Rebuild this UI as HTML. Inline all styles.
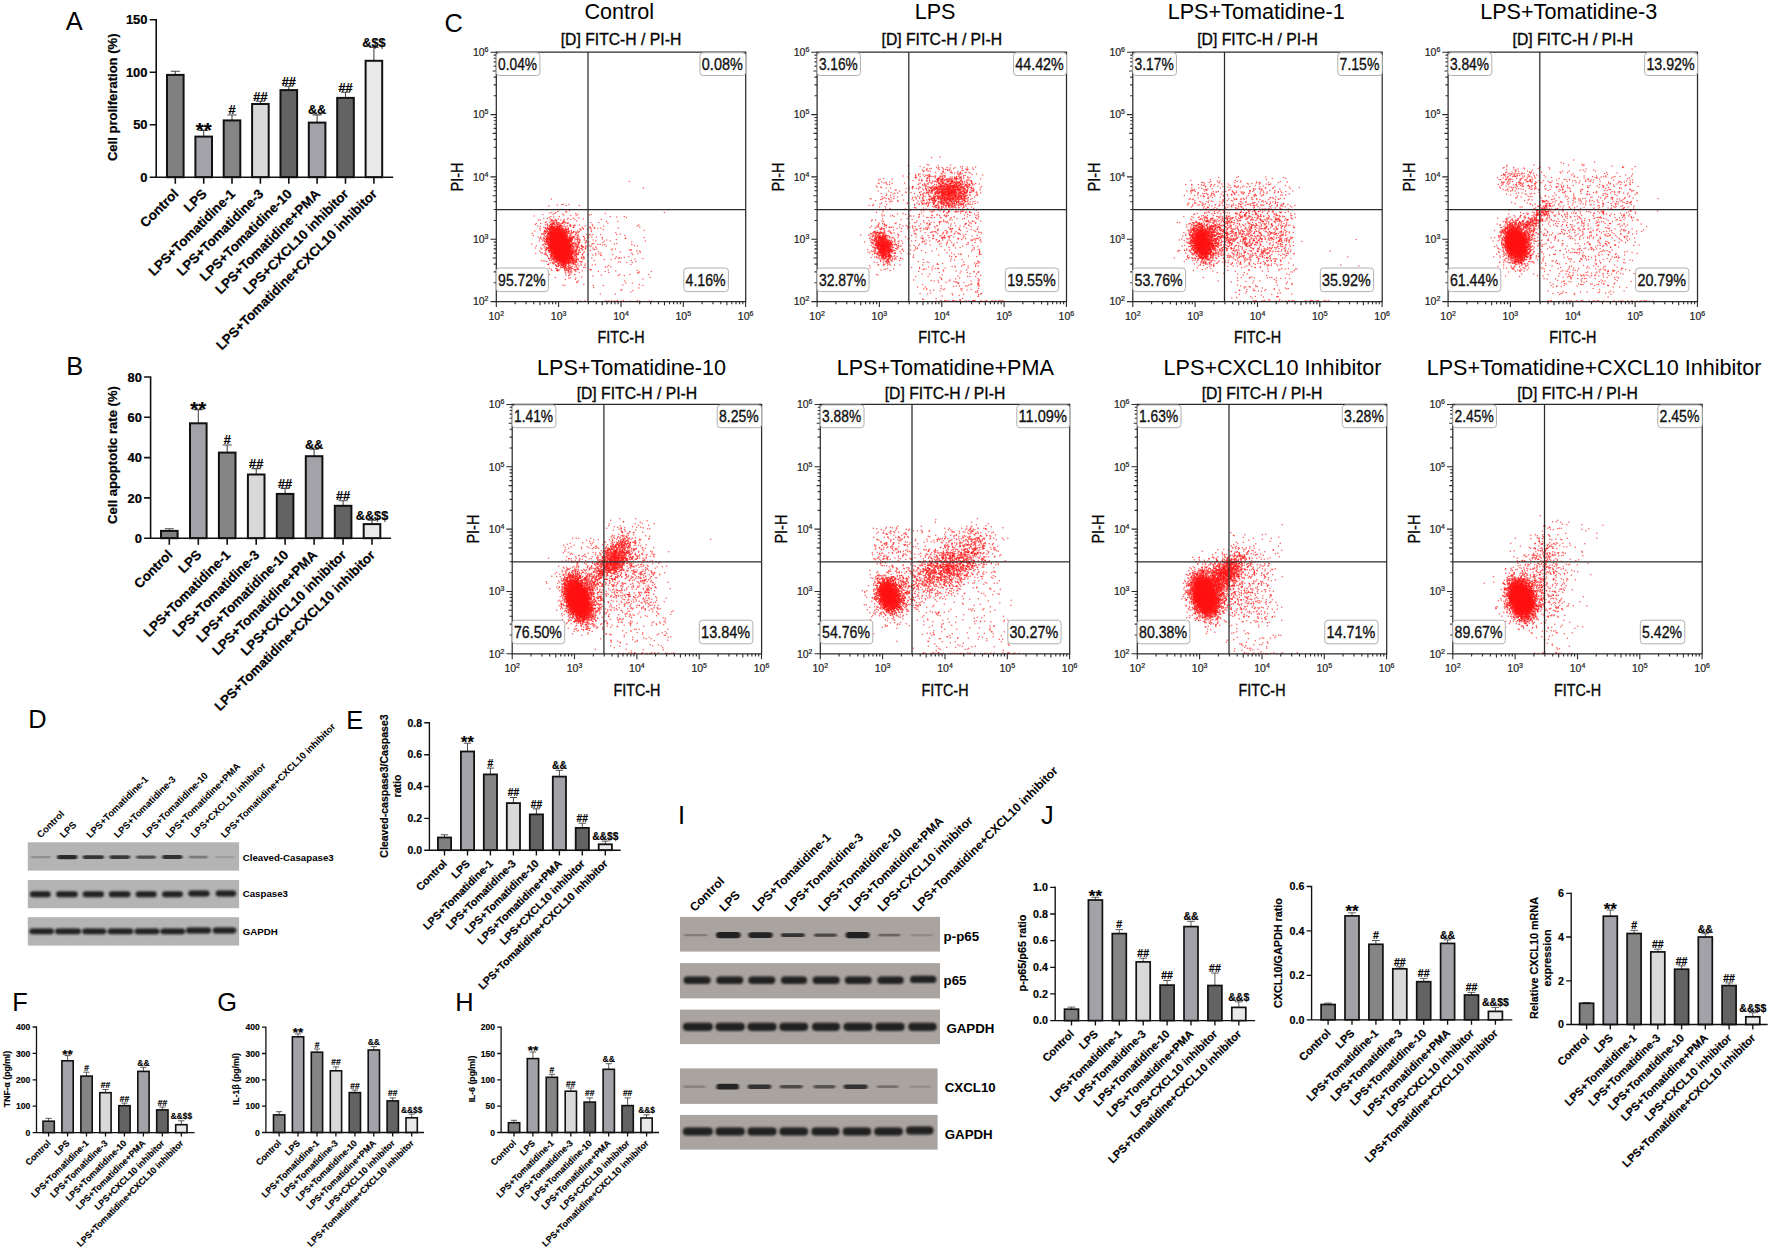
<!DOCTYPE html>
<html><head><meta charset="utf-8"><title>Figure</title>
<style>html,body{margin:0;padding:0;background:#fff}svg{display:block}text{font-family:"Liberation Sans", Arial, Helvetica, sans-serif}.bc text{stroke:#000}</style></head><body>
<svg width="1772" height="1251" viewBox="0 0 1772 1251">
<defs>
<filter id="bl" x="-20%" y="-50%" width="140%" height="200%"><feGaussianBlur stdDeviation="1.1 0.8"/></filter>
<filter id="bl2" x="-20%" y="-80%" width="140%" height="260%"><feGaussianBlur stdDeviation="1.3 0.7"/></filter>
<filter id="core" x="-50%" y="-50%" width="200%" height="200%"><feGaussianBlur stdDeviation="2"/></filter>
<filter id="soft"><feGaussianBlur stdDeviation="0.35"/></filter>
</defs>
<rect width="1772" height="1251" fill="#fff"/>

<text x="65.8" y="30.4" font-size="25.4">A</text>
<text x="66.2" y="375" font-size="25.4">B</text>
<text x="444.6" y="31.8" font-size="25.4">C</text>
<text x="28.3" y="728.4" font-size="25.4">D</text>
<text x="346.3" y="728.5" font-size="25.4">E</text>
<text x="12.2" y="1011.4" font-size="25.4">F</text>
<text x="217.3" y="1011.4" font-size="25.4">G</text>
<text x="455.2" y="1011.4" font-size="25.4">H</text>
<text x="678" y="823.8" font-size="25.4">I</text>
<text x="1041" y="824.2" font-size="25.4">J</text>
<g class="bc" stroke-width="0.22">
<path d="M175.3 74.9V71.3M170.7 71.3H179.9" stroke="#4a4a4a" stroke-width="1.1" fill="none"/>
<rect x="167" y="74.9" width="16.6" height="102.3" fill="#808080" stroke="#111" stroke-width="2"/>
<path d="M203.7 136.6V130.5M199.1 130.5H208.2" stroke="#4a4a4a" stroke-width="1.1" fill="none"/>
<rect x="195.4" y="136.6" width="16.6" height="40.6" fill="#a3a2a8" stroke="#111" stroke-width="2"/>
<text x="203.7" y="136.6" font-size="20.368000000000002" font-weight="bold" text-anchor="middle">**</text>
<path d="M232 120.4V115M227.5 115H236.6" stroke="#4a4a4a" stroke-width="1.1" fill="none"/>
<rect x="223.7" y="120.4" width="16.6" height="56.8" fill="#858585" stroke="#111" stroke-width="2"/>
<text x="232" y="114.3" font-size="12.73" font-weight="bold" text-anchor="middle">#</text>
<path d="M260.4 104V101.2M255.8 101.2H265" stroke="#4a4a4a" stroke-width="1.1" fill="none"/>
<rect x="252.1" y="104" width="16.6" height="73.2" fill="#d9d9d9" stroke="#111" stroke-width="2"/>
<text x="260.4" y="100.5" font-size="12.73" font-weight="bold" text-anchor="middle">##</text>
<path d="M288.8 90.1V86.3M284.2 86.3H293.3" stroke="#4a4a4a" stroke-width="1.1" fill="none"/>
<rect x="280.5" y="90.1" width="16.6" height="87.1" fill="#636363" stroke="#111" stroke-width="2"/>
<text x="288.8" y="85.6" font-size="12.73" font-weight="bold" text-anchor="middle">##</text>
<path d="M317.1 122.6V114.9M312.6 114.9H321.7" stroke="#4a4a4a" stroke-width="1.1" fill="none"/>
<rect x="308.8" y="122.6" width="16.6" height="54.6" fill="#a3a2a8" stroke="#111" stroke-width="2"/>
<text x="317.1" y="114.2" font-size="12.73" font-weight="bold" text-anchor="middle">&amp;&amp;</text>
<path d="M345.5 97.9V92.2M341 92.2H350.1" stroke="#4a4a4a" stroke-width="1.1" fill="none"/>
<rect x="337.2" y="97.9" width="16.6" height="79.3" fill="#636363" stroke="#111" stroke-width="2"/>
<text x="345.5" y="91.5" font-size="12.73" font-weight="bold" text-anchor="middle">##</text>
<path d="M373.9 60.8V47.4M369.3 47.4H378.5" stroke="#4a4a4a" stroke-width="1.1" fill="none"/>
<rect x="365.6" y="60.8" width="16.6" height="116.4" fill="#e9e9e9" stroke="#111" stroke-width="2"/>
<text x="373.9" y="46.7" font-size="12.73" font-weight="bold" text-anchor="middle">&amp;$$</text>
<path d="M156.2 19V177.2M149.7 177.2H393.2M149.7 124.7H156.2M149.7 72.3H156.2M149.7 19.8H156.2M175.3 177.2v6.5M203.7 177.2v6.5M232 177.2v6.5M260.4 177.2v6.5M288.8 177.2v6.5M317.1 177.2v6.5M345.5 177.2v6.5M373.9 177.2v6.5" stroke="#111" stroke-width="1.6" fill="none"/>
<text x="147.5" y="181.8" font-size="12.931" font-weight="bold" text-anchor="end">0</text>
<text x="147.5" y="129.4" font-size="12.931" font-weight="bold" text-anchor="end">50</text>
<text x="147.5" y="76.9" font-size="12.931" font-weight="bold" text-anchor="end">100</text>
<text x="147.5" y="24.4" font-size="12.931" font-weight="bold" text-anchor="end">150</text>
<text x="117" y="97.3" font-size="13.065" font-weight="bold" text-anchor="middle" transform="rotate(-90 117 97.3)">Cell proliferation (%)</text>
<text x="179.3" y="194.7" font-size="13.4" font-weight="bold" text-anchor="end" transform="rotate(-45 179.3 194.7)">Control</text>
<text x="207.7" y="194.7" font-size="13.4" font-weight="bold" text-anchor="end" transform="rotate(-45 207.7 194.7)">LPS</text>
<text x="236.1" y="194.7" font-size="13.4" font-weight="bold" text-anchor="end" transform="rotate(-45 236.1 194.7)">LPS+Tomatidine-1</text>
<text x="264.4" y="194.7" font-size="13.4" font-weight="bold" text-anchor="end" transform="rotate(-45 264.4 194.7)">LPS+Tomatidine-3</text>
<text x="292.8" y="194.7" font-size="13.4" font-weight="bold" text-anchor="end" transform="rotate(-45 292.8 194.7)">LPS+Tomatidine-10</text>
<text x="321.2" y="194.7" font-size="13.4" font-weight="bold" text-anchor="end" transform="rotate(-45 321.2 194.7)">LPS+Tomatidine+PMA</text>
<text x="349.5" y="194.7" font-size="13.4" font-weight="bold" text-anchor="end" transform="rotate(-45 349.5 194.7)">LPS+CXCL10 inhibitor</text>
<text x="377.9" y="194.7" font-size="13.4" font-weight="bold" text-anchor="end" transform="rotate(-45 377.9 194.7)">LPS+Tomatidine+CXCL10 inhibitor</text>
</g>
<g class="bc" stroke-width="0.22">
<path d="M169.3 530.9V528.7M164.7 528.7H173.9" stroke="#4a4a4a" stroke-width="1.1" fill="none"/>
<rect x="161" y="530.9" width="16.6" height="7.3" fill="#808080" stroke="#111" stroke-width="2"/>
<path d="M198.3 423.3V409.6M193.7 409.6H202.8" stroke="#4a4a4a" stroke-width="1.1" fill="none"/>
<rect x="190" y="423.3" width="16.6" height="114.9" fill="#a3a2a8" stroke="#111" stroke-width="2"/>
<text x="198.3" y="415.7" font-size="20.368000000000002" font-weight="bold" text-anchor="middle">**</text>
<path d="M227.2 452.6V445M222.7 445H231.8" stroke="#4a4a4a" stroke-width="1.1" fill="none"/>
<rect x="218.9" y="452.6" width="16.6" height="85.6" fill="#858585" stroke="#111" stroke-width="2"/>
<text x="227.2" y="444.3" font-size="12.73" font-weight="bold" text-anchor="middle">#</text>
<path d="M256.2 474.5V468.6M251.6 468.6H260.7" stroke="#4a4a4a" stroke-width="1.1" fill="none"/>
<rect x="247.9" y="474.5" width="16.6" height="63.7" fill="#d9d9d9" stroke="#111" stroke-width="2"/>
<text x="256.2" y="467.9" font-size="12.73" font-weight="bold" text-anchor="middle">##</text>
<path d="M285.1 493.9V488.4M280.6 488.4H289.7" stroke="#4a4a4a" stroke-width="1.1" fill="none"/>
<rect x="276.8" y="493.9" width="16.6" height="44.3" fill="#636363" stroke="#111" stroke-width="2"/>
<text x="285.1" y="487.7" font-size="12.73" font-weight="bold" text-anchor="middle">##</text>
<path d="M314.1 456.2V449.3M309.5 449.3H318.7" stroke="#4a4a4a" stroke-width="1.1" fill="none"/>
<rect x="305.8" y="456.2" width="16.6" height="82" fill="#a3a2a8" stroke="#111" stroke-width="2"/>
<text x="314.1" y="448.6" font-size="12.73" font-weight="bold" text-anchor="middle">&amp;&amp;</text>
<path d="M343.1 505.8V500.8M338.5 500.8H347.6" stroke="#4a4a4a" stroke-width="1.1" fill="none"/>
<rect x="334.8" y="505.8" width="16.6" height="32.4" fill="#636363" stroke="#111" stroke-width="2"/>
<text x="343.1" y="500.1" font-size="12.73" font-weight="bold" text-anchor="middle">##</text>
<path d="M372 524.1V520.2M367.5 520.2H376.6" stroke="#4a4a4a" stroke-width="1.1" fill="none"/>
<rect x="363.7" y="524.1" width="16.6" height="14.1" fill="#e9e9e9" stroke="#111" stroke-width="2"/>
<text x="372" y="519.5" font-size="12.73" font-weight="bold" text-anchor="middle">&amp;&amp;$$</text>
<path d="M150.6 376.2V538.2M144.1 538.2H391M144.1 497.9H150.6M144.1 457.6H150.6M144.1 417.3H150.6M144.1 377H150.6M169.3 538.2v6.5M198.3 538.2v6.5M227.2 538.2v6.5M256.2 538.2v6.5M285.1 538.2v6.5M314.1 538.2v6.5M343.1 538.2v6.5M372 538.2v6.5" stroke="#111" stroke-width="1.6" fill="none"/>
<text x="141.9" y="542.8" font-size="12.931" font-weight="bold" text-anchor="end">0</text>
<text x="141.9" y="502.5" font-size="12.931" font-weight="bold" text-anchor="end">20</text>
<text x="141.9" y="462.2" font-size="12.931" font-weight="bold" text-anchor="end">40</text>
<text x="141.9" y="421.9" font-size="12.931" font-weight="bold" text-anchor="end">60</text>
<text x="141.9" y="381.6" font-size="12.931" font-weight="bold" text-anchor="end">80</text>
<text x="117.3" y="455" font-size="13.065" font-weight="bold" text-anchor="middle" transform="rotate(-90 117.3 455)">Cell apoptotic rate (%)</text>
<text x="173.3" y="555.7" font-size="13.4" font-weight="bold" text-anchor="end" transform="rotate(-45 173.3 555.7)">Control</text>
<text x="202.3" y="555.7" font-size="13.4" font-weight="bold" text-anchor="end" transform="rotate(-45 202.3 555.7)">LPS</text>
<text x="231.2" y="555.7" font-size="13.4" font-weight="bold" text-anchor="end" transform="rotate(-45 231.2 555.7)">LPS+Tomatidine-1</text>
<text x="260.2" y="555.7" font-size="13.4" font-weight="bold" text-anchor="end" transform="rotate(-45 260.2 555.7)">LPS+Tomatidine-3</text>
<text x="289.2" y="555.7" font-size="13.4" font-weight="bold" text-anchor="end" transform="rotate(-45 289.2 555.7)">LPS+Tomatidine-10</text>
<text x="318.1" y="555.7" font-size="13.4" font-weight="bold" text-anchor="end" transform="rotate(-45 318.1 555.7)">LPS+Tomatidine+PMA</text>
<text x="347.1" y="555.7" font-size="13.4" font-weight="bold" text-anchor="end" transform="rotate(-45 347.1 555.7)">LPS+CXCL10 inhibitor</text>
<text x="376" y="555.7" font-size="13.4" font-weight="bold" text-anchor="end" transform="rotate(-45 376 555.7)">LPS+Tomatidine+CXCL10 inhibitor</text>
</g>
<g class="bc" stroke-width="0.18">
<path d="M444.5 837.5V834.8M440.9 834.8H448.1" stroke="#4a4a4a" stroke-width="1" fill="none"/>
<rect x="437.9" y="837.5" width="13.2" height="12.7" fill="#808080" stroke="#111" stroke-width="1.8"/>
<path d="M467.5 751.5V743.2M463.8 743.2H471.1" stroke="#4a4a4a" stroke-width="1" fill="none"/>
<rect x="460.9" y="751.5" width="13.2" height="98.7" fill="#a3a2a8" stroke="#111" stroke-width="1.8"/>
<text x="467.5" y="747.7" font-size="16.416" font-weight="bold" text-anchor="middle">**</text>
<path d="M490.4 774.4V768.1M486.8 768.1H494.1" stroke="#4a4a4a" stroke-width="1" fill="none"/>
<rect x="483.8" y="774.4" width="13.2" height="75.8" fill="#858585" stroke="#111" stroke-width="1.8"/>
<text x="490.4" y="766.9" font-size="10.26" font-weight="bold" text-anchor="middle">#</text>
<path d="M513.4 803.1V797.5M509.8 797.5H517" stroke="#4a4a4a" stroke-width="1" fill="none"/>
<rect x="506.8" y="803.1" width="13.2" height="47.1" fill="#d9d9d9" stroke="#111" stroke-width="1.8"/>
<text x="513.4" y="796.3" font-size="10.26" font-weight="bold" text-anchor="middle">##</text>
<path d="M536.4 814.4V808.8M532.8 808.8H540" stroke="#4a4a4a" stroke-width="1" fill="none"/>
<rect x="529.8" y="814.4" width="13.2" height="35.8" fill="#636363" stroke="#111" stroke-width="1.8"/>
<text x="536.4" y="807.6" font-size="10.26" font-weight="bold" text-anchor="middle">##</text>
<path d="M559.4 776.6V770.3M555.7 770.3H563" stroke="#4a4a4a" stroke-width="1" fill="none"/>
<rect x="552.8" y="776.6" width="13.2" height="73.6" fill="#a3a2a8" stroke="#111" stroke-width="1.8"/>
<text x="559.4" y="769.1" font-size="10.26" font-weight="bold" text-anchor="middle">&amp;&amp;</text>
<path d="M582.3 827.9V823.2M578.7 823.2H585.9" stroke="#4a4a4a" stroke-width="1" fill="none"/>
<rect x="575.7" y="827.9" width="13.2" height="22.3" fill="#636363" stroke="#111" stroke-width="1.8"/>
<text x="582.3" y="822" font-size="10.26" font-weight="bold" text-anchor="middle">##</text>
<path d="M605.3 844.3V841.1M601.7 841.1H608.9" stroke="#4a4a4a" stroke-width="1" fill="none"/>
<rect x="598.7" y="844.3" width="13.2" height="5.9" fill="#e9e9e9" stroke="#111" stroke-width="1.8"/>
<text x="605.3" y="839.9" font-size="10.26" font-weight="bold" text-anchor="middle">&amp;&amp;$$</text>
<path d="M429.4 722.1V850.2M424.2 850.2H620.7M424.2 818.4H429.4M424.2 786.5H429.4M424.2 754.7H429.4M424.2 722.8H429.4M444.5 850.2v5.2M467.5 850.2v5.2M490.4 850.2v5.2M513.4 850.2v5.2M536.4 850.2v5.2M559.4 850.2v5.2M582.3 850.2v5.2M605.3 850.2v5.2" stroke="#111" stroke-width="1.4" fill="none"/>
<text x="422" y="853.9" font-size="10.422" font-weight="bold" text-anchor="end">0.0</text>
<text x="422" y="822.1" font-size="10.422" font-weight="bold" text-anchor="end">0.2</text>
<text x="422" y="790.2" font-size="10.422" font-weight="bold" text-anchor="end">0.4</text>
<text x="422" y="758.4" font-size="10.422" font-weight="bold" text-anchor="end">0.6</text>
<text x="422" y="726.5" font-size="10.422" font-weight="bold" text-anchor="end">0.8</text>
<text x="388" y="786" font-size="10.530000000000001" font-weight="bold" text-anchor="middle" transform="rotate(-90 388 786)">Cleaved-caspase3/Caspase3</text>
<text x="400.5" y="786" font-size="10.530000000000001" font-weight="bold" text-anchor="middle" transform="rotate(-90 400.5 786)">ratio</text>
<text x="447.7" y="864.3" font-size="10.8" font-weight="bold" text-anchor="end" transform="rotate(-45 447.7 864.3)">Control</text>
<text x="470.7" y="864.3" font-size="10.8" font-weight="bold" text-anchor="end" transform="rotate(-45 470.7 864.3)">LPS</text>
<text x="493.7" y="864.3" font-size="10.8" font-weight="bold" text-anchor="end" transform="rotate(-45 493.7 864.3)">LPS+Tomatidine-1</text>
<text x="516.6" y="864.3" font-size="10.8" font-weight="bold" text-anchor="end" transform="rotate(-45 516.6 864.3)">LPS+Tomatidine-3</text>
<text x="539.6" y="864.3" font-size="10.8" font-weight="bold" text-anchor="end" transform="rotate(-45 539.6 864.3)">LPS+Tomatidine-10</text>
<text x="562.6" y="864.3" font-size="10.8" font-weight="bold" text-anchor="end" transform="rotate(-45 562.6 864.3)">LPS+Tomatidine+PMA</text>
<text x="585.6" y="864.3" font-size="10.8" font-weight="bold" text-anchor="end" transform="rotate(-45 585.6 864.3)">LPS+CXCL10 inhibitor</text>
<text x="608.5" y="864.3" font-size="10.8" font-weight="bold" text-anchor="end" transform="rotate(-45 608.5 864.3)">LPS+Tomatidine+CXCL10 inhibitor</text>
</g>
<g class="bc" stroke-width="0.15">
<path d="M48.6 1121.2V1118.4M45.5 1118.4H51.7" stroke="#4a4a4a" stroke-width="0.9" fill="none"/>
<rect x="43" y="1121.2" width="11.3" height="11.4" fill="#808080" stroke="#111" stroke-width="1.6"/>
<path d="M67.6 1060.8V1055.6M64.5 1055.6H70.7" stroke="#4a4a4a" stroke-width="0.9" fill="none"/>
<rect x="61.9" y="1060.8" width="11.3" height="71.8" fill="#a3a2a8" stroke="#111" stroke-width="1.6"/>
<text x="67.6" y="1058.9" font-size="13.528" font-weight="bold" text-anchor="middle">**</text>
<path d="M86.5 1076.1V1072.2M83.4 1072.2H89.6" stroke="#4a4a4a" stroke-width="0.9" fill="none"/>
<rect x="80.9" y="1076.1" width="11.3" height="56.5" fill="#858585" stroke="#111" stroke-width="1.6"/>
<text x="86.5" y="1070.7" font-size="8.455" font-weight="bold" text-anchor="middle">#</text>
<path d="M105.5 1092.7V1089.5M102.4 1089.5H108.6" stroke="#4a4a4a" stroke-width="0.9" fill="none"/>
<rect x="99.8" y="1092.7" width="11.3" height="39.9" fill="#d9d9d9" stroke="#111" stroke-width="1.6"/>
<text x="105.5" y="1088" font-size="8.455" font-weight="bold" text-anchor="middle">##</text>
<path d="M124.4 1105.7V1103.1M121.3 1103.1H127.5" stroke="#4a4a4a" stroke-width="0.9" fill="none"/>
<rect x="118.8" y="1105.7" width="11.3" height="26.9" fill="#636363" stroke="#111" stroke-width="1.6"/>
<text x="124.4" y="1101.6" font-size="8.455" font-weight="bold" text-anchor="middle">##</text>
<path d="M143.4 1071.4V1067.3M140.3 1067.3H146.5" stroke="#4a4a4a" stroke-width="0.9" fill="none"/>
<rect x="137.8" y="1071.4" width="11.3" height="61.2" fill="#a3a2a8" stroke="#111" stroke-width="1.6"/>
<text x="143.4" y="1065.8" font-size="8.455" font-weight="bold" text-anchor="middle">&amp;&amp;</text>
<path d="M162.4 1109.9V1107.1M159.3 1107.1H165.5" stroke="#4a4a4a" stroke-width="0.9" fill="none"/>
<rect x="156.7" y="1109.9" width="11.3" height="22.7" fill="#636363" stroke="#111" stroke-width="1.6"/>
<text x="162.4" y="1105.6" font-size="8.455" font-weight="bold" text-anchor="middle">##</text>
<path d="M181.3 1124.7V1120.8M178.2 1120.8H184.4" stroke="#4a4a4a" stroke-width="0.9" fill="none"/>
<rect x="175.7" y="1124.7" width="11.3" height="7.9" fill="#e9e9e9" stroke="#111" stroke-width="1.6"/>
<text x="181.3" y="1119.3" font-size="8.455" font-weight="bold" text-anchor="middle">&amp;&amp;$$</text>
<path d="M36.5 1026.3V1132.6M32.6 1132.6H194.6M32.6 1106.2H36.5M32.6 1079.8H36.5M32.6 1053.4H36.5M32.6 1027H36.5M48.6 1132.6v3.9M67.6 1132.6v3.9M86.5 1132.6v3.9M105.5 1132.6v3.9M124.4 1132.6v3.9M143.4 1132.6v3.9M162.4 1132.6v3.9M181.3 1132.6v3.9" stroke="#111" stroke-width="1.3" fill="none"/>
<text x="30.4" y="1135.7" font-size="8.5885" font-weight="bold" text-anchor="end">0</text>
<text x="30.4" y="1109.3" font-size="8.5885" font-weight="bold" text-anchor="end">100</text>
<text x="30.4" y="1082.9" font-size="8.5885" font-weight="bold" text-anchor="end">200</text>
<text x="30.4" y="1056.5" font-size="8.5885" font-weight="bold" text-anchor="end">300</text>
<text x="30.4" y="1030.1" font-size="8.5885" font-weight="bold" text-anchor="end">400</text>
<text x="10.1" y="1079" font-size="8.6775" font-weight="bold" text-anchor="middle" transform="rotate(-90 10.1 1079)">TNF-α (pg/ml)</text>
<text x="51.3" y="1143.8" font-size="8.9" font-weight="bold" text-anchor="end" transform="rotate(-45 51.3 1143.8)">Control</text>
<text x="70.2" y="1143.8" font-size="8.9" font-weight="bold" text-anchor="end" transform="rotate(-45 70.2 1143.8)">LPS</text>
<text x="89.2" y="1143.8" font-size="8.9" font-weight="bold" text-anchor="end" transform="rotate(-45 89.2 1143.8)">LPS+Tomatidine-1</text>
<text x="108.2" y="1143.8" font-size="8.9" font-weight="bold" text-anchor="end" transform="rotate(-45 108.2 1143.8)">LPS+Tomatidine-3</text>
<text x="127.1" y="1143.8" font-size="8.9" font-weight="bold" text-anchor="end" transform="rotate(-45 127.1 1143.8)">LPS+Tomatidine-10</text>
<text x="146.1" y="1143.8" font-size="8.9" font-weight="bold" text-anchor="end" transform="rotate(-45 146.1 1143.8)">LPS+Tomatidine+PMA</text>
<text x="165" y="1143.8" font-size="8.9" font-weight="bold" text-anchor="end" transform="rotate(-45 165 1143.8)">LPS+CXCL10 inhibitor</text>
<text x="184" y="1143.8" font-size="8.9" font-weight="bold" text-anchor="end" transform="rotate(-45 184 1143.8)">LPS+Tomatidine+CXCL10 inhibitor</text>
</g>
<g class="bc" stroke-width="0.15">
<path d="M279.1 1114.9V1111.7M276 1111.7H282.2" stroke="#4a4a4a" stroke-width="0.9" fill="none"/>
<rect x="273.5" y="1114.9" width="11.3" height="17.6" fill="#808080" stroke="#111" stroke-width="1.6"/>
<path d="M298 1036.8V1033.9M294.9 1033.9H301.1" stroke="#4a4a4a" stroke-width="0.9" fill="none"/>
<rect x="292.4" y="1036.8" width="11.3" height="95.7" fill="#a3a2a8" stroke="#111" stroke-width="1.6"/>
<text x="298" y="1037.2" font-size="13.528" font-weight="bold" text-anchor="middle">**</text>
<path d="M317 1052.2V1049M313.9 1049H320.1" stroke="#4a4a4a" stroke-width="0.9" fill="none"/>
<rect x="311.3" y="1052.2" width="11.3" height="80.3" fill="#858585" stroke="#111" stroke-width="1.6"/>
<text x="317" y="1047.5" font-size="8.455" font-weight="bold" text-anchor="middle">#</text>
<path d="M335.9 1070.8V1066.9M332.8 1066.9H339" stroke="#4a4a4a" stroke-width="0.9" fill="none"/>
<rect x="330.3" y="1070.8" width="11.3" height="61.7" fill="#d9d9d9" stroke="#111" stroke-width="1.6"/>
<text x="335.9" y="1065.4" font-size="8.455" font-weight="bold" text-anchor="middle">##</text>
<path d="M354.9 1092.6V1090M351.8 1090H358" stroke="#4a4a4a" stroke-width="0.9" fill="none"/>
<rect x="349.2" y="1092.6" width="11.3" height="39.9" fill="#636363" stroke="#111" stroke-width="1.6"/>
<text x="354.9" y="1088.5" font-size="8.455" font-weight="bold" text-anchor="middle">##</text>
<path d="M373.8 1050V1046.6M370.7 1046.6H376.9" stroke="#4a4a4a" stroke-width="0.9" fill="none"/>
<rect x="368.2" y="1050" width="11.3" height="82.5" fill="#a3a2a8" stroke="#111" stroke-width="1.6"/>
<text x="373.8" y="1045.1" font-size="8.455" font-weight="bold" text-anchor="middle">&amp;&amp;</text>
<path d="M392.7 1100.9V1097.9M389.6 1097.9H395.8" stroke="#4a4a4a" stroke-width="0.9" fill="none"/>
<rect x="387.1" y="1100.9" width="11.3" height="31.6" fill="#636363" stroke="#111" stroke-width="1.6"/>
<text x="392.7" y="1096.4" font-size="8.455" font-weight="bold" text-anchor="middle">##</text>
<path d="M411.7 1117.8V1114.1M408.6 1114.1H414.8" stroke="#4a4a4a" stroke-width="0.9" fill="none"/>
<rect x="406" y="1117.8" width="11.3" height="14.7" fill="#e9e9e9" stroke="#111" stroke-width="1.6"/>
<text x="411.7" y="1112.6" font-size="8.455" font-weight="bold" text-anchor="middle">&amp;&amp;$$</text>
<path d="M265.9 1026.5V1132.5M262 1132.5H424.1M262 1106.2H265.9M262 1079.8H265.9M262 1053.5H265.9M262 1027.2H265.9M279.1 1132.5v3.9M298 1132.5v3.9M317 1132.5v3.9M335.9 1132.5v3.9M354.9 1132.5v3.9M373.8 1132.5v3.9M392.7 1132.5v3.9M411.7 1132.5v3.9" stroke="#111" stroke-width="1.3" fill="none"/>
<text x="259.8" y="1135.6" font-size="8.5885" font-weight="bold" text-anchor="end">0</text>
<text x="259.8" y="1109.2" font-size="8.5885" font-weight="bold" text-anchor="end">100</text>
<text x="259.8" y="1082.9" font-size="8.5885" font-weight="bold" text-anchor="end">200</text>
<text x="259.8" y="1056.6" font-size="8.5885" font-weight="bold" text-anchor="end">300</text>
<text x="259.8" y="1030.3" font-size="8.5885" font-weight="bold" text-anchor="end">400</text>
<text x="239.3" y="1079" font-size="8.6775" font-weight="bold" text-anchor="middle" transform="rotate(-90 239.3 1079)">IL-1β (pg/ml)</text>
<text x="281.8" y="1143.7" font-size="8.9" font-weight="bold" text-anchor="end" transform="rotate(-45 281.8 1143.7)">Control</text>
<text x="300.7" y="1143.7" font-size="8.9" font-weight="bold" text-anchor="end" transform="rotate(-45 300.7 1143.7)">LPS</text>
<text x="319.7" y="1143.7" font-size="8.9" font-weight="bold" text-anchor="end" transform="rotate(-45 319.7 1143.7)">LPS+Tomatidine-1</text>
<text x="338.6" y="1143.7" font-size="8.9" font-weight="bold" text-anchor="end" transform="rotate(-45 338.6 1143.7)">LPS+Tomatidine-3</text>
<text x="357.5" y="1143.7" font-size="8.9" font-weight="bold" text-anchor="end" transform="rotate(-45 357.5 1143.7)">LPS+Tomatidine-10</text>
<text x="376.5" y="1143.7" font-size="8.9" font-weight="bold" text-anchor="end" transform="rotate(-45 376.5 1143.7)">LPS+Tomatidine+PMA</text>
<text x="395.4" y="1143.7" font-size="8.9" font-weight="bold" text-anchor="end" transform="rotate(-45 395.4 1143.7)">LPS+CXCL10 inhibitor</text>
<text x="414.4" y="1143.7" font-size="8.9" font-weight="bold" text-anchor="end" transform="rotate(-45 414.4 1143.7)">LPS+Tomatidine+CXCL10 inhibitor</text>
</g>
<g class="bc" stroke-width="0.15">
<path d="M514 1122.7V1120.3M510.9 1120.3H517.1" stroke="#4a4a4a" stroke-width="0.9" fill="none"/>
<rect x="508.4" y="1122.7" width="11.3" height="9.8" fill="#808080" stroke="#111" stroke-width="1.6"/>
<path d="M532.9 1058.6V1052M529.8 1052H536" stroke="#4a4a4a" stroke-width="0.9" fill="none"/>
<rect x="527.3" y="1058.6" width="11.3" height="73.9" fill="#a3a2a8" stroke="#111" stroke-width="1.6"/>
<text x="532.9" y="1055.3" font-size="13.528" font-weight="bold" text-anchor="middle">**</text>
<path d="M551.9 1077.3V1074.3M548.8 1074.3H555" stroke="#4a4a4a" stroke-width="0.9" fill="none"/>
<rect x="546.2" y="1077.3" width="11.3" height="55.2" fill="#858585" stroke="#111" stroke-width="1.6"/>
<text x="551.9" y="1072.8" font-size="8.455" font-weight="bold" text-anchor="middle">#</text>
<path d="M570.8 1091.2V1088M567.7 1088H573.9" stroke="#4a4a4a" stroke-width="0.9" fill="none"/>
<rect x="565.2" y="1091.2" width="11.3" height="41.3" fill="#d9d9d9" stroke="#111" stroke-width="1.6"/>
<text x="570.8" y="1086.5" font-size="8.455" font-weight="bold" text-anchor="middle">##</text>
<path d="M589.8 1102.1V1097.9M586.7 1097.9H592.9" stroke="#4a4a4a" stroke-width="0.9" fill="none"/>
<rect x="584.1" y="1102.1" width="11.3" height="30.4" fill="#636363" stroke="#111" stroke-width="1.6"/>
<text x="589.8" y="1096.4" font-size="8.455" font-weight="bold" text-anchor="middle">##</text>
<path d="M608.7 1069.3V1063.7M605.6 1063.7H611.8" stroke="#4a4a4a" stroke-width="0.9" fill="none"/>
<rect x="603.1" y="1069.3" width="11.3" height="63.2" fill="#a3a2a8" stroke="#111" stroke-width="1.6"/>
<text x="608.7" y="1062.2" font-size="8.455" font-weight="bold" text-anchor="middle">&amp;&amp;</text>
<path d="M627.6 1105.6V1097.9M624.5 1097.9H630.7" stroke="#4a4a4a" stroke-width="0.9" fill="none"/>
<rect x="622" y="1105.6" width="11.3" height="26.9" fill="#636363" stroke="#111" stroke-width="1.6"/>
<text x="627.6" y="1096.4" font-size="8.455" font-weight="bold" text-anchor="middle">##</text>
<path d="M646.6 1118V1114.8M643.5 1114.8H649.7" stroke="#4a4a4a" stroke-width="0.9" fill="none"/>
<rect x="640.9" y="1118" width="11.3" height="14.5" fill="#e9e9e9" stroke="#111" stroke-width="1.6"/>
<text x="646.6" y="1113.3" font-size="8.455" font-weight="bold" text-anchor="middle">&amp;&amp;$</text>
<path d="M501.1 1026.5V1132.5M497.2 1132.5H659M497.2 1106.2H501.1M497.2 1079.8H501.1M497.2 1053.5H501.1M497.2 1027.2H501.1M514 1132.5v3.9M532.9 1132.5v3.9M551.9 1132.5v3.9M570.8 1132.5v3.9M589.8 1132.5v3.9M608.7 1132.5v3.9M627.6 1132.5v3.9M646.6 1132.5v3.9" stroke="#111" stroke-width="1.3" fill="none"/>
<text x="495" y="1135.6" font-size="8.5885" font-weight="bold" text-anchor="end">0</text>
<text x="495" y="1109.2" font-size="8.5885" font-weight="bold" text-anchor="end">50</text>
<text x="495" y="1082.9" font-size="8.5885" font-weight="bold" text-anchor="end">100</text>
<text x="495" y="1056.6" font-size="8.5885" font-weight="bold" text-anchor="end">150</text>
<text x="495" y="1030.3" font-size="8.5885" font-weight="bold" text-anchor="end">200</text>
<text x="474.8" y="1079" font-size="8.6775" font-weight="bold" text-anchor="middle" transform="rotate(-90 474.8 1079)">IL-6 (pg/ml)</text>
<text x="516.7" y="1143.7" font-size="8.9" font-weight="bold" text-anchor="end" transform="rotate(-45 516.7 1143.7)">Control</text>
<text x="535.6" y="1143.7" font-size="8.9" font-weight="bold" text-anchor="end" transform="rotate(-45 535.6 1143.7)">LPS</text>
<text x="554.5" y="1143.7" font-size="8.9" font-weight="bold" text-anchor="end" transform="rotate(-45 554.5 1143.7)">LPS+Tomatidine-1</text>
<text x="573.5" y="1143.7" font-size="8.9" font-weight="bold" text-anchor="end" transform="rotate(-45 573.5 1143.7)">LPS+Tomatidine-3</text>
<text x="592.4" y="1143.7" font-size="8.9" font-weight="bold" text-anchor="end" transform="rotate(-45 592.4 1143.7)">LPS+Tomatidine-10</text>
<text x="611.4" y="1143.7" font-size="8.9" font-weight="bold" text-anchor="end" transform="rotate(-45 611.4 1143.7)">LPS+Tomatidine+PMA</text>
<text x="630.3" y="1143.7" font-size="8.9" font-weight="bold" text-anchor="end" transform="rotate(-45 630.3 1143.7)">LPS+CXCL10 inhibitor</text>
<text x="649.2" y="1143.7" font-size="8.9" font-weight="bold" text-anchor="end" transform="rotate(-45 649.2 1143.7)">LPS+Tomatidine+CXCL10 inhibitor</text>
</g>
<g class="bc" stroke-width="0.18">
<path d="M1071.5 1009.2V1007.1M1067.7 1007.1H1075.3" stroke="#4a4a4a" stroke-width="0.9" fill="none"/>
<rect x="1064.5" y="1009.2" width="14" height="11.4" fill="#808080" stroke="#111" stroke-width="1.7"/>
<path d="M1095.4 900V897.3M1091.6 897.3H1099.2" stroke="#4a4a4a" stroke-width="0.9" fill="none"/>
<rect x="1088.4" y="900" width="14" height="120.6" fill="#a3a2a8" stroke="#111" stroke-width="1.7"/>
<text x="1095.4" y="901.9" font-size="16.872" font-weight="bold" text-anchor="middle">**</text>
<path d="M1119.3 933.6V929.6M1115.5 929.6H1123.1" stroke="#4a4a4a" stroke-width="0.9" fill="none"/>
<rect x="1112.3" y="933.6" width="14" height="87" fill="#858585" stroke="#111" stroke-width="1.7"/>
<text x="1119.3" y="928.4" font-size="10.545" font-weight="bold" text-anchor="middle">#</text>
<path d="M1143.2 961.9V958.2M1139.4 958.2H1147" stroke="#4a4a4a" stroke-width="0.9" fill="none"/>
<rect x="1136.2" y="961.9" width="14" height="58.7" fill="#d9d9d9" stroke="#111" stroke-width="1.7"/>
<text x="1143.2" y="957" font-size="10.545" font-weight="bold" text-anchor="middle">##</text>
<path d="M1167.1 985.1V980.5M1163.2 980.5H1170.9" stroke="#4a4a4a" stroke-width="0.9" fill="none"/>
<rect x="1160.1" y="985.1" width="14" height="35.5" fill="#636363" stroke="#111" stroke-width="1.7"/>
<text x="1167.1" y="979.3" font-size="10.545" font-weight="bold" text-anchor="middle">##</text>
<path d="M1191 926.6V921.3M1187.2 921.3H1194.8" stroke="#4a4a4a" stroke-width="0.9" fill="none"/>
<rect x="1184" y="926.6" width="14" height="94" fill="#a3a2a8" stroke="#111" stroke-width="1.7"/>
<text x="1191" y="920.1" font-size="10.545" font-weight="bold" text-anchor="middle">&amp;&amp;</text>
<path d="M1214.9 985.5V973M1211.1 973H1218.8" stroke="#4a4a4a" stroke-width="0.9" fill="none"/>
<rect x="1207.9" y="985.5" width="14" height="35.1" fill="#636363" stroke="#111" stroke-width="1.7"/>
<text x="1214.9" y="971.8" font-size="10.545" font-weight="bold" text-anchor="middle">##</text>
<path d="M1238.8 1007.4V1001.8M1235 1001.8H1242.6" stroke="#4a4a4a" stroke-width="0.9" fill="none"/>
<rect x="1231.8" y="1007.4" width="14" height="13.2" fill="#e9e9e9" stroke="#111" stroke-width="1.7"/>
<text x="1238.8" y="1000.6" font-size="10.545" font-weight="bold" text-anchor="middle">&amp;&amp;$</text>
<path d="M1055.2 886.6V1020.6M1050.2 1020.6H1255.1M1050.2 993.9H1055.2M1050.2 967.3H1055.2M1050.2 940.6H1055.2M1050.2 914H1055.2M1050.2 887.3H1055.2M1071.5 1020.6v5M1095.4 1020.6v5M1119.3 1020.6v5M1143.2 1020.6v5M1167.1 1020.6v5M1191 1020.6v5M1214.9 1020.6v5M1238.8 1020.6v5" stroke="#111" stroke-width="1.35" fill="none"/>
<text x="1048" y="1024.4" font-size="10.7115" font-weight="bold" text-anchor="end">0.0</text>
<text x="1048" y="997.8" font-size="10.7115" font-weight="bold" text-anchor="end">0.2</text>
<text x="1048" y="971.1" font-size="10.7115" font-weight="bold" text-anchor="end">0.4</text>
<text x="1048" y="944.4" font-size="10.7115" font-weight="bold" text-anchor="end">0.6</text>
<text x="1048" y="917.8" font-size="10.7115" font-weight="bold" text-anchor="end">0.8</text>
<text x="1048" y="891.1" font-size="10.7115" font-weight="bold" text-anchor="end">1.0</text>
<text x="1026" y="953" font-size="10.8225" font-weight="bold" text-anchor="middle" transform="rotate(-90 1026 953)">p-p65/p65 ratio</text>
<text x="1074.8" y="1034.7" font-size="11.1" font-weight="bold" text-anchor="end" transform="rotate(-45 1074.8 1034.7)">Control</text>
<text x="1098.7" y="1034.7" font-size="11.1" font-weight="bold" text-anchor="end" transform="rotate(-45 1098.7 1034.7)">LPS</text>
<text x="1122.6" y="1034.7" font-size="11.1" font-weight="bold" text-anchor="end" transform="rotate(-45 1122.6 1034.7)">LPS+Tomatidine-1</text>
<text x="1146.5" y="1034.7" font-size="11.1" font-weight="bold" text-anchor="end" transform="rotate(-45 1146.5 1034.7)">LPS+Tomatidine-3</text>
<text x="1170.4" y="1034.7" font-size="11.1" font-weight="bold" text-anchor="end" transform="rotate(-45 1170.4 1034.7)">LPS+Tomatidine-10</text>
<text x="1194.3" y="1034.7" font-size="11.1" font-weight="bold" text-anchor="end" transform="rotate(-45 1194.3 1034.7)">LPS+Tomatidine+PMA</text>
<text x="1218.2" y="1034.7" font-size="11.1" font-weight="bold" text-anchor="end" transform="rotate(-45 1218.2 1034.7)">LPS+CXCL10 inhibitor</text>
<text x="1242.1" y="1034.7" font-size="11.1" font-weight="bold" text-anchor="end" transform="rotate(-45 1242.1 1034.7)">LPS+Tomatidine+CXCL10 inhibitor</text>
</g>
<g class="bc" stroke-width="0.18">
<path d="M1328.1 1004.5V1003.1M1324.2 1003.1H1331.9" stroke="#4a4a4a" stroke-width="0.9" fill="none"/>
<rect x="1321.1" y="1004.5" width="14" height="15.3" fill="#808080" stroke="#111" stroke-width="1.7"/>
<path d="M1352 915.9V912.8M1348.2 912.8H1355.8" stroke="#4a4a4a" stroke-width="0.9" fill="none"/>
<rect x="1345" y="915.9" width="14" height="103.9" fill="#a3a2a8" stroke="#111" stroke-width="1.7"/>
<text x="1352" y="917.4" font-size="16.872" font-weight="bold" text-anchor="middle">**</text>
<path d="M1375.9 944.3V940.5M1372 940.5H1379.7" stroke="#4a4a4a" stroke-width="0.9" fill="none"/>
<rect x="1368.9" y="944.3" width="14" height="75.5" fill="#858585" stroke="#111" stroke-width="1.7"/>
<text x="1375.9" y="939.3" font-size="10.545" font-weight="bold" text-anchor="middle">#</text>
<path d="M1399.8 968.8V966.8M1396 966.8H1403.6" stroke="#4a4a4a" stroke-width="0.9" fill="none"/>
<rect x="1392.8" y="968.8" width="14" height="51" fill="#d9d9d9" stroke="#111" stroke-width="1.7"/>
<text x="1399.8" y="965.6" font-size="10.545" font-weight="bold" text-anchor="middle">##</text>
<path d="M1423.7 981.7V978.4M1419.8 978.4H1427.5" stroke="#4a4a4a" stroke-width="0.9" fill="none"/>
<rect x="1416.7" y="981.7" width="14" height="38.1" fill="#636363" stroke="#111" stroke-width="1.7"/>
<text x="1423.7" y="977.2" font-size="10.545" font-weight="bold" text-anchor="middle">##</text>
<path d="M1447.6 943.4V939.9M1443.8 939.9H1451.4" stroke="#4a4a4a" stroke-width="0.9" fill="none"/>
<rect x="1440.6" y="943.4" width="14" height="76.4" fill="#a3a2a8" stroke="#111" stroke-width="1.7"/>
<text x="1447.6" y="938.7" font-size="10.545" font-weight="bold" text-anchor="middle">&amp;&amp;</text>
<path d="M1471.5 995V992.4M1467.7 992.4H1475.3" stroke="#4a4a4a" stroke-width="0.9" fill="none"/>
<rect x="1464.5" y="995" width="14" height="24.8" fill="#636363" stroke="#111" stroke-width="1.7"/>
<text x="1471.5" y="991.2" font-size="10.545" font-weight="bold" text-anchor="middle">##</text>
<path d="M1495.4 1011.4V1007.4M1491.5 1007.4H1499.2" stroke="#4a4a4a" stroke-width="0.9" fill="none"/>
<rect x="1488.4" y="1011.4" width="14" height="8.4" fill="#e9e9e9" stroke="#111" stroke-width="1.7"/>
<text x="1495.4" y="1006.2" font-size="10.545" font-weight="bold" text-anchor="middle">&amp;&amp;$$</text>
<path d="M1311.6 885.8V1019.8M1306.6 1019.8H1512.3M1306.6 975.4H1311.6M1306.6 930.9H1311.6M1306.6 886.5H1311.6M1328.1 1019.8v5M1352 1019.8v5M1375.9 1019.8v5M1399.8 1019.8v5M1423.7 1019.8v5M1447.6 1019.8v5M1471.5 1019.8v5M1495.4 1019.8v5" stroke="#111" stroke-width="1.35" fill="none"/>
<text x="1304.4" y="1023.6" font-size="10.7115" font-weight="bold" text-anchor="end">0.0</text>
<text x="1304.4" y="979.2" font-size="10.7115" font-weight="bold" text-anchor="end">0.2</text>
<text x="1304.4" y="934.7" font-size="10.7115" font-weight="bold" text-anchor="end">0.4</text>
<text x="1304.4" y="890.3" font-size="10.7115" font-weight="bold" text-anchor="end">0.6</text>
<text x="1282.2" y="953" font-size="10.8225" font-weight="bold" text-anchor="middle" transform="rotate(-90 1282.2 953)">CXCL10/GAPDH ratio</text>
<text x="1331.4" y="1033.9" font-size="11.1" font-weight="bold" text-anchor="end" transform="rotate(-45 1331.4 1033.9)">Control</text>
<text x="1355.3" y="1033.9" font-size="11.1" font-weight="bold" text-anchor="end" transform="rotate(-45 1355.3 1033.9)">LPS</text>
<text x="1379.2" y="1033.9" font-size="11.1" font-weight="bold" text-anchor="end" transform="rotate(-45 1379.2 1033.9)">LPS+Tomatidine-1</text>
<text x="1403.1" y="1033.9" font-size="11.1" font-weight="bold" text-anchor="end" transform="rotate(-45 1403.1 1033.9)">LPS+Tomatidine-3</text>
<text x="1427" y="1033.9" font-size="11.1" font-weight="bold" text-anchor="end" transform="rotate(-45 1427 1033.9)">LPS+Tomatidine-10</text>
<text x="1450.9" y="1033.9" font-size="11.1" font-weight="bold" text-anchor="end" transform="rotate(-45 1450.9 1033.9)">LPS+Tomatidine+PMA</text>
<text x="1474.8" y="1033.9" font-size="11.1" font-weight="bold" text-anchor="end" transform="rotate(-45 1474.8 1033.9)">LPS+CXCL10 inhibitor</text>
<text x="1498.7" y="1033.9" font-size="11.1" font-weight="bold" text-anchor="end" transform="rotate(-45 1498.7 1033.9)">LPS+Tomatidine+CXCL10 inhibitor</text>
</g>
<g class="bc" stroke-width="0.18">
<path d="M1586.6 1003.3V1002.5M1582.8 1002.5H1590.4" stroke="#4a4a4a" stroke-width="0.9" fill="none"/>
<rect x="1579.6" y="1003.3" width="14" height="21.2" fill="#808080" stroke="#111" stroke-width="1.7"/>
<path d="M1610.3 916.2V910M1606.5 910H1614.2" stroke="#4a4a4a" stroke-width="0.9" fill="none"/>
<rect x="1603.3" y="916.2" width="14" height="108.3" fill="#a3a2a8" stroke="#111" stroke-width="1.7"/>
<text x="1610.3" y="914.6" font-size="16.872" font-weight="bold" text-anchor="middle">**</text>
<path d="M1634.1 933.5V930.3M1630.2 930.3H1637.9" stroke="#4a4a4a" stroke-width="0.9" fill="none"/>
<rect x="1627.1" y="933.5" width="14" height="91" fill="#858585" stroke="#111" stroke-width="1.7"/>
<text x="1634.1" y="929.1" font-size="10.545" font-weight="bold" text-anchor="middle">#</text>
<path d="M1657.8 951.9V949.2M1654 949.2H1661.7" stroke="#4a4a4a" stroke-width="0.9" fill="none"/>
<rect x="1650.8" y="951.9" width="14" height="72.6" fill="#d9d9d9" stroke="#111" stroke-width="1.7"/>
<text x="1657.8" y="948" font-size="10.545" font-weight="bold" text-anchor="middle">##</text>
<path d="M1681.6 969.2V965.8M1677.8 965.8H1685.4" stroke="#4a4a4a" stroke-width="0.9" fill="none"/>
<rect x="1674.6" y="969.2" width="14" height="55.3" fill="#636363" stroke="#111" stroke-width="1.7"/>
<text x="1681.6" y="964.6" font-size="10.545" font-weight="bold" text-anchor="middle">##</text>
<path d="M1705.3 937V933.7M1701.5 933.7H1709.2" stroke="#4a4a4a" stroke-width="0.9" fill="none"/>
<rect x="1698.3" y="937" width="14" height="87.5" fill="#a3a2a8" stroke="#111" stroke-width="1.7"/>
<text x="1705.3" y="932.5" font-size="10.545" font-weight="bold" text-anchor="middle">&amp;&amp;</text>
<path d="M1729.1 985.6V982.9M1725.2 982.9H1732.9" stroke="#4a4a4a" stroke-width="0.9" fill="none"/>
<rect x="1722.1" y="985.6" width="14" height="38.9" fill="#636363" stroke="#111" stroke-width="1.7"/>
<text x="1729.1" y="981.7" font-size="10.545" font-weight="bold" text-anchor="middle">##</text>
<path d="M1752.8 1016.8V1012.7M1749 1012.7H1756.7" stroke="#4a4a4a" stroke-width="0.9" fill="none"/>
<rect x="1745.8" y="1016.8" width="14" height="7.7" fill="#e9e9e9" stroke="#111" stroke-width="1.7"/>
<text x="1752.8" y="1011.5" font-size="10.545" font-weight="bold" text-anchor="middle">&amp;&amp;$$</text>
<path d="M1571.2 892.6V1024.5M1566.2 1024.5H1767.7M1566.2 980.8H1571.2M1566.2 937H1571.2M1566.2 893.3H1571.2M1586.6 1024.5v5M1610.3 1024.5v5M1634.1 1024.5v5M1657.8 1024.5v5M1681.6 1024.5v5M1705.3 1024.5v5M1729.1 1024.5v5M1752.8 1024.5v5" stroke="#111" stroke-width="1.35" fill="none"/>
<text x="1564" y="1028.3" font-size="10.7115" font-weight="bold" text-anchor="end">0</text>
<text x="1564" y="984.6" font-size="10.7115" font-weight="bold" text-anchor="end">2</text>
<text x="1564" y="940.8" font-size="10.7115" font-weight="bold" text-anchor="end">4</text>
<text x="1564" y="897.1" font-size="10.7115" font-weight="bold" text-anchor="end">6</text>
<text x="1537.8" y="958" font-size="10.8225" font-weight="bold" text-anchor="middle" transform="rotate(-90 1537.8 958)">Relative CXCL10 mRNA</text>
<text x="1550.6" y="958" font-size="10.8225" font-weight="bold" text-anchor="middle" transform="rotate(-90 1550.6 958)">expression</text>
<text x="1589.9" y="1038.6" font-size="11.1" font-weight="bold" text-anchor="end" transform="rotate(-45 1589.9 1038.6)">Control</text>
<text x="1613.7" y="1038.6" font-size="11.1" font-weight="bold" text-anchor="end" transform="rotate(-45 1613.7 1038.6)">LPS</text>
<text x="1637.4" y="1038.6" font-size="11.1" font-weight="bold" text-anchor="end" transform="rotate(-45 1637.4 1038.6)">LPS+Tomatidine-1</text>
<text x="1661.2" y="1038.6" font-size="11.1" font-weight="bold" text-anchor="end" transform="rotate(-45 1661.2 1038.6)">LPS+Tomatidine-3</text>
<text x="1684.9" y="1038.6" font-size="11.1" font-weight="bold" text-anchor="end" transform="rotate(-45 1684.9 1038.6)">LPS+Tomatidine-10</text>
<text x="1708.7" y="1038.6" font-size="11.1" font-weight="bold" text-anchor="end" transform="rotate(-45 1708.7 1038.6)">LPS+Tomatidine+PMA</text>
<text x="1732.4" y="1038.6" font-size="11.1" font-weight="bold" text-anchor="end" transform="rotate(-45 1732.4 1038.6)">LPS+CXCL10 inhibitor</text>
<text x="1756.2" y="1038.6" font-size="11.1" font-weight="bold" text-anchor="end" transform="rotate(-45 1756.2 1038.6)">LPS+Tomatidine+CXCL10 inhibitor</text>
</g>
<text x="619.2" y="18.9" font-size="21.6" text-anchor="middle">Control</text>
<text x="621" y="45.1" font-size="16.2" text-anchor="middle" textLength="120.5" lengthAdjust="spacingAndGlyphs" stroke="#111" stroke-width="0.35">[D] FITC-H / PI-H</text>
<g transform="translate(496.3 301.6)">
<ellipse cx="63.6" cy="-55.5" rx="7" ry="13" fill="#ff0000" opacity="1" transform="rotate(-14 63.6 -55.5)" filter="url(#core)"/>
<g transform="scale(0.5)" stroke="#ff1010" stroke-opacity="0.68" stroke-width="3" stroke-linecap="round" fill="none">
<path d="M71 -115h0m12-36h0m1 22h0m4-34h0m0 13h0m0 7h0m1-13h0m0 58h0m4-15h0m1-10h0m0 71h0m1-96h0m1 9h0m0 8h0m0 24h0m2-8h0m0 17h0m1-48h0m1 9h0m0 13h0m0 3h0m1-25h0m0 14h0m0 26h0m1-34h0m0 23h0m0 25h0m1-55h0m0 29h0m0 5h0m1-33h0m0 7h0m0 25h0m0 8h0m0 5h0m1-43h0m0 9h0m0 1h0m0 5h0m0 4h0m0 18h0m1-38h0m0 7h0m0 7h0m0 1h0m0 20h0m0 25h0m1-73h0m0 7h0m0 7h0m0 13h0m0 14h0m0 3h0m0 4h0m0 2h0m1-57h0m0 16h0m0 2h0m0 6h0m0 4h0m0 2h0m0 1h0m0 7h0m0 9h0m0 2h0m0 3h0m0 4h0m0 15h0m1-50h0m0 35h0m0 3h0m1-42h0m0 8h0m0 1h0m0 2h0m0 5h0m0 9h0m0 2h0m0 6h0m0 3h0m0 30h0m1-70h0m0 3h0m0 12h0m0 3h0m0 2h0m0 1h0m0 4h0m0 2h0m0 2h0m0 6h0m0 3h0m0 2h0m0 3h0m0 2h0m0 1h0m0 2h0m0 3h0m0 10h0m1-47h0m0 3h0m0 7h0m0 3h0m0 1h0m0 5h0m0 7h0m0 1h0m0 1h0m0 5h0m0 7h0m0 5h0m1-53h0m0 2h0m0 1h0m0 2h0m0 4h0m0 8h0m0 8h0m0 5h0m0 1h0m0 5h0m0 2h0m1-66h0m0 17h0m0 1h0m0 11h0m0 2h0m0 2h0m0 1h0m0 3h0m0 8h0m0 2h0m0 3h0m0 2h0m0 3h0m0 1h0m0 2h0m0 1h0m0 4h0m0 2h0m0 2h0m0 11h0m0 3h0m0 10h0m1-65h0m0 1h0m0 9h0m0 7h0m0 1h0m0 2h0m0 5h0m0 3h0m0 1h0m0 3h0m0 2h0m0 2h0m0 1h0m0 1h0m0 2h0m0 3h0m0 11h0m0 6h0m1-74h0m0 16h0m0 2h0m0 6h0m0 2h0m0 1h0m0 2h0m0 1h0m0 3h0m0 1h0m0 3h0m0 1h0m0 2h0m0 5h0m0 4h0m0 2h0m0 1h0m0 7h0m0 7h0m0 6h0m0 1h0m1-54h0m0 8h0m0 1h0m0 4h0m0 5h0m0 2h0m0 2h0m0 7h0m0 1h0m0 1h0m0 3h0m0 7h0m0 2h0m0 3h0m0 1h0m0 3h0m0 2h0m0 7h0m1-63h0m0 1h0m0 3h0m0 1h0m0 8h0m0 3h0m0 4h0m0 1h0m0 1h0m0 3h0m0 2h0m0 1h0m0 8h0m0 1h0m0 1h0m0 1h0m0 1h0m0 1h0m0 6h0m0 1h0m0 4h0m0 8h0m1-55h0m0 5h0m0 1h0m0 3h0m0 1h0m0 2h0m0 1h0m0 2h0m0 1h0m0 1h0m0 2h0m0 3h0m0 3h0m0 1h0m0 2h0m0 2h0m0 1h0m0 2h0m0 2h0m0 4h0m0 5h0m0 1h0m0 1h0m0 3h0m0 3h0m0 2h0m0 8h0m0 1h0m1-83h0m0 5h0m0 13h0m0 1h0m0 1h0m0 4h0m0 5h0m0 1h0m0 1h0m0 3h0m0 2h0m0 1h0m0 2h0m0 1h0m0 5h0m0 2h0m0 1h0m0 1h0m0 1h0m0 1h0m0 3h0m0 3h0m0 1h0m1-36h0m0 3h0m0 8h0m0 1h0m0 1h0m0 2h0m0 3h0m0 2h0m0 3h0m0 1h0m0 2h0m0 1h0m0 1h0m0 1h0m0 1h0m0 1h0m0 1h0m0 2h0m0 2h0m0 1h0m0 2h0m0 1h0m0 2h0m0 8h0m0 10h0m0 9h0m0 5h0m1-127h0m0 36h0m0 7h0m0 4h0m0 5h0m0 2h0m0 1h0m0 1h0m0 1h0m0 5h0m0 1h0m0 1h0m0 1h0m0 3h0m0 7h0m0 1h0m0 2h0m0 2h0m0 2h0m0 1h0m0 2h0m0 2h0m0 2h0m0 1h0m0 1h0m0 3h0m0 1h0m0 1h0m0 9h0m0 1h0m1-93h0m0 34h0m0 14h0m0 2h0m0 2h0m0 7h0m0 6h0m0 1h0m0 2h0m0 2h0m0 1h0m0 2h0m0 2h0m0 2h0m0 2h0m0 1h0m0 1h0m0 1h0m0 3h0m0 3h0m0 2h0m0 1h0m0 5h0m1-59h0m0 11h0m0 1h0m0 2h0m0 1h0m0 1h0m0 2h0m0 1h0m0 1h0m0 1h0m0 2h0m0 1h0m0 2h0m0 1h0m0 1h0m0 1h0m0 1h0m0 1h0m0 2h0m0 2h0m0 1h0m0 1h0m0 1h0m0 1h0m0 3h0m0 1h0m0 1h0m0 3h0m0 3h0m0 1h0m0 1h0m0 1h0m1-60h0m0 1h0m0 12h0m0 1h0m0 3h0m0 2h0m0 2h0m0 2h0m0 1h0m0 2h0m0 1h0m0 1h0m0 1h0m0 1h0m0 3h0m0 1h0m0 1h0m0 1h0m0 4h0m0 1h0m0 1h0m0 2h0m0 1h0m0 3h0m0 4h0m0 1h0m0 1h0m0 2h0m0 1h0m0 3h0m0 4h0m0 2h0m0 1h0m1-66h0m0 7h0m0 3h0m0 3h0m0 2h0m0 1h0m0 1h0m0 1h0m0 1h0m0 2h0m0 1h0m0 2h0m0 2h0m0 1h0m0 1h0m0 2h0m0 1h0m0 1h0m0 1h0m0 1h0m0 1h0m0 1h0m0 1h0m0 1h0m0 1h0m0 2h0m0 1h0m0 1h0m0 4h0m0 1h0m0 2h0m0 2h0m0 1h0m0 2h0m0 10h0m1-68h0m0 7h0m0 2h0m0 3h0m0 1h0m0 1h0m0 1h0m0 1h0m0 2h0m0 3h0m0 1h0m0 1h0m0 2h0m0 2h0m0 1h0m0 1h0m0 2h0m0 2h0m0 1h0m0 1h0m0 1h0m0 2h0m0 1h0m0 1h0m0 1h0m0 1h0m0 2h0m0 1h0m0 1h0m0 2h0m0 1h0m0 1h0m0 3h0m0 1h0m0 1h0m0 1h0m0 1h0m0 2h0m0 3h0m0 9h0m0 2h0m1-56h0m0 5h0m0 3h0m0 2h0m0 5h0m0 2h0m0 1h0m0 1h0m0 2h0m0 1h0m0 2h0m0 6h0m0 1h0m0 1h0m0 1h0m0 1h0m0 5h0m0 1h0m0 6h0m0 9h0m1-72h0m0 16h0m0 4h0m0 3h0m0 1h0m0 3h0m0 3h0m0 1h0m0 1h0m0 1h0m0 3h0m0 1h0m0 1h0m0 1h0m0 1h0m0 1h0m0 1h0m0 1h0m0 1h0m0 1h0m0 1h0m0 2h0m0 1h0m0 2h0m0 4h0m0 1h0m0 2h0m0 2h0m0 1h0m0 1h0m1-53h0m0 3h0m0 5h0m0 6h0m0 1h0m0 6h0m0 1h0m0 1h0m0 1h0m0 1h0m0 1h0m0 2h0m0 3h0m0 1h0m0 2h0m0 2h0m0 1h0m0 1h0m0 1h0m0 1h0m0 2h0m0 2h0m0 1h0m0 2h0m0 1h0m0 2h0m0 6h0m0 1h0m0 4h0m0 3h0m0 1h0m0 1h0m1-64h0m0 14h0m0 3h0m0 1h0m0 3h0m0 1h0m0 1h0m0 1h0m0 2h0m0 1h0m0 1h0m0 1h0m0 2h0m0 2h0m0 2h0m0 2h0m0 3h0m0 1h0m0 1h0m0 1h0m0 2h0m0 2h0m0 2h0m0 1h0m0 4h0m0 1h0m0 13h0m1-65h0m0 4h0m0 3h0m0 1h0m0 1h0m0 1h0m0 2h0m0 1h0m0 1h0m0 2h0m0 4h0m0 1h0m0 1h0m0 1h0m0 5h0m0 1h0m0 1h0m0 1h0m0 6h0m0 1h0m0 1h0m0 2h0m0 1h0m0 3h0m0 9h0m0 2h0m0 1h0m0 1h0m1-77h0m0 11h0m0 11h0m0 3h0m0 1h0m0 2h0m0 4h0m0 3h0m0 1h0m0 2h0m0 1h0m0 1h0m0 2h0m0 1h0m0 1h0m0 1h0m0 1h0m0 1h0m0 2h0m0 1h0m0 1h0m0 3h0m0 1h0m0 1h0m0 2h0m0 1h0m0 1h0m0 4h0m0 1h0m0 5h0m0 3h0m0 6h0m0 6h0m0 39h0m1-111h0m0 2h0m0 4h0m0 7h0m0 2h0m0 1h0m0 7h0m0 1h0m0 2h0m0 1h0m0 1h0m0 1h0m0 1h0m0 1h0m0 1h0m0 1h0m0 1h0m0 2h0m0 2h0m0 1h0m0 1h0m0 2h0m0 3h0m0 1h0m0 2h0m0 2h0m0 4h0m0 11h0m0 8h0m1-91h0m0 32h0m0 5h0m0 4h0m0 2h0m0 1h0m0 4h0m0 4h0m0 2h0m0 2h0m0 2h0m0 1h0m0 3h0m0 2h0m0 1h0m0 1h0m0 1h0m0 3h0m0 5h0m0 1h0m0 8h0m0 3h0m1-63h0m0 1h0m0 6h0m0 1h0m0 2h0m0 2h0m0 5h0m0 5h0m0 1h0m0 1h0m0 2h0m0 1h0m0 1h0m0 2h0m0 1h0m0 2h0m0 1h0m0 1h0m0 2h0m0 1h0m0 2h0m0 2h0m0 1h0m0 1h0m0 4h0m0 1h0m0 1h0m0 5h0m0 1h0m0 1h0m0 2h0m0 10h0m0 3h0m1-92h0m0 29h0m0 4h0m0 1h0m0 1h0m0 3h0m0 3h0m0 1h0m0 3h0m0 3h0m0 4h0m0 2h0m0 1h0m0 1h0m0 3h0m0 2h0m0 1h0m0 1h0m0 33h0m1-87h0m0 3h0m0 11h0m0 5h0m0 5h0m0 1h0m0 2h0m0 2h0m0 3h0m0 1h0m0 1h0m0 3h0m0 1h0m0 3h0m0 3h0m0 1h0m0 2h0m0 2h0m0 3h0m0 2h0m0 8h0m0 2h0m0 6h0m0 4h0m0 2h0m0 1h0m0 3h0m0 10h0m1-120h0m0 37h0m0 9h0m0 1h0m0 3h0m0 4h0m0 5h0m0 3h0m0 2h0m0 2h0m0 1h0m0 1h0m0 1h0m0 1h0m0 2h0m0 1h0m0 2h0m0 6h0m0 1h0m0 1h0m0 1h0m0 2h0m0 2h0m0 3h0m0 4h0m0 5h0m1-113h0m0 65h0m0 3h0m0 3h0m0 2h0m0 2h0m0 1h0m0 4h0m0 1h0m0 1h0m0 3h0m0 1h0m0 1h0m0 1h0m0 1h0m0 1h0m0 1h0m0 1h0m0 2h0m0 1h0m0 3h0m0 2h0m0 4h0m0 6h0m1-63h0m0 5h0m0 8h0m0 6h0m0 7h0m0 1h0m0 9h0m0 2h0m0 5h0m0 4h0m0 1h0m0 5h0m0 4h0m0 1h0m0 3h0m1-41h0m0 5h0m0 2h0m0 6h0m0 2h0m0 1h0m0 5h0m0 4h0m0 1h0m0 3h0m0 1h0m0 1h0m0 2h0m0 2h0m0 3h0m1-42h0m0 6h0m0 6h0m0 3h0m0 9h0m0 1h0m0 1h0m0 1h0m0 5h0m0 1h0m0 3h0m0 1h0m0 1h0m0 3h0m0 1h0m0 4h0m0 5h0m1-69h0m0 24h0m0 1h0m0 3h0m0 1h0m0 3h0m0 5h0m0 6h0m0 1h0m0 8h0m0 1h0m0 1h0m0 10h0m0 3h0m0 1h0m0 4h0m0 13h0m1-60h0m0 2h0m0 11h0m0 1h0m0 1h0m0 1h0m0 4h0m0 2h0m0 5h0m0 1h0m0 18h0m0 29h0m1-75h0m0 5h0m0 6h0m0 1h0m0 1h0m0 2h0m0 4h0m0 1h0m0 2h0m0 15h0m0 2h0m1-69h0m0 32h0m0 11h0m0 2h0m0 1h0m0 1h0m0 2h0m0 2h0m0 2h0m0 7h0m0 10h0m1-41h0m0 11h0m0 2h0m0 5h0m0 13h0m0 6h0m0 39h0m1-56h0m0 4h0m0 8h0m0 1h0m0 11h0m0 12h0m0 8h0m1-82h0m0 15h0m0 5h0m0 25h0m0 2h0m0 1h0m1-45h0m0 13h0m0 7h0m0 4h0m0 2h0m0 2h0m0 4h0m0 17h0m0 3h0m0 3h0m1-46h0m0 2h0m0 37h0m0 1h0m0 2h0m0 1h0m0 1h0m0 15h0m0 4h0m1-62h0m1-39h0m0 18h0m0 33h0m0 5h0m0 13h0m0 15h0m0 2h0m1-59h0m0 31h0m0 14h0m1-21h0m1-13h0m0 16h0m0 30h0m0 2h0m0 18h0m1-35h0m1 5h0m0 29h0m1-44h0m0 19h0m0 6h0m0 1h0m1 4h0m1-54h0m0 4h0m0 33h0m0 9h0m0 47h0m1-135h0m0 42h0m0 19h0m0 112h0m1-110h0m0 47h0m0 23h0m1-88h0m0 11h0m0 15h0m0 32h0m1-27h0m2 97h0m1-74h0m1-31h0m2-42h0m0 55h0m1-17h0m1-35h0m0 15h0m1 42h0m1 2h0m2-65h0m0 34h0m0 8h0m0 34h0m1-33h0m0 3h0m6-14h0m1 7h0m4-62h0m0 34h0m2-14h0m1 3h0m0 44h0m2 79h0m1-119h0m0 65h0m1-22h0m3-25h0m3 15h0m2-70h0m3 169h0m1-132h0m0 50h0m3-31h0m6-48h0m0 116h0m3 59h0m1 1h0m2-63h0m12-52h0m5-54h0m0 35h0m2-26h0m1 81h0m0 27h0m4-83h0m8 83h0m1 11h0m2 4h0m10-66h0m2 6h0m1 19h0m4-34h0m5 11h0m2 5h0m1 38h0m1 31h0m1-7h0m1-115h0m6 104h0m0 13h0m1-195h0"/>
<path d="M76 -171h0m8 8h0m2 42h0m3 14h0m2-29h0m0 31h0m1 8h0m3-38h0m0 7h0m0 2h0m1-15h0m0 8h0m1 10h0m0 3h0m1-27h0m1-7h0m0 25h0m0 5h0m0 15h0m1-50h0m0 28h0m0 13h0m1 0h0m1-3h0m0 30h0m1-45h0m0 3h0m0 9h0m0 5h0m0 4h0m1-20h0m0 9h0m0 18h0m0 20h0m1-103h0m0 64h0m0 11h0m0 3h0m0 1h0m0 37h0m1-69h0m0 9h0m0 21h0m0 12h0m1-41h0m0 24h0m0 5h0m0 1h0m0 8h0m0 4h0m0 19h0m1-60h0m0 3h0m0 8h0m0 8h0m0 1h0m0 15h0m0 8h0m0 13h0m1-67h0m0 17h0m0 2h0m0 4h0m0 1h0m0 2h0m0 1h0m0 6h0m0 9h0m0 7h0m0 3h0m0 12h0m1-60h0m0 9h0m0 1h0m0 2h0m0 6h0m0 10h0m0 3h0m0 5h0m0 11h0m0 14h0m0 23h0m1-113h0m0 16h0m0 25h0m0 3h0m0 3h0m0 1h0m0 3h0m0 6h0m0 1h0m0 4h0m0 3h0m0 2h0m0 1h0m0 18h0m0 8h0m1-70h0m0 8h0m0 1h0m0 3h0m0 2h0m0 5h0m0 5h0m0 4h0m0 1h0m0 1h0m0 3h0m0 3h0m0 1h0m0 2h0m0 9h0m0 7h0m0 2h0m1-55h0m0 3h0m0 4h0m0 9h0m0 3h0m0 2h0m0 2h0m0 2h0m0 2h0m0 1h0m0 4h0m0 1h0m0 1h0m0 2h0m0 3h0m0 1h0m0 1h0m0 5h0m0 1h0m0 3h0m0 1h0m0 1h0m0 5h0m0 1h0m0 18h0m1-74h0m0 12h0m0 2h0m0 9h0m0 5h0m0 1h0m0 4h0m0 1h0m0 3h0m0 3h0m0 3h0m0 1h0m1-51h0m0 9h0m0 1h0m0 6h0m0 12h0m0 1h0m0 1h0m0 3h0m0 5h0m0 1h0m0 12h0m0 2h0m0 6h0m0 2h0m0 13h0m0 8h0m1-65h0m0 1h0m0 4h0m0 1h0m0 1h0m0 1h0m0 5h0m0 1h0m0 1h0m0 2h0m0 2h0m0 2h0m0 1h0m0 1h0m0 1h0m0 1h0m0 1h0m0 6h0m0 1h0m0 6h0m0 4h0m0 1h0m0 1h0m0 16h0m1-97h0m0 21h0m0 14h0m0 5h0m0 2h0m0 1h0m0 1h0m0 1h0m0 6h0m0 2h0m0 1h0m0 2h0m0 2h0m0 2h0m0 5h0m0 2h0m0 2h0m0 6h0m0 1h0m0 4h0m0 3h0m0 3h0m0 12h0m1-85h0m0 12h0m0 9h0m0 1h0m0 2h0m0 8h0m0 1h0m0 3h0m0 4h0m0 4h0m0 1h0m0 2h0m0 2h0m0 1h0m0 1h0m0 1h0m0 2h0m0 1h0m0 2h0m0 5h0m0 2h0m0 4h0m0 7h0m0 1h0m1-91h0m0 24h0m0 19h0m0 2h0m0 1h0m0 2h0m0 1h0m0 4h0m0 2h0m0 1h0m0 2h0m0 1h0m0 3h0m0 1h0m0 1h0m0 1h0m0 1h0m0 1h0m0 3h0m0 1h0m0 2h0m0 1h0m0 1h0m0 4h0m0 9h0m1-55h0m0 3h0m0 1h0m0 4h0m0 1h0m0 1h0m0 4h0m0 1h0m0 1h0m0 1h0m0 1h0m0 1h0m0 1h0m0 1h0m0 4h0m0 2h0m0 1h0m0 1h0m0 1h0m0 2h0m0 2h0m0 1h0m0 1h0m0 2h0m0 1h0m0 2h0m0 1h0m0 2h0m0 2h0m0 2h0m0 1h0m0 1h0m0 5h0m0 5h0m0 6h0m1-62h0m0 10h0m0 3h0m0 1h0m0 1h0m0 1h0m0 1h0m0 2h0m0 1h0m0 2h0m0 2h0m0 1h0m0 1h0m0 1h0m0 1h0m0 1h0m0 1h0m0 2h0m0 1h0m0 2h0m0 1h0m0 1h0m0 1h0m0 1h0m0 8h0m0 4h0m0 8h0m1-63h0m0 8h0m0 3h0m0 1h0m0 1h0m0 1h0m0 3h0m0 5h0m0 1h0m0 1h0m0 1h0m0 2h0m0 1h0m0 1h0m0 1h0m0 4h0m0 2h0m0 1h0m0 2h0m0 3h0m0 1h0m0 1h0m0 1h0m0 3h0m0 2h0m0 1h0m0 6h0m0 1h0m1-60h0m0 15h0m0 1h0m0 1h0m0 1h0m0 1h0m0 2h0m0 2h0m0 1h0m0 1h0m0 1h0m0 1h0m0 1h0m0 1h0m0 6h0m0 1h0m0 1h0m0 1h0m0 3h0m0 1h0m0 1h0m0 1h0m0 1h0m0 1h0m0 1h0m0 1h0m0 1h0m0 1h0m0 2h0m0 1h0m0 2h0m0 1h0m0 2h0m0 14h0m0 13h0m1-103h0m0 29h0m0 2h0m0 2h0m0 1h0m0 2h0m0 2h0m0 1h0m0 1h0m0 2h0m0 1h0m0 1h0m0 1h0m0 1h0m0 1h0m0 1h0m0 2h0m0 1h0m0 1h0m0 2h0m0 2h0m0 1h0m0 1h0m0 1h0m0 2h0m0 1h0m0 1h0m0 1h0m0 2h0m0 4h0m0 7h0m0 1h0m0 16h0m1-87h0m0 14h0m0 7h0m0 7h0m0 4h0m0 1h0m0 2h0m0 1h0m0 1h0m0 1h0m0 1h0m0 1h0m0 1h0m0 2h0m0 1h0m0 2h0m0 3h0m0 1h0m0 1h0m0 1h0m0 1h0m0 1h0m0 1h0m0 3h0m0 1h0m0 2h0m0 2h0m0 1h0m0 1h0m0 2h0m0 1h0m0 1h0m0 17h0m0 1h0m1-72h0m0 1h0m0 4h0m0 1h0m0 2h0m0 2h0m0 7h0m0 2h0m0 1h0m0 1h0m0 1h0m0 2h0m0 2h0m0 3h0m0 1h0m0 2h0m0 1h0m0 2h0m0 1h0m0 1h0m0 1h0m0 1h0m0 1h0m0 1h0m0 1h0m0 2h0m0 1h0m0 2h0m0 4h0m0 3h0m0 3h0m0 8h0m0 2h0m0 3h0m0 10h0m1-81h0m0 2h0m0 4h0m0 2h0m0 4h0m0 1h0m0 2h0m0 3h0m0 1h0m0 2h0m0 1h0m0 1h0m0 1h0m0 3h0m0 2h0m0 3h0m0 2h0m0 2h0m0 1h0m0 2h0m0 1h0m0 2h0m0 2h0m0 1h0m0 2h0m0 1h0m0 1h0m0 1h0m0 4h0m0 1h0m0 2h0m0 2h0m0 1h0m0 1h0m0 3h0m0 5h0m1-75h0m0 6h0m0 7h0m0 4h0m0 3h0m0 4h0m0 2h0m0 2h0m0 2h0m0 1h0m0 2h0m0 3h0m0 1h0m0 1h0m0 2h0m0 2h0m0 1h0m0 1h0m0 1h0m0 1h0m0 2h0m0 1h0m0 1h0m0 2h0m0 2h0m0 1h0m0 1h0m0 2h0m0 2h0m0 5h0m0 1h0m0 2h0m0 7h0m1-88h0m0 24h0m0 4h0m0 1h0m0 4h0m0 2h0m0 1h0m0 2h0m0 1h0m0 3h0m0 1h0m0 1h0m0 1h0m0 1h0m0 1h0m0 3h0m0 1h0m0 1h0m0 1h0m0 1h0m0 2h0m0 1h0m0 2h0m0 1h0m0 1h0m0 1h0m0 2h0m0 2h0m0 1h0m0 2h0m0 14h0m0 2h0m0 6h0m0 3h0m1-87h0m0 5h0m0 23h0m0 2h0m0 1h0m0 2h0m0 1h0m0 1h0m0 1h0m0 1h0m0 1h0m0 1h0m0 1h0m0 2h0m0 1h0m0 1h0m0 2h0m0 1h0m0 2h0m0 1h0m0 1h0m0 1h0m0 1h0m0 1h0m0 1h0m0 2h0m0 1h0m0 1h0m0 1h0m0 4h0m0 5h0m0 1h0m0 5h0m0 1h0m1-114h0m0 54h0m0 2h0m0 10h0m0 1h0m0 3h0m0 2h0m0 2h0m0 1h0m0 1h0m0 2h0m0 1h0m0 1h0m0 1h0m0 2h0m0 3h0m0 1h0m0 2h0m0 1h0m0 1h0m0 1h0m0 3h0m0 2h0m0 1h0m0 2h0m0 1h0m0 1h0m0 1h0m0 2h0m0 10h0m0 4h0m0 7h0m1-71h0m0 2h0m0 2h0m0 5h0m0 2h0m0 1h0m0 2h0m0 3h0m0 2h0m0 2h0m0 1h0m0 1h0m0 1h0m0 1h0m0 1h0m0 1h0m0 1h0m0 2h0m0 1h0m0 1h0m0 1h0m0 1h0m0 1h0m0 1h0m0 2h0m0 3h0m0 4h0m0 2h0m0 2h0m0 3h0m0 2h0m0 2h0m0 1h0m0 1h0m1-77h0m0 12h0m0 1h0m0 2h0m0 4h0m0 4h0m0 3h0m0 1h0m0 1h0m0 1h0m0 4h0m0 11h0m0 3h0m0 1h0m0 1h0m0 3h0m0 1h0m0 1h0m0 1h0m0 2h0m0 2h0m0 1h0m0 1h0m0 2h0m0 6h0m0 5h0m0 2h0m0 1h0m0 3h0m0 4h0m0 6h0m1-126h0m0 66h0m0 1h0m0 1h0m0 1h0m0 1h0m0 2h0m0 1h0m0 2h0m0 1h0m0 3h0m0 2h0m0 3h0m0 2h0m0 1h0m0 1h0m0 1h0m0 1h0m0 1h0m0 3h0m0 1h0m0 1h0m0 1h0m0 2h0m0 1h0m0 2h0m0 1h0m0 1h0m0 2h0m0 2h0m0 4h0m0 1h0m0 12h0m0 1h0m1-105h0m0 32h0m0 3h0m0 2h0m0 5h0m0 2h0m0 2h0m0 2h0m0 4h0m0 6h0m0 1h0m0 1h0m0 2h0m0 1h0m0 1h0m0 2h0m0 1h0m0 4h0m0 3h0m0 1h0m0 1h0m0 1h0m0 1h0m0 3h0m0 3h0m0 2h0m0 1h0m0 1h0m0 1h0m0 9h0m1-58h0m0 3h0m0 3h0m0 1h0m0 1h0m0 2h0m0 4h0m0 2h0m0 3h0m0 4h0m0 3h0m0 2h0m0 1h0m0 3h0m0 1h0m0 1h0m0 2h0m0 1h0m0 11h0m0 1h0m0 7h0m1-59h0m0 2h0m0 4h0m0 5h0m0 3h0m0 4h0m0 2h0m0 1h0m0 1h0m0 3h0m0 2h0m0 1h0m0 1h0m0 1h0m0 3h0m0 1h0m0 1h0m0 1h0m0 1h0m0 1h0m0 1h0m0 1h0m0 1h0m0 1h0m0 1h0m0 3h0m0 1h0m0 1h0m0 3h0m0 4h0m0 49h0m1-103h0m0 2h0m0 4h0m0 3h0m0 5h0m0 2h0m0 2h0m0 6h0m0 1h0m0 2h0m0 9h0m0 12h0m0 4h0m0 1h0m0 10h0m1-72h0m0 8h0m0 5h0m0 5h0m0 4h0m0 4h0m0 2h0m0 1h0m0 3h0m0 2h0m0 3h0m0 4h0m0 1h0m0 8h0m0 1h0m0 1h0m0 1h0m0 4h0m0 3h0m0 5h0m1-52h0m0 3h0m0 10h0m0 4h0m0 2h0m0 4h0m0 1h0m0 1h0m0 1h0m0 3h0m0 5h0m0 4h0m0 2h0m0 1h0m0 7h0m0 4h0m0 1h0m0 10h0m0 1h0m1-53h0m0 1h0m0 11h0m0 4h0m0 3h0m0 2h0m0 2h0m0 4h0m0 2h0m0 4h0m0 21h0m1-90h0m0 24h0m0 9h0m0 1h0m0 2h0m0 1h0m0 7h0m0 1h0m0 1h0m0 1h0m0 1h0m0 1h0m0 1h0m0 5h0m0 1h0m0 1h0m0 9h0m0 3h0m0 1h0m0 4h0m1-54h0m0 1h0m0 11h0m0 2h0m0 3h0m0 4h0m0 2h0m0 3h0m0 3h0m0 1h0m0 2h0m0 8h0m0 1h0m0 1h0m0 3h0m0 5h0m1-71h0m0 11h0m0 34h0m0 2h0m0 4h0m0 1h0m0 4h0m0 1h0m0 3h0m0 2h0m0 1h0m0 1h0m0 11h0m0 1h0m0 22h0m1-61h0m0 2h0m0 4h0m0 5h0m0 2h0m0 1h0m0 1h0m0 5h0m0 1h0m0 3h0m0 17h0m0 2h0m0 11h0m1-62h0m0 2h0m0 1h0m0 4h0m0 7h0m0 3h0m0 23h0m1-43h0m0 10h0m0 7h0m0 13h0m0 1h0m0 1h0m0 1h0m0 11h0m0 4h0m0 11h0m0 6h0m1-48h0m0 3h0m0 11h0m0 1h0m0 28h0m1-101h0m0 20h0m0 2h0m0 22h0m0 16h0m0 14h0m0 3h0m0 7h0m0 1h0m0 8h0m1-56h0m0 15h0m0 22h0m0 8h0m0 15h0m0 9h0m0 1h0m1-41h0m0 6h0m0 10h0m0 6h0m0 1h0m1-33h0m0 19h0m0 12h0m1-20h0m0 5h0m0 4h0m1-3h0m0 18h0m0 1h0m0 3h0m1-52h0m0 20h0m0 23h0m1-7h0m0 6h0m0 34h0m1-68h0m0 28h0m0 39h0m1-85h0m0 23h0m1 23h0m0 11h0m0 4h0m0 18h0m0 13h0m1-90h0m0 22h0m0 15h0m0 6h0m0 12h0m0 2h0m1-17h0m0 29h0m1-63h0m0 4h0m0 16h0m1-13h0m0 5h0m0 11h0m0 42h0m0 2h0m1-53h0m0 23h0m0 11h0m1-84h0m1 58h0m4-3h0m0 33h0m1-33h0m11 1h0m2 17h0m3-40h0m1 1h0m0 69h0m2 1h0m1-66h0m0 16h0m1-3h0m0 43h0m1-61h0m2 30h0m0 104h0m6-105h0m2-41h0m1 86h0m1-98h0m8 40h0m1-26h0m2 23h0m5-2h0m10 121h0m2-92h0m5 79h0m2-74h0m4-58h0m1 61h0m0 86h0m3-79h0m2-8h0m0 86h0m3-32h0m6 33h0m10-74h0m4 52h0m9-40h0m5 61h0m9-141h0m10 141h0m5 0h0m25-177h0"/>
<path d="M74 -132h0m4-22h0m9 29h0m3 43h0m3-92h0m0 53h0m1 7h0m0 33h0m2-30h0m1-31h0m0 26h0m1-42h0m0 22h0m1-4h0m1 1h0m0 12h0m0 23h0m0 10h0m1-50h0m0 18h0m0 18h0m1-39h0m0 5h0m0 1h0m0 21h0m1-29h0m0 19h0m0 4h0m0 2h0m0 2h0m0 48h0m1-49h0m0 6h0m1-27h0m0 6h0m0 4h0m0 18h0m0 6h0m0 8h0m0 2h0m1-24h0m0 10h0m0 13h0m1-52h0m0 7h0m0 1h0m0 1h0m0 12h0m0 12h0m0 13h0m1-38h0m0 5h0m0 16h0m0 5h0m0 6h0m0 2h0m0 3h0m0 1h0m0 13h0m1-55h0m0 10h0m0 4h0m0 4h0m0 2h0m0 5h0m0 3h0m0 2h0m0 7h0m0 3h0m0 5h0m0 12h0m0 2h0m1-115h0m0 59h0m0 2h0m0 9h0m0 4h0m0 2h0m0 1h0m0 1h0m0 2h0m0 1h0m0 5h0m0 1h0m0 4h0m0 1h0m0 4h0m0 11h0m1-66h0m0 13h0m0 2h0m0 10h0m0 16h0m0 2h0m0 8h0m1-50h0m0 31h0m0 5h0m0 2h0m0 6h0m0 2h0m0 4h0m0 1h0m0 2h0m0 3h0m0 3h0m0 8h0m0 1h0m0 6h0m0 1h0m1-60h0m0 4h0m0 11h0m0 3h0m0 1h0m0 7h0m0 9h0m0 1h0m0 6h0m0 11h0m1-66h0m0 5h0m0 10h0m0 2h0m0 4h0m0 1h0m0 3h0m0 1h0m0 3h0m0 3h0m0 3h0m0 1h0m0 6h0m0 2h0m0 1h0m0 1h0m0 1h0m0 5h0m0 5h0m0 7h0m0 7h0m1-47h0m0 1h0m0 7h0m0 3h0m0 1h0m0 1h0m0 1h0m0 3h0m0 1h0m0 1h0m0 1h0m0 3h0m0 2h0m0 3h0m0 1h0m0 1h0m0 3h0m0 5h0m0 12h0m0 7h0m1-74h0m0 10h0m0 3h0m0 3h0m0 1h0m0 1h0m0 1h0m0 1h0m0 2h0m0 4h0m0 1h0m0 1h0m0 1h0m0 3h0m0 1h0m0 5h0m0 1h0m0 4h0m0 6h0m0 1h0m0 1h0m0 1h0m0 3h0m0 2h0m0 13h0m1-58h0m0 4h0m0 2h0m0 3h0m0 4h0m0 1h0m0 2h0m0 2h0m0 7h0m0 3h0m0 2h0m0 2h0m0 1h0m0 2h0m0 1h0m0 2h0m0 4h0m0 5h0m0 3h0m0 4h0m1-56h0m0 3h0m0 1h0m0 2h0m0 3h0m0 6h0m0 1h0m0 4h0m0 2h0m0 3h0m0 1h0m0 3h0m0 1h0m0 1h0m0 1h0m0 1h0m0 1h0m0 1h0m0 2h0m0 3h0m0 3h0m0 6h0m0 7h0m0 2h0m0 5h0m1-83h0m0 20h0m0 5h0m0 1h0m0 5h0m0 2h0m0 3h0m0 2h0m0 2h0m0 3h0m0 1h0m0 1h0m0 3h0m0 1h0m0 1h0m0 1h0m0 2h0m0 2h0m0 2h0m0 9h0m0 3h0m0 9h0m1-48h0m0 1h0m0 4h0m0 1h0m0 1h0m0 1h0m0 4h0m0 1h0m0 1h0m0 1h0m0 2h0m0 3h0m0 1h0m0 2h0m0 8h0m0 1h0m0 3h0m0 8h0m1-46h0m0 1h0m0 2h0m0 1h0m0 1h0m0 1h0m0 1h0m0 2h0m0 2h0m0 1h0m0 1h0m0 4h0m0 1h0m0 1h0m0 1h0m0 1h0m0 2h0m0 1h0m0 2h0m0 1h0m0 3h0m0 1h0m0 1h0m0 1h0m0 7h0m0 1h0m0 2h0m0 2h0m0 6h0m0 1h0m1-64h0m0 3h0m0 3h0m0 6h0m0 3h0m0 1h0m0 1h0m0 3h0m0 2h0m0 1h0m0 1h0m0 1h0m0 1h0m0 2h0m0 2h0m0 2h0m0 1h0m0 1h0m0 1h0m0 1h0m0 1h0m0 2h0m0 1h0m0 2h0m0 1h0m0 1h0m0 1h0m0 1h0m0 1h0m0 1h0m0 2h0m0 4h0m0 4h0m0 2h0m0 4h0m1-62h0m0 1h0m0 5h0m0 2h0m0 8h0m0 1h0m0 1h0m0 1h0m0 2h0m0 1h0m0 1h0m0 1h0m0 1h0m0 2h0m0 3h0m0 2h0m0 1h0m0 3h0m0 2h0m0 2h0m0 1h0m0 5h0m0 1h0m0 2h0m0 1h0m0 1h0m0 26h0m0 9h0m1-89h0m0 9h0m0 3h0m0 1h0m0 4h0m0 4h0m0 1h0m0 1h0m0 2h0m0 2h0m0 1h0m0 2h0m0 1h0m0 1h0m0 6h0m0 2h0m0 1h0m0 4h0m0 1h0m0 2h0m0 2h0m0 1h0m0 1h0m0 1h0m0 1h0m0 2h0m0 2h0m0 3h0m1-54h0m0 1h0m0 3h0m0 1h0m0 1h0m0 4h0m0 3h0m0 3h0m0 3h0m0 1h0m0 2h0m0 2h0m0 1h0m0 1h0m0 1h0m0 5h0m0 1h0m0 2h0m0 1h0m0 1h0m0 2h0m0 3h0m0 1h0m0 2h0m0 1h0m0 1h0m0 1h0m0 1h0m0 1h0m0 2h0m0 3h0m0 3h0m1-70h0m0 5h0m0 4h0m0 1h0m0 1h0m0 5h0m0 1h0m0 3h0m0 2h0m0 2h0m0 1h0m0 1h0m0 2h0m0 1h0m0 2h0m0 1h0m0 3h0m0 2h0m0 1h0m0 1h0m0 1h0m0 1h0m0 1h0m0 1h0m0 2h0m0 1h0m0 2h0m0 1h0m0 1h0m0 1h0m0 2h0m0 1h0m0 1h0m0 1h0m0 2h0m0 1h0m0 2h0m0 6h0m0 1h0m1-65h0m0 4h0m0 11h0m0 2h0m0 4h0m0 1h0m0 2h0m0 3h0m0 1h0m0 1h0m0 1h0m0 2h0m0 2h0m0 2h0m0 1h0m0 1h0m0 2h0m0 1h0m0 2h0m0 1h0m0 1h0m0 1h0m0 1h0m0 2h0m0 1h0m0 1h0m0 2h0m0 3h0m0 2h0m0 1h0m0 1h0m0 1h0m0 2h0m0 1h0m0 6h0m1-68h0m0 11h0m0 4h0m0 1h0m0 1h0m0 2h0m0 5h0m0 1h0m0 1h0m0 1h0m0 1h0m0 2h0m0 4h0m0 1h0m0 1h0m0 1h0m0 1h0m0 2h0m0 1h0m0 3h0m0 1h0m0 1h0m0 1h0m0 3h0m0 1h0m0 1h0m0 1h0m0 3h0m0 2h0m0 2h0m0 1h0m0 1h0m0 3h0m1-68h0m0 12h0m0 3h0m0 2h0m0 3h0m0 2h0m0 1h0m0 4h0m0 3h0m0 2h0m0 1h0m0 1h0m0 1h0m0 1h0m0 5h0m0 1h0m0 1h0m0 1h0m0 1h0m0 1h0m0 2h0m0 2h0m0 3h0m0 1h0m0 1h0m0 1h0m0 1h0m0 1h0m0 1h0m0 1h0m0 1h0m0 1h0m0 4h0m0 3h0m0 2h0m0 1h0m0 2h0m1-62h0m0 1h0m0 3h0m0 4h0m0 2h0m0 2h0m0 1h0m0 1h0m0 5h0m0 4h0m0 1h0m0 1h0m0 2h0m0 2h0m0 2h0m0 1h0m0 1h0m0 1h0m0 1h0m0 1h0m0 2h0m0 2h0m0 1h0m0 1h0m0 2h0m0 1h0m0 2h0m0 2h0m0 3h0m0 2h0m0 2h0m0 3h0m0 6h0m0 3h0m1-75h0m0 2h0m0 1h0m0 3h0m0 6h0m0 7h0m0 4h0m0 1h0m0 4h0m0 1h0m0 2h0m0 3h0m0 2h0m0 1h0m0 1h0m0 1h0m0 1h0m0 1h0m0 1h0m0 1h0m0 1h0m0 2h0m0 1h0m0 2h0m0 3h0m0 3h0m0 4h0m0 3h0m0 2h0m0 5h0m0 1h0m0 2h0m1-66h0m0 2h0m0 5h0m0 2h0m0 3h0m0 1h0m0 1h0m0 1h0m0 2h0m0 1h0m0 1h0m0 3h0m0 1h0m0 1h0m0 1h0m0 2h0m0 1h0m0 1h0m0 3h0m0 1h0m0 1h0m0 2h0m0 1h0m0 1h0m0 1h0m0 2h0m0 5h0m0 3h0m0 3h0m0 1h0m0 2h0m0 1h0m0 4h0m0 1h0m0 1h0m0 3h0m0 5h0m1-103h0m0 33h0m0 4h0m0 7h0m0 1h0m0 1h0m0 3h0m0 1h0m0 2h0m0 1h0m0 1h0m0 1h0m0 4h0m0 1h0m0 1h0m0 4h0m0 3h0m0 1h0m0 1h0m0 1h0m0 2h0m0 2h0m0 1h0m0 1h0m0 3h0m0 1h0m0 1h0m0 2h0m0 1h0m0 3h0m1-51h0m0 2h0m0 1h0m0 2h0m0 4h0m0 5h0m0 1h0m0 1h0m0 3h0m0 1h0m0 1h0m0 1h0m0 2h0m0 1h0m0 2h0m0 3h0m0 1h0m0 1h0m0 1h0m0 1h0m0 2h0m0 2h0m0 1h0m0 2h0m0 2h0m0 3h0m0 2h0m0 1h0m0 1h0m0 8h0m0 4h0m1-84h0m0 21h0m0 14h0m0 2h0m0 1h0m0 2h0m0 2h0m0 1h0m0 2h0m0 2h0m0 1h0m0 1h0m0 1h0m0 2h0m0 1h0m0 3h0m0 1h0m0 1h0m0 1h0m0 3h0m0 2h0m0 5h0m0 6h0m0 5h0m0 2h0m1-64h0m0 15h0m0 4h0m0 1h0m0 4h0m0 1h0m0 2h0m0 2h0m0 2h0m0 4h0m0 1h0m0 1h0m0 1h0m0 1h0m0 1h0m0 1h0m0 1h0m0 1h0m0 2h0m0 2h0m0 2h0m0 1h0m0 1h0m0 2h0m0 1h0m0 1h0m0 1h0m0 7h0m1-61h0m0 4h0m0 8h0m0 13h0m0 4h0m0 1h0m0 1h0m0 1h0m0 1h0m0 1h0m0 1h0m0 1h0m0 1h0m0 1h0m0 3h0m0 2h0m0 6h0m0 2h0m0 4h0m0 2h0m0 14h0m0 4h0m0 1h0m1-65h0m0 1h0m0 1h0m0 6h0m0 2h0m0 1h0m0 2h0m0 4h0m0 1h0m0 1h0m0 3h0m0 1h0m0 1h0m0 1h0m0 2h0m0 5h0m0 2h0m0 4h0m0 1h0m0 2h0m0 6h0m0 2h0m0 4h0m0 3h0m0 3h0m0 6h0m1-93h0m0 19h0m0 10h0m0 7h0m0 2h0m0 1h0m0 2h0m0 4h0m0 4h0m0 1h0m0 1h0m0 1h0m0 1h0m0 3h0m0 2h0m0 4h0m0 2h0m0 1h0m0 2h0m0 4h0m0 2h0m0 1h0m0 4h0m1-62h0m0 5h0m0 2h0m0 8h0m0 4h0m0 1h0m0 9h0m0 3h0m0 1h0m0 2h0m0 3h0m0 1h0m0 2h0m0 2h0m0 2h0m0 1h0m0 1h0m0 1h0m0 4h0m0 3h0m0 2h0m0 4h0m0 2h0m0 3h0m0 3h0m0 10h0m1-117h0m0 50h0m0 2h0m0 2h0m0 6h0m0 1h0m0 3h0m0 1h0m0 1h0m0 2h0m0 3h0m0 2h0m0 1h0m0 3h0m0 16h0m0 8h0m0 1h0m1-88h0m0 40h0m0 4h0m0 2h0m0 1h0m0 4h0m0 1h0m0 3h0m0 3h0m0 2h0m0 4h0m0 4h0m0 2h0m0 6h0m0 2h0m0 1h0m1-71h0m0 14h0m0 20h0m0 9h0m0 1h0m0 14h0m0 1h0m0 10h0m0 2h0m0 4h0m0 12h0m0 1h0m1-69h0m0 15h0m0 1h0m0 7h0m0 2h0m0 7h0m0 4h0m0 3h0m0 4h0m0 4h0m0 2h0m0 11h0m0 13h0m0 6h0m1-82h0m0 19h0m0 2h0m0 4h0m0 2h0m0 1h0m0 6h0m0 1h0m0 1h0m0 6h0m0 4h0m0 6h0m0 2h0m0 2h0m0 6h0m0 11h0m0 7h0m0 9h0m1-130h0m0 63h0m0 2h0m0 10h0m0 4h0m0 3h0m0 3h0m0 2h0m0 1h0m0 3h0m0 1h0m0 4h0m1-41h0m0 21h0m0 14h0m0 3h0m0 3h0m0 7h0m0 3h0m1-37h0m0 2h0m0 10h0m0 16h0m0 6h0m0 1h0m0 10h0m1-58h0m0 4h0m0 13h0m0 8h0m0 8h0m0 4h0m0 2h0m1-39h0m0 12h0m0 13h0m0 1h0m0 5h0m0 8h0m1-44h0m0 32h0m0 1h0m0 5h0m0 4h0m0 3h0m0 29h0m1-66h0m0 1h0m0 5h0m0 4h0m0 10h0m0 2h0m0 3h0m0 8h0m0 14h0m1-31h0m0 23h0m0 3h0m0 2h0m1-60h0m0 1h0m0 39h0m0 15h0m1-20h0m1 11h0m0 15h0m1-74h0m0 27h0m0 20h0m0 4h0m0 19h0m1-4h0m1-90h0m0 74h0m1-12h0m1 12h0m0 11h0m0 7h0m0 46h0m1-82h0m1-3h0m1 24h0m0 2h0m0 13h0m1-42h0m0 8h0m1-22h0m1 19h0m0 3h0m2-26h0m1 58h0m1 37h0m1-45h0m0 14h0m0 19h0m3-7h0m2-58h0m0 54h0m2-47h0m1-3h0m2-22h0m2 12h0m4-17h0m0 47h0m2-41h0m1 56h0m3-36h0m3-24h0m1 73h0m1-22h0m6 1h0m5 42h0m2-72h0m1 12h0m4-1h0m11-56h0m4 65h0m6 0h0m9 51h0m11-72h0m3 48h0m4-12h0m1-13h0m1 49h0m2 35h0m2-100h0m1 82h0m5-48h0m5-66h0m3-2h0m11 25h0m15 128h0"/>
<path d="M77 -141h0m1 34h0m1 11h0m1-15h0m7 10h0m1-26h0m3 2h0m3-11h0m1-30h0m1 40h0m1-13h0m0 58h0m1-66h0m0 11h0m0 34h0m0 8h0m1-20h0m0 18h0m1-27h0m0 4h0m0 13h0m0 4h0m1-40h0m0 13h0m0 2h0m0 20h0m0 1h0m0 26h0m1-71h0m0 22h0m1-6h0m0 15h0m1-25h0m0 6h0m0 15h0m0 1h0m0 2h0m0 5h0m0 3h0m0 39h0m1-61h0m0 7h0m0 7h0m0 3h0m0 32h0m1-82h0m0 23h0m0 7h0m0 11h0m0 3h0m0 2h0m0 20h0m0 4h0m0 31h0m1-110h0m0 38h0m0 2h0m0 1h0m0 9h0m0 18h0m1-52h0m0 27h0m0 5h0m0 6h0m0 13h0m1-60h0m0 23h0m0 5h0m0 11h0m0 3h0m0 4h0m0 3h0m0 2h0m0 1h0m0 2h0m0 2h0m0 5h0m0 2h0m0 3h0m0 2h0m1-33h0m0 2h0m0 1h0m0 8h0m0 1h0m0 1h0m0 3h0m0 5h0m0 5h0m0 1h0m0 12h0m0 1h0m1-54h0m0 4h0m0 1h0m0 5h0m0 8h0m0 25h0m0 3h0m0 5h0m0 7h0m0 29h0m1-94h0m0 6h0m0 7h0m0 9h0m0 4h0m0 1h0m0 3h0m0 4h0m0 1h0m0 2h0m0 2h0m0 1h0m0 2h0m0 1h0m0 6h0m0 4h0m0 1h0m1-55h0m0 11h0m0 4h0m0 9h0m0 1h0m0 4h0m0 2h0m0 1h0m0 1h0m0 1h0m0 4h0m0 2h0m0 1h0m0 4h0m0 2h0m0 3h0m0 8h0m0 14h0m1-70h0m0 7h0m0 11h0m0 2h0m0 1h0m0 4h0m0 2h0m0 1h0m0 2h0m0 2h0m0 5h0m0 1h0m0 1h0m0 1h0m0 1h0m0 2h0m0 2h0m0 10h0m1-57h0m0 14h0m0 2h0m0 2h0m0 9h0m0 2h0m0 5h0m0 1h0m0 3h0m0 2h0m0 2h0m0 6h0m0 3h0m0 3h0m0 4h0m0 1h0m0 2h0m0 6h0m0 6h0m0 8h0m1-72h0m0 8h0m0 8h0m0 3h0m0 1h0m0 4h0m0 3h0m0 4h0m0 1h0m0 6h0m0 5h0m0 5h0m0 1h0m0 5h0m1-52h0m0 5h0m0 1h0m0 3h0m0 2h0m0 1h0m0 4h0m0 1h0m0 2h0m0 3h0m0 1h0m0 1h0m0 1h0m0 1h0m0 1h0m0 2h0m0 1h0m0 2h0m0 1h0m0 1h0m0 3h0m0 1h0m0 1h0m0 1h0m0 4h0m0 5h0m0 10h0m0 1h0m1-60h0m0 7h0m0 1h0m0 1h0m0 6h0m0 1h0m0 2h0m0 5h0m0 1h0m0 5h0m0 1h0m0 2h0m0 1h0m0 1h0m0 1h0m0 1h0m0 2h0m0 1h0m0 1h0m0 3h0m0 1h0m0 2h0m0 1h0m0 5h0m0 1h0m0 1h0m0 2h0m0 4h0m1-63h0m0 11h0m0 3h0m0 2h0m0 3h0m0 1h0m0 3h0m0 3h0m0 2h0m0 4h0m0 1h0m0 1h0m0 3h0m0 1h0m0 1h0m0 1h0m0 3h0m0 2h0m0 1h0m0 3h0m0 8h0m0 1h0m0 19h0m1-73h0m0 1h0m0 8h0m0 1h0m0 1h0m0 3h0m0 1h0m0 1h0m0 2h0m0 3h0m0 6h0m0 2h0m0 1h0m0 1h0m0 2h0m0 4h0m0 1h0m0 6h0m0 2h0m0 2h0m0 1h0m0 2h0m0 2h0m0 11h0m1-80h0m0 13h0m0 4h0m0 2h0m0 2h0m0 3h0m0 1h0m0 1h0m0 1h0m0 4h0m0 4h0m0 1h0m0 1h0m0 1h0m0 1h0m0 3h0m0 1h0m0 1h0m0 1h0m0 2h0m0 3h0m0 2h0m0 3h0m0 1h0m0 4h0m0 1h0m0 1h0m0 1h0m0 2h0m0 9h0m0 2h0m0 3h0m0 1h0m0 19h0m1-93h0m0 7h0m0 6h0m0 5h0m0 1h0m0 2h0m0 4h0m0 1h0m0 1h0m0 1h0m0 2h0m0 2h0m0 1h0m0 1h0m0 1h0m0 2h0m0 1h0m0 1h0m0 2h0m0 5h0m0 1h0m0 1h0m0 1h0m0 2h0m0 1h0m0 1h0m0 2h0m0 5h0m0 1h0m0 1h0m0 1h0m0 4h0m0 6h0m0 4h0m1-73h0m0 3h0m0 7h0m0 1h0m0 4h0m0 1h0m0 2h0m0 2h0m0 2h0m0 1h0m0 3h0m0 4h0m0 5h0m0 1h0m0 1h0m0 2h0m0 2h0m0 2h0m0 1h0m0 1h0m0 2h0m0 1h0m0 3h0m0 2h0m0 2h0m0 2h0m0 1h0m0 1h0m0 5h0m0 2h0m0 1h0m0 2h0m0 1h0m0 5h0m0 12h0m1-89h0m0 9h0m0 3h0m0 4h0m0 9h0m0 1h0m0 1h0m0 1h0m0 5h0m0 2h0m0 1h0m0 1h0m0 2h0m0 1h0m0 2h0m0 1h0m0 1h0m0 1h0m0 1h0m0 1h0m0 1h0m0 1h0m0 2h0m0 4h0m0 1h0m0 4h0m0 1h0m0 1h0m0 6h0m0 1h0m0 1h0m1-101h0m0 38h0m0 1h0m0 6h0m0 1h0m0 9h0m0 5h0m0 1h0m0 2h0m0 1h0m0 1h0m0 1h0m0 3h0m0 1h0m0 1h0m0 1h0m0 1h0m0 2h0m0 1h0m0 1h0m0 1h0m0 2h0m0 2h0m0 1h0m0 1h0m0 1h0m0 4h0m0 8h0m0 11h0m1-64h0m0 3h0m0 1h0m0 1h0m0 2h0m0 1h0m0 1h0m0 2h0m0 2h0m0 1h0m0 2h0m0 1h0m0 2h0m0 6h0m0 2h0m0 1h0m0 1h0m0 2h0m0 6h0m0 1h0m0 1h0m0 1h0m0 3h0m0 1h0m0 3h0m0 1h0m0 3h0m0 1h0m0 1h0m0 2h0m0 1h0m1-61h0m0 6h0m0 1h0m0 8h0m0 1h0m0 1h0m0 1h0m0 1h0m0 1h0m0 1h0m0 1h0m0 1h0m0 1h0m0 2h0m0 3h0m0 1h0m0 1h0m0 1h0m0 1h0m0 3h0m0 2h0m0 1h0m0 1h0m0 1h0m0 1h0m0 1h0m0 1h0m0 1h0m0 5h0m0 4h0m0 1h0m0 1h0m0 2h0m0 1h0m0 6h0m1-61h0m0 1h0m0 3h0m0 5h0m0 2h0m0 2h0m0 1h0m0 2h0m0 1h0m0 3h0m0 1h0m0 1h0m0 1h0m0 1h0m0 2h0m0 3h0m0 1h0m0 1h0m0 4h0m0 3h0m0 1h0m0 2h0m0 1h0m0 1h0m0 1h0m0 3h0m0 7h0m0 1h0m0 6h0m1-64h0m0 2h0m0 6h0m0 6h0m0 1h0m0 4h0m0 1h0m0 2h0m0 3h0m0 2h0m0 1h0m0 1h0m0 2h0m0 1h0m0 1h0m0 2h0m0 1h0m0 1h0m0 1h0m0 2h0m0 1h0m0 4h0m0 1h0m0 2h0m0 1h0m0 3h0m0 1h0m0 1h0m0 3h0m0 3h0m1-55h0m0 5h0m0 3h0m0 1h0m0 5h0m0 2h0m0 2h0m0 1h0m0 1h0m0 1h0m0 1h0m0 1h0m0 1h0m0 2h0m0 1h0m0 1h0m0 2h0m0 4h0m0 1h0m0 1h0m0 1h0m0 1h0m0 2h0m0 1h0m0 1h0m0 3h0m0 1h0m0 3h0m0 4h0m0 3h0m1-50h0m0 3h0m0 1h0m0 2h0m0 3h0m0 6h0m0 1h0m0 2h0m0 1h0m0 2h0m0 1h0m0 1h0m0 1h0m0 3h0m0 2h0m0 1h0m0 1h0m0 4h0m0 1h0m0 1h0m0 1h0m0 1h0m0 1h0m0 2h0m0 4h0m0 12h0m1-76h0m0 7h0m0 2h0m0 5h0m0 2h0m0 2h0m0 2h0m0 2h0m0 5h0m0 1h0m0 1h0m0 2h0m0 5h0m0 2h0m0 3h0m0 1h0m0 2h0m0 1h0m0 1h0m0 1h0m0 2h0m0 2h0m0 1h0m0 1h0m0 1h0m0 1h0m0 2h0m0 1h0m0 2h0m0 5h0m0 2h0m0 15h0m1-87h0m0 18h0m0 3h0m0 6h0m0 4h0m0 1h0m0 4h0m0 1h0m0 2h0m0 1h0m0 2h0m0 1h0m0 2h0m0 1h0m0 1h0m0 1h0m0 1h0m0 1h0m0 3h0m0 2h0m0 1h0m0 4h0m0 3h0m0 2h0m0 1h0m0 1h0m0 2h0m0 8h0m1-47h0m0 3h0m0 2h0m0 2h0m0 3h0m0 1h0m0 4h0m0 2h0m0 2h0m0 2h0m0 1h0m0 4h0m0 2h0m0 3h0m0 4h0m0 1h0m0 6h0m0 2h0m0 9h0m1-60h0m0 2h0m0 1h0m0 3h0m0 1h0m0 1h0m0 4h0m0 1h0m0 1h0m0 1h0m0 1h0m0 2h0m0 3h0m0 1h0m0 5h0m0 4h0m0 1h0m0 1h0m0 1h0m0 1h0m0 2h0m0 8h0m0 1h0m0 2h0m0 2h0m0 1h0m0 1h0m0 1h0m0 2h0m0 1h0m0 3h0m0 4h0m1-94h0m0 34h0m0 2h0m0 5h0m0 2h0m0 3h0m0 1h0m0 1h0m0 2h0m0 1h0m0 2h0m0 1h0m0 4h0m0 1h0m0 1h0m0 1h0m0 2h0m0 1h0m0 1h0m0 1h0m0 1h0m0 2h0m0 3h0m0 5h0m0 4h0m0 2h0m0 2h0m0 2h0m1-62h0m0 15h0m0 4h0m0 2h0m0 1h0m0 4h0m0 1h0m0 4h0m0 4h0m0 1h0m0 1h0m0 1h0m0 1h0m0 2h0m0 1h0m0 2h0m0 2h0m0 1h0m0 1h0m0 1h0m0 1h0m0 12h0m0 11h0m1-70h0m0 8h0m0 6h0m0 6h0m0 1h0m0 1h0m0 1h0m0 2h0m0 1h0m0 1h0m0 1h0m0 2h0m0 1h0m0 2h0m0 1h0m0 1h0m0 1h0m0 1h0m0 2h0m0 3h0m0 3h0m0 2h0m0 7h0m0 2h0m0 1h0m1-104h0m0 49h0m0 16h0m0 2h0m0 4h0m0 1h0m0 3h0m0 2h0m0 2h0m0 2h0m0 1h0m0 1h0m0 3h0m0 2h0m0 1h0m0 2h0m0 5h0m0 2h0m0 6h0m1-59h0m0 13h0m0 7h0m0 2h0m0 1h0m0 1h0m0 4h0m0 8h0m0 2h0m0 1h0m0 1h0m0 1h0m0 5h0m0 6h0m0 7h0m1-60h0m0 17h0m0 1h0m0 3h0m0 10h0m0 3h0m0 2h0m0 1h0m0 4h0m0 2h0m0 3h0m0 1h0m0 13h0m0 2h0m0 11h0m0 1h0m0 2h0m1-57h0m0 2h0m0 6h0m0 3h0m0 4h0m0 1h0m0 2h0m0 2h0m0 3h0m0 4h0m0 1h0m0 7h0m0 1h0m0 8h0m1-54h0m0 15h0m0 6h0m0 3h0m0 1h0m0 1h0m0 4h0m0 1h0m0 1h0m0 1h0m0 4h0m0 2h0m0 3h0m0 4h0m0 21h0m1-77h0m0 15h0m0 2h0m0 1h0m0 6h0m0 1h0m0 7h0m0 8h0m0 1h0m0 5h0m0 1h0m0 4h0m0 8h0m0 1h0m1-114h0m0 67h0m0 4h0m0 14h0m0 7h0m0 2h0m0 5h0m0 5h0m0 3h0m0 5h0m0 1h0m0 12h0m0 17h0m1-73h0m0 12h0m0 5h0m0 12h0m0 7h0m0 2h0m0 5h0m0 4h0m1-54h0m0 16h0m0 7h0m0 2h0m0 9h0m0 10h0m0 2h0m0 8h0m1-76h0m0 18h0m0 4h0m0 8h0m0 4h0m0 2h0m0 7h0m0 11h0m0 8h0m0 11h0m0 20h0m0 2h0m1-105h0m0 30h0m0 6h0m0 14h0m0 4h0m0 15h0m0 7h0m1-25h0m0 5h0m0 21h0m0 2h0m0 16h0m1-69h0m0 14h0m0 24h0m0 4h0m0 2h0m0 33h0m1-49h0m0 14h0m0 8h0m1-50h0m0 43h0m0 15h0m0 1h0m1-69h0m0 19h0m0 13h0m0 11h0m0 7h0m0 24h0m1-78h0m0 34h0m0 19h0m0 12h0m0 10h0m0 1h0m0 11h0m1-35h0m0 37h0m1-34h0m0 28h0m1-64h0m0 32h0m1-34h0m0 22h0m0 39h0m0 1h0m0 10h0m1-73h0m0 40h0m0 6h0m0 10h0m1-81h0m0 57h0m1-35h0m0 29h0m0 45h0m2-69h0m2-58h0m0 71h0m0 19h0m0 44h0m1-65h0m0 18h0m2 25h0m1-30h0m0 21h0m0 16h0m2-30h0m0 15h0m1-20h0m0 4h0m1-61h0m0 19h0m1 48h0m0 64h0m1-95h0m0 6h0m3 12h0m2-8h0m1-9h0m4-45h0m1 25h0m1 84h0m1-46h0m4 17h0m2-23h0m4-5h0m0 28h0m11 1h0m2 92h0m3-151h0m5-9h0m4 160h0m1-1h0m3-120h0m1 52h0m1-15h0m7 83h0m2-60h0m1-63h0m1 8h0m1 114h0m4-86h0m5 65h0m5-147h0m1 38h0m2 5h0m1-41h0m11 54h0m11 112h0m0 2h0m4-59h0m7-27h0m12 32h0"/>
<path d="M72 -136h0m8-20h0m7 10h0m2 17h0m2-5h0m5 39h0m1-47h0m0 22h0m1-20h0m1 36h0m1-21h0m0 4h0m0 6h0m1-11h0m1-40h0m0 11h0m0 27h0m0 1h0m0 8h0m1-34h0m0 19h0m0 6h0m0 3h0m0 18h0m0 2h0m1-31h0m0 5h0m0 3h0m0 8h0m1-9h0m0 13h0m0 9h0m0 4h0m1-48h0m0 4h0m0 11h0m0 19h0m0 2h0m0 2h0m0 59h0m1-91h0m0 2h0m0 4h0m0 12h0m0 3h0m0 13h0m0 4h0m1-36h0m0 5h0m0 1h0m0 3h0m0 6h0m0 2h0m0 2h0m0 1h0m0 12h0m0 1h0m0 9h0m0 24h0m1-77h0m0 6h0m0 7h0m0 3h0m0 3h0m0 3h0m0 5h0m0 2h0m0 4h0m0 13h0m0 1h0m0 4h0m1-53h0m0 6h0m0 20h0m0 1h0m0 1h0m0 4h0m0 7h0m0 2h0m0 1h0m0 11h0m0 10h0m0 2h0m1-69h0m0 6h0m0 16h0m0 3h0m0 1h0m0 1h0m0 4h0m0 5h0m0 7h0m0 6h0m0 7h0m0 4h0m0 4h0m1-49h0m0 16h0m0 8h0m0 4h0m0 5h0m0 2h0m0 24h0m0 8h0m1-67h0m0 1h0m0 5h0m0 1h0m0 2h0m0 2h0m0 5h0m0 5h0m0 2h0m0 2h0m0 10h0m0 4h0m0 28h0m1-81h0m0 10h0m0 6h0m0 8h0m0 4h0m0 5h0m0 2h0m0 7h0m0 2h0m0 2h0m0 3h0m0 7h0m0 1h0m1-67h0m0 33h0m0 4h0m0 2h0m0 2h0m0 5h0m0 2h0m0 4h0m0 1h0m0 7h0m0 2h0m0 1h0m0 1h0m0 13h0m0 7h0m1-65h0m0 1h0m0 2h0m0 14h0m0 3h0m0 2h0m0 1h0m0 5h0m0 3h0m0 1h0m0 1h0m0 1h0m0 4h0m0 1h0m0 6h0m0 2h0m0 3h0m1-58h0m0 19h0m0 2h0m0 4h0m0 2h0m0 2h0m0 1h0m0 1h0m0 1h0m0 1h0m0 1h0m0 1h0m0 2h0m0 1h0m0 1h0m0 1h0m0 1h0m0 1h0m0 1h0m0 1h0m0 2h0m0 4h0m0 1h0m0 5h0m0 2h0m0 7h0m0 3h0m1-52h0m0 2h0m0 3h0m0 1h0m0 1h0m0 1h0m0 1h0m0 1h0m0 1h0m0 1h0m0 2h0m0 1h0m0 5h0m0 1h0m0 1h0m0 2h0m0 1h0m0 2h0m0 1h0m0 1h0m0 1h0m0 2h0m0 1h0m0 4h0m0 1h0m0 1h0m0 1h0m0 1h0m0 9h0m0 44h0m1-98h0m0 2h0m0 12h0m0 1h0m0 1h0m0 2h0m0 3h0m0 2h0m0 1h0m0 2h0m0 1h0m0 1h0m0 1h0m0 2h0m0 1h0m0 1h0m0 2h0m0 1h0m0 2h0m0 2h0m0 2h0m0 1h0m0 1h0m0 1h0m0 4h0m0 6h0m0 7h0m0 10h0m0 2h0m0 6h0m1-94h0m0 9h0m0 2h0m0 11h0m0 5h0m0 3h0m0 1h0m0 1h0m0 3h0m0 1h0m0 1h0m0 2h0m0 2h0m0 2h0m0 1h0m0 1h0m0 1h0m0 1h0m0 3h0m0 1h0m0 1h0m0 1h0m0 1h0m0 1h0m0 1h0m0 2h0m0 1h0m0 1h0m0 1h0m0 3h0m0 12h0m1-74h0m0 8h0m0 7h0m0 8h0m0 2h0m0 1h0m0 6h0m0 2h0m0 1h0m0 1h0m0 1h0m0 1h0m0 1h0m0 3h0m0 1h0m0 1h0m0 2h0m0 3h0m0 1h0m0 1h0m0 2h0m0 4h0m0 2h0m0 1h0m0 2h0m0 2h0m0 2h0m0 1h0m0 1h0m0 2h0m0 2h0m0 16h0m0 7h0m1-90h0m0 7h0m0 2h0m0 6h0m0 4h0m0 1h0m0 9h0m0 2h0m0 4h0m0 2h0m0 1h0m0 1h0m0 1h0m0 1h0m0 1h0m0 2h0m0 3h0m0 1h0m0 2h0m0 1h0m0 2h0m0 1h0m0 4h0m0 4h0m0 2h0m0 1h0m0 4h0m1-70h0m0 19h0m0 3h0m0 1h0m0 1h0m0 4h0m0 6h0m0 1h0m0 1h0m0 1h0m0 1h0m0 1h0m0 7h0m0 1h0m0 1h0m0 1h0m0 1h0m0 1h0m0 1h0m0 3h0m0 1h0m0 1h0m0 2h0m0 4h0m0 3h0m0 6h0m1-61h0m0 2h0m0 9h0m0 6h0m0 1h0m0 1h0m0 1h0m0 1h0m0 1h0m0 1h0m0 1h0m0 1h0m0 1h0m0 1h0m0 2h0m0 1h0m0 1h0m0 3h0m0 1h0m0 3h0m0 1h0m0 1h0m0 3h0m0 1h0m0 2h0m0 1h0m0 7h0m0 2h0m0 5h0m0 1h0m1-76h0m0 11h0m0 3h0m0 5h0m0 3h0m0 2h0m0 3h0m0 2h0m0 1h0m0 1h0m0 2h0m0 1h0m0 3h0m0 1h0m0 3h0m0 1h0m0 1h0m0 1h0m0 1h0m0 2h0m0 1h0m0 1h0m0 1h0m0 1h0m0 1h0m0 1h0m0 1h0m0 1h0m0 3h0m0 1h0m0 1h0m0 1h0m0 1h0m0 1h0m0 1h0m0 1h0m0 2h0m0 4h0m0 7h0m0 4h0m0 3h0m1-98h0m0 19h0m0 3h0m0 9h0m0 7h0m0 1h0m0 2h0m0 1h0m0 1h0m0 1h0m0 1h0m0 2h0m0 1h0m0 3h0m0 1h0m0 1h0m0 6h0m0 1h0m0 3h0m0 1h0m0 4h0m0 1h0m0 1h0m0 1h0m0 1h0m0 2h0m0 4h0m0 2h0m0 6h0m0 1h0m1-63h0m0 13h0m0 3h0m0 2h0m0 2h0m0 1h0m0 2h0m0 2h0m0 1h0m0 1h0m0 1h0m0 1h0m0 1h0m0 1h0m0 2h0m0 2h0m0 1h0m0 1h0m0 1h0m0 1h0m0 1h0m0 1h0m0 3h0m0 1h0m0 1h0m0 3h0m0 3h0m0 1h0m0 7h0m0 3h0m0 1h0m1-69h0m0 2h0m0 2h0m0 18h0m0 2h0m0 1h0m0 1h0m0 3h0m0 1h0m0 1h0m0 1h0m0 2h0m0 1h0m0 1h0m0 1h0m0 2h0m0 1h0m0 1h0m0 1h0m0 2h0m0 2h0m0 1h0m0 1h0m0 2h0m0 1h0m0 6h0m0 1h0m0 1h0m0 1h0m0 3h0m0 6h0m0 1h0m0 14h0m1-88h0m0 19h0m0 1h0m0 1h0m0 5h0m0 4h0m0 2h0m0 1h0m0 1h0m0 1h0m0 1h0m0 1h0m0 2h0m0 1h0m0 2h0m0 2h0m0 2h0m0 1h0m0 1h0m0 1h0m0 1h0m0 1h0m0 6h0m0 5h0m0 1h0m0 2h0m0 3h0m0 3h0m0 2h0m1-62h0m0 10h0m0 1h0m0 1h0m0 7h0m0 1h0m0 2h0m0 4h0m0 3h0m0 3h0m0 2h0m0 1h0m0 1h0m0 2h0m0 1h0m0 2h0m0 1h0m0 1h0m0 3h0m0 2h0m0 3h0m0 2h0m0 1h0m0 2h0m0 2h0m0 1h0m1-63h0m0 2h0m0 11h0m0 1h0m0 2h0m0 3h0m0 2h0m0 4h0m0 1h0m0 1h0m0 1h0m0 2h0m0 1h0m0 1h0m0 2h0m0 1h0m0 1h0m0 4h0m0 2h0m0 1h0m0 2h0m0 2h0m0 4h0m0 1h0m0 4h0m0 1h0m0 1h0m0 1h0m0 3h0m0 12h0m1-61h0m0 1h0m0 4h0m0 6h0m0 1h0m0 1h0m0 2h0m0 1h0m0 1h0m0 1h0m0 1h0m0 1h0m0 1h0m0 1h0m0 3h0m0 3h0m0 2h0m0 1h0m0 1h0m0 1h0m0 1h0m0 2h0m0 1h0m0 2h0m0 1h0m0 1h0m0 3h0m0 3h0m1-70h0m0 26h0m0 3h0m0 2h0m0 5h0m0 1h0m0 1h0m0 2h0m0 2h0m0 1h0m0 1h0m0 1h0m0 1h0m0 1h0m0 1h0m0 1h0m0 4h0m0 1h0m0 2h0m0 1h0m0 1h0m0 1h0m0 1h0m0 2h0m0 1h0m0 4h0m0 5h0m0 5h0m0 1h0m0 3h0m1-83h0m0 10h0m0 16h0m0 2h0m0 1h0m0 4h0m0 2h0m0 2h0m0 3h0m0 4h0m0 1h0m0 1h0m0 3h0m0 4h0m0 1h0m0 2h0m0 2h0m0 1h0m0 2h0m0 1h0m0 9h0m0 2h0m0 5h0m0 2h0m1-65h0m0 13h0m0 4h0m0 2h0m0 1h0m0 3h0m0 2h0m0 2h0m0 1h0m0 3h0m0 2h0m0 1h0m0 1h0m0 1h0m0 1h0m0 2h0m0 1h0m0 1h0m0 4h0m0 2h0m0 4h0m0 1h0m0 2h0m0 2h0m0 1h0m0 1h0m0 3h0m0 2h0m0 1h0m0 10h0m1-82h0m0 13h0m0 3h0m0 2h0m0 9h0m0 1h0m0 5h0m0 1h0m0 3h0m0 2h0m0 3h0m0 1h0m0 4h0m0 1h0m0 1h0m0 1h0m0 1h0m0 1h0m0 1h0m0 5h0m0 1h0m0 2h0m0 1h0m0 8h0m0 1h0m0 7h0m1-84h0m0 15h0m0 2h0m0 3h0m0 3h0m0 10h0m0 3h0m0 2h0m0 1h0m0 1h0m0 1h0m0 3h0m0 1h0m0 1h0m0 1h0m0 1h0m0 1h0m0 3h0m0 1h0m0 2h0m0 4h0m0 1h0m0 2h0m0 1h0m0 1h0m0 2h0m0 1h0m0 4h0m0 1h0m0 4h0m1-48h0m0 2h0m0 1h0m0 1h0m0 2h0m0 1h0m0 3h0m0 3h0m0 2h0m0 2h0m0 1h0m0 5h0m0 2h0m0 1h0m0 2h0m0 4h0m0 3h0m0 2h0m0 1h0m0 1h0m0 2h0m0 2h0m0 5h0m0 1h0m0 2h0m0 4h0m0 3h0m0 5h0m0 24h0m1-105h0m0 15h0m0 4h0m0 3h0m0 2h0m0 3h0m0 7h0m0 1h0m0 3h0m0 2h0m0 1h0m0 4h0m0 1h0m0 4h0m0 2h0m0 1h0m0 2h0m0 4h0m0 1h0m0 14h0m0 18h0m0 4h0m1-91h0m0 3h0m0 3h0m0 6h0m0 3h0m0 7h0m0 2h0m0 1h0m0 1h0m0 2h0m0 1h0m0 4h0m0 3h0m0 4h0m0 2h0m0 1h0m0 1h0m0 1h0m0 2h0m0 1h0m0 1h0m0 7h0m1-56h0m0 17h0m0 2h0m0 17h0m0 2h0m0 2h0m0 1h0m0 2h0m0 4h0m0 1h0m0 8h0m0 2h0m1-65h0m0 13h0m0 5h0m0 12h0m0 1h0m0 2h0m0 3h0m0 4h0m0 1h0m0 2h0m0 1h0m0 2h0m0 3h0m0 3h0m0 1h0m0 2h0m0 1h0m0 7h0m0 1h0m0 6h0m0 3h0m1-49h0m0 9h0m0 8h0m0 4h0m0 1h0m0 2h0m0 2h0m0 4h0m0 1h0m0 1h0m0 9h0m0 1h0m0 5h0m1-86h0m0 22h0m0 4h0m0 22h0m0 1h0m0 1h0m0 4h0m0 4h0m0 3h0m0 1h0m0 2h0m0 2h0m0 4h0m0 19h0m0 2h0m1-61h0m0 15h0m0 1h0m0 4h0m0 5h0m0 5h0m0 4h0m0 1h0m0 2h0m0 2h0m0 1h0m0 2h0m0 3h0m0 5h0m0 1h0m0 7h0m0 5h0m0 1h0m1-68h0m0 1h0m0 21h0m0 8h0m0 5h0m0 3h0m0 2h0m0 1h0m0 11h0m0 2h0m0 1h0m0 29h0m1-73h0m0 5h0m0 16h0m0 5h0m0 1h0m0 2h0m0 10h0m0 26h0m1-87h0m0 24h0m0 4h0m0 1h0m0 14h0m0 13h0m0 1h0m0 12h0m0 28h0m1-60h0m0 1h0m0 6h0m0 3h0m0 3h0m0 1h0m0 9h0m1-51h0m0 19h0m0 4h0m0 6h0m0 5h0m0 2h0m0 12h0m0 3h0m1-13h0m0 3h0m0 9h0m0 4h0m0 4h0m0 5h0m0 1h0m1-50h0m0 3h0m0 13h0m0 26h0m0 5h0m0 2h0m0 78h0m1-125h0m0 29h0m0 12h0m1-17h0m0 17h0m0 9h0m1-73h0m0 19h0m0 20h0m0 1h0m0 19h0m1 8h0m1-82h0m0 11h0m0 79h0m1-17h0m0 14h0m0 33h0m1-81h0m0 8h0m0 7h0m0 8h0m0 2h0m0 5h0m0 14h0m0 1h0m1-92h0m0 67h0m0 1h0m0 17h0m0 16h0m1-53h0m0 30h0m0 23h0m1-39h0m0 4h0m1-35h0m0 33h0m0 33h0m1-63h0m0 24h0m0 19h0m1-21h0m0 2h0m1-39h0m0 73h0m1-65h0m0 21h0m1 25h0m1-44h0m1 37h0m1-6h0m2 17h0m1-14h0m0 24h0m1-5h0m1-10h0m1 99h0m1-105h0m0 38h0m3-66h0m4 6h0m4-30h0m0 12h0m4 95h0m1 19h0m5-77h0m0 1h0m6 9h0m3-15h0m1-20h0m0 41h0m1-71h0m4 132h0m2-52h0m2 15h0m0 68h0m2-110h0m2 42h0m1-88h0m1 157h0m1-72h0m0 14h0m6-45h0m7 17h0m1-52h0m9 39h0m1 76h0m5 21h0m2-86h0m10-152h0m2 239h0m2-102h0m0 21h0m3-12h0m6 14h0m3-31h0m1 54h0m4-44h0m1 3h0m10-23h0m10 73h0m2-12h0"/>
</g>
</g>
<path d="M496.3 52.2H745.7V301.6H496.3Z M588 52.2V301.6M496.3 209.6H745.7" stroke="#2b2b2b" stroke-width="1.25" fill="none"/>
<path d="M496.3 301.6v5.5M496.3 301.6h-5.8M515.1 301.6v2.6M496.3 282.8h-2.6M526 301.6v2.6M496.3 271.9h-2.6M533.8 301.6v2.6M496.3 264.1h-2.6M539.9 301.6v3.6M496.3 258h-3.6M544.8 301.6v2.6M496.3 253.1h-2.6M549 301.6v2.6M496.3 248.9h-2.6M552.6 301.6v2.6M496.3 245.3h-2.6M555.8 301.6v2.6M496.3 242.1h-2.6M558.6 301.6v5.5M496.3 239.3h-5.8M577.4 301.6v2.6M496.3 220.5h-2.6M588.4 301.6v2.6M496.3 209.5h-2.6M596.2 301.6v2.6M496.3 201.7h-2.6M602.2 301.6v3.6M496.3 195.7h-3.6M607.1 301.6v2.6M496.3 190.8h-2.6M611.3 301.6v2.6M496.3 186.6h-2.6M614.9 301.6v2.6M496.3 183h-2.6M618.1 301.6v2.6M496.3 179.8h-2.6M621 301.6v5.5M496.3 176.9h-5.8M639.7 301.6v2.6M496.3 158.2h-2.6M650.7 301.6v2.6M496.3 147.2h-2.6M658.5 301.6v2.6M496.3 139.4h-2.6M664.5 301.6v3.6M496.3 133.4h-3.6M669.5 301.6v2.6M496.3 128.4h-2.6M673.6 301.6v2.6M496.3 124.3h-2.6M677.2 301.6v2.6M496.3 120.7h-2.6M680.4 301.6v2.6M496.3 117.5h-2.6M683.3 301.6v5.5M496.3 114.6h-5.8M702.1 301.6v2.6M496.3 95.8h-2.6M713 301.6v2.6M496.3 84.9h-2.6M720.8 301.6v2.6M496.3 77.1h-2.6M726.9 301.6v3.6M496.3 71h-3.6M731.8 301.6v2.6M496.3 66.1h-2.6M736 301.6v2.6M496.3 61.9h-2.6M739.6 301.6v2.6M496.3 58.3h-2.6M742.8 301.6v2.6M496.3 55.1h-2.6M745.6 301.6v5.5M496.3 52.3h-5.8" stroke="#2b2b2b" stroke-width="1.1" fill="none"/>
<text x="488.5" y="320.2" font-size="10.5" fill="#222" stroke="#222" stroke-width="0.2">10<tspan dy="-4" font-size="7">2</tspan></text>
<text x="472.9" y="305.4" font-size="10.5" fill="#222" stroke="#222" stroke-width="0.2">10<tspan dy="-4" font-size="7">2</tspan></text>
<text x="550.8" y="320.2" font-size="10.5" fill="#222" stroke="#222" stroke-width="0.2">10<tspan dy="-4" font-size="7">3</tspan></text>
<text x="472.9" y="243.1" font-size="10.5" fill="#222" stroke="#222" stroke-width="0.2">10<tspan dy="-4" font-size="7">3</tspan></text>
<text x="613.2" y="320.2" font-size="10.5" fill="#222" stroke="#222" stroke-width="0.2">10<tspan dy="-4" font-size="7">4</tspan></text>
<text x="472.9" y="180.7" font-size="10.5" fill="#222" stroke="#222" stroke-width="0.2">10<tspan dy="-4" font-size="7">4</tspan></text>
<text x="675.5" y="320.2" font-size="10.5" fill="#222" stroke="#222" stroke-width="0.2">10<tspan dy="-4" font-size="7">5</tspan></text>
<text x="472.9" y="118.4" font-size="10.5" fill="#222" stroke="#222" stroke-width="0.2">10<tspan dy="-4" font-size="7">5</tspan></text>
<text x="737.8" y="320.2" font-size="10.5" fill="#222" stroke="#222" stroke-width="0.2">10<tspan dy="-4" font-size="7">6</tspan></text>
<text x="472.9" y="56.1" font-size="10.5" fill="#222" stroke="#222" stroke-width="0.2">10<tspan dy="-4" font-size="7">6</tspan></text>
<text x="621" y="343.3" font-size="16.4" text-anchor="middle" textLength="47" lengthAdjust="spacingAndGlyphs" stroke="#111" stroke-width="0.35">FITC-H</text>
<text x="463.3" y="176.9" font-size="16.4" text-anchor="middle" transform="rotate(-90 463.3 176.9)" textLength="29" lengthAdjust="spacingAndGlyphs" stroke="#111" stroke-width="0.35">PI-H</text>
<rect x="496.3" y="52.7" width="43.6" height="22.8" rx="3.2" fill="#fff" stroke="#b0b0b0" stroke-width="1"/>
<text x="498.1" y="70" font-size="16.6" textLength="39" lengthAdjust="spacingAndGlyphs" fill="#111" stroke="#111" stroke-width="0.35">0.04%</text>
<rect x="700" y="52.7" width="45.7" height="22.8" rx="3.2" fill="#fff" stroke="#b0b0b0" stroke-width="1"/>
<text x="701.8" y="70" font-size="16.6" textLength="41.1" lengthAdjust="spacingAndGlyphs" fill="#111" stroke="#111" stroke-width="0.35">0.08%</text>
<rect x="496.3" y="268" width="52.1" height="23.6" rx="3.2" fill="#fff" stroke="#b0b0b0" stroke-width="1"/>
<text x="498.1" y="286.1" font-size="16.6" textLength="47.5" lengthAdjust="spacingAndGlyphs" fill="#111" stroke="#111" stroke-width="0.35">95.72%</text>
<rect x="683.8" y="268" width="44.6" height="23.6" rx="3.2" fill="#fff" stroke="#b0b0b0" stroke-width="1"/>
<text x="685.6" y="286.1" font-size="16.6" textLength="40" lengthAdjust="spacingAndGlyphs" fill="#111" stroke="#111" stroke-width="0.35">4.16%</text>
<text x="935.1" y="18.9" font-size="21.6" text-anchor="middle">LPS</text>
<text x="941.8" y="45.1" font-size="16.2" text-anchor="middle" textLength="120.5" lengthAdjust="spacingAndGlyphs" stroke="#111" stroke-width="0.35">[D] FITC-H / PI-H</text>
<g transform="translate(817.1 301.6)">
<ellipse cx="66.1" cy="-55.5" rx="3.5" ry="5.5" fill="#ff0000" opacity="0.5" transform="rotate(-12 66.1 -55.5)" filter="url(#core)"/>
<ellipse cx="133.4" cy="-109.7" rx="9" ry="5" fill="#ff0000" opacity="0.3" transform="rotate(0 133.4 -109.7)" filter="url(#core)"/>
<g transform="scale(0.5)" stroke="#ff1010" stroke-opacity="0.68" stroke-width="3" stroke-linecap="round" fill="none">
<path d="M103 -133h0m1 0h0m4-72h0m0 86h0m2-44h0m2 29h0m0 3h0m0 15h0m1-78h0m0 93h0m1-38h0m0 19h0m0 20h0m2-47h0m0 9h0m0 7h0m0 10h0m1-81h0m1 75h0m0 4h0m1-25h0m0 11h0m0 20h0m0 2h0m0 27h0m1-40h0m0 50h0m1-53h0m0 21h0m0 14h0m1-24h0m0 1h0m0 1h0m0 7h0m0 16h0m1-35h0m0 16h0m0 7h0m1-11h0m0 1h0m0 2h0m0 12h0m0 16h0m1-42h0m0 2h0m0 2h0m0 6h0m0 3h0m0 14h0m0 1h0m0 2h0m1-40h0m0 25h0m0 8h0m0 2h0m1-125h0m0 103h0m0 2h0m0 3h0m0 6h0m0 6h0m0 1h0m0 1h0m0 10h0m0 15h0m1-47h0m0 2h0m0 22h0m0 5h0m0 37h0m1-165h0m0 118h0m0 7h0m0 2h0m1-45h0m0 21h0m0 10h0m0 1h0m0 1h0m0 5h0m0 6h0m0 7h0m1-40h0m0 16h0m0 9h0m0 1h0m0 1h0m0 3h0m0 3h0m0 12h0m1-90h0m0 59h0m0 2h0m0 5h0m0 2h0m0 3h0m0 3h0m0 1h0m0 1h0m0 2h0m0 7h0m0 7h0m1-36h0m0 1h0m0 18h0m0 4h0m0 6h0m1-59h0m0 9h0m0 32h0m0 5h0m0 1h0m0 7h0m0 14h0m0 13h0m1-135h0m0 89h0m0 15h0m0 5h0m0 2h0m0 23h0m1-65h0m0 10h0m0 18h0m0 10h0m0 3h0m0 2h0m0 5h0m0 11h0m1-52h0m0 8h0m0 2h0m0 9h0m0 9h0m0 6h0m1-139h0m0 10h0m0 102h0m0 3h0m0 2h0m0 3h0m0 2h0m0 4h0m0 1h0m0 15h0m0 1h0m0 13h0m1-113h0m0 76h0m0 4h0m0 1h0m0 4h0m0 2h0m0 5h0m0 7h0m0 1h0m0 12h0m1-30h0m0 3h0m0 2h0m0 1h0m0 7h0m0 8h0m0 7h0m1-35h0m0 2h0m0 3h0m0 3h0m1-21h0m0 19h0m0 22h0m1-24h0m0 7h0m0 9h0m0 1h0m0 20h0m1-127h0m0 83h0m0 1h0m0 4h0m0 8h0m0 2h0m0 5h0m0 10h0m1-57h0m0 35h0m0 20h0m0 2h0m0 1h0m1-57h0m0 8h0m0 26h0m0 9h0m1-107h0m0 94h0m0 3h0m0 42h0m1-32h0m0 4h0m1-36h0m1-63h0m0 72h0m0 31h0m0 8h0m1-25h0m0 14h0m1-115h0m0 112h0m2-23h0m0 24h0m1-115h0m1-6h0m4 133h0m1-45h0m1 28h0m2-14h0m4-43h0m0 53h0m0 15h0m3-9h0m1-46h0m6-67h0m4-54h0m1 27h0m1-11h0m1 99h0m1 45h0m2-106h0m2 13h0m1-21h0m0 75h0m1-91h0m0 12h0m0 2h0m1 135h0m0 50h0m1-99h0m0 2h0m0 28h0m3-139h0m0 142h0m5 29h0m3-126h0m0 138h0m1-182h0m1 95h0m1-46h0m1-41h0m0 65h0m2-48h0m0 19h0m0 10h0m1 132h0m1-117h0m1-87h0m0 73h0m0 130h0m2-73h0m1-115h0m1 58h0m0 79h0m1-52h0m0 12h0m1-118h0m0 8h0m0 14h0m0 173h0m2-156h0m0 67h0m2-79h0m0 169h0m1-175h0m0 11h0m0 40h0m3-48h0m1 14h0m0 10h0m0 87h0m1-89h0m0 7h0m1-20h0m0 61h0m1-42h0m0 16h0m0 26h0m1-22h0m0 5h0m0 65h0m0 6h0m0 103h0m1-185h0m1-26h0m0 28h0m0 38h0m1-58h0m0 7h0m0 17h0m0 1h0m1-27h0m0 1h0m0 9h0m0 4h0m1-14h0m1 11h0m1-1h0m0 66h0m1-76h0m0 7h0m0 4h0m0 5h0m0 76h0m1-109h0m0 37h0m0 18h0m0 116h0m1-170h0m0 3h0m0 16h0m0 2h0m0 24h0m0 7h0m1-53h0m0 10h0m0 4h0m0 1h0m0 11h0m0 4h0m1-9h0m0 6h0m0 8h0m1-36h0m0 9h0m0 13h0m0 5h0m0 12h0m0 186h0m1-213h0m0 4h0m0 21h0m1-41h0m0 22h0m0 5h0m0 8h0m0 3h0m0 8h0m0 5h0m0 83h0m1-124h0m0 8h0m0 3h0m0 12h0m0 2h0m0 8h0m0 6h0m0 7h0m0 4h0m0 3h0m0 141h0m1-203h0m0 20h0m0 1h0m0 7h0m0 6h0m0 1h0m0 1h0m0 15h0m0 3h0m1-34h0m0 19h0m0 4h0m0 71h0m0 7h0m1-118h0m0 2h0m0 20h0m0 5h0m0 2h0m0 3h0m0 2h0m0 16h0m0 172h0m1-213h0m0 8h0m0 4h0m0 1h0m0 7h0m0 3h0m0 2h0m0 1h0m0 5h0m1-26h0m0 18h0m1-29h0m0 14h0m0 3h0m0 2h0m0 8h0m0 7h0m0 4h0m0 3h0m0 18h0m0 159h0m0 24h0m1-248h0m0 24h0m0 6h0m0 8h0m0 11h0m1 0h0m0 2h0m1-32h0m0 16h0m0 10h0m0 2h0m0 5h0m0 6h0m0 190h0m1-233h0m0 15h0m0 13h0m0 34h0m1-47h0m0 9h0m0 17h0m1-38h0m0 6h0m0 11h0m0 17h0m1-48h0m0 12h0m0 6h0m0 1h0m0 4h0m0 14h0m1-23h0m0 8h0m0 6h0m0 1h0m1-15h0m0 12h0m0 7h0m0 3h0m0 3h0m0 98h0m1-114h0m0 7h0m0 1h0m0 4h0m0 6h0m1-22h0m0 10h0m0 6h0m0 8h0m1-39h0m0 4h0m0 6h0m0 7h0m0 1h0m0 1h0m0 1h0m0 8h0m0 7h0m0 11h0m1-36h0m0 9h0m0 2h0m0 2h0m0 8h0m0 2h0m0 2h0m0 15h0m0 46h0m0 13h0m1 35h0m1-152h0m0 9h0m0 3h0m0 11h0m0 21h0m0 3h0m0 6h0m0 5h0m0 175h0m1-216h0m0 5h0m0 23h0m0 3h0m0 4h0m0 195h0m1-217h0m0 12h0m0 17h0m1-35h0m0 7h0m0 89h0m0 99h0m1-194h0m0 6h0m0 1h0m0 15h0m0 87h0m0 21h0m1-155h0m0 2h0m0 9h0m0 8h0m0 37h0m0 192h0m1-231h0m0 14h0m0 7h0m0 1h0m0 7h0m0 2h0m0 13h0m1-49h0m0 14h0m0 13h0m0 5h0m0 3h0m0 22h0m0 73h0m1-134h0m0 7h0m0 5h0m0 1h0m0 11h0m0 1h0m0 4h0m0 72h0m1-110h0m0 19h0m0 26h0m0 8h0m1-48h0m0 9h0m0 37h0m0 81h0m1-128h0m0 22h0m0 17h0m0 2h0m0 68h0m1-101h0m1 30h0m0 82h0m0 90h0m1-209h0m0 6h0m0 6h0m0 10h0m0 12h0m1-36h0m0 14h0m0 6h0m0 16h0m0 7h0m0 8h0m0 195h0m1-253h0m0 18h0m0 128h0m0 105h0m1-256h0m0 18h0m0 23h0m0 123h0m0 70h0m1-218h0m0 62h0m0 181h0m1-230h0m0 5h0m0 9h0m0 6h0m0 1h0m0 2h0m1-32h0m0 213h0m1-155h0m0 70h0m1-115h0m0 3h0m0 1h0m0 2h0m0 7h0m0 17h0m0 2h0m0 61h0m1-83h0m0 11h0m1-26h0m0 2h0m0 2h0m0 5h0m0 3h0m0 2h0m0 2h0m0 13h0m0 5h0m0 67h0m0 92h0m1-199h0m0 6h0m0 13h0m1-40h0m0 6h0m1 19h0m1 3h0m0 12h0m1-45h0m1-6h0m0 31h0m0 15h0m0 2h0m0 26h0m0 55h0m0 117h0m1-214h0m0 10h0m0 53h0m1-51h0m1-9h0m0 26h0m0 207h0m1-257h0m1 23h0m0 3h0m1-25h0m0 9h0m0 20h0m0 172h0m1-138h0m0 160h0m1-110h0m0 21h0m0 99h0m1-202h0m1 95h0m1 130h0m2-263h0m0 41h0m2 14h0m1 208h0m1-156h0m1-27h0m1 129h0m1-77h0m0 6h0m1-87h0m0 15h0m1 162h0m1-133h0m0 134h0m1-9h0m1-59h0m0 3h0m0 6h0m1-129h0m1 171h0m1-42h0m1 78h0m3 16h0m19-1h0"/>
<path d="M106 -206h0m2 71h0m0 10h0m1-36h0m0 37h0m0 7h0m1-19h0m0 36h0m1-29h0m1-9h0m1 6h0m0 24h0m1 29h0m1-61h0m0 14h0m0 2h0m1 19h0m2-28h0m1 8h0m0 10h0m1-23h0m0 17h0m0 9h0m1-7h0m0 4h0m0 18h0m1-53h0m0 16h0m0 1h0m1-4h0m0 2h0m0 6h0m0 4h0m0 3h0m0 1h0m0 17h0m0 30h0m1-62h0m0 15h0m0 3h0m0 4h0m0 2h0m0 12h0m1-89h0m0 74h0m1-129h0m0 49h0m0 67h0m0 12h0m0 3h0m0 1h0m1-27h0m0 2h0m0 7h0m0 16h0m0 2h0m0 7h0m0 2h0m0 10h0m1-43h0m0 6h0m0 1h0m0 1h0m0 7h0m0 2h0m0 5h0m0 1h0m0 3h0m0 1h0m0 11h0m1-141h0m0 42h0m0 69h0m0 3h0m0 11h0m0 1h0m0 1h0m0 5h0m0 2h0m0 2h0m1-19h0m0 9h0m0 3h0m0 3h0m0 2h0m0 3h0m0 5h0m0 5h0m1-73h0m0 32h0m0 7h0m0 13h0m0 7h0m0 9h0m0 4h0m1-53h0m0 26h0m0 5h0m0 2h0m0 3h0m0 4h0m0 3h0m0 15h0m0 15h0m1-56h0m0 10h0m0 4h0m0 2h0m0 1h0m0 3h0m0 18h0m0 8h0m1-154h0m0 96h0m0 15h0m0 2h0m0 6h0m0 4h0m0 8h0m0 2h0m0 5h0m0 4h0m0 1h0m0 1h0m0 8h0m1-57h0m0 14h0m0 10h0m0 2h0m0 1h0m0 3h0m0 2h0m0 4h0m0 5h0m1-89h0m0 38h0m0 18h0m0 4h0m0 3h0m0 2h0m0 11h0m0 19h0m1-105h0m0 66h0m0 21h0m0 2h0m0 2h0m0 2h0m0 11h0m0 1h0m0 5h0m0 1h0m0 3h0m0 21h0m1-51h0m0 6h0m1-105h0m0 98h0m0 3h0m0 6h0m0 6h0m1-132h0m0 124h0m0 7h0m1-15h0m0 11h0m0 1h0m0 3h0m0 13h0m0 14h0m0 3h0m1-38h0m0 19h0m0 8h0m1-39h0m0 17h0m0 6h0m0 3h0m0 7h0m1-39h0m0 25h0m0 17h0m1-30h0m0 9h0m0 5h0m0 1h0m1-84h0m0 59h0m0 22h0m0 8h0m0 11h0m0 24h0m1-29h0m0 2h0m1-129h0m0 102h0m0 3h0m1-10h0m0 19h0m1-132h0m0 123h0m0 1h0m0 28h0m1-17h0m1-27h0m1-78h0m1-4h0m0 40h0m0 80h0m1-2h0m0 6h0m0 2h0m1-39h0m3 9h0m1-32h0m0 42h0m1-98h0m0 94h0m1-12h0m4 20h0m1 14h0m4-31h0m0 32h0m4-99h0m2-1h0m0 11h0m3-22h0m2 100h0m2-128h0m5 92h0m0 64h0m1-160h0m3 26h0m2 8h0m0 36h0m1-51h0m1 73h0m1-51h0m0 44h0m0 9h0m1-92h0m2 119h0m0 78h0m1-205h0m1-19h0m2 35h0m0 103h0m1-140h0m0 109h0m0 130h0m3-182h0m1 143h0m1-18h0m1-98h0m1-44h0m0 5h0m0 8h0m0 15h0m1 29h0m1-75h0m1 88h0m2-87h0m0 2h0m0 82h0m0 25h0m1-119h0m0 20h0m0 196h0m0 2h0m1-222h0m0 11h0m0 16h0m1 29h0m1-62h0m0 22h0m0 98h0m1-118h0m0 27h0m0 6h0m0 3h0m0 18h0m0 3h0m2-17h0m0 89h0m1-107h0m0 74h0m2 112h0m1-185h0m0 6h0m0 4h0m0 9h0m0 1h0m0 23h0m1-54h0m1 36h0m0 76h0m1-124h0m0 53h0m1-8h0m0 11h0m1-32h0m0 21h0m0 9h0m0 14h0m0 42h0m1-70h0m0 2h0m1-22h0m0 13h0m1-24h0m0 32h0m0 17h0m1 4h0m1-40h0m0 40h0m0 83h0m1-139h0m0 6h0m0 11h0m0 1h0m0 1h0m0 4h0m0 10h0m0 38h0m1-52h0m0 15h0m0 13h0m0 122h0m1-171h0m0 4h0m0 26h0m1-15h0m0 18h0m0 120h0m1-116h0m0 2h0m0 19h0m0 130h0m1-167h0m0 4h0m1-7h0m0 4h0m0 5h0m0 59h0m1-66h0m0 28h0m1-58h0m0 15h0m0 11h0m0 11h0m0 20h0m0 4h0m0 35h0m0 28h0m1-112h0m0 18h0m0 15h0m0 167h0m1-192h0m0 13h0m0 3h0m0 8h0m1-48h0m0 37h0m0 1h0m0 16h0m1-52h0m0 7h0m0 20h0m0 33h0m0 71h0m1-96h0m0 10h0m0 14h0m0 6h0m0 14h0m0 16h0m0 34h0m1-123h0m0 25h0m0 5h0m0 1h0m0 1h0m0 1h0m0 5h0m0 42h0m1-60h0m0 11h0m0 1h0m0 6h0m0 11h0m0 74h0m1-96h0m0 3h0m0 4h0m0 1h0m0 2h0m0 30h0m1-79h0m0 29h0m0 1h0m0 14h0m0 1h0m0 7h0m1-22h0m0 8h0m0 1h0m0 5h0m0 8h0m0 4h0m0 9h0m0 1h0m0 5h0m0 155h0m1-207h0m0 19h0m0 19h0m0 5h0m0 65h0m0 24h0m1-155h0m0 36h0m0 5h0m0 2h0m0 29h0m0 11h0m0 25h0m1-55h0m0 6h0m0 3h0m0 2h0m0 9h0m0 194h0m1-242h0m0 14h0m0 5h0m0 2h0m0 6h0m0 86h0m1-110h0m0 23h0m0 6h0m0 7h0m0 8h0m0 1h0m0 4h0m0 12h0m1-83h0m0 17h0m0 46h0m0 19h0m1-44h0m0 1h0m0 18h0m0 2h0m0 74h0m0 38h0m1-158h0m0 18h0m0 4h0m0 40h0m0 43h0m0 101h0m1-193h0m0 26h0m0 7h0m0 2h0m0 35h0m0 15h0m1-68h0m0 2h0m0 2h0m0 2h0m0 74h0m0 54h0m1-156h0m0 1h0m0 19h0m0 20h0m0 8h0m0 52h0m1-98h0m0 8h0m0 10h0m0 2h0m0 7h0m0 6h0m0 8h0m0 4h0m0 124h0m1-153h0m0 10h0m0 18h0m0 49h0m0 133h0m1-227h0m0 24h0m1-17h0m0 2h0m0 1h0m0 5h0m0 10h0m0 16h0m1-29h0m0 4h0m0 28h0m0 7h0m0 5h0m0 49h0m0 95h0m1-207h0m0 14h0m0 15h0m0 4h0m0 3h0m1-35h0m0 24h0m1-7h0m0 4h0m0 15h0m0 121h0m1-156h0m0 8h0m0 18h0m0 9h0m0 2h0m1-41h0m0 10h0m0 20h0m0 10h0m1 43h0m0 127h0m1-216h0m0 25h0m0 4h0m0 16h0m1-28h0m0 7h0m0 19h0m0 7h0m0 6h0m0 73h0m0 75h0m1-204h0m0 4h0m0 20h0m0 14h0m0 25h0m1-33h0m0 20h0m0 5h0m0 12h0m0 44h0m1-73h0m0 4h0m0 77h0m0 89h0m0 16h0m1-210h0m0 11h0m0 15h0m0 81h0m0 130h0m1-224h0m0 8h0m0 11h0m0 67h0m1-91h0m0 5h0m0 11h0m0 5h0m0 21h0m0 130h0m1-185h0m0 26h0m0 26h0m0 70h0m0 102h0m1-215h0m0 7h0m0 15h0m0 10h0m1-65h0m0 55h0m1-14h0m0 26h0m0 1h0m0 129h0m1-138h0m0 18h0m0 114h0m1-146h0m1 13h0m0 9h0m0 20h0m1-36h0m0 65h0m1-64h0m0 62h0m0 22h0m1-131h0m0 59h0m1-35h0m0 1h0m0 20h0m0 106h0m0 51h0m1 5h0m1-191h0m2 53h0m0 35h0m0 8h0m1 1h0m1-66h0m0 4h0m0 35h0m0 21h0m1-83h0m1 37h0m1-21h0m0 47h0m0 28h0m1-89h0m2-28h0m2 46h0m1-2h0m0 63h0m0 100h0m0 58h0m2-198h0m0 82h0m1-39h0m0 84h0m0 3h0m1-148h0m1-37h0m2 236h0m1-159h0m0 13h0m0 39h0m0 22h0m0 58h0m0 5h0m0 10h0m1 5h0m1 26h0m1-97h0m0 19h0m2-83h0m0 146h0m1-104h0m8 118h0m11 1h0m10-1h0m7 0h0m6 0h0"/>
<path d="M95 -119h0m9-73h0m1 66h0m1-22h0m1 19h0m0 8h0m1 33h0m3-30h0m2 4h0m2-7h0m0 25h0m1-44h0m0 14h0m0 29h0m1-37h0m0 20h0m0 7h0m0 2h0m1-33h0m0 14h0m0 27h0m1-36h0m0 9h0m0 4h0m0 7h0m0 18h0m1-134h0m0 77h0m0 46h0m1-10h0m0 1h0m0 6h0m0 1h0m1-113h0m0 90h0m0 1h0m0 2h0m0 7h0m0 7h0m0 7h0m0 1h0m0 7h0m0 6h0m0 6h0m1-68h0m0 6h0m0 18h0m0 2h0m0 1h0m0 3h0m0 11h0m0 2h0m0 1h0m1-125h0m0 79h0m0 22h0m0 17h0m0 26h0m0 2h0m1-38h0m0 3h0m0 9h0m0 3h0m0 1h0m0 8h0m0 11h0m1-24h0m0 1h0m0 2h0m0 2h0m0 1h0m0 3h0m0 7h0m0 3h0m1-38h0m0 8h0m0 10h0m0 2h0m0 18h0m1-21h0m0 5h0m0 9h0m0 1h0m0 4h0m0 1h0m0 10h0m1-35h0m0 2h0m0 1h0m0 1h0m0 3h0m0 4h0m0 1h0m0 3h0m0 1h0m0 3h0m0 1h0m0 5h0m0 8h0m0 1h0m1-120h0m0 35h0m0 14h0m0 37h0m0 3h0m0 3h0m0 2h0m0 3h0m0 1h0m0 1h0m0 9h0m0 4h0m0 2h0m0 1h0m0 10h0m1-71h0m0 25h0m0 2h0m0 3h0m0 2h0m0 4h0m0 2h0m0 3h0m0 6h0m0 8h0m0 1h0m0 3h0m0 2h0m1-30h0m0 1h0m0 6h0m0 3h0m0 1h0m0 2h0m0 6h0m0 27h0m1-167h0m0 86h0m0 27h0m0 19h0m0 3h0m0 6h0m0 6h0m0 8h0m1-81h0m0 27h0m0 7h0m0 6h0m0 6h0m0 6h0m0 7h0m0 3h0m0 4h0m0 3h0m0 6h0m0 2h0m1-56h0m0 25h0m0 17h0m0 8h0m0 8h0m1-37h0m0 17h0m0 4h0m0 2h0m0 20h0m1-33h0m0 7h0m0 6h0m0 1h0m0 9h0m1-56h0m0 5h0m0 25h0m0 3h0m0 15h0m0 2h0m0 2h0m0 5h0m0 2h0m0 3h0m1-41h0m0 7h0m0 7h0m0 4h0m0 1h0m0 19h0m0 5h0m0 1h0m1-40h0m0 4h0m0 7h0m0 7h0m0 3h0m0 12h0m0 17h0m1-45h0m0 1h0m0 1h0m0 5h0m0 6h0m0 5h0m0 5h0m0 3h0m1-16h0m0 4h0m0 9h0m0 6h0m1-127h0m0 16h0m0 87h0m0 5h0m0 6h0m0 2h0m0 2h0m0 2h0m0 14h0m0 3h0m0 3h0m1-67h0m0 28h0m0 31h0m0 3h0m0 12h0m1-165h0m0 5h0m0 35h0m0 69h0m0 19h0m0 12h0m0 7h0m0 2h0m0 13h0m1-123h0m0 62h0m0 36h0m0 1h0m0 10h0m1-21h0m0 1h0m1-92h0m0 81h0m0 19h0m0 2h0m0 10h0m1-57h0m2-24h0m0 91h0m2 16h0m1-48h0m2-43h0m0 42h0m0 12h0m0 6h0m3-15h0m2-64h0m1-25h0m0 88h0m1-21h0m2-88h0m0 139h0m2-5h0m5-89h0m3-61h0m3 11h0m2 60h0m1-31h0m0 47h0m1 5h0m2-83h0m1 57h0m1 22h0m2-22h0m4 25h0m3-47h0m0 5h0m1-60h0m2 90h0m0 13h0m1-103h0m1 51h0m0 36h0m0 17h0m0 38h0m1-105h0m2 43h0m0 56h0m1-82h0m0 43h0m1 85h0m2-162h0m1 8h0m1-24h0m1 3h0m1-22h0m0 29h0m0 33h0m0 167h0m1-226h0m0 28h0m0 20h0m0 87h0m0 4h0m1-41h0m1-99h0m0 43h0m1-32h0m1 20h0m0 201h0m2-187h0m0 31h0m0 120h0m1-198h0m0 22h0m0 38h0m1 57h0m1-102h0m0 91h0m0 12h0m1-8h0m0 4h0m1 80h0m1-142h0m0 13h0m1-52h0m0 5h0m0 17h0m0 6h0m0 24h0m0 45h0m1-107h0m0 56h0m0 6h0m1 60h0m0 121h0m1-249h0m0 37h0m1-59h0m0 65h0m1 0h0m0 56h0m1-57h0m1 93h0m1-63h0m2-30h0m1-25h0m0 2h0m0 7h0m0 25h0m0 14h0m1-57h0m0 42h0m0 14h0m0 1h0m1-1h0m0 201h0m1-230h0m0 4h0m0 1h0m0 34h0m0 68h0m1-96h0m0 26h0m0 43h0m0 76h0m1-168h0m0 19h0m0 2h0m0 2h0m0 9h0m0 18h0m0 51h0m1-105h0m0 1h0m0 23h0m0 40h0m1-53h0m0 19h0m0 98h0m0 81h0m1-180h0m0 59h0m1-89h0m0 29h0m0 64h0m0 34h0m0 7h0m1-116h0m0 62h0m0 167h0m1-242h0m0 23h0m1-23h0m0 217h0m1-213h0m0 14h0m0 7h0m0 21h0m1 71h0m0 115h0m1-228h0m0 2h0m0 15h0m0 9h0m0 1h0m1-48h0m0 50h0m0 9h0m0 138h0m1-168h0m0 5h0m0 17h0m0 12h0m1-23h0m0 1h0m0 2h0m0 1h0m0 2h0m0 33h0m1-68h0m0 41h0m0 12h0m0 64h0m0 4h0m1-129h0m0 20h0m0 7h0m0 12h0m0 10h0m0 206h0m1-218h0m0 1h0m0 5h0m0 1h0m0 22h0m1-22h0m1-8h0m0 7h0m0 73h0m1-99h0m0 2h0m0 7h0m0 4h0m1-7h0m0 4h0m0 18h0m0 73h0m0 18h0m1-101h0m0 3h0m0 1h0m0 19h0m1-23h0m0 2h0m0 220h0m1-212h0m0 19h0m0 4h0m0 7h0m0 51h0m1-102h0m0 3h0m0 2h0m0 7h0m0 1h0m0 5h0m0 15h0m0 9h0m1-76h0m0 21h0m0 34h0m1-61h0m0 15h0m0 32h0m0 1h0m0 2h0m1-20h0m0 7h0m0 6h0m0 30h0m0 1h0m1-41h0m0 12h0m0 6h0m0 5h0m0 19h0m0 80h0m1-139h0m0 25h0m0 14h0m0 2h0m1-26h0m0 13h0m0 18h0m0 4h0m0 2h0m0 18h0m1-51h0m0 2h0m0 7h0m0 8h0m0 12h0m0 96h0m1-116h0m0 10h0m0 15h0m1-27h0m0 17h0m0 2h0m1-45h0m0 34h0m0 3h0m0 4h0m0 2h0m0 8h0m0 49h0m0 74h0m1-163h0m1 24h0m0 71h0m1-97h0m0 3h0m0 30h0m0 28h0m0 7h0m1-60h0m0 7h0m0 5h0m0 29h0m1-30h0m0 15h0m1-19h0m0 3h0m0 22h0m1-52h0m0 28h0m0 3h0m0 7h0m1-2h0m0 8h0m0 18h0m0 103h0m1-144h0m0 15h0m0 17h0m1-12h0m0 75h0m1-93h0m0 8h0m0 6h0m1-33h0m0 9h0m0 17h0m0 14h0m0 11h0m0 204h0m1-247h0m0 13h0m0 141h0m1-117h0m0 5h0m1-60h0m0 4h0m0 43h0m0 14h0m0 5h0m1-4h0m0 17h0m0 22h0m1-63h0m0 14h0m1-38h0m0 5h0m0 56h0m1-34h0m0 14h0m1-29h0m0 15h0m0 22h0m0 37h0m1-60h0m0 13h0m0 11h0m0 3h0m1 168h0m1-181h0m0 56h0m1 9h0m1-96h0m0 12h0m0 2h0m0 9h0m0 8h0m0 12h0m0 31h0m1-43h0m0 12h0m1-48h0m0 133h0m0 44h0m2-123h0m1-39h0m0 54h0m1 129h0m2-106h0m0 115h0m1-148h0m0 67h0m2-100h0m0 99h0m0 19h0m1-122h0m1 224h0m1-140h0m0 17h0m0 17h0m0 3h0m1-70h0m1-21h0m0 73h0m1-113h0m0 68h0m1-44h0m0 193h0m1-200h0m0 53h0m2 21h0m1-29h0m1 114h0m0 1h0m3-168h0m0 105h0m1-123h0m0 28h0m2 80h0m10 135h0m10 1h0m14 0h0m9 0h0"/>
<path d="M87 -133h0m14 29h0m4 7h0m3-4h0m1-50h0m1 20h0m1-61h0m0 69h0m0 1h0m0 5h0m0 23h0m2-45h0m1 17h0m1 14h0m0 11h0m0 8h0m1-12h0m1-62h0m0 33h0m0 2h0m0 3h0m0 9h0m0 4h0m0 5h0m1-21h0m0 12h0m1-62h0m0 51h0m0 1h0m1-15h0m0 23h0m0 5h0m1-24h0m0 19h0m0 24h0m1-143h0m0 120h0m0 1h0m0 5h0m0 38h0m1-53h0m0 8h0m0 8h0m1-20h0m0 1h0m0 3h0m0 6h0m0 5h0m0 1h0m1-19h0m0 2h0m0 6h0m0 20h0m0 6h0m0 7h0m1-54h0m0 21h0m0 2h0m0 9h0m0 8h0m0 6h0m0 4h0m0 11h0m1-47h0m0 7h0m0 5h0m0 3h0m0 2h0m0 10h0m0 8h0m0 4h0m1-52h0m0 20h0m0 5h0m0 2h0m0 1h0m0 1h0m0 4h0m0 7h0m1-43h0m0 10h0m0 13h0m0 9h0m0 7h0m0 16h0m1-78h0m0 43h0m0 6h0m0 10h0m0 1h0m0 4h0m0 14h0m0 5h0m1-43h0m0 2h0m0 6h0m0 1h0m0 2h0m0 11h0m0 11h0m0 1h0m1-109h0m0 69h0m0 2h0m0 3h0m0 1h0m0 3h0m0 1h0m0 9h0m0 3h0m0 4h0m0 1h0m0 1h0m0 12h0m0 5h0m0 3h0m1-40h0m0 2h0m0 5h0m0 10h0m0 12h0m0 1h0m0 4h0m0 3h0m0 1h0m0 16h0m1-62h0m0 18h0m0 2h0m0 6h0m0 6h0m0 13h0m0 3h0m0 4h0m0 21h0m1-72h0m0 19h0m0 7h0m0 4h0m0 4h0m1-25h0m0 2h0m0 5h0m0 2h0m0 17h0m1-29h0m0 8h0m0 3h0m0 1h0m0 3h0m0 2h0m0 4h0m0 5h0m0 2h0m0 10h0m0 2h0m1-148h0m0 26h0m0 81h0m0 18h0m0 11h0m0 7h0m0 2h0m0 16h0m1-75h0m0 38h0m0 4h0m0 1h0m0 28h0m1-18h0m0 13h0m1-34h0m0 1h0m0 9h0m0 8h0m0 1h0m0 18h0m0 17h0m1-74h0m0 32h0m0 25h0m1-30h0m0 14h0m0 2h0m0 1h0m0 4h0m0 2h0m1-52h0m0 20h0m0 23h0m0 19h0m1-36h0m0 1h0m0 6h0m0 7h0m0 7h0m0 4h0m1-16h0m0 2h0m0 11h0m1-133h0m0 56h0m0 63h0m0 4h0m0 21h0m1-35h0m0 3h0m0 1h0m0 4h0m0 11h0m1 0h0m0 8h0m0 10h0m1-164h0m0 136h0m0 5h0m1-16h0m0 12h0m1-41h0m1 6h0m1 6h0m1 14h0m0 3h0m2 6h0m0 8h0m0 9h0m1-126h0m1 117h0m2-111h0m0 8h0m4 60h0m3 9h0m1-6h0m1 43h0m2-148h0m1 150h0m4-28h0m1-23h0m4 5h0m0 22h0m4 30h0m3-26h0m2-87h0m0 59h0m1 60h0m1 1h0m2-48h0m1-52h0m1-63h0m0 4h0m0 125h0m0 17h0m1-102h0m0 2h0m4 4h0m1-54h0m0 30h0m0 165h0m1-182h0m0 13h0m0 2h0m0 32h0m0 21h0m2-96h0m1 57h0m1 31h0m0 35h0m1-37h0m0 82h0m1-29h0m1-77h0m0 13h0m0 69h0m0 7h0m0 114h0m1-248h0m1 30h0m0 145h0m0 53h0m0 21h0m1-193h0m1-39h0m0 116h0m1-114h0m0 24h0m0 95h0m1-112h0m1 1h0m1-37h0m0 39h0m0 6h0m0 1h0m0 21h0m1-45h0m0 43h0m0 54h0m1-74h0m0 19h0m0 184h0m3-239h0m0 92h0m1-48h0m0 6h0m0 149h0m1-196h0m0 34h0m0 7h0m1 42h0m1-51h0m0 61h0m1-46h0m2-26h0m0 7h0m0 17h0m0 7h0m0 27h0m0 33h0m1-62h0m0 68h0m1-91h0m1 14h0m0 11h0m0 40h0m1-68h0m0 3h0m0 20h0m0 1h0m0 5h0m0 7h0m0 41h0m1-101h0m1 0h0m0 49h0m0 13h0m1-24h0m0 207h0m1-228h0m0 6h0m1-17h0m0 5h0m0 24h0m1-10h0m0 20h0m0 87h0m1-99h0m0 13h0m0 60h0m1-63h0m0 8h0m0 1h0m0 133h0m1-138h0m1-32h0m0 26h0m0 38h0m0 14h0m0 27h0m1-158h0m0 49h0m0 34h0m0 8h0m0 1h0m1-33h0m0 18h0m0 6h0m1-38h0m0 11h0m0 34h0m0 89h0m0 79h0m0 29h0m1-218h0m0 2h0m0 13h0m0 5h0m0 15h0m1-66h0m0 34h0m0 1h0m0 10h0m0 21h0m0 132h0m1-194h0m0 1h0m0 8h0m0 3h0m0 10h0m0 7h0m0 8h0m0 1h0m0 7h0m0 79h0m2-114h0m0 20h0m0 37h0m0 119h0m1-174h0m0 21h0m0 1h0m0 7h0m0 2h0m0 11h0m1-24h0m0 10h0m0 5h0m1-32h0m0 16h0m0 58h0m0 18h0m1-93h0m0 17h0m0 13h0m0 35h0m1-66h0m0 9h0m0 3h0m0 7h0m0 9h0m0 4h0m0 34h0m1-30h0m0 30h0m1-94h0m0 33h0m0 3h0m0 22h0m0 29h0m0 59h0m1-127h0m0 5h0m0 11h0m0 5h0m0 4h0m0 4h0m0 3h0m0 8h0m0 7h0m1-28h0m0 7h0m0 7h0m0 4h0m0 5h0m0 46h0m1-59h0m0 3h0m0 20h0m0 4h0m0 9h0m0 32h0m1-93h0m0 5h0m0 8h0m0 11h0m0 4h0m0 5h0m0 17h0m0 62h0m0 4h0m0 84h0m1-203h0m0 9h0m0 17h0m0 2h0m0 5h0m0 15h0m0 33h0m0 60h0m1-125h0m0 10h0m0 1h0m0 1h0m0 22h0m1-37h0m0 25h0m0 14h0m0 111h0m1-180h0m0 39h0m0 14h0m0 4h0m0 36h0m0 13h0m1-89h0m0 6h0m0 16h0m0 5h0m0 2h0m0 125h0m1-142h0m0 3h0m0 6h0m0 60h0m0 17h0m1-100h0m0 27h0m0 8h0m1-15h0m0 9h0m0 4h0m0 5h0m1-18h0m0 7h0m0 24h0m0 195h0m1-232h0m0 3h0m0 22h0m0 37h0m0 1h0m1-70h0m0 9h0m0 17h0m0 13h0m0 3h0m1-71h0m0 31h0m0 3h0m0 9h0m0 1h0m0 4h0m0 19h0m0 22h0m0 42h0m1-87h0m0 15h0m0 170h0m1-192h0m0 18h0m0 19h0m0 104h0m0 29h0m0 30h0m0 31h0m1-246h0m0 28h0m0 15h0m0 9h0m0 14h0m0 179h0m1-227h0m0 3h0m0 25h0m0 21h0m0 142h0m1-192h0m0 25h0m1-34h0m0 2h0m0 15h0m0 6h0m0 22h0m1-39h0m0 22h0m0 4h0m0 4h0m0 15h0m0 7h0m1-71h0m0 33h0m0 7h0m0 1h0m0 198h0m1-243h0m0 38h0m0 6h0m1-22h0m0 6h0m0 32h0m0 44h0m1-118h0m0 46h0m0 15h0m0 9h0m1-35h0m0 40h0m1-33h0m0 15h0m0 3h0m0 138h0m1-125h0m1-44h0m0 6h0m0 6h0m1 1h0m0 12h0m1-34h0m0 29h0m0 11h0m0 194h0m1-205h0m0 1h0m0 13h0m0 56h0m1-75h0m0 7h0m0 10h0m0 35h0m0 99h0m1-160h0m0 29h0m0 204h0m1-222h0m0 23h0m0 7h0m0 15h0m0 23h0m0 29h0m1-132h0m0 24h0m0 28h0m1-16h0m0 43h0m1-56h0m0 12h0m1 1h0m0 19h0m0 17h0m1-58h0m0 41h0m1-27h0m1-13h0m0 14h0m1 10h0m1 7h0m0 40h0m1-46h0m1-23h0m1 5h0m0 7h0m0 1h0m1-26h0m0 93h0m1-75h0m0 41h0m0 35h0m0 48h0m0 111h0m2-185h0m0 186h0m4-140h0m0 90h0m0 31h0m2-164h0m1-33h0m0 2h0m0 70h0m1 34h0m0 29h0m0 46h0m0 13h0m1-55h0m0 19h0m0 48h0m1-129h0m0 101h0m0 4h0m0 20h0m1-82h0m2-42h0m1 14h0m2-106h0m0 229h0m27 0h0m11 0h0m4 0h0"/>
<path d="M91 -44h0m11-55h0m3 27h0m1 5h0m1-69h0m1 24h0m2-5h0m1 8h0m1-15h0m2 13h0m0 7h0m1-32h0m1 6h0m0 2h0m0 11h0m1-4h0m0 9h0m0 11h0m1-130h0m0 95h0m0 23h0m1-11h0m0 2h0m0 4h0m0 7h0m0 3h0m0 18h0m0 36h0m1-76h0m0 8h0m1 3h0m0 7h0m0 2h0m0 4h0m1-32h0m0 32h0m0 9h0m0 44h0m1-190h0m0 90h0m0 27h0m0 5h0m0 17h0m0 4h0m1-27h0m0 5h0m0 6h0m0 8h0m1-30h0m0 1h0m0 29h0m0 7h0m0 4h0m1-47h0m0 23h0m0 6h0m0 1h0m0 3h0m0 5h0m0 3h0m0 1h0m0 2h0m1-104h0m0 90h0m0 9h0m0 4h0m0 2h0m0 19h0m1-136h0m0 72h0m0 18h0m0 2h0m0 14h0m0 1h0m0 6h0m0 4h0m0 2h0m1-26h0m0 1h0m0 2h0m0 12h0m0 4h0m0 16h0m1-117h0m0 67h0m0 24h0m0 1h0m0 6h0m0 1h0m0 3h0m0 2h0m0 2h0m0 1h0m0 3h0m0 4h0m0 6h0m1-98h0m0 54h0m0 12h0m0 2h0m0 2h0m0 9h0m0 3h0m0 4h0m0 5h0m1-38h0m0 4h0m0 6h0m0 1h0m0 2h0m0 9h0m0 9h0m0 6h0m1-29h0m0 3h0m0 12h0m0 2h0m0 11h0m0 1h0m0 6h0m1-34h0m0 8h0m0 4h0m0 1h0m0 2h0m0 3h0m0 1h0m1-53h0m0 24h0m0 6h0m0 8h0m0 3h0m0 2h0m0 10h0m0 2h0m1-28h0m0 5h0m0 5h0m0 1h0m0 1h0m0 1h0m0 5h0m0 5h0m0 2h0m0 8h0m0 1h0m1-93h0m0 73h0m0 4h0m0 2h0m0 8h0m0 13h0m1-119h0m0 80h0m0 11h0m0 1h0m0 10h0m0 2h0m0 2h0m1-21h0m0 5h0m0 13h0m0 13h0m1-33h0m0 8h0m0 3h0m0 2h0m0 1h0m0 11h0m1-33h0m0 17h0m0 34h0m1-39h0m0 4h0m0 11h0m0 3h0m1-18h0m0 3h0m0 6h0m0 6h0m0 8h0m0 12h0m1-16h0m0 6h0m0 3h0m1-22h0m0 2h0m0 18h0m1-8h0m0 13h0m1-32h0m0 2h0m0 8h0m0 6h0m0 12h0m1-116h0m0 72h0m0 22h0m1-3h0m0 14h0m0 3h0m1-18h0m0 2h0m0 1h0m1 7h0m0 22h0m2-22h0m1 12h0m1-2h0m0 25h0m1-44h0m1 29h0m1-69h0m0 72h0m4-43h0m1-4h0m0 16h0m0 6h0m3-44h0m0 43h0m0 38h0m3-48h0m1-92h0m3 10h0m4-16h0m5-30h0m2 123h0m3-56h0m0 79h0m3-61h0m1-66h0m2 59h0m1 69h0m1-114h0m1 66h0m1-104h0m0 204h0m1-79h0m5-106h0m1-10h0m0 75h0m1-48h0m0 9h0m0 35h0m1-63h0m1 23h0m0 73h0m1 14h0m2-68h0m0 76h0m1-96h0m1 11h0m0 77h0m0 43h0m1-61h0m1-57h0m3-23h0m0 127h0m1-98h0m2-50h0m2-15h0m0 24h0m0 10h0m0 9h0m0 25h0m0 143h0m1-223h0m0 69h0m1-16h0m0 73h0m0 19h0m1-137h0m0 24h0m0 18h0m0 67h0m1-82h0m0 27h0m0 5h0m0 25h0m0 68h0m0 91h0m1-204h0m1-1h0m0 6h0m1-1h0m0 43h0m0 6h0m1-47h0m0 3h0m0 11h0m0 3h0m0 102h0m0 34h0m0 4h0m1-127h0m1-38h0m0 19h0m0 138h0m1-160h0m0 19h0m0 6h0m1-34h0m0 26h0m0 17h0m0 8h0m0 148h0m1-186h0m0 4h0m0 39h0m1-33h0m0 70h0m0 81h0m1-159h0m0 15h0m0 10h0m0 60h0m1-80h0m0 15h0m0 13h0m0 54h0m0 15h0m1-145h0m0 43h0m0 5h0m1-21h0m0 22h0m0 45h0m1-54h0m0 2h0m0 20h0m0 140h0m1-206h0m0 6h0m0 23h0m0 13h0m0 22h0m0 22h0m0 43h0m0 101h0m1-226h0m0 23h0m0 7h0m0 29h0m0 1h0m0 13h0m0 6h0m1-75h0m0 37h0m0 39h0m0 66h0m1-106h0m0 11h0m0 1h0m0 31h0m1-66h0m0 1h0m0 19h0m0 3h0m0 28h0m0 19h0m0 133h0m1-186h0m0 31h0m1-30h0m0 9h0m0 16h0m0 3h0m0 15h0m0 22h0m1-38h0m0 5h0m0 73h0m1-140h0m0 13h0m0 11h0m0 3h0m0 18h0m0 11h0m0 6h0m0 11h0m1-44h0m0 2h0m0 5h0m0 3h0m0 9h0m0 8h0m0 4h0m0 19h0m0 113h0m1-190h0m0 23h0m0 13h0m0 12h0m0 1h0m0 14h0m0 66h0m1-126h0m0 33h0m0 37h0m0 4h0m0 29h0m0 22h0m1-103h0m0 37h0m0 6h0m0 4h0m1-14h0m0 2h0m0 2h0m0 31h0m0 70h0m1-149h0m0 8h0m0 14h0m0 6h0m0 15h0m0 82h0m0 60h0m1-135h0m0 10h0m1-52h0m0 2h0m0 54h0m1-37h0m0 19h0m0 10h0m0 38h0m0 22h0m1-105h0m0 12h0m0 4h0m0 5h0m0 3h0m0 1h0m0 4h0m0 35h0m0 61h0m0 18h0m1-164h0m0 29h0m0 27h0m1-34h0m0 14h0m0 11h0m0 12h0m0 7h0m0 5h0m0 19h0m1-55h0m0 11h0m0 25h0m0 12h0m1-58h0m0 6h0m0 7h0m0 2h0m0 4h0m0 4h0m0 10h0m0 203h0m1-263h0m0 30h0m0 7h0m0 11h0m0 3h0m0 10h0m1-38h0m0 35h0m0 3h0m0 57h0m0 24h0m1-113h0m0 16h0m1-27h0m0 27h0m0 20h0m1-59h0m0 26h0m0 9h0m0 3h0m0 2h0m0 1h0m0 4h0m0 7h0m0 18h0m1-32h0m1-22h0m0 2h0m0 11h0m0 12h0m0 13h0m0 13h0m1-40h0m0 8h0m0 4h0m0 13h0m1-60h0m0 29h0m0 4h0m0 5h0m0 5h0m0 14h0m0 98h0m0 110h0m1-242h0m0 21h0m0 15h0m0 8h0m0 7h0m1-19h0m0 210h0m1-226h0m0 7h0m0 16h0m0 9h0m0 124h0m0 2h0m1-167h0m0 7h0m0 17h0m0 1h0m0 3h0m0 17h0m0 146h0m1-200h0m0 1h0m0 11h0m0 9h0m0 9h0m0 9h0m0 5h0m1-39h0m0 43h0m1-61h0m1 32h0m0 3h0m1-14h0m0 9h0m0 2h0m0 16h0m0 12h0m0 73h0m1-107h0m0 10h0m0 9h0m0 5h0m0 7h0m0 4h0m0 5h0m0 56h0m0 99h0m1-201h0m0 13h0m0 3h0m0 75h0m1-65h0m1-45h0m0 9h0m0 13h0m0 13h0m0 17h0m0 11h0m0 137h0m1-178h0m0 12h0m0 12h0m0 34h0m1-73h0m0 8h0m0 24h0m0 11h0m0 11h0m0 16h0m1-63h0m0 32h0m0 5h0m1-50h0m0 56h0m0 116h0m1-155h0m0 18h0m0 27h0m0 188h0m1-256h0m0 27h0m0 26h0m0 29h0m0 53h0m1-61h0m1-28h0m0 8h0m0 9h0m0 10h0m0 189h0m1-210h0m0 2h0m2-10h0m0 3h0m0 5h0m1-23h0m0 42h0m1-25h0m0 215h0m1-263h0m0 33h0m0 3h0m0 10h0m0 187h0m1-234h0m0 33h0m0 25h0m0 157h0m1-214h0m0 146h0m0 51h0m1-24h0m0 58h0m2-201h0m0 55h0m1-20h0m2-23h0m1-19h0m0 3h0m0 19h0m0 118h0m0 66h0m1-171h0m1-27h0m1 7h0m0 6h0m0 20h0m2-34h0m0 175h0m1-18h0m1 76h0m1-268h0m1 97h0m0 46h0m1 36h0m0 14h0m3-95h0m0 22h0m0 78h0m1-9h0m0 69h0m1-224h0m0 193h0m1-86h0m0 29h0m0 68h0m2 30h0m4-252h0m22 253h0m11-1h0"/>
</g>
</g>
<path d="M817.1 52.2H1066.5V301.6H817.1Z M908.8 52.2V301.6M817.1 209.6H1066.5" stroke="#2b2b2b" stroke-width="1.25" fill="none"/>
<path d="M817.1 301.6v5.5M817.1 301.6h-5.8M835.9 301.6v2.6M817.1 282.8h-2.6M846.8 301.6v2.6M817.1 271.9h-2.6M854.6 301.6v2.6M817.1 264.1h-2.6M860.7 301.6v3.6M817.1 258h-3.6M865.6 301.6v2.6M817.1 253.1h-2.6M869.8 301.6v2.6M817.1 248.9h-2.6M873.4 301.6v2.6M817.1 245.3h-2.6M876.6 301.6v2.6M817.1 242.1h-2.6M879.4 301.6v5.5M817.1 239.3h-5.8M898.2 301.6v2.6M817.1 220.5h-2.6M909.2 301.6v2.6M817.1 209.5h-2.6M917 301.6v2.6M817.1 201.7h-2.6M923 301.6v3.6M817.1 195.7h-3.6M927.9 301.6v2.6M817.1 190.8h-2.6M932.1 301.6v2.6M817.1 186.6h-2.6M935.7 301.6v2.6M817.1 183h-2.6M938.9 301.6v2.6M817.1 179.8h-2.6M941.8 301.6v5.5M817.1 176.9h-5.8M960.5 301.6v2.6M817.1 158.2h-2.6M971.5 301.6v2.6M817.1 147.2h-2.6M979.3 301.6v2.6M817.1 139.4h-2.6M985.3 301.6v3.6M817.1 133.4h-3.6M990.3 301.6v2.6M817.1 128.4h-2.6M994.4 301.6v2.6M817.1 124.3h-2.6M998 301.6v2.6M817.1 120.7h-2.6M1001.2 301.6v2.6M817.1 117.5h-2.6M1004.1 301.6v5.5M817.1 114.6h-5.8M1022.9 301.6v2.6M817.1 95.8h-2.6M1033.8 301.6v2.6M817.1 84.9h-2.6M1041.6 301.6v2.6M817.1 77.1h-2.6M1047.7 301.6v3.6M817.1 71h-3.6M1052.6 301.6v2.6M817.1 66.1h-2.6M1056.8 301.6v2.6M817.1 61.9h-2.6M1060.4 301.6v2.6M817.1 58.3h-2.6M1063.6 301.6v2.6M817.1 55.1h-2.6M1066.4 301.6v5.5M817.1 52.3h-5.8" stroke="#2b2b2b" stroke-width="1.1" fill="none"/>
<text x="809.3" y="320.2" font-size="10.5" fill="#222" stroke="#222" stroke-width="0.2">10<tspan dy="-4" font-size="7">2</tspan></text>
<text x="793.7" y="305.4" font-size="10.5" fill="#222" stroke="#222" stroke-width="0.2">10<tspan dy="-4" font-size="7">2</tspan></text>
<text x="871.6" y="320.2" font-size="10.5" fill="#222" stroke="#222" stroke-width="0.2">10<tspan dy="-4" font-size="7">3</tspan></text>
<text x="793.7" y="243.1" font-size="10.5" fill="#222" stroke="#222" stroke-width="0.2">10<tspan dy="-4" font-size="7">3</tspan></text>
<text x="934" y="320.2" font-size="10.5" fill="#222" stroke="#222" stroke-width="0.2">10<tspan dy="-4" font-size="7">4</tspan></text>
<text x="793.7" y="180.7" font-size="10.5" fill="#222" stroke="#222" stroke-width="0.2">10<tspan dy="-4" font-size="7">4</tspan></text>
<text x="996.3" y="320.2" font-size="10.5" fill="#222" stroke="#222" stroke-width="0.2">10<tspan dy="-4" font-size="7">5</tspan></text>
<text x="793.7" y="118.4" font-size="10.5" fill="#222" stroke="#222" stroke-width="0.2">10<tspan dy="-4" font-size="7">5</tspan></text>
<text x="1058.6" y="320.2" font-size="10.5" fill="#222" stroke="#222" stroke-width="0.2">10<tspan dy="-4" font-size="7">6</tspan></text>
<text x="793.7" y="56.1" font-size="10.5" fill="#222" stroke="#222" stroke-width="0.2">10<tspan dy="-4" font-size="7">6</tspan></text>
<text x="941.8" y="343.3" font-size="16.4" text-anchor="middle" textLength="47" lengthAdjust="spacingAndGlyphs" stroke="#111" stroke-width="0.35">FITC-H</text>
<text x="784.1" y="176.9" font-size="16.4" text-anchor="middle" transform="rotate(-90 784.1 176.9)" textLength="29" lengthAdjust="spacingAndGlyphs" stroke="#111" stroke-width="0.35">PI-H</text>
<rect x="817.1" y="52.7" width="43.4" height="22.8" rx="3.2" fill="#fff" stroke="#b0b0b0" stroke-width="1"/>
<text x="818.9" y="70" font-size="16.6" textLength="38.8" lengthAdjust="spacingAndGlyphs" fill="#111" stroke="#111" stroke-width="0.35">3.16%</text>
<rect x="1013.5" y="52.7" width="53" height="22.8" rx="3.2" fill="#fff" stroke="#b0b0b0" stroke-width="1"/>
<text x="1015.3" y="70" font-size="16.6" textLength="48.4" lengthAdjust="spacingAndGlyphs" fill="#111" stroke="#111" stroke-width="0.35">44.42%</text>
<rect x="817.1" y="268" width="51.9" height="23.6" rx="3.2" fill="#fff" stroke="#b0b0b0" stroke-width="1"/>
<text x="818.9" y="286.1" font-size="16.6" textLength="47.3" lengthAdjust="spacingAndGlyphs" fill="#111" stroke="#111" stroke-width="0.35">32.87%</text>
<rect x="1005.4" y="268" width="53.2" height="23.6" rx="3.2" fill="#fff" stroke="#b0b0b0" stroke-width="1"/>
<text x="1007.2" y="286.1" font-size="16.6" textLength="48.6" lengthAdjust="spacingAndGlyphs" fill="#111" stroke="#111" stroke-width="0.35">19.55%</text>
<text x="1256.2" y="18.9" font-size="21.6" text-anchor="middle">LPS+Tomatidine-1</text>
<text x="1257.5" y="45.1" font-size="16.2" text-anchor="middle" textLength="120.5" lengthAdjust="spacingAndGlyphs" stroke="#111" stroke-width="0.35">[D] FITC-H / PI-H</text>
<g transform="translate(1132.8 301.6)">
<ellipse cx="69.2" cy="-58.6" rx="5" ry="9" fill="#ff0000" opacity="0.7" transform="rotate(-12 69.2 -58.6)" filter="url(#core)"/>
<g transform="scale(0.5)" stroke="#ff1010" stroke-opacity="0.68" stroke-width="3" stroke-linecap="round" fill="none">
<path d="M90 -100h0m10-31h0m3-81h0m5 59h0m0 48h0m2-12h0m0 25h0m2-25h0m0 7h0m1-25h0m1-21h0m0 30h0m1-6h0m0 16h0m0 1h0m0 5h0m1-55h0m0 22h0m1 3h0m0 9h0m0 28h0m1-130h0m0 63h0m0 39h0m0 25h0m1-52h0m0 27h0m0 4h0m0 7h0m0 12h0m1-29h0m0 8h0m0 2h0m0 9h0m0 2h0m0 23h0m1-56h0m0 3h0m0 1h0m0 18h0m1-12h0m0 10h0m0 3h0m0 6h0m0 26h0m1-57h0m0 7h0m0 6h0m0 13h0m0 28h0m0 22h0m1-127h0m0 5h0m0 22h0m0 29h0m0 36h0m0 2h0m0 1h0m0 9h0m1-122h0m0 88h0m0 2h0m0 9h0m0 5h0m0 4h0m0 4h0m0 7h0m0 1h0m1-36h0m0 2h0m0 3h0m0 3h0m0 1h0m0 13h0m0 7h0m1-51h0m0 29h0m0 2h0m0 14h0m0 5h0m0 10h0m1-32h0m0 3h0m0 1h0m0 1h0m0 11h0m0 14h0m0 5h0m1-43h0m0 13h0m0 4h0m0 1h0m0 4h0m0 1h0m0 10h0m0 4h0m1-116h0m0 24h0m0 46h0m0 2h0m0 9h0m0 4h0m0 2h0m0 1h0m0 2h0m0 5h0m0 2h0m0 3h0m0 1h0m0 2h0m0 1h0m0 5h0m1-47h0m0 17h0m0 5h0m0 5h0m0 3h0m0 6h0m0 1h0m0 3h0m0 3h0m0 2h0m0 5h0m0 4h0m1-35h0m0 4h0m0 3h0m0 3h0m0 1h0m0 2h0m0 3h0m0 1h0m0 2h0m0 2h0m0 1h0m0 1h0m0 3h0m0 2h0m0 5h0m0 1h0m1-91h0m0 39h0m0 11h0m0 12h0m0 6h0m0 1h0m0 3h0m0 2h0m0 1h0m0 13h0m0 4h0m0 1h0m0 9h0m0 2h0m1-54h0m0 11h0m0 1h0m0 2h0m0 3h0m0 1h0m0 2h0m0 1h0m0 2h0m0 2h0m0 1h0m0 1h0m0 3h0m0 3h0m0 1h0m0 2h0m0 1h0m0 1h0m0 6h0m0 4h0m0 6h0m1-62h0m0 9h0m0 3h0m0 8h0m0 3h0m0 1h0m0 1h0m0 6h0m0 3h0m0 2h0m0 2h0m0 1h0m0 3h0m0 1h0m0 2h0m0 6h0m0 6h0m1-105h0m0 34h0m0 25h0m0 5h0m0 1h0m0 5h0m0 2h0m0 2h0m0 1h0m0 3h0m0 4h0m0 1h0m0 10h0m0 4h0m0 1h0m0 3h0m0 9h0m0 12h0m1-89h0m0 18h0m0 4h0m0 4h0m0 11h0m0 3h0m0 1h0m0 1h0m0 1h0m0 2h0m0 2h0m0 1h0m0 1h0m0 1h0m0 2h0m0 1h0m0 2h0m0 2h0m0 1h0m0 1h0m0 6h0m0 1h0m1-51h0m0 14h0m0 2h0m0 5h0m0 3h0m0 2h0m0 1h0m0 2h0m0 3h0m0 1h0m0 4h0m0 1h0m0 1h0m0 1h0m0 7h0m0 1h0m0 1h0m0 2h0m0 1h0m0 3h0m0 2h0m1-54h0m0 2h0m0 5h0m0 7h0m0 3h0m0 1h0m0 1h0m0 1h0m0 3h0m0 3h0m0 2h0m0 2h0m0 1h0m0 2h0m0 1h0m0 3h0m0 2h0m0 1h0m0 6h0m0 4h0m0 1h0m0 5h0m0 6h0m0 3h0m1-114h0m0 54h0m0 5h0m0 3h0m0 1h0m0 1h0m0 1h0m0 2h0m0 3h0m0 1h0m0 1h0m0 3h0m0 1h0m0 2h0m0 3h0m0 1h0m0 1h0m0 4h0m0 4h0m0 14h0m0 4h0m1-144h0m0 60h0m0 34h0m0 4h0m0 2h0m0 6h0m0 5h0m0 2h0m0 2h0m0 1h0m0 3h0m0 1h0m0 2h0m0 1h0m0 1h0m0 3h0m0 26h0m0 31h0m1-88h0m0 4h0m0 3h0m0 3h0m0 1h0m0 3h0m0 5h0m0 2h0m0 5h0m0 1h0m0 4h0m0 1h0m0 1h0m0 1h0m0 2h0m0 9h0m0 4h0m0 9h0m1-112h0m0 51h0m0 6h0m0 3h0m0 3h0m0 2h0m0 2h0m0 1h0m0 3h0m0 1h0m0 1h0m0 1h0m0 1h0m0 1h0m0 1h0m0 9h0m0 3h0m0 7h0m0 2h0m0 7h0m1-131h0m0 54h0m0 17h0m0 8h0m0 7h0m0 1h0m0 3h0m0 1h0m0 3h0m0 1h0m0 2h0m0 3h0m0 4h0m0 2h0m0 4h0m0 11h0m0 3h0m0 1h0m1-47h0m0 2h0m0 18h0m1-34h0m0 7h0m0 7h0m0 2h0m0 1h0m0 7h0m0 1h0m0 3h0m0 3h0m0 2h0m0 6h0m0 3h0m0 3h0m0 1h0m0 10h0m0 3h0m0 5h0m0 14h0m1-150h0m0 40h0m0 25h0m0 19h0m0 4h0m0 2h0m0 8h0m0 12h0m0 1h0m0 2h0m0 12h0m0 1h0m0 6h0m0 14h0m1-99h0m0 9h0m0 35h0m0 3h0m0 13h0m0 4h0m0 1h0m0 4h0m0 5h0m0 7h0m1-49h0m0 9h0m0 7h0m0 10h0m0 4h0m0 2h0m0 3h0m0 5h0m0 1h0m0 2h0m0 4h0m0 2h0m0 28h0m1-146h0m0 84h0m0 19h0m0 5h0m0 4h0m0 6h0m0 1h0m1-111h0m0 46h0m0 17h0m0 6h0m0 7h0m0 7h0m0 7h0m0 4h0m1-18h0m0 2h0m0 21h0m0 11h0m1-142h0m0 96h0m0 7h0m0 17h0m0 11h0m0 32h0m1-86h0m0 14h0m0 19h0m0 7h0m0 5h0m0 4h0m0 10h0m0 25h0m0 1h0m1-168h0m0 94h0m0 6h0m0 15h0m0 19h0m0 1h0m0 7h0m0 9h0m0 6h0m1-64h0m0 14h0m0 18h0m0 5h0m0 1h0m0 3h0m0 5h0m0 2h0m0 5h0m0 10h0m0 1h0m1-46h0m0 4h0m0 4h0m0 3h0m0 5h0m0 13h0m0 5h0m0 17h0m1-131h0m0 47h0m0 14h0m0 4h0m0 14h0m0 6h0m0 4h0m0 14h0m1-98h0m0 63h0m0 8h0m0 3h0m0 25h0m1-91h0m0 58h0m0 13h0m0 13h0m0 6h0m0 4h0m1-66h0m0 16h0m0 5h0m0 1h0m0 40h0m0 12h0m0 25h0m1-40h0m0 38h0m1-101h0m0 35h0m0 35h0m0 10h0m1-92h0m0 29h0m0 15h0m0 6h0m0 15h0m0 42h0m1-58h0m0 7h0m0 15h0m0 15h0m1-117h0m0 101h0m0 21h0m0 9h0m1-95h0m0 22h0m0 19h0m0 20h0m0 3h0m0 3h0m0 30h0m1-100h0m0 39h0m0 36h0m1-25h0m0 9h0m0 10h0m0 14h0m1-10h0m1-125h0m0 89h0m0 28h0m0 12h0m0 1h0m1-83h0m0 23h0m0 51h0m1-5h0m1-7h0m1-13h0m0 16h0m2-26h0m0 51h0m1-41h0m0 10h0m1-51h0m0 51h0m0 25h0m1-112h0m0 99h0m1-83h0m0 63h0m0 54h0m1-74h0m0 47h0m0 57h0m1-104h0m0 17h0m1 18h0m0 52h0m1-86h0m0 4h0m0 27h0m0 14h0m1-73h0m0 67h0m2-40h0m0 27h0m0 1h0m2-57h0m0 43h0m0 17h0m0 7h0m0 60h0m2-98h0m0 40h0m0 10h0m0 15h0m1-32h0m0 36h0m0 3h0m1-83h0m1 6h0m1-2h0m1 42h0m1-35h0m0 23h0m0 31h0m1-115h0m0 54h0m0 23h0m0 4h0m0 24h0m2-77h0m0 69h0m1-83h0m0 49h0m0 4h0m0 18h0m0 51h0m1-145h0m3 25h0m0 12h0m0 55h0m1-66h0m1-24h0m0 151h0m1-71h0m0 30h0m1-111h0m0 79h0m0 4h0m0 48h0m0 11h0m0 45h0m1-208h0m0 170h0m1-62h0m1-33h0m0 3h0m1-23h0m0 21h0m0 8h0m0 13h0m1-18h0m0 1h0m0 33h0m0 27h0m1-59h0m0 1h0m0 26h0m1 12h0m1-60h0m0 61h0m0 61h0m1-39h0m1-23h0m2-101h0m1 105h0m0 29h0m0 68h0m0 2h0m1-147h0m0 29h0m0 30h0m0 30h0m1-107h0m0 66h0m0 7h0m0 20h0m0 12h0m1-85h0m0 17h0m0 40h0m0 33h0m0 42h0m0 23h0m1-168h0m0 7h0m0 2h0m0 60h0m0 3h0m1-20h0m0 18h0m0 44h0m1-165h0m2 1h0m1 64h0m0 30h0m0 46h0m0 20h0m1-1h0m0 46h0m1-114h0m0 3h0m0 25h0m0 4h0m0 39h0m1-65h0m0 27h0m1-81h0m1 42h0m0 23h0m0 14h0m1-123h0m0 31h0m0 98h0m0 6h0m0 52h0m2-171h0m0 16h0m0 87h0m1-47h0m0 40h0m0 32h0m1-100h0m0 70h0m0 16h0m1-32h0m0 2h0m0 10h0m1-72h0m0 58h0m0 26h0m0 1h0m1-112h0m0 63h0m1-15h0m0 2h0m0 46h0m1-108h0m0 25h0m1 19h0m0 53h0m1-31h0m0 69h0m1-4h0m0 6h0m2-70h0m0 84h0m1-44h0m0 5h0m1-40h0m0 15h0m0 109h0m1-178h0m0 38h0m0 24h0m0 20h0m0 8h0m0 3h0m0 12h0m1-60h0m0 11h0m0 29h0m0 22h0m1-80h0m0 46h0m0 14h0m0 28h0m1-56h0m1 64h0m1-116h0m0 10h0m0 9h0m1-38h0m0 10h0m0 126h0m0 86h0m1-134h0m0 43h0m1-64h0m0 8h0m0 3h0m1 24h0m0 42h0m0 85h0m1-152h0m0 78h0m1-151h0m0 42h0m0 39h0m0 49h0m0 73h0m1-132h0m1-11h0m0 1h0m0 17h0m1-70h0m0 56h0m0 68h0m1-43h0m0 6h0m0 26h0m1-29h0m0 61h0m1-160h0m0 62h0m0 17h0m0 83h0m1-109h0m0 11h0m0 39h0m0 8h0m0 1h0m1-100h0m0 88h0m1-62h0m0 61h0m0 34h0m1-47h0m0 21h0m1-58h0m0 113h0m1-91h0m0 9h0m1 17h0m0 11h0m1-73h0m1-29h0m0 115h0m1-57h0m0 46h0m1-36h0m0 22h0m0 94h0m0 44h0m1-219h0m0 82h0m0 51h0m1-114h0m0 4h0m1 22h0m0 13h0m0 77h0m1-80h0m0 122h0m1-104h0m0 18h0m1 118h0m1-188h0m0 89h0m0 92h0m1-148h0m0 29h0m0 16h0m1-8h0m0 34h0m1-75h0m1 30h0m0 75h0m1-59h0m1-16h0m0 25h0m0 68h0m1-113h0m0 22h0m1 4h0m0 6h0m1-86h0m0 99h0m0 27h0m1-84h0m0 76h0m2-101h0m1-10h0m0 112h0m1-57h0m2-69h0m0 106h0m0 11h0m2 48h0m0 30h0m2-75h0m2-5h0m1-110h0m2 24h0m0 66h0m0 15h0m3 109h0m1-33h0m1 32h0m1-149h0m4 86h0m20 64h0m38-1h0m14 2h0m19-73h0"/>
<path d="M103 -122h0m1 20h0m2 5h0m2-6h0m1-22h0m1-18h0m1 24h0m1-24h0m1-61h0m0 63h0m1 9h0m1 4h0m2-1h0m0 6h0m0 7h0m1-118h0m0 12h0m0 59h0m0 68h0m1-47h0m0 7h0m0 7h0m0 16h0m0 6h0m1-116h0m0 91h0m0 9h0m0 19h0m0 7h0m1-109h0m0 50h0m0 2h0m0 19h0m0 9h0m0 21h0m1-36h0m0 6h0m0 6h0m0 1h0m0 3h0m0 1h0m0 21h0m1-33h0m0 10h0m0 30h0m1-52h0m0 42h0m0 5h0m1-51h0m0 26h0m0 6h0m0 2h0m0 2h0m0 3h0m0 1h0m0 4h0m0 9h0m1-45h0m0 10h0m0 11h0m0 10h0m0 6h0m0 8h0m0 12h0m1-60h0m0 4h0m0 11h0m0 8h0m0 16h0m1-45h0m0 17h0m0 14h0m0 4h0m0 6h0m1-32h0m0 15h0m0 6h0m0 2h0m0 3h0m0 1h0m0 1h0m0 1h0m0 1h0m0 3h0m1-41h0m0 15h0m0 14h0m0 5h0m0 2h0m0 4h0m0 1h0m0 8h0m0 3h0m0 3h0m0 14h0m1-152h0m0 27h0m0 52h0m0 7h0m0 16h0m0 1h0m0 2h0m0 1h0m0 1h0m0 4h0m0 1h0m0 5h0m0 2h0m0 10h0m0 1h0m0 2h0m0 9h0m0 1h0m1-57h0m0 14h0m0 6h0m0 2h0m0 1h0m0 3h0m0 2h0m0 4h0m0 1h0m0 1h0m0 1h0m0 9h0m0 3h0m0 12h0m1-68h0m0 11h0m0 8h0m0 3h0m0 3h0m0 1h0m0 2h0m0 1h0m0 2h0m0 2h0m0 2h0m0 4h0m0 2h0m0 2h0m0 6h0m0 22h0m1-68h0m0 13h0m0 1h0m0 10h0m0 7h0m0 2h0m0 2h0m0 1h0m0 3h0m0 1h0m0 3h0m0 9h0m0 3h0m0 2h0m0 1h0m0 1h0m0 4h0m1-49h0m0 2h0m0 6h0m0 2h0m0 1h0m0 2h0m0 2h0m0 1h0m0 3h0m0 1h0m0 1h0m0 4h0m0 1h0m0 1h0m0 1h0m0 3h0m0 1h0m0 7h0m0 1h0m0 14h0m1-77h0m0 22h0m0 6h0m0 3h0m0 1h0m0 2h0m0 2h0m0 1h0m0 12h0m0 1h0m0 4h0m0 3h0m0 3h0m0 1h0m0 11h0m0 2h0m1-56h0m0 8h0m0 11h0m0 3h0m0 1h0m0 4h0m0 4h0m0 3h0m0 1h0m0 4h0m0 8h0m0 2h0m1-141h0m0 67h0m0 20h0m0 9h0m0 5h0m0 1h0m0 3h0m0 1h0m0 1h0m0 6h0m0 2h0m0 1h0m0 2h0m0 2h0m0 4h0m0 3h0m0 3h0m0 1h0m0 7h0m0 1h0m0 6h0m0 3h0m0 3h0m0 4h0m1-66h0m0 1h0m0 3h0m0 11h0m0 4h0m0 4h0m0 1h0m0 2h0m0 1h0m0 1h0m0 1h0m0 1h0m0 2h0m0 2h0m0 2h0m0 1h0m0 1h0m0 2h0m0 2h0m0 1h0m0 1h0m0 2h0m0 2h0m0 6h0m0 2h0m1-55h0m0 9h0m0 2h0m0 14h0m0 3h0m0 1h0m0 1h0m0 1h0m0 1h0m0 1h0m0 1h0m0 2h0m0 3h0m0 1h0m0 1h0m0 2h0m0 2h0m0 6h0m0 14h0m0 6h0m1-82h0m0 10h0m0 5h0m0 1h0m0 7h0m0 1h0m0 1h0m0 1h0m0 3h0m0 1h0m0 1h0m0 1h0m0 1h0m0 3h0m0 1h0m0 1h0m0 1h0m0 3h0m0 4h0m0 2h0m0 1h0m0 3h0m0 4h0m0 1h0m0 3h0m0 10h0m0 10h0m1-56h0m0 1h0m0 3h0m0 1h0m0 1h0m0 2h0m0 1h0m0 8h0m0 1h0m0 1h0m0 1h0m0 3h0m0 1h0m0 1h0m0 3h0m0 1h0m0 1h0m0 7h0m0 2h0m0 1h0m0 6h0m0 13h0m1-92h0m0 33h0m0 1h0m0 1h0m0 4h0m0 2h0m0 5h0m0 1h0m0 3h0m0 1h0m0 2h0m0 1h0m0 2h0m0 1h0m0 2h0m0 3h0m0 2h0m0 4h0m0 1h0m0 6h0m1-84h0m0 12h0m0 17h0m0 8h0m0 5h0m0 8h0m0 2h0m0 2h0m0 1h0m0 1h0m0 1h0m0 2h0m0 1h0m0 1h0m0 2h0m0 3h0m0 1h0m0 3h0m0 2h0m0 2h0m0 1h0m0 9h0m1-45h0m0 2h0m0 2h0m0 10h0m0 1h0m0 1h0m0 2h0m0 2h0m0 3h0m0 1h0m0 8h0m0 2h0m0 3h0m0 1h0m0 13h0m1-57h0m0 9h0m0 2h0m0 2h0m0 5h0m0 7h0m0 4h0m0 2h0m0 5h0m0 6h0m0 1h0m0 2h0m0 3h0m0 2h0m0 4h0m0 3h0m0 4h0m1-100h0m0 43h0m0 3h0m0 1h0m0 4h0m0 1h0m0 2h0m0 2h0m0 3h0m0 1h0m0 4h0m0 6h0m0 1h0m0 1h0m0 3h0m0 7h0m0 1h0m0 7h0m1-69h0m0 10h0m0 9h0m0 5h0m0 4h0m0 3h0m0 3h0m0 4h0m0 4h0m0 4h0m0 3h0m0 1h0m0 5h0m0 2h0m0 16h0m0 2h0m1-85h0m0 18h0m0 4h0m0 9h0m0 1h0m0 10h0m0 5h0m0 11h0m0 2h0m0 2h0m0 2h0m0 8h0m0 1h0m0 5h0m0 7h0m0 3h0m1-141h0m0 18h0m0 47h0m0 12h0m0 13h0m0 3h0m0 6h0m0 3h0m0 12h0m0 5h0m0 5h0m0 10h0m0 6h0m1-103h0m0 74h0m0 7h0m0 3h0m0 3h0m1-36h0m0 19h0m0 3h0m0 7h0m0 2h0m0 12h0m0 8h0m1-45h0m0 7h0m0 9h0m0 7h0m0 3h0m0 21h0m1-57h0m0 24h0m0 2h0m0 1h0m0 2h0m0 3h0m1-121h0m0 83h0m0 16h0m0 24h0m0 2h0m0 1h0m0 9h0m1-71h0m0 19h0m0 14h0m0 10h0m0 5h0m0 18h0m0 7h0m0 4h0m1-145h0m0 51h0m0 39h0m0 30h0m0 5h0m0 10h0m1-76h0m0 41h0m0 17h0m0 4h0m1-20h0m0 4h0m0 15h0m0 16h0m0 9h0m1-94h0m0 72h0m0 3h0m0 13h0m0 13h0m1-77h0m0 20h0m0 5h0m0 12h0m0 27h0m0 2h0m0 6h0m1-144h0m0 99h0m0 38h0m0 23h0m1-108h0m0 40h0m0 5h0m0 1h0m0 3h0m0 4h0m0 21h0m1-34h0m0 1h0m0 14h0m0 16h0m1-38h0m0 29h0m1-31h0m0 24h0m0 8h0m0 12h0m0 7h0m1-29h0m1-31h0m0 32h0m0 14h0m1-53h0m0 17h0m0 6h0m0 16h0m0 30h0m1-59h0m0 39h0m0 6h0m1-5h0m0 18h0m1 6h0m1-64h0m0 5h0m1-51h0m0 33h0m0 11h0m0 10h0m0 2h0m1-65h0m0 61h0m1-28h0m1 17h0m0 14h0m0 17h0m0 5h0m0 18h0m1-130h0m0 38h0m0 77h0m1-79h0m0 63h0m0 8h0m1-102h0m0 27h0m0 11h0m0 27h0m1-13h0m0 49h0m1-31h0m0 18h0m0 13h0m0 41h0m1-78h0m0 34h0m2-17h0m0 11h0m1 2h0m1-32h0m0 32h0m1 24h0m1-52h0m0 9h0m0 26h0m0 4h0m1-35h0m0 8h0m0 46h0m0 15h0m1-79h0m0 36h0m3-18h0m0 3h0m1 27h0m1-31h0m0 36h0m0 10h0m1-95h0m0 11h0m0 78h0m0 6h0m1-51h0m1 27h0m0 9h0m1-79h0m0 99h0m0 6h0m2-30h0m0 1h0m0 20h0m0 2h0m0 12h0m1-42h0m0 33h0m2-45h0m0 19h0m0 25h0m1-85h0m0 19h0m0 21h0m0 128h0m1-117h0m1-113h0m0 154h0m1-146h0m0 114h0m0 27h0m0 4h0m0 2h0m0 10h0m0 12h0m1-26h0m1-90h0m1-26h0m0 74h0m1 64h0m2-125h0m0 38h0m0 84h0m1-89h0m2-50h0m1-12h0m0 94h0m0 30h0m0 14h0m2-95h0m0 49h0m0 13h0m0 71h0m1-39h0m0 3h0m1-94h0m0 48h0m0 77h0m1-60h0m0 49h0m1-52h0m0 22h0m1-19h0m1-82h0m0 73h0m1-102h0m2 63h0m0 7h0m0 63h0m1-86h0m1 119h0m1-47h0m0 8h0m1-115h0m0 22h0m0 13h0m0 62h0m0 29h0m1-130h0m1 26h0m0 32h0m0 18h0m1 30h0m1-93h0m0 76h0m0 6h0m1-42h0m1-6h0m1 21h0m1-59h0m0 25h0m0 51h0m0 14h0m0 81h0m1-141h0m0 51h0m0 9h0m0 75h0m1-121h0m0 20h0m1-27h0m0 25h0m0 55h0m0 21h0m1-138h0m0 94h0m0 118h0m1-126h0m0 125h0m1-238h0m0 44h0m0 48h0m0 22h0m0 12h0m1-5h0m1-3h0m1 16h0m0 84h0m1-118h0m0 35h0m2-121h0m0 21h0m0 66h0m0 2h0m1-101h0m0 122h0m1-30h0m0 68h0m1-77h0m0 141h0m2-149h0m0 37h0m0 28h0m1 8h0m3-58h0m0 45h0m1-1h0m1-97h0m2-35h0m0 87h0m1-49h0m0 78h0m0 31h0m0 6h0m1 2h0m1-86h0m0 58h0m0 37h0m1-114h0m0 4h0m0 181h0m1-238h0m0 73h0m0 38h0m0 30h0m1-89h0m0 87h0m1-40h0m0 49h0m0 42h0m1-39h0m1-18h0m1-49h0m0 18h0m0 54h0m1-70h0m0 58h0m1-152h0m1 20h0m1 107h0m0 18h0m2-116h0m1-5h0m0 114h0m1-96h0m0 63h0m0 7h0m0 54h0m1-118h0m0 35h0m1-3h0m0 17h0m0 22h0m0 9h0m1-54h0m0 7h0m0 91h0m1-120h0m0 62h0m0 99h0m1-133h0m0 21h0m1-60h0m1 50h0m0 55h0m1 99h0m1-186h0m1-53h0m0 70h0m0 8h0m0 36h0m1-60h0m0 8h0m0 96h0m1-96h0m0 32h0m0 5h0m0 21h0m0 19h0m1-117h0m0 24h0m0 10h0m0 24h0m0 56h0m0 38h0m1-67h0m2-63h0m2 52h0m1-4h0m0 26h0m2-16h0m0 4h0m1 8h0m0 13h0m1-27h0m0 18h0m1-42h0m1-30h0m1 128h0m1 64h0m2-117h0m0 119h0m2-172h0m1 46h0m1-46h0m0 6h0m0 151h0m3-97h0m3-80h0m9-36h0m22 227h0m6 0h0m6 0h0m2 0h0m16 0h0m7-1h0m55-122h0m5 53h0"/>
<path d="M91 -102h0m3-56h0m4 33h0m4-13h0m1 35h0m3-131h0m1 150h0m1-42h0m2-67h0m1 107h0m1-111h0m1 62h0m0 19h0m2-40h0m0 7h0m0 11h0m0 36h0m0 2h0m1-22h0m1-17h0m0 16h0m0 11h0m0 14h0m1-55h0m0 21h0m1-14h0m1-48h0m0 49h0m0 12h0m0 3h0m0 3h0m0 6h0m0 9h0m1-46h0m0 13h0m0 2h0m0 16h0m0 10h0m1-57h0m0 31h0m0 17h0m0 2h0m0 3h0m0 4h0m0 1h0m0 6h0m0 3h0m1-115h0m0 105h0m1-28h0m0 10h0m0 13h0m0 5h0m0 3h0m0 9h0m1-41h0m0 12h0m0 5h0m0 46h0m1-113h0m0 49h0m0 8h0m0 6h0m0 5h0m0 7h0m0 1h0m0 7h0m0 1h0m0 12h0m1-52h0m0 1h0m0 9h0m0 19h0m0 2h0m0 2h0m0 5h0m0 3h0m0 4h0m0 6h0m0 3h0m1-61h0m0 10h0m0 14h0m0 2h0m0 7h0m0 6h0m0 4h0m0 6h0m0 1h0m0 8h0m1-43h0m0 9h0m0 9h0m0 6h0m0 7h0m0 1h0m0 13h0m0 32h0m1-76h0m0 5h0m0 3h0m0 2h0m0 3h0m0 2h0m0 5h0m0 6h0m0 1h0m0 1h0m0 3h0m0 4h0m1-32h0m0 1h0m0 7h0m0 1h0m0 3h0m0 1h0m0 3h0m0 1h0m0 1h0m0 4h0m0 4h0m0 2h0m0 2h0m0 4h0m0 15h0m1-66h0m0 14h0m0 1h0m0 6h0m0 8h0m0 1h0m0 2h0m0 2h0m0 2h0m0 2h0m0 1h0m0 3h0m0 6h0m0 4h0m0 1h0m0 3h0m0 3h0m1-71h0m0 14h0m0 4h0m0 14h0m0 6h0m0 6h0m0 1h0m0 2h0m0 3h0m0 2h0m0 1h0m0 2h0m0 3h0m0 2h0m0 1h0m0 1h0m0 14h0m1-43h0m0 3h0m0 3h0m0 5h0m0 2h0m0 1h0m0 1h0m0 1h0m0 4h0m0 1h0m0 1h0m0 1h0m0 1h0m0 1h0m0 1h0m0 1h0m0 1h0m0 2h0m0 4h0m0 1h0m1-43h0m0 2h0m0 2h0m0 4h0m0 1h0m0 3h0m0 5h0m0 3h0m0 2h0m0 1h0m0 1h0m0 2h0m0 1h0m0 2h0m0 2h0m0 3h0m0 2h0m0 2h0m0 1h0m0 1h0m0 1h0m1-108h0m0 28h0m0 28h0m0 5h0m0 9h0m0 1h0m0 4h0m0 1h0m0 4h0m0 3h0m0 2h0m0 2h0m0 2h0m0 1h0m0 2h0m0 3h0m0 5h0m0 1h0m0 6h0m0 2h0m0 1h0m0 1h0m0 1h0m0 2h0m0 1h0m0 2h0m1-48h0m0 2h0m0 2h0m0 2h0m0 1h0m0 5h0m0 9h0m0 2h0m0 1h0m0 1h0m0 1h0m0 2h0m0 4h0m0 1h0m0 2h0m0 2h0m0 1h0m0 8h0m0 17h0m1-59h0m0 9h0m0 2h0m0 2h0m0 3h0m0 4h0m0 3h0m0 1h0m0 1h0m0 1h0m0 2h0m0 1h0m0 1h0m0 2h0m0 1h0m0 5h0m0 8h0m1-103h0m0 43h0m0 7h0m0 3h0m0 5h0m0 3h0m0 1h0m0 3h0m0 2h0m0 1h0m0 1h0m0 2h0m0 2h0m0 2h0m0 4h0m0 2h0m0 1h0m0 3h0m0 4h0m0 1h0m0 10h0m0 3h0m1-146h0m0 22h0m0 65h0m0 10h0m0 1h0m0 3h0m0 2h0m0 1h0m0 3h0m0 3h0m0 1h0m0 6h0m0 3h0m0 1h0m0 2h0m0 1h0m0 6h0m0 9h0m0 2h0m1-90h0m0 46h0m0 3h0m0 7h0m0 1h0m0 2h0m0 1h0m0 1h0m0 1h0m0 4h0m0 2h0m0 1h0m0 2h0m0 6h0m0 3h0m0 8h0m0 1h0m0 4h0m0 7h0m0 1h0m0 14h0m1-122h0m0 55h0m0 2h0m0 6h0m0 1h0m0 4h0m0 1h0m0 3h0m0 1h0m0 2h0m0 4h0m0 4h0m0 2h0m0 1h0m0 1h0m0 1h0m0 1h0m0 6h0m0 2h0m1-140h0m0 4h0m0 77h0m0 11h0m0 8h0m0 5h0m0 4h0m0 1h0m0 1h0m0 1h0m0 2h0m0 5h0m0 2h0m0 3h0m0 3h0m0 1h0m0 1h0m0 2h0m0 4h0m0 1h0m0 12h0m1-132h0m0 77h0m0 5h0m0 7h0m0 4h0m0 1h0m0 1h0m0 6h0m0 2h0m0 2h0m0 4h0m0 2h0m0 4h0m0 1h0m0 1h0m0 2h0m0 4h0m0 1h0m0 1h0m0 3h0m1-68h0m0 18h0m0 1h0m0 14h0m0 1h0m0 8h0m0 1h0m0 5h0m0 1h0m0 5h0m0 3h0m0 1h0m0 5h0m0 1h0m0 2h0m0 5h0m0 3h0m1-55h0m0 7h0m0 3h0m0 4h0m0 2h0m0 7h0m0 1h0m0 4h0m0 1h0m0 1h0m0 8h0m0 1h0m0 1h0m0 4h0m0 5h0m0 14h0m0 2h0m1-139h0m0 90h0m0 4h0m0 7h0m0 2h0m0 3h0m0 2h0m0 3h0m0 5h0m0 4h0m0 10h0m1-55h0m0 18h0m0 5h0m0 1h0m0 4h0m0 4h0m0 2h0m0 9h0m0 3h0m0 5h0m1-47h0m0 17h0m0 1h0m0 2h0m0 1h0m0 10h0m1-59h0m0 4h0m0 1h0m0 14h0m0 1h0m0 11h0m0 7h0m0 4h0m0 3h0m0 3h0m0 3h0m0 1h0m0 5h0m0 2h0m0 15h0m1-47h0m0 12h0m0 7h0m0 4h0m0 7h0m0 4h0m0 1h0m0 8h0m1-114h0m0 76h0m0 7h0m0 3h0m0 5h0m0 6h0m0 1h0m0 2h0m0 2h0m0 13h0m0 12h0m1-77h0m0 19h0m0 3h0m0 23h0m0 2h0m0 2h0m0 4h0m0 10h0m1-53h0m0 15h0m0 5h0m0 5h0m0 2h0m0 1h0m0 1h0m0 22h0m0 3h0m0 10h0m0 7h0m1-52h0m0 16h0m0 8h0m0 7h0m1-133h0m0 21h0m0 83h0m0 12h0m0 2h0m0 1h0m0 14h0m0 6h0m0 12h0m0 15h0m1-135h0m0 49h0m0 3h0m0 6h0m0 4h0m0 26h0m0 10h0m1-88h0m0 54h0m0 6h0m0 5h0m0 5h0m0 5h0m0 15h0m1-49h0m0 36h0m0 1h0m0 19h0m0 6h0m1-79h0m0 10h0m0 18h0m0 20h0m0 34h0m0 24h0m1-124h0m0 45h0m0 2h0m0 16h0m0 11h0m0 16h0m1-38h0m0 21h0m0 1h0m0 1h0m0 6h0m0 32h0m0 1h0m1-82h0m0 1h0m0 2h0m0 6h0m0 37h0m1-127h0m0 53h0m0 5h0m0 15h0m0 29h0m0 31h0m1-52h0m0 1h0m0 20h0m0 1h0m0 6h0m0 5h0m0 3h0m0 4h0m0 17h0m1-54h0m0 26h0m0 8h0m0 24h0m1 16h0m2-165h0m0 98h0m0 8h0m0 18h0m1-31h0m0 12h0m0 11h0m1-35h0m0 10h0m0 12h0m0 59h0m1-55h0m0 19h0m0 21h0m1-75h0m0 33h0m0 24h0m1-125h0m0 89h0m0 44h0m1-13h0m1-54h0m0 8h0m1-52h0m0 97h0m0 4h0m0 1h0m0 21h0m1-15h0m0 14h0m1-76h0m1 0h0m0 25h0m1 49h0m0 2h0m1-118h0m0 51h0m0 17h0m1-20h0m1 39h0m0 10h0m1 33h0m1-69h0m1 25h0m1-47h0m0 3h0m0 5h0m0 16h0m0 46h0m1-42h0m0 8h0m0 3h0m0 41h0m1-74h0m0 31h0m0 7h0m0 40h0m0 18h0m1-165h0m0 153h0m1-111h0m1 16h0m0 42h0m0 18h0m1-115h0m0 8h0m0 63h0m0 4h0m0 31h0m2-10h0m0 5h0m1-16h0m0 7h0m0 35h0m0 66h0m1-175h0m0 25h0m0 5h0m0 70h0m0 8h0m0 8h0m1-69h0m0 35h0m0 55h0m1-143h0m0 82h0m0 13h0m1-70h0m1 75h0m1-42h0m0 55h0m1-125h0m0 15h0m0 3h0m1 81h0m0 10h0m1-107h0m0 79h0m0 15h0m1-85h0m0 118h0m1-29h0m1 85h0m1-116h0m0 3h0m1-31h0m0 24h0m1-29h0m0 79h0m0 15h0m1-60h0m0 25h0m0 44h0m0 5h0m0 74h0m2-176h0m0 70h0m1-29h0m0 26h0m2-65h0m1 19h0m0 1h0m1-29h0m1-9h0m0 54h0m0 11h0m0 16h0m0 3h0m0 33h0m1-127h0m1-2h0m0 46h0m0 93h0m2-95h0m0 42h0m1-66h0m0 22h0m0 28h0m0 119h0m2-180h0m0 31h0m0 14h0m0 21h0m0 7h0m0 11h0m0 101h0m0 4h0m1-174h0m0 50h0m0 10h0m0 79h0m1-85h0m0 56h0m1-128h0m0 44h0m0 11h0m0 20h0m2-14h0m1-70h0m0 52h0m0 12h0m0 33h0m0 40h0m1 55h0m1-141h0m0 21h0m0 7h0m0 49h0m0 10h0m0 2h0m2-65h0m1-6h0m0 61h0m1-107h0m0 161h0m2-185h0m0 200h0m1-100h0m0 121h0m1-181h0m0 2h0m0 112h0m0 46h0m1-122h0m1 143h0m2-203h0m0 30h0m0 21h0m1 36h0m0 28h0m0 59h0m1-122h0m0 76h0m1-104h0m0 8h0m0 39h0m0 47h0m0 6h0m1-119h0m0 114h0m1-150h0m0 9h0m0 103h0m1-15h0m1-27h0m0 71h0m0 25h0m1-103h0m1 2h0m0 46h0m0 27h0m1-103h0m0 107h0m0 92h0m1-184h0m0 39h0m0 85h0m2-153h0m0 54h0m0 62h0m1-120h0m0 26h0m0 22h0m0 39h0m1 57h0m2-153h0m0 87h0m0 16h0m1-125h0m0 100h0m1-95h0m1 28h0m0 120h0m1 10h0m0 39h0m1-57h0m0 39h0m1-79h0m0 19h0m0 28h0m0 15h0m1-86h0m1-66h0m0 40h0m0 54h0m2 48h0m1-143h0m0 46h0m0 24h0m1 28h0m0 56h0m0 6h0m1 61h0m1-136h0m1 25h0m1-81h0m0 121h0m1-92h0m1 3h0m0 40h0m0 109h0m1-56h0m2-128h0m1 33h0m0 41h0m0 27h0m0 61h0m1-143h0m1-2h0m0 20h0m2-47h0m1 104h0m0 52h0m1-109h0m0 8h0m0 42h0m1 2h0m0 116h0m1-202h0m0 80h0m0 109h0m1-175h0m1 43h0m1 75h0m1 73h0m1-150h0m1-44h0m0 56h0m0 6h0m1-115h0m1 78h0m0 64h0m1 19h0m3-66h0m0 57h0m1-28h0m0 32h0m3-88h0m0 16h0m0 12h0m0 56h0m1-27h0m1-14h0m1 91h0m1-180h0m0 126h0m1-68h0m0 65h0m4-118h0m1 148h0m2-75h0m4 148h0m1-65h0m16 65h0m14-2h0m72-87h0"/>
<path d="M89 -158h0m14 78h0m3-55h0m2-86h0m0 72h0m2-46h0m0 107h0m2-67h0m0 16h0m1 36h0m0 2h0m0 13h0m2-118h0m0 96h0m1-132h0m0 104h0m0 19h0m1-70h0m0 36h0m0 6h0m0 27h0m0 5h0m1-112h0m0 94h0m0 4h0m0 6h0m1-100h0m0 19h0m0 92h0m0 2h0m0 23h0m1-49h0m0 18h0m0 22h0m1-72h0m0 26h0m0 14h0m0 11h0m0 31h0m1-62h0m0 29h0m0 3h0m0 4h0m0 4h0m0 7h0m1-123h0m0 72h0m0 26h0m0 5h0m0 1h0m0 1h0m0 1h0m0 1h0m0 6h0m1-101h0m0 14h0m0 58h0m0 16h0m0 1h0m0 18h0m0 2h0m0 6h0m1-45h0m0 8h0m0 7h0m0 19h0m1-53h0m0 10h0m0 17h0m0 1h0m0 5h0m0 36h0m1-66h0m0 20h0m0 11h0m0 1h0m0 9h0m0 4h0m0 2h0m0 16h0m0 5h0m1-52h0m0 9h0m0 4h0m0 5h0m0 1h0m0 2h0m0 3h0m0 2h0m0 1h0m0 1h0m0 10h0m0 25h0m1-97h0m0 23h0m0 11h0m0 10h0m0 2h0m0 1h0m0 9h0m0 1h0m0 3h0m1-37h0m0 1h0m0 6h0m0 2h0m0 6h0m0 3h0m0 10h0m0 1h0m0 2h0m0 1h0m0 2h0m0 6h0m0 1h0m0 1h0m0 1h0m0 5h0m0 3h0m1-115h0m0 76h0m0 2h0m0 3h0m0 2h0m0 1h0m0 5h0m0 2h0m0 3h0m0 1h0m0 1h0m0 1h0m0 1h0m0 7h0m0 6h0m0 1h0m0 2h0m0 10h0m0 8h0m0 1h0m0 13h0m1-62h0m0 5h0m0 2h0m0 6h0m0 1h0m0 4h0m0 3h0m0 5h0m0 2h0m0 1h0m1-36h0m0 5h0m0 2h0m0 8h0m0 2h0m0 1h0m0 2h0m0 4h0m0 2h0m0 1h0m0 1h0m0 1h0m0 1h0m0 1h0m0 10h0m1-101h0m0 53h0m0 8h0m0 1h0m0 5h0m0 2h0m0 5h0m0 2h0m0 2h0m0 1h0m0 1h0m0 1h0m0 1h0m0 1h0m0 3h0m0 1h0m0 1h0m0 2h0m0 4h0m0 4h0m0 2h0m0 12h0m1-54h0m0 7h0m0 3h0m0 4h0m0 2h0m0 3h0m0 1h0m0 2h0m0 1h0m0 1h0m0 1h0m0 1h0m0 4h0m0 1h0m0 2h0m0 1h0m0 2h0m0 33h0m1-81h0m0 8h0m0 6h0m0 4h0m0 10h0m0 5h0m0 1h0m0 2h0m0 4h0m0 3h0m0 1h0m0 4h0m0 2h0m0 2h0m0 1h0m0 4h0m0 8h0m0 1h0m1-145h0m0 76h0m0 9h0m0 17h0m0 1h0m0 3h0m0 1h0m0 3h0m0 1h0m0 3h0m0 4h0m0 1h0m0 2h0m0 4h0m0 1h0m0 4h0m0 4h0m0 4h0m0 2h0m0 13h0m1-146h0m0 71h0m0 13h0m0 4h0m0 1h0m0 8h0m0 1h0m0 5h0m0 4h0m0 1h0m0 2h0m0 1h0m0 1h0m0 3h0m0 2h0m0 1h0m0 1h0m0 11h0m0 10h0m1-47h0m0 1h0m0 6h0m0 2h0m0 3h0m0 1h0m0 2h0m0 4h0m0 3h0m0 2h0m0 5h0m0 1h0m0 1h0m0 1h0m0 4h0m0 9h0m1-77h0m0 2h0m0 11h0m0 16h0m0 2h0m0 2h0m0 2h0m0 6h0m0 2h0m0 1h0m0 3h0m0 2h0m0 1h0m0 3h0m0 7h0m0 1h0m1-36h0m0 1h0m0 5h0m0 1h0m0 2h0m0 6h0m0 3h0m0 3h0m0 2h0m0 1h0m0 4h0m0 5h0m0 3h0m0 4h0m0 1h0m0 3h0m0 1h0m0 9h0m1-124h0m0 58h0m0 7h0m0 4h0m0 2h0m0 1h0m0 3h0m0 2h0m0 5h0m0 2h0m0 2h0m0 6h0m0 4h0m0 8h0m0 7h0m1-55h0m0 4h0m0 2h0m0 13h0m0 6h0m0 6h0m0 6h0m0 3h0m0 3h0m0 1h0m0 1h0m0 2h0m0 3h0m0 1h0m0 10h0m1-84h0m0 34h0m0 1h0m0 8h0m0 1h0m0 7h0m0 1h0m0 1h0m0 2h0m0 4h0m0 4h0m0 2h0m0 4h0m0 2h0m0 5h0m0 1h0m0 3h0m0 2h0m0 5h0m1-105h0m0 54h0m0 11h0m0 2h0m0 2h0m0 2h0m0 3h0m0 1h0m0 1h0m0 1h0m0 5h0m0 1h0m0 1h0m0 1h0m0 1h0m0 4h0m0 2h0m0 1h0m0 2h0m0 1h0m1-125h0m0 56h0m0 27h0m0 2h0m0 1h0m0 1h0m0 1h0m0 9h0m0 1h0m0 2h0m0 1h0m0 4h0m0 8h0m0 2h0m0 3h0m1-47h0m0 11h0m0 16h0m0 1h0m0 10h0m0 1h0m0 2h0m0 3h0m0 1h0m0 3h0m0 4h0m0 1h0m1-66h0m0 26h0m0 7h0m0 4h0m0 10h0m0 5h0m0 2h0m0 9h0m0 2h0m0 4h0m0 5h0m1-96h0m0 26h0m0 12h0m0 11h0m0 3h0m0 10h0m0 7h0m0 3h0m0 4h0m0 6h0m0 1h0m0 3h0m0 3h0m0 24h0m1-139h0m0 25h0m0 1h0m0 57h0m0 6h0m0 2h0m0 2h0m0 4h0m0 6h0m0 2h0m0 10h0m0 3h0m0 12h0m1-114h0m0 59h0m0 6h0m0 9h0m0 5h0m0 5h0m0 2h0m0 1h0m0 8h0m0 4h0m0 1h0m0 2h0m1-53h0m0 24h0m0 9h0m0 4h0m0 7h0m0 1h0m0 2h0m1-76h0m0 25h0m0 10h0m0 19h0m0 4h0m0 5h0m0 11h0m0 27h0m1-72h0m0 4h0m0 21h0m0 5h0m0 3h0m0 3h0m0 10h0m0 4h0m0 29h0m1-94h0m0 2h0m0 17h0m0 4h0m0 12h0m0 5h0m0 10h0m0 12h0m0 13h0m1-69h0m0 12h0m0 6h0m0 1h0m0 10h0m0 3h0m0 4h0m0 21h0m0 5h0m0 22h0m1-91h0m0 35h0m0 9h0m0 7h0m0 16h0m0 25h0m1-144h0m0 85h0m0 8h0m1-102h0m0 63h0m0 17h0m0 13h0m0 11h0m0 4h0m0 3h0m0 4h0m0 3h0m0 4h0m0 13h0m1-40h0m0 1h0m0 14h0m0 11h0m1-34h0m0 29h0m0 3h0m0 4h0m1-54h0m0 45h0m0 7h0m0 11h0m0 3h0m1-39h0m0 10h0m0 4h0m1-95h0m0 48h0m0 24h0m0 14h0m0 15h0m0 3h0m0 2h0m1-88h0m0 49h0m0 19h0m1-69h0m0 68h0m0 1h0m0 19h0m0 5h0m1-32h0m0 36h0m1-122h0m0 49h0m0 32h0m0 2h0m0 20h0m1-62h0m0 50h0m0 2h0m0 27h0m1-78h0m0 41h0m0 22h0m1-37h0m0 21h0m0 5h0m0 11h0m1-134h0m0 67h0m0 57h0m0 25h0m0 1h0m1-46h0m0 41h0m0 22h0m1-160h0m0 60h0m0 33h0m0 1h0m0 42h0m0 3h0m1-125h0m0 79h0m0 7h0m0 5h0m0 9h0m1-26h0m0 17h0m0 3h0m0 21h0m1 15h0m1-33h0m1-32h0m0 60h0m1-30h0m0 53h0m2-102h0m0 40h0m2-57h0m0 60h0m0 42h0m1-93h0m0 4h0m0 56h0m1-37h0m0 48h0m0 10h0m0 30h0m1-90h0m0 31h0m0 15h0m0 17h0m1-52h0m0 25h0m0 26h0m0 4h0m1-56h0m0 13h0m0 7h0m0 11h0m0 24h0m1-126h0m0 66h0m0 7h0m0 46h0m1-14h0m0 14h0m0 32h0m1-42h0m2-47h0m1 4h0m0 23h0m0 49h0m1-33h0m0 2h0m0 47h0m1-139h0m0 90h0m0 17h0m0 33h0m1-85h0m0 17h0m0 13h0m3-89h0m0 73h0m0 5h0m0 20h0m2-96h0m0 12h0m0 82h0m0 28h0m1-30h0m0 14h0m1 27h0m1-93h0m0 6h0m0 58h0m1-65h0m0 40h0m0 8h0m0 38h0m1-114h0m0 41h0m0 61h0m0 95h0m1-177h0m0 1h0m0 28h0m0 28h0m0 95h0m2-198h0m0 122h0m1-25h0m0 5h0m1-27h0m0 2h0m0 19h0m0 113h0m1-162h0m0 87h0m1 7h0m0 89h0m1-240h0m0 2h0m0 61h0m0 43h0m0 56h0m0 3h0m0 45h0m1-175h0m0 7h0m0 5h0m0 15h0m0 84h0m1 4h0m1-80h0m0 30h0m0 11h0m0 10h0m1-95h0m2 96h0m1-51h0m0 30h0m0 24h0m0 24h0m1-81h0m0 22h0m0 27h0m1-5h0m0 16h0m1-33h0m1 36h0m1-57h0m0 53h0m0 2h0m3-82h0m0 76h0m1-98h0m0 36h0m0 24h0m0 8h0m0 14h0m1 47h0m0 9h0m0 31h0m1-175h0m0 67h0m0 36h0m1 31h0m1 78h0m1-137h0m0 12h0m0 22h0m0 24h0m1-76h0m0 12h0m0 4h0m0 9h0m0 70h0m1-46h0m1-64h0m0 22h0m1 133h0m0 24h0m1-224h0m0 149h0m1-113h0m0 1h0m2-44h0m0 18h0m0 117h0m0 29h0m1-106h0m0 78h0m0 64h0m0 2h0m1-125h0m0 14h0m1-65h0m0 43h0m0 75h0m1-44h0m2-36h0m1-12h0m0 22h0m0 17h0m1 32h0m0 18h0m1-28h0m2-74h0m0 29h0m0 51h0m0 23h0m1-134h0m0 72h0m0 1h0m0 52h0m1-33h0m1-93h0m0 105h0m0 31h0m0 62h0m1-157h0m0 93h0m1-108h0m0 39h0m0 58h0m0 101h0m1-101h0m1-83h0m0 39h0m0 40h0m1-76h0m0 76h0m0 14h0m1-71h0m0 37h0m0 24h0m3-94h0m0 196h0m1-97h0m1-80h0m1 117h0m1-86h0m2-44h0m0 88h0m1-105h0m1 69h0m1 15h0m1-69h0m0 65h0m1-52h0m1 27h0m1 15h0m3-93h0m0 154h0m1-111h0m0 19h0m0 3h0m1 29h0m0 31h0m0 5h0m1-44h0m0 8h0m0 135h0m1-84h0m0 76h0m1-136h0m2-93h0m0 117h0m0 111h0m1-96h0m1-54h0m1-4h0m0 40h0m1-54h0m0 46h0m0 59h0m1-140h0m0 133h0m1-111h0m0 36h0m0 31h0m1 2h0m1-28h0m1-41h0m0 73h0m2-38h0m2 31h0m0 18h0m1-35h0m0 33h0m0 44h0m0 18h0m0 20h0m1-219h0m0 95h0m0 19h0m0 41h0m0 90h0m1-154h0m0 119h0m1-128h0m0 6h0m1 31h0m0 88h0m1-58h0m2-22h0m1 65h0m1-99h0m0 40h0m1-16h0m1 43h0m2-103h0m2 61h0m1-10h0m1-10h0m0 53h0m1 33h0m0 61h0m1-174h0m14 55h0m10 119h0m12 0h0m28 0h0m11-65h0m53 5h0"/>
<path d="M83 -87h0m10-36h0m1 21h0m5-9h0m3-59h0m2 58h0m2-20h0m1 13h0m2 29h0m3-35h0m2-10h0m0 16h0m1-15h0m0 12h0m0 5h0m1-105h0m0 2h0m0 76h0m0 12h0m0 7h0m0 7h0m1-99h0m0 75h0m0 21h0m1-63h0m0 53h0m0 14h0m0 5h0m0 7h0m0 18h0m1-58h0m0 21h0m1-67h0m0 48h0m0 14h0m0 1h0m0 7h0m0 13h0m0 26h0m1-61h0m0 10h0m0 13h0m0 16h0m0 42h0m1-94h0m0 14h0m0 7h0m0 3h0m0 21h0m0 2h0m1-48h0m0 13h0m0 4h0m0 7h0m0 7h0m0 7h0m0 5h0m1-27h0m0 5h0m0 3h0m0 4h0m0 5h0m0 2h0m0 9h0m0 2h0m0 24h0m0 1h0m1-60h0m0 8h0m0 7h0m0 8h0m0 9h0m0 11h0m0 5h0m1-60h0m0 5h0m0 22h0m0 3h0m0 1h0m0 6h0m0 4h0m0 1h0m0 11h0m0 6h0m1-41h0m0 2h0m0 30h0m0 1h0m0 4h0m0 5h0m1-41h0m0 2h0m0 16h0m0 3h0m0 2h0m0 7h0m0 3h0m0 16h0m1-53h0m0 11h0m0 8h0m0 1h0m0 2h0m0 7h0m0 1h0m0 4h0m0 4h0m0 8h0m1-116h0m0 56h0m0 13h0m0 3h0m0 4h0m0 4h0m0 2h0m0 2h0m0 1h0m0 1h0m0 1h0m0 1h0m0 1h0m0 1h0m0 1h0m0 2h0m0 6h0m0 5h0m0 23h0m1-82h0m0 29h0m0 5h0m0 3h0m0 6h0m0 5h0m0 1h0m0 1h0m0 1h0m0 4h0m0 3h0m0 2h0m0 2h0m0 2h0m0 9h0m1-132h0m0 77h0m0 10h0m0 7h0m0 4h0m0 1h0m0 9h0m0 1h0m0 5h0m0 1h0m0 2h0m0 1h0m0 2h0m0 1h0m0 3h0m0 1h0m0 1h0m1-63h0m0 17h0m0 6h0m0 8h0m0 2h0m0 1h0m0 2h0m0 3h0m0 1h0m0 2h0m0 2h0m0 1h0m0 6h0m0 2h0m0 3h0m0 4h0m0 8h0m1-59h0m0 6h0m0 15h0m0 1h0m0 4h0m0 5h0m0 1h0m0 3h0m0 1h0m0 3h0m0 1h0m0 2h0m0 4h0m0 1h0m0 3h0m0 1h0m0 3h0m0 1h0m0 12h0m1-60h0m0 14h0m0 3h0m0 2h0m0 2h0m0 3h0m0 2h0m0 1h0m0 1h0m0 2h0m0 4h0m0 1h0m0 1h0m0 2h0m0 1h0m0 4h0m0 3h0m0 5h0m0 23h0m1-80h0m0 7h0m0 14h0m0 4h0m0 3h0m0 2h0m0 4h0m0 2h0m0 3h0m0 9h0m0 1h0m0 1h0m0 15h0m0 2h0m1-53h0m0 4h0m0 2h0m0 2h0m0 1h0m0 3h0m0 1h0m0 2h0m0 5h0m0 1h0m0 3h0m0 2h0m0 3h0m0 1h0m0 2h0m0 2h0m0 3h0m0 8h0m0 6h0m1-66h0m0 3h0m0 6h0m0 9h0m0 3h0m0 1h0m0 1h0m0 1h0m0 1h0m0 1h0m0 4h0m0 1h0m0 1h0m0 3h0m0 1h0m0 1h0m0 2h0m0 1h0m0 1h0m0 4h0m0 2h0m0 1h0m0 6h0m1-91h0m0 46h0m0 5h0m0 3h0m0 4h0m0 5h0m0 2h0m0 2h0m0 2h0m0 3h0m0 1h0m0 1h0m0 1h0m0 2h0m0 2h0m0 4h0m0 2h0m0 2h0m0 9h0m0 8h0m0 1h0m0 23h0m1-85h0m0 7h0m0 6h0m0 6h0m0 2h0m0 1h0m0 2h0m0 2h0m0 9h0m0 1h0m0 3h0m0 2h0m0 1h0m0 1h0m0 5h0m0 1h0m0 2h0m0 4h0m1-118h0m0 69h0m0 10h0m0 2h0m0 4h0m0 2h0m0 3h0m0 1h0m0 2h0m0 3h0m0 1h0m0 1h0m0 6h0m0 3h0m0 5h0m0 3h0m0 3h0m0 6h0m1-136h0m0 81h0m0 7h0m0 2h0m0 10h0m0 2h0m0 1h0m0 2h0m0 3h0m0 2h0m0 1h0m0 3h0m0 1h0m0 1h0m0 5h0m0 1h0m0 2h0m0 2h0m1-111h0m0 40h0m0 34h0m0 1h0m0 2h0m0 9h0m0 3h0m0 3h0m0 1h0m0 1h0m0 1h0m0 1h0m0 4h0m0 3h0m0 1h0m0 3h0m0 1h0m0 3h0m0 1h0m0 2h0m0 4h0m0 10h0m1-54h0m0 1h0m0 6h0m0 1h0m0 2h0m0 4h0m0 1h0m0 2h0m0 1h0m0 3h0m0 3h0m0 7h0m0 2h0m0 8h0m1-137h0m0 93h0m0 6h0m0 2h0m0 8h0m0 1h0m0 1h0m0 1h0m0 5h0m0 2h0m0 1h0m0 2h0m0 3h0m0 2h0m0 4h0m0 21h0m0 3h0m1-153h0m0 43h0m0 16h0m0 30h0m0 7h0m0 5h0m0 10h0m0 1h0m0 2h0m0 8h0m0 2h0m0 8h0m0 9h0m0 1h0m0 22h0m1-95h0m0 25h0m0 11h0m0 3h0m0 1h0m0 2h0m0 2h0m0 5h0m0 3h0m0 3h0m0 7h0m0 2h0m0 1h0m0 1h0m0 6h0m1-134h0m0 22h0m0 55h0m0 9h0m0 11h0m0 7h0m0 3h0m0 9h0m0 7h0m0 15h0m1-83h0m0 12h0m0 7h0m0 13h0m0 11h0m0 14h0m0 1h0m0 13h0m0 6h0m1-72h0m0 22h0m0 5h0m0 22h0m0 1h0m0 1h0m0 12h0m0 9h0m0 1h0m0 5h0m1-96h0m0 35h0m0 5h0m0 6h0m0 3h0m0 5h0m0 5h0m0 4h0m0 1h0m0 2h0m0 3h0m0 5h0m0 1h0m0 1h0m0 5h0m1-102h0m0 44h0m0 18h0m0 13h0m0 2h0m0 5h0m0 8h0m0 5h0m1-87h0m0 9h0m0 38h0m0 7h0m0 1h0m0 3h0m0 3h0m0 18h0m0 4h0m0 1h0m0 4h0m0 1h0m0 1h0m0 5h0m1-46h0m0 14h0m0 8h0m0 3h0m0 3h0m0 7h0m0 4h0m0 4h0m0 4h0m1-86h0m0 44h0m0 1h0m0 8h0m0 28h0m1-138h0m0 101h0m0 6h0m1-82h0m0 79h0m0 14h0m0 6h0m0 1h0m0 4h0m0 3h0m0 3h0m0 5h0m0 8h0m0 13h0m1-73h0m0 13h0m0 1h0m0 15h0m0 9h0m1-37h0m0 7h0m0 16h0m0 11h0m1-49h0m0 16h0m0 4h0m0 19h0m0 4h0m0 1h0m0 7h0m0 5h0m1-110h0m0 4h0m0 75h0m0 4h0m0 14h0m0 8h0m0 3h0m0 1h0m0 17h0m0 2h0m1-122h0m0 52h0m0 13h0m0 6h0m0 17h0m0 2h0m0 2h0m0 1h0m0 25h0m1-118h0m0 63h0m0 31h0m1-43h0m0 10h0m0 43h0m1-37h0m0 1h0m0 14h0m0 12h0m1-34h0m0 31h0m0 11h0m1-40h0m0 18h0m0 13h0m0 9h0m0 2h0m1-41h0m0 40h0m0 25h0m1-32h0m0 41h0m0 19h0m1-173h0m0 61h0m0 39h0m0 13h0m1-102h0m0 90h0m0 39h0m0 50h0m1-80h0m1-41h0m0 11h0m0 21h0m0 2h0m1-67h0m0 3h0m0 58h0m1 33h0m0 6h0m1-35h0m0 3h0m1-16h0m2-23h0m0 15h0m0 11h0m1 37h0m0 4h0m1-113h0m0 59h0m0 1h0m0 44h0m1-93h0m0 63h0m0 29h0m0 6h0m2-103h0m0 29h0m1 49h0m1-92h0m0 84h0m1-21h0m0 14h0m0 16h0m1-67h0m0 54h0m1-74h0m0 12h0m0 24h0m0 11h0m1-44h0m0 74h0m0 20h0m1-42h0m1-63h0m0 17h0m0 22h0m0 13h0m0 10h0m0 12h0m0 27h0m1-2h0m0 5h0m1 3h0m0 3h0m1-46h0m0 40h0m1-110h0m0 78h0m0 4h0m0 55h0m1-60h0m0 62h0m1-124h0m0 21h0m0 27h0m0 48h0m0 1h0m0 109h0m1-70h0m1-11h0m1-80h0m0 73h0m0 24h0m1-74h0m2-93h0m0 81h0m0 26h0m1-111h0m0 65h0m0 39h0m0 78h0m1-128h0m1-30h0m0 93h0m0 13h0m1-62h0m1-2h0m1 121h0m1-89h0m1 32h0m0 7h0m0 16h0m2 66h0m1-204h0m0 33h0m0 16h0m0 16h0m0 23h0m1-80h0m0 15h0m0 130h0m1-107h0m0 11h0m0 122h0m1-96h0m0 11h0m1 24h0m1-110h0m0 65h0m0 14h0m0 5h0m0 19h0m1-62h0m0 51h0m1 25h0m1-102h0m0 80h0m0 26h0m0 15h0m1-44h0m0 27h0m2-70h0m0 5h0m0 40h0m0 12h0m1-93h0m0 102h0m1 19h0m1-31h0m0 6h0m2-21h0m1-48h0m0 66h0m1-63h0m0 5h0m0 26h0m0 9h0m0 73h0m1-167h0m0 101h0m0 6h0m0 2h0m1-11h0m0 84h0m1-99h0m0 39h0m0 7h0m1-63h0m0 10h0m0 54h0m1 100h0m1-131h0m0 36h0m0 88h0m1-190h0m0 34h0m0 10h0m0 32h0m0 15h0m0 10h0m1-129h0m0 33h0m0 88h0m1-92h0m1-14h0m1-4h0m0 22h0m0 10h0m0 30h0m1-26h0m0 64h0m0 104h0m1-146h0m0 26h0m0 129h0m1-151h0m0 33h0m0 1h0m0 26h0m1-84h0m0 9h0m1 67h0m1-90h0m0 24h0m0 35h0m1 31h0m0 17h0m1-39h0m1-116h0m0 91h0m0 2h0m0 38h0m1-123h0m0 43h0m1-28h0m0 45h0m0 94h0m0 8h0m1-94h0m1-60h0m0 11h0m0 76h0m0 9h0m0 6h0m0 100h0m1-105h0m0 24h0m1-77h0m1-3h0m0 24h0m0 58h0m1-11h0m0 30h0m1-91h0m2 72h0m0 21h0m0 56h0m1-123h0m2-15h0m0 10h0m0 10h0m0 36h0m1-47h0m0 63h0m0 15h0m0 21h0m1-124h0m2 17h0m0 71h0m1-116h0m0 45h0m0 155h0m1-111h0m1 0h0m0 7h0m0 1h0m0 105h0m1-206h0m0 9h0m0 73h0m0 9h0m0 32h0m2-43h0m0 22h0m1-50h0m0 108h0m1-160h0m0 96h0m0 4h0m0 9h0m1-83h0m1 2h0m1 35h0m0 16h0m1-16h0m0 120h0m1-133h0m1 0h0m1 9h0m1-23h0m0 54h0m0 80h0m3-125h0m0 2h0m0 45h0m0 5h0m0 11h0m0 29h0m1-148h0m0 67h0m1-52h0m0 39h0m0 44h0m1 98h0m1-202h0m0 46h0m0 18h0m0 30h0m1 1h0m0 19h0m0 28h0m1-138h0m0 69h0m0 36h0m0 24h0m1-48h0m1 8h0m0 22h0m2-59h0m0 59h0m1-25h0m3-27h0m1-70h0m0 43h0m0 11h0m0 12h0m0 64h0m0 1h0m0 1h0m1-113h0m1 93h0m2-119h0m0 77h0m2 136h0m1-159h0m0 108h0m1-152h0m0 90h0m0 17h0m3-54h0m0 117h0m2-69h0m0 92h0m1-129h0m1 106h0m1-60h0m2 23h0m2-72h0m31 166h0m15 0h0m0 1h0m24-100h0"/>
</g>
</g>
<path d="M1132.8 52.2H1382.2V301.6H1132.8Z M1224.5 52.2V301.6M1132.8 209.6H1382.2" stroke="#2b2b2b" stroke-width="1.25" fill="none"/>
<path d="M1132.8 301.6v5.5M1132.8 301.6h-5.8M1151.6 301.6v2.6M1132.8 282.8h-2.6M1162.5 301.6v2.6M1132.8 271.9h-2.6M1170.3 301.6v2.6M1132.8 264.1h-2.6M1176.4 301.6v3.6M1132.8 258h-3.6M1181.3 301.6v2.6M1132.8 253.1h-2.6M1185.5 301.6v2.6M1132.8 248.9h-2.6M1189.1 301.6v2.6M1132.8 245.3h-2.6M1192.3 301.6v2.6M1132.8 242.1h-2.6M1195.1 301.6v5.5M1132.8 239.3h-5.8M1213.9 301.6v2.6M1132.8 220.5h-2.6M1224.9 301.6v2.6M1132.8 209.5h-2.6M1232.7 301.6v2.6M1132.8 201.7h-2.6M1238.7 301.6v3.6M1132.8 195.7h-3.6M1243.6 301.6v2.6M1132.8 190.8h-2.6M1247.8 301.6v2.6M1132.8 186.6h-2.6M1251.4 301.6v2.6M1132.8 183h-2.6M1254.6 301.6v2.6M1132.8 179.8h-2.6M1257.5 301.6v5.5M1132.8 176.9h-5.8M1276.2 301.6v2.6M1132.8 158.2h-2.6M1287.2 301.6v2.6M1132.8 147.2h-2.6M1295 301.6v2.6M1132.8 139.4h-2.6M1301 301.6v3.6M1132.8 133.4h-3.6M1306 301.6v2.6M1132.8 128.4h-2.6M1310.1 301.6v2.6M1132.8 124.3h-2.6M1313.7 301.6v2.6M1132.8 120.7h-2.6M1316.9 301.6v2.6M1132.8 117.5h-2.6M1319.8 301.6v5.5M1132.8 114.6h-5.8M1338.6 301.6v2.6M1132.8 95.8h-2.6M1349.5 301.6v2.6M1132.8 84.9h-2.6M1357.3 301.6v2.6M1132.8 77.1h-2.6M1363.4 301.6v3.6M1132.8 71h-3.6M1368.3 301.6v2.6M1132.8 66.1h-2.6M1372.5 301.6v2.6M1132.8 61.9h-2.6M1376.1 301.6v2.6M1132.8 58.3h-2.6M1379.3 301.6v2.6M1132.8 55.1h-2.6M1382.1 301.6v5.5M1132.8 52.3h-5.8" stroke="#2b2b2b" stroke-width="1.1" fill="none"/>
<text x="1125" y="320.2" font-size="10.5" fill="#222" stroke="#222" stroke-width="0.2">10<tspan dy="-4" font-size="7">2</tspan></text>
<text x="1109.4" y="305.4" font-size="10.5" fill="#222" stroke="#222" stroke-width="0.2">10<tspan dy="-4" font-size="7">2</tspan></text>
<text x="1187.3" y="320.2" font-size="10.5" fill="#222" stroke="#222" stroke-width="0.2">10<tspan dy="-4" font-size="7">3</tspan></text>
<text x="1109.4" y="243.1" font-size="10.5" fill="#222" stroke="#222" stroke-width="0.2">10<tspan dy="-4" font-size="7">3</tspan></text>
<text x="1249.7" y="320.2" font-size="10.5" fill="#222" stroke="#222" stroke-width="0.2">10<tspan dy="-4" font-size="7">4</tspan></text>
<text x="1109.4" y="180.7" font-size="10.5" fill="#222" stroke="#222" stroke-width="0.2">10<tspan dy="-4" font-size="7">4</tspan></text>
<text x="1312" y="320.2" font-size="10.5" fill="#222" stroke="#222" stroke-width="0.2">10<tspan dy="-4" font-size="7">5</tspan></text>
<text x="1109.4" y="118.4" font-size="10.5" fill="#222" stroke="#222" stroke-width="0.2">10<tspan dy="-4" font-size="7">5</tspan></text>
<text x="1374.3" y="320.2" font-size="10.5" fill="#222" stroke="#222" stroke-width="0.2">10<tspan dy="-4" font-size="7">6</tspan></text>
<text x="1109.4" y="56.1" font-size="10.5" fill="#222" stroke="#222" stroke-width="0.2">10<tspan dy="-4" font-size="7">6</tspan></text>
<text x="1257.5" y="343.3" font-size="16.4" text-anchor="middle" textLength="47" lengthAdjust="spacingAndGlyphs" stroke="#111" stroke-width="0.35">FITC-H</text>
<text x="1099.8" y="176.9" font-size="16.4" text-anchor="middle" transform="rotate(-90 1099.8 176.9)" textLength="29" lengthAdjust="spacingAndGlyphs" stroke="#111" stroke-width="0.35">PI-H</text>
<rect x="1132.8" y="52.7" width="43.7" height="22.8" rx="3.2" fill="#fff" stroke="#b0b0b0" stroke-width="1"/>
<text x="1134.6" y="70" font-size="16.6" textLength="39.1" lengthAdjust="spacingAndGlyphs" fill="#111" stroke="#111" stroke-width="0.35">3.17%</text>
<rect x="1337.8" y="52.7" width="44.4" height="22.8" rx="3.2" fill="#fff" stroke="#b0b0b0" stroke-width="1"/>
<text x="1339.6" y="70" font-size="16.6" textLength="39.8" lengthAdjust="spacingAndGlyphs" fill="#111" stroke="#111" stroke-width="0.35">7.15%</text>
<rect x="1132.8" y="268" width="52.7" height="23.6" rx="3.2" fill="#fff" stroke="#b0b0b0" stroke-width="1"/>
<text x="1134.6" y="286.1" font-size="16.6" textLength="48.1" lengthAdjust="spacingAndGlyphs" fill="#111" stroke="#111" stroke-width="0.35">53.76%</text>
<rect x="1320.3" y="268" width="53.3" height="23.6" rx="3.2" fill="#fff" stroke="#b0b0b0" stroke-width="1"/>
<text x="1322.1" y="286.1" font-size="16.6" textLength="48.7" lengthAdjust="spacingAndGlyphs" fill="#111" stroke="#111" stroke-width="0.35">35.92%</text>
<text x="1568.7" y="18.9" font-size="21.6" text-anchor="middle">LPS+Tomatidine-3</text>
<text x="1572.8" y="45.1" font-size="16.2" text-anchor="middle" textLength="120.5" lengthAdjust="spacingAndGlyphs" stroke="#111" stroke-width="0.35">[D] FITC-H / PI-H</text>
<g transform="translate(1448.1 301.6)">
<ellipse cx="67.9" cy="-58.6" rx="7.5" ry="11" fill="#ff0000" opacity="1" transform="rotate(-12 67.9 -58.6)" filter="url(#core)"/>
<g transform="scale(0.5)" stroke="#ff1010" stroke-opacity="0.68" stroke-width="3" stroke-linecap="round" fill="none">
<path d="M86 -127h0m4 6h0m3-21h0m4 30h0m2 5h0m1-14h0m1-11h0m0 26h0m0 6h0m2-29h0m0 6h0m1 32h0m1-153h0m0 96h0m2-84h0m1 120h0m1-27h0m0 30h0m1 0h0m1-129h0m0 100h0m0 22h0m0 14h0m2-26h0m0 5h0m1-130h0m0 110h0m0 2h0m0 4h0m0 14h0m1-24h0m0 14h0m0 6h0m0 4h0m0 10h0m0 5h0m1-56h0m0 6h0m0 29h0m0 8h0m0 4h0m0 1h0m1-143h0m0 14h0m0 108h0m0 4h0m0 13h0m0 3h0m0 8h0m0 16h0m1-66h0m0 13h0m0 7h0m0 4h0m0 5h0m0 3h0m0 1h0m0 6h0m0 1h0m0 5h0m1-33h0m0 2h0m0 6h0m0 1h0m0 10h0m0 12h0m0 2h0m0 4h0m0 3h0m0 1h0m0 3h0m0 2h0m1-149h0m0 99h0m0 14h0m0 17h0m0 1h0m0 2h0m0 3h0m0 3h0m0 1h0m0 2h0m0 2h0m0 4h0m0 8h0m1-49h0m0 4h0m0 7h0m0 16h0m0 3h0m0 2h0m0 9h0m0 2h0m1-156h0m0 116h0m0 4h0m0 9h0m0 4h0m0 1h0m0 1h0m0 8h0m0 1h0m0 1h0m0 5h0m0 4h0m0 8h0m0 5h0m1-70h0m0 10h0m0 11h0m0 1h0m0 2h0m0 1h0m0 4h0m0 2h0m0 3h0m0 2h0m0 3h0m0 4h0m0 1h0m0 1h0m0 11h0m0 5h0m1-145h0m0 87h0m0 4h0m0 4h0m0 6h0m0 5h0m0 4h0m0 2h0m0 4h0m0 2h0m0 6h0m0 2h0m0 1h0m0 1h0m0 1h0m0 1h0m0 2h0m0 1h0m0 2h0m0 10h0m1-115h0m0 51h0m0 10h0m0 18h0m0 3h0m0 1h0m0 3h0m0 1h0m0 3h0m0 2h0m0 1h0m0 1h0m0 1h0m0 1h0m0 10h0m0 3h0m0 4h0m0 2h0m1-40h0m0 2h0m0 6h0m0 1h0m0 3h0m0 1h0m0 1h0m0 1h0m0 8h0m0 1h0m0 9h0m0 1h0m0 8h0m0 1h0m0 4h0m1-164h0m0 57h0m0 61h0m0 4h0m0 2h0m0 1h0m0 2h0m0 1h0m0 2h0m0 2h0m0 1h0m0 7h0m0 4h0m0 1h0m0 1h0m0 1h0m0 4h0m0 5h0m0 4h0m1-69h0m0 15h0m0 4h0m0 3h0m0 3h0m0 2h0m0 2h0m0 1h0m0 2h0m0 9h0m0 1h0m0 1h0m0 4h0m0 2h0m0 2h0m0 1h0m0 1h0m0 1h0m0 1h0m0 1h0m0 1h0m0 1h0m0 3h0m0 5h0m0 17h0m1-72h0m0 11h0m0 11h0m0 3h0m0 1h0m0 1h0m0 1h0m0 1h0m0 2h0m0 1h0m0 1h0m0 1h0m0 1h0m0 7h0m0 3h0m0 1h0m0 1h0m0 4h0m0 3h0m0 4h0m0 7h0m0 2h0m1-62h0m0 4h0m0 2h0m0 4h0m0 2h0m0 4h0m0 3h0m0 5h0m0 3h0m0 2h0m0 5h0m0 1h0m0 1h0m0 2h0m0 3h0m0 4h0m0 1h0m0 2h0m0 5h0m0 18h0m0 10h0m1-161h0m0 81h0m0 4h0m0 6h0m0 2h0m0 1h0m0 1h0m0 1h0m0 2h0m0 5h0m0 4h0m0 1h0m0 1h0m0 3h0m0 1h0m0 1h0m0 1h0m0 4h0m0 2h0m0 1h0m0 8h0m0 9h0m1-164h0m0 112h0m0 5h0m0 5h0m0 6h0m0 2h0m0 1h0m0 1h0m0 1h0m0 2h0m0 1h0m0 1h0m0 1h0m0 1h0m0 3h0m0 5h0m0 3h0m0 4h0m0 1h0m0 2h0m0 1h0m0 2h0m0 1h0m1-163h0m0 107h0m0 9h0m0 3h0m0 1h0m0 1h0m0 2h0m0 1h0m0 1h0m0 1h0m0 3h0m0 1h0m0 3h0m0 1h0m0 2h0m0 1h0m0 1h0m0 1h0m0 1h0m0 1h0m0 1h0m0 2h0m0 1h0m0 2h0m0 11h0m0 4h0m0 5h0m0 7h0m0 3h0m1-74h0m0 2h0m0 18h0m0 1h0m0 2h0m0 2h0m0 2h0m0 3h0m0 2h0m0 3h0m0 2h0m0 1h0m0 3h0m0 1h0m0 1h0m0 3h0m0 1h0m0 2h0m0 1h0m0 10h0m0 3h0m1-172h0m0 98h0m0 5h0m0 10h0m0 2h0m0 1h0m0 3h0m0 4h0m0 2h0m0 6h0m0 1h0m0 3h0m0 1h0m0 1h0m0 3h0m0 2h0m0 1h0m0 7h0m0 1h0m0 2h0m0 2h0m0 5h0m0 1h0m0 4h0m0 12h0m0 7h0m1-84h0m0 5h0m0 9h0m0 2h0m0 5h0m0 1h0m0 1h0m0 1h0m0 1h0m0 1h0m0 4h0m0 1h0m0 1h0m0 4h0m0 2h0m0 1h0m0 1h0m0 1h0m0 1h0m0 1h0m0 2h0m0 1h0m0 3h0m0 1h0m0 1h0m0 1h0m0 1h0m0 1h0m0 2h0m0 2h0m0 1h0m0 2h0m0 3h0m0 2h0m0 5h0m1-118h0m0 55h0m0 7h0m0 1h0m0 3h0m0 9h0m0 1h0m0 1h0m0 1h0m0 1h0m0 5h0m0 3h0m0 3h0m0 2h0m0 1h0m0 1h0m0 1h0m0 1h0m0 1h0m0 1h0m0 4h0m0 2h0m0 1h0m0 1h0m0 1h0m0 7h0m0 1h0m0 1h0m1-47h0m0 1h0m0 1h0m0 3h0m0 4h0m0 3h0m0 5h0m0 2h0m0 1h0m0 1h0m0 1h0m0 2h0m0 1h0m0 2h0m0 1h0m0 2h0m0 1h0m0 3h0m0 2h0m0 1h0m0 1h0m0 2h0m0 2h0m0 2h0m0 15h0m1-131h0m0 71h0m0 1h0m0 2h0m0 1h0m0 2h0m0 1h0m0 2h0m0 1h0m0 2h0m0 4h0m0 1h0m0 6h0m0 1h0m0 1h0m0 1h0m0 1h0m0 1h0m0 1h0m0 2h0m0 2h0m0 3h0m0 3h0m0 1h0m0 2h0m0 5h0m0 5h0m0 6h0m1-55h0m0 7h0m0 3h0m0 2h0m0 1h0m0 2h0m0 5h0m0 1h0m0 2h0m0 1h0m0 1h0m0 1h0m0 2h0m0 1h0m0 2h0m0 1h0m0 1h0m0 1h0m0 1h0m0 1h0m0 1h0m0 4h0m0 1h0m0 1h0m0 3h0m0 1h0m0 15h0m1-80h0m0 3h0m0 12h0m0 8h0m0 2h0m0 7h0m0 2h0m0 1h0m0 1h0m0 2h0m0 1h0m0 1h0m0 1h0m0 2h0m0 2h0m0 3h0m0 4h0m0 1h0m0 3h0m0 1h0m0 1h0m0 5h0m0 4h0m1-146h0m0 93h0m0 6h0m0 2h0m0 3h0m0 1h0m0 3h0m0 2h0m0 4h0m0 8h0m0 2h0m0 2h0m0 3h0m0 2h0m0 1h0m0 11h0m0 14h0m1-83h0m0 23h0m0 5h0m0 2h0m0 1h0m0 1h0m0 2h0m0 2h0m0 2h0m0 2h0m0 1h0m0 1h0m0 3h0m0 3h0m0 1h0m0 1h0m0 1h0m0 5h0m0 2h0m0 1h0m0 6h0m0 3h0m0 6h0m0 11h0m0 5h0m0 1h0m1-169h0m0 99h0m0 7h0m0 3h0m0 2h0m0 2h0m0 1h0m0 2h0m0 1h0m0 1h0m0 2h0m0 4h0m0 1h0m0 1h0m0 1h0m0 1h0m0 6h0m0 3h0m0 5h0m0 4h0m0 1h0m0 31h0m1-172h0m0 54h0m0 22h0m0 2h0m0 11h0m0 5h0m0 1h0m0 13h0m0 1h0m0 1h0m0 1h0m0 3h0m0 2h0m0 3h0m0 2h0m0 1h0m0 3h0m0 1h0m0 3h0m0 1h0m0 1h0m0 1h0m0 2h0m0 2h0m0 4h0m0 3h0m0 3h0m0 1h0m0 3h0m0 4h0m1-147h0m0 91h0m0 1h0m0 3h0m0 3h0m0 2h0m0 1h0m0 1h0m0 1h0m0 1h0m0 3h0m0 3h0m0 3h0m0 2h0m0 1h0m0 1h0m0 4h0m0 1h0m0 1h0m0 2h0m0 9h0m1-62h0m0 17h0m0 3h0m0 2h0m0 1h0m0 1h0m0 2h0m0 1h0m0 3h0m0 1h0m0 5h0m0 1h0m0 1h0m0 1h0m0 3h0m0 4h0m0 1h0m0 3h0m0 3h0m0 1h0m0 1h0m0 4h0m0 12h0m1-175h0m0 133h0m0 8h0m0 3h0m0 2h0m0 3h0m0 1h0m0 5h0m0 2h0m0 11h0m0 1h0m1-68h0m0 22h0m0 3h0m0 1h0m0 8h0m0 3h0m0 3h0m0 2h0m0 1h0m0 4h0m0 3h0m0 3h0m0 3h0m0 9h0m0 5h0m0 2h0m1-46h0m0 7h0m0 2h0m0 1h0m0 1h0m0 4h0m0 1h0m0 1h0m0 2h0m0 4h0m0 5h0m0 1h0m0 1h0m0 19h0m1-186h0m0 116h0m0 7h0m0 10h0m0 4h0m0 2h0m0 1h0m0 4h0m0 2h0m0 4h0m0 2h0m0 15h0m0 4h0m1-73h0m0 39h0m0 15h0m0 2h0m0 1h0m0 18h0m0 3h0m1-174h0m0 124h0m0 4h0m0 13h0m0 6h0m0 1h0m0 9h0m0 2h0m0 2h0m0 2h0m0 1h0m0 3h0m0 16h0m1-161h0m0 28h0m0 47h0m0 13h0m0 14h0m0 12h0m0 6h0m0 4h0m0 3h0m0 8h0m0 9h0m0 7h0m1-75h0m0 34h0m0 3h0m0 6h0m0 13h0m0 3h0m0 3h0m0 8h0m0 26h0m1-83h0m0 2h0m0 10h0m0 10h0m0 6h0m0 2h0m0 1h0m0 2h0m0 10h0m0 6h0m0 3h0m0 12h0m0 6h0m1-159h0m0 66h0m0 36h0m0 24h0m0 7h0m0 2h0m0 1h0m0 1h0m0 3h0m1-58h0m0 4h0m0 7h0m0 21h0m0 26h0m0 4h0m1-57h0m0 1h0m0 3h0m0 32h0m0 12h0m0 4h0m1-99h0m0 45h0m0 24h0m0 14h0m0 2h0m0 22h0m1-24h0m0 24h0m0 16h0m1-50h0m0 20h0m0 12h0m1-145h0m0 100h0m0 59h0m1-126h0m0 15h0m0 54h0m0 1h0m0 18h0m0 7h0m1-128h0m0 2h0m0 80h0m0 1h0m0 57h0m0 11h0m2-36h0m1-82h0m0 7h0m1 48h0m0 3h0m0 41h0m2-32h0m0 88h0m1-70h0m1-124h0m0 22h0m0 53h0m1-62h0m0 70h0m1 1h0m0 1h0m1-9h0m0 14h0m0 4h0m0 17h0m1-26h0m0 3h0m0 4h0m1-25h0m0 2h0m0 8h0m1 89h0m1-107h0m1 38h0m0 37h0m1-103h0m1-50h0m0 101h0m1 6h0m1-4h0m1-12h0m2-61h0m0 60h0m0 17h0m1-25h0m0 22h0m1-12h0m1-2h0m0 46h0m0 37h0m1-92h0m0 5h0m0 93h0m1-85h0m0 38h0m0 76h0m1-141h0m1-11h0m0 32h0m0 5h0m0 2h0m1-19h0m1 0h0m0 4h0m0 14h0m1-13h0m0 1h0m1 14h0m0 1h0m0 31h0m0 35h0m1-75h0m0 126h0m1-121h0m0 20h0m0 30h0m0 3h0m1-70h0m0 1h0m0 32h0m1-79h0m0 145h0m1 55h0m2-200h0m0 42h0m0 6h0m0 26h0m1-84h0m0 19h0m0 25h0m3-7h0m0 195h0m4-183h0m0 104h0m1-36h0m0 5h0m2-104h0m0 148h0m3 16h0m0 48h0m2-228h0m0 38h0m1 24h0m1 48h0m1-87h0m1-34h0m1 106h0m0 11h0m0 101h0m2-115h0m0 32h0m1 7h0m0 95h0m1-256h0m0 85h0m1-26h0m0 176h0m3-128h0m2 16h0m1-87h0m0 36h0m0 29h0m1 27h0m0 59h0m3-138h0m0 38h0m0 122h0m0 17h0m2-176h0m0 99h0m0 29h0m1-122h0m0 34h0m0 60h0m1-4h0m0 83h0m1-102h0m1 43h0m1-55h0m0 14h0m2-136h0m0 68h0m2-36h0m0 81h0m0 154h0m1-183h0m2 22h0m2 20h0m2 157h0m2-169h0m0 22h0m1 36h0m0 31h0m1-87h0m1 148h0m1-146h0m0 131h0m1-68h0m0 101h0m1-273h0m1 68h0m1-57h0m2 110h0m1-9h0m0 116h0m4-134h0m2-48h0m0 101h0m0 68h0m1-186h0m1 155h0m1-25h0m1-88h0m0 3h0m0 62h0m0 138h0m3-131h0m4-11h0m1-43h0m0 9h0m1-18h0m1 27h0m1 121h0m1-63h0m0 56h0m1-164h0m2-30h0m0 188h0m0 25h0m1-167h0m0 199h0m1-166h0m1 134h0m1-85h0m0 1h0m0 78h0m2-128h0m0 52h0m1-91h0m0 81h0m0 62h0m1 64h0m1-160h0m0 123h0m2-195h0m0 131h0m1-128h0m0 14h0m1 32h0m0 3h0m0 4h0m0 17h0m0 158h0m2-255h0m1 186h0m0 29h0m2-208h0m0 134h0m1-143h0m1 36h0m0 174h0m1-162h0m1 48h0m0 26h0m1-101h0m1 13h0m1 77h0m0 6h0m0 61h0m1-53h0m1-91h0m2 82h0m3-107h0m1 6h0m0 10h0m1 231h0m1-172h0m1-76h0m0 36h0m1 21h0m1-3h0m0 33h0m1 74h0m1-168h0m0 22h0m0 23h0m0 48h0m3 163h0m1-125h0m1-41h0m0 42h0m2-109h0m1 72h0m0 161h0m3-268h0m0 77h0m1-12h0m1 17h0m0 16h0m0 93h0m1-86h0m1-75h0m0 146h0m1-115h0m2 77h0m4-86h0m0 18h0m1 20h0m0 8h0m1-38h0m0 70h0m1-108h0m4 47h0m0 199h0m1-97h0m2-109h0m1 39h0m0 168h0m9-230h0m0 68h0m2 162h0m12 0h0"/>
<path d="M91 -89h0m2-21h0m4 15h0m4-35h0m1-114h0m1 165h0m0 1h0m1-75h0m0 13h0m1-87h0m2-25h0m0 114h0m0 11h0m1-111h0m0 3h0m0 110h0m0 3h0m3-132h0m0 112h0m0 19h0m1-4h0m0 5h0m0 9h0m0 6h0m2-46h0m0 10h0m0 33h0m0 14h0m0 15h0m1-65h0m0 7h0m0 10h0m0 9h0m0 7h0m0 10h0m0 52h0m1-96h0m0 10h0m0 4h0m0 2h0m0 8h0m0 22h0m1-169h0m0 152h0m0 10h0m0 2h0m0 39h0m1-170h0m0 89h0m0 9h0m0 8h0m0 3h0m0 1h0m0 5h0m0 3h0m0 1h0m0 5h0m0 4h0m0 4h0m0 7h0m0 11h0m1-63h0m0 14h0m0 13h0m0 2h0m0 3h0m0 2h0m0 5h0m0 9h0m1-132h0m0 80h0m0 22h0m0 4h0m0 8h0m0 2h0m0 9h0m0 6h0m1-39h0m0 4h0m0 7h0m0 4h0m0 3h0m0 5h0m0 3h0m0 3h0m0 5h0m0 16h0m0 2h0m0 5h0m1-151h0m0 88h0m0 10h0m0 1h0m0 6h0m0 2h0m0 5h0m0 4h0m0 1h0m0 1h0m0 5h0m0 7h0m1-39h0m0 5h0m0 4h0m0 10h0m0 2h0m0 10h0m0 12h0m1-42h0m0 1h0m0 7h0m0 3h0m0 1h0m0 1h0m0 2h0m0 3h0m0 1h0m0 4h0m0 3h0m0 1h0m0 1h0m0 2h0m0 2h0m0 4h0m0 1h0m0 11h0m0 7h0m1-132h0m0 66h0m0 12h0m0 8h0m0 3h0m0 7h0m0 2h0m0 1h0m0 1h0m0 1h0m0 3h0m0 1h0m0 1h0m0 7h0m0 2h0m0 1h0m0 5h0m0 8h0m1-59h0m0 6h0m0 3h0m0 10h0m0 2h0m0 1h0m0 1h0m0 7h0m0 1h0m0 1h0m0 2h0m0 1h0m0 2h0m0 1h0m0 2h0m0 3h0m0 2h0m0 2h0m0 1h0m0 3h0m0 2h0m1-51h0m0 3h0m0 7h0m0 3h0m0 3h0m0 1h0m0 3h0m0 4h0m0 1h0m0 3h0m0 1h0m0 3h0m0 1h0m0 3h0m0 1h0m0 1h0m0 3h0m0 3h0m0 4h0m0 10h0m1-136h0m0 71h0m0 4h0m0 3h0m0 7h0m0 5h0m0 3h0m0 3h0m0 5h0m0 3h0m0 3h0m0 5h0m0 2h0m0 2h0m0 3h0m0 3h0m0 9h0m1-48h0m0 7h0m0 4h0m0 1h0m0 1h0m0 1h0m0 1h0m0 3h0m0 1h0m0 1h0m0 1h0m0 3h0m0 4h0m0 1h0m0 2h0m0 3h0m0 1h0m0 7h0m0 1h0m0 1h0m0 1h0m0 33h0m1-73h0m0 1h0m0 3h0m0 1h0m0 1h0m0 2h0m0 2h0m0 2h0m0 2h0m0 1h0m0 1h0m0 2h0m0 1h0m0 2h0m0 3h0m0 7h0m0 1h0m0 1h0m0 4h0m0 8h0m1-174h0m0 35h0m0 74h0m0 8h0m0 1h0m0 3h0m0 1h0m0 9h0m0 1h0m0 1h0m0 2h0m0 2h0m0 2h0m0 3h0m0 1h0m0 1h0m0 1h0m0 1h0m0 3h0m0 2h0m0 1h0m0 1h0m0 1h0m0 2h0m0 2h0m0 2h0m0 2h0m0 4h0m0 2h0m0 10h0m0 9h0m1-72h0m0 12h0m0 1h0m0 5h0m0 3h0m0 4h0m0 2h0m0 4h0m0 1h0m0 3h0m0 1h0m0 1h0m0 1h0m0 3h0m0 3h0m0 8h0m0 9h0m0 2h0m0 14h0m0 7h0m1-84h0m0 18h0m0 2h0m0 3h0m0 4h0m0 1h0m0 1h0m0 2h0m0 1h0m0 2h0m0 1h0m0 1h0m0 1h0m0 1h0m0 1h0m0 1h0m0 1h0m0 1h0m0 1h0m0 1h0m0 3h0m0 3h0m0 4h0m0 5h0m0 5h0m0 8h0m0 12h0m1-127h0m0 54h0m0 1h0m0 3h0m0 1h0m0 1h0m0 4h0m0 1h0m0 1h0m0 2h0m0 1h0m0 4h0m0 1h0m0 1h0m0 1h0m0 1h0m0 1h0m0 1h0m0 2h0m0 1h0m0 1h0m0 1h0m0 1h0m0 1h0m0 1h0m0 1h0m0 1h0m0 1h0m0 2h0m0 4h0m0 1h0m0 1h0m0 11h0m0 1h0m0 4h0m0 11h0m1-82h0m0 10h0m0 6h0m0 7h0m0 4h0m0 3h0m0 1h0m0 1h0m0 1h0m0 2h0m0 1h0m0 1h0m0 1h0m0 2h0m0 2h0m0 1h0m0 4h0m0 3h0m0 7h0m0 4h0m0 6h0m0 5h0m0 21h0m1-203h0m0 12h0m0 118h0m0 1h0m0 1h0m0 1h0m0 3h0m0 1h0m0 2h0m0 1h0m0 1h0m0 1h0m0 3h0m0 1h0m0 2h0m0 2h0m0 2h0m0 1h0m0 1h0m0 1h0m0 1h0m0 2h0m0 1h0m0 1h0m0 1h0m0 2h0m0 1h0m0 1h0m0 1h0m0 3h0m0 10h0m1-149h0m0 91h0m0 5h0m0 4h0m0 2h0m0 2h0m0 1h0m0 1h0m0 1h0m0 1h0m0 1h0m0 1h0m0 2h0m0 2h0m0 2h0m0 1h0m0 1h0m0 1h0m0 1h0m0 1h0m0 1h0m0 1h0m0 2h0m0 1h0m0 2h0m0 2h0m0 2h0m0 6h0m1-58h0m0 7h0m0 9h0m0 2h0m0 1h0m0 8h0m0 1h0m0 2h0m0 2h0m0 1h0m0 1h0m0 1h0m0 2h0m0 2h0m0 1h0m0 2h0m0 1h0m0 3h0m0 1h0m0 3h0m0 1h0m0 3h0m0 5h0m0 5h0m0 3h0m1-63h0m0 4h0m0 1h0m0 4h0m0 1h0m0 1h0m0 4h0m0 2h0m0 5h0m0 1h0m0 5h0m0 1h0m0 1h0m0 1h0m0 4h0m0 2h0m0 1h0m0 1h0m0 3h0m0 2h0m0 1h0m0 3h0m0 1h0m0 8h0m0 1h0m0 6h0m1-64h0m0 7h0m0 7h0m0 2h0m0 1h0m0 2h0m0 2h0m0 1h0m0 6h0m0 1h0m0 3h0m0 1h0m0 1h0m0 1h0m0 1h0m0 1h0m0 1h0m0 4h0m0 1h0m0 1h0m0 1h0m0 1h0m0 1h0m0 1h0m0 2h0m0 4h0m0 16h0m1-79h0m0 2h0m0 11h0m0 11h0m0 5h0m0 6h0m0 1h0m0 1h0m0 2h0m0 1h0m0 4h0m0 1h0m0 1h0m0 3h0m0 1h0m0 1h0m0 1h0m0 1h0m0 3h0m0 1h0m0 1h0m0 5h0m0 3h0m0 1h0m0 1h0m0 11h0m1-64h0m0 5h0m0 2h0m0 3h0m0 2h0m0 1h0m0 2h0m0 1h0m0 2h0m0 1h0m0 1h0m0 2h0m0 4h0m0 3h0m0 1h0m0 2h0m0 4h0m0 1h0m0 5h0m0 1h0m0 1h0m0 3h0m1-156h0m0 107h0m0 10h0m0 1h0m0 2h0m0 4h0m0 1h0m0 3h0m0 1h0m0 6h0m0 1h0m0 2h0m0 2h0m0 1h0m0 1h0m0 1h0m0 1h0m0 1h0m0 1h0m0 1h0m0 6h0m0 3h0m1-44h0m0 2h0m0 6h0m0 2h0m0 1h0m0 4h0m0 4h0m0 2h0m0 3h0m0 2h0m0 1h0m0 2h0m0 2h0m0 1h0m0 1h0m0 1h0m0 2h0m0 4h0m0 4h0m0 1h0m0 1h0m0 2h0m0 4h0m0 10h0m1-94h0m0 16h0m0 18h0m0 1h0m0 4h0m0 5h0m0 5h0m0 1h0m0 2h0m0 1h0m0 5h0m0 1h0m0 1h0m0 2h0m0 4h0m0 4h0m0 2h0m0 4h0m0 6h0m0 1h0m0 24h0m1-172h0m0 28h0m0 59h0m0 4h0m0 7h0m0 15h0m0 6h0m0 2h0m0 1h0m0 1h0m0 2h0m0 1h0m0 2h0m0 2h0m0 1h0m0 1h0m0 1h0m0 2h0m0 4h0m0 4h0m0 1h0m0 6h0m0 3h0m0 6h0m1-75h0m0 20h0m0 1h0m0 7h0m0 2h0m0 1h0m0 1h0m0 1h0m0 1h0m0 2h0m0 1h0m0 4h0m0 2h0m0 1h0m0 3h0m0 5h0m0 1h0m0 2h0m0 5h0m0 4h0m0 13h0m0 21h0m1-134h0m0 36h0m0 29h0m0 1h0m0 4h0m0 2h0m0 3h0m0 1h0m0 2h0m0 1h0m0 2h0m0 2h0m0 2h0m0 6h0m0 1h0m0 2h0m0 2h0m0 2h0m0 2h0m0 1h0m0 4h0m1-45h0m0 3h0m0 12h0m0 1h0m0 1h0m0 2h0m0 1h0m0 7h0m0 2h0m0 5h0m0 2h0m0 16h0m1-81h0m0 1h0m0 3h0m0 7h0m0 22h0m0 2h0m0 2h0m0 1h0m0 8h0m0 1h0m0 2h0m0 2h0m0 2h0m0 4h0m0 21h0m1-71h0m0 15h0m0 6h0m0 3h0m0 7h0m0 2h0m0 10h0m0 1h0m0 1h0m0 2h0m0 1h0m0 2h0m0 6h0m1-161h0m0 92h0m0 26h0m0 13h0m0 6h0m0 1h0m0 1h0m0 1h0m0 1h0m0 5h0m0 1h0m0 48h0m1-74h0m0 2h0m0 1h0m0 3h0m0 2h0m0 9h0m0 6h0m0 1h0m0 1h0m0 7h0m0 7h0m0 6h0m1-81h0m0 21h0m0 4h0m0 6h0m0 18h0m0 5h0m0 3h0m0 5h0m0 11h0m0 31h0m1-154h0m0 74h0m0 24h0m0 3h0m0 5h0m0 5h0m0 4h0m0 5h0m0 8h0m0 9h0m1-69h0m0 15h0m0 5h0m0 7h0m0 1h0m0 5h0m0 8h0m0 9h0m0 1h0m0 2h0m0 1h0m0 1h0m1-116h0m0 60h0m0 16h0m0 22h0m0 6h0m0 3h0m0 18h0m1-151h0m0 43h0m0 46h0m0 13h0m0 14h0m0 1h0m0 13h0m0 7h0m0 7h0m0 24h0m0 9h0m1-81h0m1-107h0m0 84h0m0 12h0m0 1h0m0 2h0m0 8h0m0 9h0m0 3h0m0 11h0m0 5h0m0 4h0m0 4h0m0 13h0m1-145h0m0 8h0m0 72h0m0 25h0m0 21h0m0 1h0m1-137h0m0 94h0m0 1h0m0 17h0m0 3h0m0 10h0m0 14h0m1-34h0m0 15h0m0 4h0m0 5h0m0 21h0m1-142h0m0 84h0m0 4h0m0 2h0m0 5h0m0 47h0m0 13h0m1-169h0m0 95h0m0 52h0m0 23h0m1-65h0m0 9h0m0 54h0m1-171h0m0 21h0m0 22h0m0 106h0m1-153h0m0 22h0m0 9h0m0 79h0m1-39h0m0 13h0m0 16h0m0 3h0m0 19h0m0 8h0m0 4h0m0 4h0m1-35h0m0 1h0m0 24h0m0 56h0m1-42h0m0 22h0m1-68h0m0 10h0m0 16h0m0 64h0m1-139h0m0 48h0m0 7h0m0 12h0m0 7h0m0 10h0m0 11h0m1-126h0m0 121h0m1-58h0m0 63h0m1 34h0m1-96h0m0 9h0m0 3h0m0 3h0m0 16h0m0 1h0m0 31h0m1-54h0m0 11h0m0 18h0m1-30h0m0 47h0m0 17h0m0 59h0m1-123h0m0 13h0m0 4h0m0 62h0m1-78h0m1-6h0m1-20h0m0 20h0m0 30h0m2-23h0m1-10h0m0 18h0m1-18h0m0 10h0m0 1h0m1-8h0m0 14h0m2-36h0m0 12h0m0 29h0m0 26h0m0 51h0m1-158h0m0 42h0m0 9h0m0 13h0m0 4h0m1-78h0m0 65h0m0 2h0m0 12h0m0 59h0m1-116h0m0 43h0m0 3h0m2 0h0m0 1h0m1-42h0m0 29h0m1-6h0m0 12h0m0 11h0m0 2h0m1 132h0m1-78h0m1-57h0m2-88h0m0 83h0m1-8h0m0 24h0m1-12h0m0 119h0m3-71h0m1 52h0m1-110h0m1-13h0m0 43h0m1 67h0m1-99h0m0 65h0m3-57h0m0 106h0m1-134h0m0 61h0m2-84h0m1 50h0m1 65h0m1-72h0m2 18h0m0 161h0m0 14h0m2-200h0m1-33h0m0 217h0m2-1h0m2-207h0m1-7h0m0 1h0m0 229h0m1-163h0m1 28h0m3 75h0m0 6h0m1 54h0m1-157h0m0 22h0m1-92h0m0 54h0m0 125h0m2-53h0m1-159h0m1 72h0m0 57h0m1 81h0m2 6h0m1-208h0m1 100h0m1-40h0m1-4h0m0 140h0m0 4h0m1-91h0m0 77h0m1-114h0m1-7h0m0 50h0m1-69h0m0 84h0m0 61h0m1-114h0m1-62h0m2 207h0m1-15h0m0 46h0m1-146h0m1 111h0m1-166h0m0 32h0m2-94h0m0 22h0m0 160h0m1-121h0m0 16h0m0 133h0m1 19h0m1-125h0m0 7h0m0 101h0m2-183h0m0 10h0m1-48h0m0 183h0m0 55h0m2-213h0m0 59h0m0 42h0m3-97h0m0 50h0m1 135h0m1-156h0m0 174h0m1-78h0m1-102h0m0 91h0m1-115h0m0 93h0m1 47h0m1 37h0m1-60h0m1-105h0m0 119h0m3 5h0m1 108h0m2-172h0m1 1h0m0 67h0m0 2h0m0 31h0m1-116h0m0 21h0m1-11h0m0 125h0m1 52h0m1-82h0m2-138h0m0 77h0m0 9h0m1-85h0m0 16h0m0 71h0m1-26h0m1-22h0m0 17h0m1-22h0m3 56h0m2-38h0m0 67h0m0 57h0m3-153h0m0 86h0m1-102h0m1-38h0m0 21h0m0 33h0m0 162h0m2-99h0m1-83h0m1-10h0m0 19h0m0 73h0m1-81h0m0 84h0m2-16h0m0 27h0m1 64h0m1-38h0m0 34h0m0 51h0m1-137h0m3-89h0m0 51h0m0 51h0m1 25h0m1 94h0m1-233h0m1 27h0m0 117h0m1-102h0m0 142h0m2-127h0m2-28h0m0 130h0m1-108h0m0 28h0m0 55h0m1-19h0m1 36h0m0 7h0m2 20h0m0 20h0m5-178h0m0 22h0m1 4h0m0 60h0m1-36h0m1 43h0m1-92h0m0 53h0m3-13h0m0 131h0m1-88h0m1-55h0m1-8h0m0 78h0m1-40h0m2-28h0m2-4h0m1-46h0m0 116h0m0 129h0m1-135h0m4-98h0m1 36h0m2-53h0m2 8h0m0 5h0m3 182h0m2-63h0m3-17h0m5 23h0m4 112h0m7 0h0m1 1h0m2-2h0"/>
<path d="M102 -127h0m2-26h0m2 17h0m0 4h0m1 12h0m1-28h0m0 31h0m0 2h0m0 14h0m1-40h0m0 14h0m0 4h0m0 15h0m1-139h0m0 87h0m0 55h0m0 15h0m1-49h0m0 10h0m0 35h0m0 16h0m0 5h0m1-72h0m0 4h0m0 43h0m1-41h0m0 12h0m0 16h0m1-31h0m0 1h0m0 13h0m0 3h0m1-24h0m0 12h0m0 12h0m0 8h0m0 12h0m0 10h0m1-53h0m0 30h0m0 2h0m0 7h0m1-155h0m0 117h0m0 9h0m0 7h0m0 5h0m0 5h0m0 1h0m0 1h0m0 9h0m1-55h0m0 3h0m0 16h0m0 13h0m0 9h0m0 5h0m0 1h0m0 22h0m0 17h0m1-68h0m0 8h0m0 2h0m0 2h0m0 3h0m0 9h0m0 3h0m0 3h0m0 1h0m0 3h0m0 2h0m0 13h0m1-39h0m0 6h0m0 2h0m0 1h0m0 4h0m0 3h0m0 2h0m0 6h0m0 9h0m1-33h0m0 2h0m0 3h0m0 1h0m0 4h0m0 5h0m0 1h0m0 1h0m0 18h0m0 3h0m0 3h0m0 37h0m1-124h0m0 52h0m0 9h0m0 3h0m0 4h0m0 3h0m0 2h0m0 3h0m0 11h0m0 1h0m1-59h0m0 10h0m0 5h0m0 1h0m0 3h0m0 1h0m0 1h0m0 1h0m0 4h0m0 4h0m0 2h0m0 1h0m0 2h0m0 1h0m0 1h0m0 2h0m0 9h0m0 1h0m0 14h0m0 14h0m1-72h0m0 3h0m0 1h0m0 3h0m0 4h0m0 1h0m0 3h0m0 3h0m0 3h0m0 2h0m0 2h0m0 2h0m0 4h0m0 2h0m0 2h0m0 4h0m1-35h0m0 11h0m0 1h0m0 2h0m0 1h0m0 1h0m0 1h0m0 1h0m0 1h0m0 1h0m0 3h0m0 1h0m0 1h0m0 3h0m0 1h0m0 2h0m0 3h0m0 1h0m0 8h0m0 3h0m0 2h0m0 4h0m0 5h0m0 5h0m1-62h0m0 1h0m0 6h0m0 4h0m0 3h0m0 5h0m0 5h0m0 7h0m0 1h0m0 3h0m0 1h0m0 1h0m0 3h0m0 1h0m0 3h0m0 14h0m1-66h0m0 7h0m0 4h0m0 5h0m0 2h0m0 1h0m0 2h0m0 7h0m0 2h0m0 2h0m0 5h0m0 3h0m0 1h0m0 4h0m0 1h0m0 2h0m0 2h0m0 3h0m0 2h0m0 5h0m0 8h0m1-174h0m0 94h0m0 22h0m0 5h0m0 2h0m0 2h0m0 4h0m0 2h0m0 2h0m0 2h0m0 5h0m0 2h0m0 1h0m0 2h0m0 1h0m0 3h0m0 1h0m0 1h0m0 1h0m0 1h0m0 1h0m0 1h0m0 2h0m0 2h0m0 2h0m0 1h0m0 5h0m0 1h0m1-159h0m0 10h0m0 16h0m0 81h0m0 2h0m0 4h0m0 3h0m0 1h0m0 2h0m0 3h0m0 2h0m0 1h0m0 3h0m0 1h0m0 3h0m0 1h0m0 2h0m0 1h0m0 7h0m0 3h0m0 1h0m0 2h0m0 2h0m1-50h0m0 4h0m0 5h0m0 2h0m0 2h0m0 8h0m0 2h0m0 1h0m0 1h0m0 1h0m0 1h0m0 2h0m0 3h0m0 2h0m0 5h0m0 1h0m0 4h0m0 2h0m0 2h0m0 3h0m0 3h0m0 2h0m0 6h0m1-61h0m0 11h0m0 3h0m0 1h0m0 5h0m0 1h0m0 1h0m0 2h0m0 2h0m0 4h0m0 2h0m0 1h0m0 1h0m0 5h0m0 3h0m0 3h0m0 1h0m0 1h0m0 5h0m0 1h0m0 2h0m1-171h0m0 14h0m0 78h0m0 14h0m0 11h0m0 5h0m0 6h0m0 3h0m0 3h0m0 1h0m0 1h0m0 1h0m0 1h0m0 2h0m0 3h0m0 4h0m0 1h0m0 4h0m0 1h0m0 2h0m0 1h0m0 1h0m0 4h0m0 4h0m0 2h0m0 12h0m0 22h0m1-93h0m0 17h0m0 4h0m0 2h0m0 1h0m0 1h0m0 1h0m0 1h0m0 3h0m0 1h0m0 2h0m0 2h0m0 1h0m0 1h0m0 1h0m0 3h0m0 2h0m0 1h0m0 6h0m0 1h0m0 1h0m0 1h0m0 2h0m0 1h0m0 18h0m1-139h0m0 77h0m0 2h0m0 7h0m0 1h0m0 2h0m0 4h0m0 3h0m0 3h0m0 1h0m0 1h0m0 1h0m0 1h0m0 3h0m0 1h0m0 1h0m0 3h0m0 3h0m0 1h0m0 1h0m0 3h0m0 1h0m0 1h0m0 1h0m0 10h0m0 8h0m1-180h0m0 107h0m0 4h0m0 14h0m0 7h0m0 2h0m0 1h0m0 2h0m0 1h0m0 1h0m0 2h0m0 1h0m0 2h0m0 1h0m0 2h0m0 1h0m0 4h0m0 1h0m0 1h0m0 2h0m0 4h0m0 1h0m0 4h0m0 5h0m0 10h0m1-75h0m0 9h0m0 3h0m0 2h0m0 2h0m0 1h0m0 3h0m0 1h0m0 2h0m0 7h0m0 1h0m0 1h0m0 2h0m0 4h0m0 3h0m0 1h0m0 2h0m0 1h0m0 1h0m0 1h0m0 4h0m0 6h0m0 1h0m0 2h0m0 3h0m0 13h0m1-166h0m0 9h0m0 12h0m0 90h0m0 1h0m0 2h0m0 3h0m0 1h0m0 2h0m0 1h0m0 1h0m0 1h0m0 2h0m0 1h0m0 3h0m0 1h0m0 1h0m0 2h0m0 1h0m0 1h0m0 2h0m0 2h0m0 3h0m0 4h0m0 2h0m0 4h0m0 4h0m0 1h0m1-60h0m0 2h0m0 12h0m0 4h0m0 1h0m0 1h0m0 2h0m0 1h0m0 2h0m0 1h0m0 8h0m0 1h0m0 1h0m0 1h0m0 1h0m0 1h0m0 1h0m0 3h0m0 1h0m0 3h0m0 1h0m0 3h0m0 3h0m0 5h0m0 6h0m0 4h0m1-66h0m0 4h0m0 2h0m0 2h0m0 1h0m0 3h0m0 6h0m0 2h0m0 3h0m0 5h0m0 1h0m0 5h0m0 2h0m0 3h0m0 1h0m0 1h0m0 3h0m0 1h0m0 1h0m0 2h0m0 2h0m0 10h0m0 2h0m1-80h0m0 13h0m0 4h0m0 3h0m0 3h0m0 3h0m0 7h0m0 2h0m0 4h0m0 1h0m0 3h0m0 3h0m0 4h0m0 1h0m0 1h0m0 1h0m0 1h0m0 2h0m0 1h0m0 1h0m0 1h0m0 1h0m0 7h0m0 6h0m0 5h0m1-174h0m0 22h0m0 90h0m0 8h0m0 8h0m0 1h0m0 1h0m0 2h0m0 1h0m0 2h0m0 5h0m0 1h0m0 1h0m0 1h0m0 1h0m0 1h0m0 3h0m0 4h0m0 1h0m0 5h0m0 1h0m0 1h0m0 1h0m0 1h0m0 1h0m0 2h0m0 3h0m0 9h0m0 1h0m1-157h0m0 88h0m0 1h0m0 12h0m0 3h0m0 5h0m0 2h0m0 1h0m0 1h0m0 2h0m0 4h0m0 1h0m0 1h0m0 1h0m0 1h0m0 2h0m0 1h0m0 2h0m0 1h0m0 1h0m0 2h0m0 1h0m0 4h0m0 1h0m0 1h0m0 4h0m0 1h0m0 2h0m0 1h0m1-66h0m0 11h0m0 11h0m0 3h0m0 4h0m0 4h0m0 1h0m0 1h0m0 2h0m0 2h0m0 2h0m0 2h0m0 2h0m0 1h0m0 1h0m0 1h0m0 1h0m0 1h0m0 3h0m0 4h0m0 1h0m0 1h0m0 4h0m0 3h0m0 1h0m0 5h0m0 24h0m0 12h0m1-193h0m0 90h0m0 5h0m0 13h0m0 4h0m0 3h0m0 1h0m0 7h0m0 1h0m0 2h0m0 1h0m0 1h0m0 1h0m0 1h0m0 2h0m0 3h0m0 2h0m0 3h0m0 2h0m0 2h0m0 2h0m0 1h0m0 1h0m0 4h0m0 1h0m0 1h0m0 28h0m1-73h0m0 9h0m0 2h0m0 3h0m0 1h0m0 1h0m0 1h0m0 4h0m0 1h0m0 2h0m0 3h0m0 2h0m0 2h0m0 2h0m0 2h0m0 2h0m0 1h0m0 2h0m0 14h0m0 2h0m1-177h0m0 115h0m0 6h0m0 1h0m0 5h0m0 1h0m0 1h0m0 3h0m0 1h0m0 7h0m0 1h0m0 3h0m0 1h0m0 9h0m0 4h0m0 5h0m0 4h0m0 8h0m1-63h0m0 6h0m0 1h0m0 4h0m0 2h0m0 1h0m0 3h0m0 2h0m0 2h0m0 1h0m0 1h0m0 1h0m0 2h0m0 3h0m0 1h0m0 3h0m0 1h0m0 1h0m0 4h0m0 4h0m0 8h0m0 3h0m0 5h0m0 7h0m1-179h0m0 25h0m0 100h0m0 6h0m0 4h0m0 6h0m0 3h0m0 5h0m0 5h0m0 2h0m0 5h0m0 3h0m0 1h0m0 4h0m1-74h0m0 17h0m0 25h0m0 2h0m0 1h0m0 1h0m0 2h0m0 2h0m0 1h0m0 2h0m0 1h0m0 2h0m0 2h0m0 4h0m0 4h0m0 12h0m1-165h0m0 18h0m0 77h0m0 22h0m0 3h0m0 2h0m0 1h0m0 5h0m0 7h0m0 3h0m0 1h0m0 4h0m0 3h0m0 7h0m0 3h0m0 24h0m1-169h0m0 101h0m0 5h0m0 2h0m0 4h0m0 2h0m0 2h0m0 2h0m0 2h0m0 1h0m0 1h0m0 7h0m0 8h0m0 2h0m0 10h0m1-66h0m0 24h0m0 16h0m0 14h0m0 3h0m0 11h0m0 3h0m1-73h0m0 2h0m0 25h0m0 5h0m0 3h0m0 1h0m0 9h0m0 8h0m0 27h0m1-58h0m0 11h0m0 1h0m0 4h0m0 2h0m0 6h0m0 1h0m0 14h0m0 5h0m1-64h0m0 15h0m0 22h0m0 3h0m0 7h0m0 4h0m0 1h0m0 2h0m0 8h0m1-62h0m0 21h0m0 3h0m0 5h0m0 2h0m0 23h0m0 6h0m0 4h0m1-69h0m0 12h0m0 16h0m0 4h0m0 5h0m0 3h0m0 28h0m0 7h0m1-163h0m0 8h0m0 89h0m0 10h0m0 4h0m0 6h0m0 11h0m0 24h0m1-166h0m0 14h0m0 108h0m0 1h0m0 13h0m0 16h0m0 5h0m0 16h0m1-144h0m0 72h0m0 19h0m0 14h0m0 4h0m0 8h0m1-53h0m0 15h0m0 19h0m0 6h0m0 3h0m0 9h0m1-110h0m0 77h0m0 39h0m0 15h0m0 4h0m1-168h0m0 32h0m0 86h0m0 24h0m1-5h0m0 11h0m1-47h0m0 20h0m0 46h0m0 3h0m1-68h0m0 11h0m0 30h0m0 22h0m1-73h0m0 14h0m0 11h0m0 19h0m1-49h0m1-73h0m0 78h0m0 3h0m0 32h0m1-24h0m0 52h0m0 9h0m1-44h0m1-47h0m0 8h0m0 1h0m0 33h0m0 35h0m0 2h0m0 7h0m1-124h0m0 80h0m1-51h0m0 39h0m1-74h0m1 64h0m0 75h0m1-162h0m0 70h0m0 5h0m0 16h0m3-104h0m0 90h0m0 54h0m1-52h0m0 11h0m0 4h0m0 69h0m1-100h0m0 15h0m1 6h0m0 4h0m0 5h0m1-77h0m0 62h0m0 14h0m0 16h0m1 41h0m1-67h0m0 60h0m1-76h0m1-15h0m0 39h0m1-35h0m0 12h0m0 33h0m0 43h0m1-91h0m2 30h0m0 106h0m0 19h0m1-99h0m1-46h0m0 12h0m0 47h0m1 56h0m1-119h0m0 30h0m0 22h0m1-37h0m0 48h0m1-36h0m0 1h0m1-13h0m1-60h0m0 18h0m1 46h0m1-20h0m0 14h0m0 15h0m1-98h0m0 73h0m0 7h0m0 13h0m1-60h0m0 232h0m3 0h0m1-241h0m1 42h0m3 27h0m1-45h0m0 94h0m1 29h0m1-62h0m0 54h0m1-126h0m2 44h0m3-51h0m0 184h0m1-169h0m0 60h0m1 104h0m1-80h0m0 34h0m2-96h0m0 138h0m1-169h0m1-8h0m0 125h0m1-149h0m0 74h0m0 18h0m0 107h0m3-72h0m0 46h0m0 56h0m1-187h0m1 46h0m0 12h0m1-59h0m3 42h0m0 12h0m1-92h0m1 63h0m0 65h0m1-77h0m0 65h0m0 141h0m1-39h0m1-204h0m0 1h0m0 173h0m1 69h0m1-79h0m0 32h0m1 9h0m2-59h0m1-45h0m0 17h0m1-106h0m0 30h0m1 25h0m1 26h0m1-34h0m0 87h0m1-144h0m3 145h0m2-7h0m1-12h0m1-89h0m0 22h0m1-54h0m1 110h0m0 24h0m1-102h0m0 9h0m1 111h0m1-139h0m0 2h0m1 23h0m0 159h0m1-44h0m1-9h0m0 2h0m1-65h0m0 19h0m2-136h0m0 116h0m0 65h0m2-74h0m1 80h0m1-115h0m2 182h0m2-165h0m0 29h0m0 10h0m1 0h0m1-19h0m0 163h0m1-160h0m0 45h0m1-77h0m0 79h0m1-126h0m0 32h0m0 30h0m0 71h0m1-31h0m2-71h0m2 183h0m0 25h0m1-262h0m2 231h0m1-59h0m1 26h0m2-182h0m0 142h0m1-126h0m0 88h0m1 22h0m0 9h0m1-79h0m1-7h0m1 100h0m1-70h0m0 28h0m3-41h0m1 44h0m1 43h0m1-107h0m0 160h0m2-190h0m0 65h0m0 54h0m0 9h0m1 67h0m1-169h0m3-5h0m1 35h0m1 73h0m0 16h0m1-168h0m0 222h0m1-120h0m1-87h0m1 123h0m0 64h0m0 34h0m4-178h0m2-75h0m0 133h0m2-62h0m0 171h0m3-191h0m0 98h0m0 74h0m1-97h0m3-55h0m1-5h0m1 124h0m1-114h0m0 104h0m1-147h0m0 191h0m1-41h0m1-139h0m0 72h0m2 99h0m1-134h0m0 67h0m1 57h0m1-86h0m1-116h0m0 100h0m2-49h0m1 42h0m0 34h0m0 11h0m0 46h0m1-104h0m2 38h0m0 8h0m0 78h0m2-113h0m1 77h0m1-114h0m1 25h0m3-22h0m0 14h0m0 72h0m1-113h0m7 126h0m3-102h0m0 35h0m1 3h0m2 35h0m1-61h0m5 202h0m3-1h0m1-139h0m4-3h0m0 142h0m6-149h0m22-31h0m1-25h0"/>
<path d="M98 -155h0m1-93h0m1 14h0m3 5h0m1 91h0m0 34h0m0 16h0m2-53h0m0 8h0m1-106h0m0 121h0m1-26h0m0 3h0m0 27h0m2-121h0m1 104h0m0 17h0m0 1h0m0 14h0m0 32h0m1-185h0m0 102h0m0 6h0m0 24h0m0 37h0m0 1h0m1-53h0m0 9h0m1-21h0m0 29h0m1-39h0m0 10h0m0 6h0m0 10h0m0 11h0m0 6h0m1-130h0m0 13h0m0 71h0m0 29h0m0 1h0m0 8h0m0 2h0m0 3h0m0 2h0m0 28h0m1-51h0m0 9h0m0 6h0m0 4h0m0 18h0m1-123h0m0 81h0m0 15h0m0 2h0m0 4h0m0 13h0m0 5h0m1-144h0m0 95h0m0 27h0m0 6h0m0 2h0m0 6h0m1-109h0m0 54h0m0 15h0m0 3h0m0 10h0m0 4h0m0 1h0m0 2h0m0 13h0m0 1h0m0 3h0m0 5h0m0 4h0m0 15h0m0 8h0m1-158h0m0 66h0m0 16h0m0 23h0m0 6h0m0 2h0m0 1h0m0 1h0m0 18h0m0 7h0m0 3h0m0 2h0m0 18h0m1-167h0m0 16h0m0 82h0m0 6h0m0 5h0m0 4h0m0 5h0m0 14h0m0 1h0m0 2h0m1-45h0m0 4h0m0 10h0m0 6h0m0 3h0m0 14h0m0 6h0m0 1h0m0 1h0m0 3h0m0 3h0m0 1h0m0 9h0m1-145h0m0 70h0m0 10h0m0 4h0m0 9h0m0 1h0m0 11h0m0 3h0m0 3h0m0 1h0m0 1h0m0 1h0m0 3h0m0 2h0m0 4h0m0 1h0m0 9h0m0 6h0m1-155h0m0 109h0m0 4h0m0 2h0m0 5h0m0 2h0m0 6h0m0 2h0m0 1h0m0 3h0m0 2h0m0 2h0m0 1h0m0 2h0m0 3h0m0 8h0m0 9h0m0 16h0m1-151h0m0 78h0m0 16h0m0 2h0m0 1h0m0 1h0m0 5h0m0 7h0m0 2h0m0 4h0m0 3h0m0 2h0m0 1h0m0 2h0m0 1h0m0 1h0m0 4h0m0 5h0m0 23h0m0 3h0m1-71h0m0 2h0m0 3h0m0 2h0m0 5h0m0 7h0m0 1h0m0 1h0m0 2h0m0 14h0m0 3h0m0 1h0m0 3h0m1-149h0m0 22h0m0 76h0m0 13h0m0 1h0m0 1h0m0 9h0m0 4h0m0 3h0m0 7h0m0 5h0m0 8h0m0 3h0m0 6h0m0 9h0m1-81h0m0 10h0m0 9h0m0 5h0m0 2h0m0 7h0m0 4h0m0 3h0m0 1h0m0 3h0m0 1h0m0 2h0m0 2h0m0 17h0m1-57h0m0 9h0m0 3h0m0 1h0m0 1h0m0 1h0m0 7h0m0 1h0m0 2h0m0 1h0m0 1h0m0 3h0m0 2h0m0 1h0m0 1h0m0 3h0m0 1h0m0 1h0m0 5h0m0 1h0m0 1h0m0 3h0m0 5h0m1-56h0m0 4h0m0 14h0m0 2h0m0 1h0m0 8h0m0 2h0m0 1h0m0 4h0m0 2h0m0 1h0m0 1h0m0 1h0m0 1h0m0 5h0m0 2h0m0 17h0m1-76h0m0 17h0m0 1h0m0 5h0m0 3h0m0 1h0m0 2h0m0 5h0m0 1h0m0 1h0m0 2h0m0 1h0m0 1h0m0 1h0m0 1h0m0 3h0m0 1h0m0 1h0m0 2h0m0 10h0m0 1h0m0 2h0m0 4h0m0 1h0m1-50h0m0 13h0m0 1h0m0 3h0m0 1h0m0 4h0m0 1h0m0 1h0m0 1h0m0 1h0m0 1h0m0 3h0m0 1h0m0 4h0m0 1h0m0 4h0m0 4h0m0 1h0m0 5h0m0 6h0m0 8h0m1-177h0m0 88h0m0 25h0m0 3h0m0 2h0m0 2h0m0 5h0m0 1h0m0 1h0m0 1h0m0 3h0m0 1h0m0 1h0m0 1h0m0 3h0m0 3h0m0 5h0m0 3h0m0 2h0m0 2h0m0 2h0m0 1h0m0 13h0m0 2h0m1-147h0m0 6h0m0 21h0m0 48h0m0 2h0m0 10h0m0 8h0m0 3h0m0 2h0m0 8h0m0 3h0m0 2h0m0 1h0m0 1h0m0 2h0m0 1h0m0 1h0m0 1h0m0 1h0m0 2h0m0 3h0m0 3h0m0 1h0m0 1h0m0 7h0m0 3h0m0 2h0m0 1h0m1-143h0m0 75h0m0 16h0m0 3h0m0 1h0m0 3h0m0 3h0m0 3h0m0 3h0m0 1h0m0 1h0m0 3h0m0 1h0m0 1h0m0 1h0m0 1h0m0 1h0m0 1h0m0 1h0m0 5h0m0 6h0m0 1h0m0 2h0m0 1h0m0 4h0m0 1h0m0 7h0m1-58h0m0 3h0m0 2h0m0 2h0m0 5h0m0 2h0m0 1h0m0 2h0m0 3h0m0 1h0m0 2h0m0 3h0m0 1h0m0 1h0m0 2h0m0 2h0m0 3h0m0 2h0m0 1h0m0 1h0m0 1h0m0 2h0m0 1h0m0 1h0m0 1h0m0 1h0m0 4h0m0 15h0m1-176h0m0 1h0m0 4h0m0 119h0m0 3h0m0 1h0m0 2h0m0 1h0m0 2h0m0 2h0m0 3h0m0 2h0m0 3h0m0 1h0m0 2h0m0 1h0m0 1h0m0 1h0m0 1h0m0 4h0m0 3h0m0 2h0m0 1h0m0 4h0m0 1h0m1-58h0m0 14h0m0 1h0m0 1h0m0 4h0m0 3h0m0 4h0m0 1h0m0 4h0m0 1h0m0 2h0m0 1h0m0 1h0m0 1h0m0 1h0m0 1h0m0 1h0m0 2h0m0 3h0m0 2h0m0 2h0m0 36h0m1-202h0m0 117h0m0 10h0m0 2h0m0 4h0m0 4h0m0 2h0m0 2h0m0 2h0m0 1h0m0 3h0m0 6h0m0 5h0m0 1h0m0 1h0m0 1h0m0 1h0m0 1h0m0 1h0m0 2h0m0 3h0m0 12h0m0 3h0m1-136h0m0 51h0m0 11h0m0 21h0m0 4h0m0 5h0m0 2h0m0 2h0m0 1h0m0 2h0m0 1h0m0 1h0m0 1h0m0 2h0m0 1h0m0 1h0m0 1h0m0 2h0m0 1h0m0 1h0m0 1h0m0 2h0m0 7h0m0 7h0m0 7h0m0 4h0m1-178h0m0 18h0m0 88h0m0 10h0m0 4h0m0 1h0m0 5h0m0 3h0m0 4h0m0 2h0m0 1h0m0 2h0m0 3h0m0 2h0m0 1h0m0 3h0m0 2h0m0 1h0m0 3h0m0 1h0m0 1h0m0 1h0m0 8h0m0 3h0m0 1h0m0 1h0m0 1h0m1-60h0m0 5h0m0 9h0m0 4h0m0 1h0m0 3h0m0 3h0m0 1h0m0 1h0m0 2h0m0 1h0m0 1h0m0 2h0m0 1h0m0 6h0m0 1h0m0 3h0m0 1h0m0 2h0m0 6h0m0 2h0m0 11h0m1-109h0m0 21h0m0 24h0m0 10h0m0 3h0m0 1h0m0 2h0m0 1h0m0 1h0m0 1h0m0 1h0m0 4h0m0 5h0m0 5h0m0 4h0m0 1h0m0 1h0m0 3h0m0 12h0m0 1h0m1-70h0m0 20h0m0 2h0m0 3h0m0 3h0m0 1h0m0 4h0m0 2h0m0 1h0m0 1h0m0 2h0m0 1h0m0 1h0m0 2h0m0 2h0m0 4h0m0 2h0m0 1h0m0 1h0m0 1h0m0 7h0m0 2h0m0 3h0m0 2h0m0 2h0m0 3h0m0 2h0m1-89h0m0 26h0m0 10h0m0 1h0m0 4h0m0 4h0m0 1h0m0 1h0m0 1h0m0 4h0m0 6h0m0 1h0m0 1h0m0 5h0m0 1h0m0 2h0m0 3h0m0 3h0m0 5h0m0 2h0m1-155h0m0 11h0m0 90h0m0 10h0m0 2h0m0 8h0m0 1h0m0 1h0m0 1h0m0 2h0m0 1h0m0 3h0m0 3h0m0 5h0m0 2h0m0 1h0m0 2h0m0 6h0m0 1h0m0 2h0m0 14h0m1-80h0m0 31h0m0 4h0m0 2h0m0 6h0m0 3h0m0 5h0m0 1h0m0 7h0m0 3h0m0 11h0m0 4h0m1-152h0m0 74h0m0 20h0m0 9h0m0 3h0m0 3h0m0 1h0m0 6h0m0 1h0m0 7h0m0 2h0m0 1h0m0 3h0m0 1h0m0 8h0m0 9h0m1-144h0m0 7h0m0 78h0m0 16h0m0 5h0m0 2h0m0 2h0m0 2h0m0 3h0m0 9h0m0 2h0m0 7h0m0 1h0m0 2h0m0 6h0m1-72h0m0 1h0m0 22h0m0 3h0m0 11h0m0 3h0m0 8h0m0 2h0m0 1h0m0 8h0m0 1h0m0 2h0m0 7h0m1-58h0m0 14h0m0 5h0m0 2h0m0 19h0m0 16h0m0 19h0m1-127h0m0 54h0m0 11h0m0 2h0m0 8h0m0 1h0m0 1h0m0 1h0m0 4h0m0 2h0m0 5h0m0 6h0m0 3h0m0 2h0m0 3h0m0 6h0m0 3h0m0 5h0m1-158h0m0 95h0m0 16h0m0 29h0m0 4h0m0 24h0m1-59h0m0 10h0m0 2h0m0 6h0m0 15h0m0 4h0m0 2h0m0 5h0m1-39h0m0 21h0m0 5h0m0 13h0m1-64h0m0 2h0m0 7h0m0 35h0m0 15h0m0 1h0m0 1h0m1-66h0m0 33h0m0 7h0m0 7h0m0 16h0m0 1h0m1-79h0m0 25h0m1-105h0m0 107h0m0 26h0m0 1h0m0 16h0m0 14h0m1-67h0m0 25h0m0 1h0m0 17h0m0 10h0m0 6h0m0 31h0m1-137h0m0 38h0m0 20h0m0 12h0m0 10h0m0 11h0m0 1h0m0 8h0m0 8h0m1-134h0m0 66h0m0 7h0m0 2h0m0 28h0m0 24h0m0 23h0m1-178h0m0 43h0m0 80h0m0 4h0m0 1h0m0 23h0m0 7h0m0 1h0m0 11h0m1-156h0m0 93h0m0 26h0m0 12h0m0 11h0m0 17h0m1-144h0m0 64h0m0 7h0m0 40h0m1-131h0m0 87h0m0 29h0m0 9h0m0 21h0m1-59h0m0 3h0m2 9h0m0 5h0m0 8h0m1-119h0m0 94h0m0 10h0m0 5h0m1-126h0m0 110h0m0 8h0m1-11h0m1 20h0m1-93h0m0 86h0m1-19h0m0 4h0m0 31h0m1-101h0m0 63h0m0 12h0m1-16h0m1 5h0m1-17h0m0 35h0m0 20h0m1-88h0m1-27h0m0 10h0m0 69h0m0 61h0m1-80h0m0 20h0m1-98h0m0 152h0m1-76h0m0 24h0m1-16h0m0 46h0m0 72h0m2-105h0m0 10h0m0 48h0m1-64h0m1 91h0m0 6h0m0 30h0m1-130h0m2-19h0m0 13h0m0 14h0m1-52h0m0 36h0m0 7h0m0 21h0m1-30h0m0 6h0m0 1h0m1 5h0m1-23h0m1 9h0m0 30h0m1-34h0m0 18h0m0 6h0m0 35h0m1 117h0m0 19h0m3-107h0m1-115h0m0 32h0m0 1h0m2 189h0m1-177h0m1 108h0m1-66h0m0 29h0m1 27h0m1-72h0m2-53h0m0 44h0m1-8h0m1 41h0m1-73h0m2 17h0m0 109h0m0 45h0m1-119h0m0 108h0m1-188h0m1 51h0m0 4h0m0 52h0m1-101h0m0 28h0m1 121h0m0 75h0m3-278h0m1 134h0m1-55h0m0 83h0m2-43h0m2-85h0m1 69h0m0 139h0m1-106h0m2 66h0m0 58h0m1-134h0m0 53h0m1-111h0m0 99h0m2 47h0m1-120h0m0 99h0m0 31h0m2-85h0m0 81h0m1-163h0m0 136h0m3 0h0m0 84h0m2-240h0m1-14h0m0 192h0m1-149h0m1-37h0m0 40h0m0 105h0m0 25h0m0 65h0m2-191h0m0 63h0m0 11h0m0 33h0m1-18h0m3-55h0m0 170h0m1-247h0m0 83h0m0 103h0m1-73h0m1-23h0m2 60h0m1-82h0m1-40h0m0 220h0m1-216h0m0 130h0m1-86h0m1 11h0m0 4h0m1 17h0m1-55h0m0 61h0m1-16h0m0 78h0m1 21h0m0 13h0m1-77h0m1-91h0m1-34h0m0 133h0m1 54h0m1-30h0m2-148h0m0 11h0m0 5h0m0 1h0m0 144h0m1-49h0m0 67h0m2-189h0m0 61h0m1-34h0m0 214h0m2-140h0m1-103h0m1 139h0m0 16h0m1-18h0m0 71h0m2-91h0m1-117h0m0 25h0m0 218h0m2-1h0m1-247h0m1 159h0m0 5h0m1 10h0m0 17h0m1-194h0m0 91h0m1-8h0m2 16h0m0 82h0m1-139h0m0 57h0m0 29h0m0 29h0m1-134h0m0 69h0m0 67h0m0 29h0m1-171h0m0 57h0m0 118h0m0 40h0m1-87h0m1-63h0m0 91h0m0 1h0m4-103h0m1-13h0m0 137h0m0 3h0m1-140h0m0 15h0m0 38h0m2-82h0m0 121h0m1-15h0m0 54h0m1-189h0m0 234h0m1-98h0m1-25h0m0 140h0m1-233h0m0 121h0m0 112h0m1-214h0m0 83h0m1-67h0m0 11h0m0 127h0m1-168h0m0 110h0m0 86h0m1-68h0m1-72h0m0 16h0m1-15h0m0 73h0m1-58h0m0 135h0m1-165h0m1-1h0m1-18h0m0 78h0m1-33h0m1 100h0m1-2h0m0 43h0m1-211h0m0 195h0m1-78h0m0 40h0m0 36h0m1-151h0m1 75h0m0 19h0m2 37h0m1-72h0m0 87h0m2-177h0m0 20h0m0 45h0m1 45h0m1-9h0m1-102h0m1 58h0m0 162h0m1-136h0m1 73h0m1-81h0m1 23h0m1 55h0m0 65h0m2-268h0m1 125h0m1-28h0m0 43h0m1-103h0m1-21h0m0 135h0m1-115h0m0 1h0m1-9h0m0 116h0m0 97h0m1-168h0m3 57h0m2-35h0m1-68h0m0 7h0m0 11h0m0 41h0m0 100h0m2-98h0m0 11h0m0 130h0m1-127h0m1-54h0m0 76h0m1-17h0m0 27h0m2-52h0m1-4h0m6-25h0m8 61h0m16 154h0"/>
<path d="M93 -128h0m6-39h0m1 97h0m2-28h0m2-33h0m3 15h0m1-26h0m1 18h0m1-143h0m0 43h0m0 87h0m0 1h0m1-119h0m0 141h0m1-154h0m0 29h0m1 105h0m0 25h0m0 17h0m1-162h0m0 94h0m0 38h0m0 7h0m0 2h0m0 28h0m1-173h0m0 9h0m0 5h0m0 22h0m0 77h0m0 18h0m0 5h0m0 12h0m0 4h0m1-39h0m0 10h0m0 15h0m0 2h0m0 9h0m0 5h0m1-111h0m0 49h0m0 18h0m0 20h0m0 6h0m0 4h0m0 3h0m0 1h0m0 2h0m0 11h0m0 1h0m1-173h0m0 117h0m0 3h0m0 6h0m0 7h0m0 10h0m0 3h0m0 2h0m0 5h0m0 8h0m1-127h0m0 14h0m0 82h0m0 12h0m0 1h0m0 1h0m0 4h0m0 3h0m0 3h0m0 5h0m0 1h0m0 3h0m0 3h0m0 1h0m1-149h0m0 111h0m0 5h0m0 16h0m0 3h0m0 6h0m0 2h0m1-132h0m0 101h0m0 8h0m0 8h0m0 7h0m0 1h0m0 2h0m0 2h0m0 2h0m0 3h0m0 10h0m0 11h0m1-60h0m0 8h0m0 8h0m0 1h0m0 4h0m0 2h0m0 4h0m0 2h0m0 2h0m0 2h0m0 1h0m0 2h0m0 1h0m1-29h0m0 7h0m0 1h0m0 3h0m0 2h0m0 10h0m0 2h0m0 4h0m0 7h0m1-147h0m0 99h0m0 20h0m0 2h0m0 2h0m0 7h0m0 2h0m0 1h0m0 2h0m0 1h0m0 1h0m0 1h0m0 2h0m0 5h0m0 6h0m0 5h0m0 2h0m0 1h0m0 7h0m0 1h0m1-160h0m0 89h0m0 2h0m0 8h0m0 4h0m0 7h0m0 1h0m0 8h0m0 2h0m0 1h0m0 4h0m0 1h0m0 4h0m0 2h0m0 2h0m0 9h0m0 6h0m1-57h0m0 7h0m0 2h0m0 6h0m0 2h0m0 1h0m0 4h0m0 4h0m0 2h0m0 4h0m0 1h0m0 1h0m0 3h0m0 5h0m0 1h0m0 2h0m0 1h0m0 1h0m0 3h0m0 12h0m1-67h0m0 6h0m0 6h0m0 10h0m0 2h0m0 2h0m0 6h0m0 3h0m0 3h0m0 1h0m0 2h0m0 2h0m0 2h0m0 2h0m0 3h0m0 3h0m0 1h0m0 6h0m0 5h0m0 3h0m0 2h0m0 6h0m1-71h0m0 9h0m0 4h0m0 4h0m0 1h0m0 1h0m0 7h0m0 1h0m0 2h0m0 1h0m0 1h0m0 3h0m0 1h0m0 3h0m0 1h0m0 1h0m0 1h0m0 2h0m0 1h0m0 1h0m0 2h0m0 3h0m0 7h0m0 29h0m1-96h0m0 8h0m0 3h0m0 9h0m0 2h0m0 4h0m0 4h0m0 1h0m0 3h0m0 1h0m0 1h0m0 1h0m0 2h0m0 2h0m0 4h0m0 1h0m0 1h0m0 1h0m0 2h0m0 1h0m0 1h0m0 3h0m0 2h0m0 1h0m0 8h0m0 3h0m0 11h0m0 5h0m1-178h0m0 106h0m0 9h0m0 2h0m0 1h0m0 1h0m0 3h0m0 2h0m0 1h0m0 1h0m0 2h0m0 1h0m0 1h0m0 1h0m0 1h0m0 1h0m0 2h0m0 3h0m0 1h0m0 1h0m0 3h0m0 5h0m0 3h0m0 1h0m0 3h0m0 2h0m1-44h0m0 2h0m0 2h0m0 1h0m0 5h0m0 2h0m0 1h0m0 1h0m0 1h0m0 1h0m0 2h0m0 1h0m0 1h0m0 1h0m0 1h0m0 3h0m0 1h0m0 2h0m0 2h0m0 1h0m0 1h0m0 6h0m0 1h0m0 1h0m0 37h0m1-186h0m0 105h0m0 9h0m0 3h0m0 1h0m0 1h0m0 1h0m0 5h0m0 4h0m0 1h0m0 2h0m0 2h0m0 2h0m0 1h0m0 1h0m0 1h0m0 1h0m0 3h0m0 3h0m0 8h0m0 1h0m0 7h0m0 12h0m1-70h0m0 3h0m0 1h0m0 1h0m0 2h0m0 1h0m0 1h0m0 1h0m0 2h0m0 4h0m0 3h0m0 1h0m0 1h0m0 3h0m0 1h0m0 2h0m0 1h0m0 3h0m0 1h0m0 2h0m0 3h0m0 4h0m0 2h0m0 2h0m0 4h0m0 1h0m0 2h0m0 6h0m1-66h0m0 13h0m0 3h0m0 8h0m0 3h0m0 1h0m0 2h0m0 1h0m0 2h0m0 3h0m0 1h0m0 1h0m0 1h0m0 2h0m0 3h0m0 1h0m0 1h0m0 1h0m0 2h0m0 1h0m0 1h0m0 1h0m0 5h0m1-152h0m0 110h0m0 1h0m0 7h0m0 1h0m0 3h0m0 1h0m0 2h0m0 2h0m0 1h0m0 1h0m0 1h0m0 1h0m0 1h0m0 1h0m0 2h0m0 2h0m0 2h0m0 1h0m0 1h0m0 1h0m0 1h0m0 3h0m0 4h0m0 2h0m0 1h0m0 1h0m0 1h0m0 4h0m0 1h0m0 7h0m0 3h0m0 3h0m0 3h0m1-142h0m0 82h0m0 5h0m0 2h0m0 2h0m0 1h0m0 1h0m0 3h0m0 1h0m0 2h0m0 1h0m0 1h0m0 2h0m0 1h0m0 1h0m0 1h0m0 5h0m0 7h0m0 1h0m0 9h0m1-74h0m0 28h0m0 3h0m0 1h0m0 4h0m0 1h0m0 1h0m0 3h0m0 1h0m0 3h0m0 1h0m0 1h0m0 2h0m0 2h0m0 1h0m0 1h0m0 3h0m0 1h0m0 1h0m0 3h0m0 2h0m0 5h0m0 16h0m0 4h0m1-156h0m0 86h0m0 2h0m0 2h0m0 5h0m0 5h0m0 2h0m0 2h0m0 1h0m0 1h0m0 3h0m0 1h0m0 1h0m0 2h0m0 3h0m0 1h0m0 1h0m0 2h0m0 1h0m0 2h0m0 1h0m0 1h0m0 1h0m0 1h0m0 2h0m0 2h0m0 2h0m0 6h0m0 6h0m0 2h0m1-169h0m0 87h0m0 3h0m0 13h0m0 8h0m0 4h0m0 4h0m0 1h0m0 2h0m0 2h0m0 1h0m0 3h0m0 2h0m0 1h0m0 5h0m0 2h0m0 1h0m0 1h0m0 1h0m0 1h0m0 2h0m0 1h0m0 3h0m0 1h0m0 1h0m0 1h0m0 9h0m0 2h0m0 3h0m1-65h0m0 19h0m0 2h0m0 2h0m0 8h0m0 2h0m0 2h0m0 1h0m0 1h0m0 2h0m0 1h0m0 1h0m0 2h0m0 3h0m0 1h0m0 1h0m0 4h0m0 3h0m0 7h0m0 11h0m1-147h0m0 76h0m0 3h0m0 11h0m0 7h0m0 2h0m0 3h0m0 1h0m0 1h0m0 1h0m0 2h0m0 3h0m0 1h0m0 2h0m0 1h0m0 4h0m0 1h0m0 1h0m0 2h0m0 1h0m0 3h0m0 1h0m0 2h0m0 14h0m0 2h0m1-74h0m0 6h0m0 1h0m0 10h0m0 3h0m0 1h0m0 2h0m0 1h0m0 3h0m0 1h0m0 1h0m0 1h0m0 4h0m0 1h0m0 2h0m0 1h0m0 1h0m0 1h0m0 1h0m0 1h0m0 2h0m0 4h0m0 1h0m0 1h0m0 5h0m0 15h0m0 3h0m1-77h0m0 18h0m0 4h0m0 1h0m0 1h0m0 2h0m0 1h0m0 1h0m0 7h0m0 2h0m0 6h0m0 6h0m0 3h0m0 1h0m0 1h0m0 1h0m0 1h0m0 1h0m0 1h0m0 1h0m0 12h0m0 6h0m1-163h0m0 3h0m0 6h0m0 66h0m0 19h0m0 5h0m0 6h0m0 8h0m0 2h0m0 4h0m0 1h0m0 3h0m0 3h0m0 4h0m0 2h0m0 2h0m0 1h0m0 1h0m0 4h0m0 5h0m0 7h0m0 3h0m1-51h0m0 8h0m0 2h0m0 2h0m0 8h0m0 5h0m0 3h0m0 1h0m0 5h0m0 1h0m0 2h0m0 1h0m0 3h0m0 3h0m0 6h0m1-154h0m0 88h0m0 15h0m0 3h0m0 2h0m0 4h0m0 1h0m0 4h0m0 1h0m0 2h0m0 1h0m0 1h0m0 1h0m0 2h0m0 1h0m0 2h0m0 2h0m0 1h0m0 1h0m0 2h0m0 1h0m0 1h0m0 2h0m0 2h0m0 1h0m0 1h0m0 2h0m0 1h0m0 5h0m0 6h0m0 13h0m1-61h0m0 3h0m0 7h0m0 2h0m0 3h0m0 5h0m0 1h0m0 2h0m0 1h0m0 1h0m0 5h0m0 1h0m0 7h0m0 10h0m0 17h0m0 9h0m1-154h0m0 74h0m0 15h0m0 1h0m0 9h0m0 1h0m0 2h0m0 1h0m0 1h0m0 4h0m0 4h0m0 1h0m0 5h0m0 1h0m0 1h0m0 7h0m0 16h0m1-177h0m0 90h0m0 23h0m0 3h0m0 3h0m0 8h0m0 11h0m0 11h0m0 1h0m0 2h0m0 1h0m1-27h0m0 1h0m0 3h0m0 2h0m0 2h0m0 3h0m0 1h0m0 5h0m0 3h0m0 4h0m0 14h0m0 2h0m0 4h0m1-95h0m0 52h0m0 1h0m0 9h0m0 13h0m0 5h0m0 3h0m0 7h0m1-62h0m0 10h0m0 5h0m0 9h0m0 7h0m0 2h0m0 1h0m0 6h0m0 23h0m0 19h0m1-185h0m0 83h0m0 46h0m0 3h0m0 13h0m0 6h0m0 4h0m0 8h0m1-62h0m0 16h0m0 6h0m0 22h0m0 9h0m0 1h0m0 4h0m1-66h0m0 10h0m0 12h0m0 14h0m0 13h0m0 5h0m0 1h0m1-50h0m0 4h0m0 25h0m0 7h0m0 2h0m0 4h0m0 3h0m0 6h0m0 1h0m0 30h0m1-55h0m0 6h0m0 3h0m0 8h0m0 10h0m0 11h0m1-38h0m0 1h0m0 26h0m0 8h0m1-70h0m0 42h0m0 5h0m0 6h0m0 8h0m0 2h0m0 22h0m1-155h0m0 21h0m0 34h0m0 40h0m0 63h0m1-54h0m0 2h0m0 19h0m1-43h0m0 35h0m0 17h0m1-154h0m0 97h0m0 24h0m0 24h0m1-57h0m0 5h0m0 12h0m0 42h0m0 12h0m1-148h0m0 45h0m1-29h0m0 58h0m0 1h0m0 57h0m0 29h0m1-62h0m0 9h0m0 40h0m1-139h0m0 6h0m1 66h0m0 64h0m0 15h0m1-60h0m0 6h0m1-37h0m1-81h0m0 96h0m0 12h0m0 28h0m1-117h0m0 64h0m0 6h0m1-73h0m0 2h0m0 78h0m1-71h0m0 40h0m0 25h0m0 5h0m0 6h0m1-75h0m1 44h0m0 26h0m0 65h0m1-86h0m1 4h0m0 11h0m1-20h0m0 48h0m1-14h0m1-75h0m0 45h0m0 87h0m1-86h0m0 61h0m1-95h0m0 24h0m1 6h0m0 19h0m0 2h0m1-47h0m0 108h0m1-160h0m0 80h0m0 57h0m0 45h0m1-46h0m0 24h0m1-101h0m0 18h0m0 115h0m4-132h0m0 23h0m1-35h0m0 36h0m1-74h0m0 16h0m0 42h0m0 119h0m1-44h0m1-59h0m3-25h0m1-9h0m2 13h0m0 63h0m1-18h0m1 150h0m1-162h0m0 45h0m0 11h0m0 75h0m1-153h0m2 8h0m1-2h0m0 144h0m0 6h0m1-81h0m3-73h0m1 10h0m0 128h0m2-198h0m0 15h0m0 68h0m0 130h0m0 30h0m2-76h0m1-89h0m0 9h0m0 21h0m4-124h0m0 69h0m0 88h0m1 34h0m0 68h0m1-30h0m1-200h0m0 58h0m2-55h0m0 4h0m0 5h0m0 36h0m0 45h0m1-47h0m0 4h0m0 131h0m1-95h0m0 50h0m1 54h0m2-169h0m1-4h0m0 108h0m1-139h0m0 209h0m2-135h0m1-62h0m0 172h0m1-140h0m1-73h0m3 104h0m0 25h0m1-10h0m1-15h0m1-8h0m0 106h0m1 20h0m3-155h0m3 43h0m2 30h0m0 132h0m2-189h0m1 92h0m0 45h0m2-13h0m1-77h0m0 37h0m0 11h0m1-29h0m1-7h0m0 25h0m1-70h0m0 33h0m1 100h0m0 42h0m2-131h0m0 86h0m1 44h0m0 1h0m1-143h0m0 46h0m0 45h0m1-74h0m0 74h0m1-198h0m0 145h0m1-39h0m1-115h0m1 63h0m0 107h0m1-175h0m0 219h0m1-21h0m4-161h0m0 144h0m1-100h0m1 53h0m1 82h0m1-98h0m0 112h0m1-159h0m0 61h0m1 76h0m0 5h0m1-150h0m1-48h0m1 12h0m1 109h0m1-71h0m1-79h0m1 202h0m1-184h0m1 105h0m1 81h0m1-76h0m2 6h0m0 127h0m0 17h0m1-152h0m0 102h0m1-141h0m1-53h0m0 57h0m0 107h0m0 57h0m0 24h0m1-240h0m0 114h0m0 14h0m2-137h0m2 70h0m1-11h0m0 13h0m1 93h0m0 19h0m1-109h0m0 105h0m0 20h0m3-107h0m0 92h0m1-84h0m0 28h0m1-45h0m4 103h0m1-31h0m0 93h0m1-131h0m1-25h0m2-80h0m0 19h0m0 108h0m0 25h0m1-123h0m0 32h0m1-17h0m0 137h0m1-153h0m0 119h0m1-119h0m3 72h0m1 74h0m1 18h0m2-146h0m4 130h0m1-27h0m1-153h0m0 23h0m1 188h0m1-221h0m0 10h0m0 90h0m3-88h0m0 36h0m0 18h0m2-15h0m2 27h0m1 16h0m0 2h0m0 133h0m1-78h0m1 22h0m1 77h0m4-153h0m0 31h0m0 121h0m4-224h0m0 163h0m2-137h0m0 18h0m1-13h0m1-28h0m0 54h0m1-97h0m0 264h0m1-254h0m0 173h0m2-140h0m2 95h0m1-143h0m4 52h0m0 54h0m0 68h0m0 95h0m32 0h0"/>
</g>
</g>
<path d="M1448.1 52.2H1697.5V301.6H1448.1Z M1539.8 52.2V301.6M1448.1 209.6H1697.5" stroke="#2b2b2b" stroke-width="1.25" fill="none"/>
<path d="M1448.1 301.6v5.5M1448.1 301.6h-5.8M1466.9 301.6v2.6M1448.1 282.8h-2.6M1477.8 301.6v2.6M1448.1 271.9h-2.6M1485.6 301.6v2.6M1448.1 264.1h-2.6M1491.7 301.6v3.6M1448.1 258h-3.6M1496.6 301.6v2.6M1448.1 253.1h-2.6M1500.8 301.6v2.6M1448.1 248.9h-2.6M1504.4 301.6v2.6M1448.1 245.3h-2.6M1507.6 301.6v2.6M1448.1 242.1h-2.6M1510.4 301.6v5.5M1448.1 239.3h-5.8M1529.2 301.6v2.6M1448.1 220.5h-2.6M1540.2 301.6v2.6M1448.1 209.5h-2.6M1548 301.6v2.6M1448.1 201.7h-2.6M1554 301.6v3.6M1448.1 195.7h-3.6M1558.9 301.6v2.6M1448.1 190.8h-2.6M1563.1 301.6v2.6M1448.1 186.6h-2.6M1566.7 301.6v2.6M1448.1 183h-2.6M1569.9 301.6v2.6M1448.1 179.8h-2.6M1572.8 301.6v5.5M1448.1 176.9h-5.8M1591.5 301.6v2.6M1448.1 158.2h-2.6M1602.5 301.6v2.6M1448.1 147.2h-2.6M1610.3 301.6v2.6M1448.1 139.4h-2.6M1616.3 301.6v3.6M1448.1 133.4h-3.6M1621.3 301.6v2.6M1448.1 128.4h-2.6M1625.4 301.6v2.6M1448.1 124.3h-2.6M1629 301.6v2.6M1448.1 120.7h-2.6M1632.2 301.6v2.6M1448.1 117.5h-2.6M1635.1 301.6v5.5M1448.1 114.6h-5.8M1653.9 301.6v2.6M1448.1 95.8h-2.6M1664.8 301.6v2.6M1448.1 84.9h-2.6M1672.6 301.6v2.6M1448.1 77.1h-2.6M1678.7 301.6v3.6M1448.1 71h-3.6M1683.6 301.6v2.6M1448.1 66.1h-2.6M1687.8 301.6v2.6M1448.1 61.9h-2.6M1691.4 301.6v2.6M1448.1 58.3h-2.6M1694.6 301.6v2.6M1448.1 55.1h-2.6M1697.4 301.6v5.5M1448.1 52.3h-5.8" stroke="#2b2b2b" stroke-width="1.1" fill="none"/>
<text x="1440.3" y="320.2" font-size="10.5" fill="#222" stroke="#222" stroke-width="0.2">10<tspan dy="-4" font-size="7">2</tspan></text>
<text x="1424.7" y="305.4" font-size="10.5" fill="#222" stroke="#222" stroke-width="0.2">10<tspan dy="-4" font-size="7">2</tspan></text>
<text x="1502.6" y="320.2" font-size="10.5" fill="#222" stroke="#222" stroke-width="0.2">10<tspan dy="-4" font-size="7">3</tspan></text>
<text x="1424.7" y="243.1" font-size="10.5" fill="#222" stroke="#222" stroke-width="0.2">10<tspan dy="-4" font-size="7">3</tspan></text>
<text x="1565" y="320.2" font-size="10.5" fill="#222" stroke="#222" stroke-width="0.2">10<tspan dy="-4" font-size="7">4</tspan></text>
<text x="1424.7" y="180.7" font-size="10.5" fill="#222" stroke="#222" stroke-width="0.2">10<tspan dy="-4" font-size="7">4</tspan></text>
<text x="1627.3" y="320.2" font-size="10.5" fill="#222" stroke="#222" stroke-width="0.2">10<tspan dy="-4" font-size="7">5</tspan></text>
<text x="1424.7" y="118.4" font-size="10.5" fill="#222" stroke="#222" stroke-width="0.2">10<tspan dy="-4" font-size="7">5</tspan></text>
<text x="1689.6" y="320.2" font-size="10.5" fill="#222" stroke="#222" stroke-width="0.2">10<tspan dy="-4" font-size="7">6</tspan></text>
<text x="1424.7" y="56.1" font-size="10.5" fill="#222" stroke="#222" stroke-width="0.2">10<tspan dy="-4" font-size="7">6</tspan></text>
<text x="1572.8" y="343.3" font-size="16.4" text-anchor="middle" textLength="47" lengthAdjust="spacingAndGlyphs" stroke="#111" stroke-width="0.35">FITC-H</text>
<text x="1415.1" y="176.9" font-size="16.4" text-anchor="middle" transform="rotate(-90 1415.1 176.9)" textLength="29" lengthAdjust="spacingAndGlyphs" stroke="#111" stroke-width="0.35">PI-H</text>
<rect x="1448.1" y="52.7" width="43.7" height="22.8" rx="3.2" fill="#fff" stroke="#b0b0b0" stroke-width="1"/>
<text x="1449.9" y="70" font-size="16.6" textLength="39.1" lengthAdjust="spacingAndGlyphs" fill="#111" stroke="#111" stroke-width="0.35">3.84%</text>
<rect x="1644.6" y="52.7" width="52.9" height="22.8" rx="3.2" fill="#fff" stroke="#b0b0b0" stroke-width="1"/>
<text x="1646.4" y="70" font-size="16.6" textLength="48.3" lengthAdjust="spacingAndGlyphs" fill="#111" stroke="#111" stroke-width="0.35">13.92%</text>
<rect x="1448.1" y="268" width="52.7" height="23.6" rx="3.2" fill="#fff" stroke="#b0b0b0" stroke-width="1"/>
<text x="1449.9" y="286.1" font-size="16.6" textLength="48.1" lengthAdjust="spacingAndGlyphs" fill="#111" stroke="#111" stroke-width="0.35">61.44%</text>
<rect x="1635.6" y="268" width="53.3" height="23.6" rx="3.2" fill="#fff" stroke="#b0b0b0" stroke-width="1"/>
<text x="1637.4" y="286.1" font-size="16.6" textLength="48.7" lengthAdjust="spacingAndGlyphs" fill="#111" stroke="#111" stroke-width="0.35">20.79%</text>
<text x="631.5" y="374.8" font-size="21.6" text-anchor="middle">LPS+Tomatidine-10</text>
<text x="636.9" y="398.6" font-size="16.2" text-anchor="middle" textLength="120.5" lengthAdjust="spacingAndGlyphs" stroke="#111" stroke-width="0.35">[D] FITC-H / PI-H</text>
<g transform="translate(512.2 653.8)">
<ellipse cx="65.8" cy="-54.9" rx="8.5" ry="14" fill="#ff0000" opacity="1" transform="rotate(-16 65.8 -54.9)" filter="url(#core)"/>
<g transform="scale(0.5)" stroke="#ff1010" stroke-opacity="0.68" stroke-width="3" stroke-linecap="round" fill="none">
<path d="M79 -155h0m10 1h0m3 49h0m1-41h0m3-8h0m3 36h0m1-15h0m1 5h0m1 30h0m1-119h0m0 85h0m0 8h0m0 4h0m0 1h0m0 4h0m1-56h0m0 31h0m0 17h0m0 4h0m0 4h0m1-34h0m0 9h0m0 4h0m0 1h0m0 3h0m0 2h0m0 6h0m0 10h0m1-4h0m0 4h0m0 2h0m0 9h0m1-25h0m0 9h0m0 6h0m1-24h0m0 12h0m0 1h0m0 2h0m0 11h0m1-58h0m0 18h0m0 4h0m0 37h0m0 8h0m1-117h0m0 67h0m0 22h0m0 9h0m0 8h0m0 51h0m1-108h0m0 18h0m0 1h0m0 7h0m0 21h0m1-80h0m0 44h0m0 17h0m0 2h0m0 4h0m0 5h0m0 4h0m0 9h0m0 2h0m0 6h0m0 3h0m0 1h0m0 1h0m0 13h0m0 4h0m0 13h0m1-136h0m0 70h0m0 9h0m0 14h0m0 4h0m0 1h0m0 5h0m0 1h0m0 1h0m0 5h0m0 7h0m0 1h0m1-59h0m0 12h0m0 3h0m0 2h0m0 5h0m0 2h0m0 2h0m0 3h0m0 2h0m0 7h0m0 4h0m0 1h0m0 1h0m0 10h0m0 2h0m1-53h0m0 3h0m0 3h0m0 4h0m0 2h0m0 1h0m0 1h0m0 3h0m0 1h0m0 1h0m0 1h0m0 1h0m0 1h0m0 3h0m0 2h0m0 4h0m0 1h0m0 1h0m0 4h0m0 3h0m0 2h0m0 1h0m0 1h0m0 3h0m0 3h0m0 4h0m0 5h0m0 1h0m1-82h0m0 12h0m0 3h0m0 8h0m0 24h0m0 1h0m0 1h0m0 1h0m0 5h0m0 1h0m0 3h0m0 21h0m0 4h0m0 14h0m1-80h0m0 4h0m0 12h0m0 9h0m0 6h0m0 9h0m0 1h0m0 4h0m0 21h0m0 2h0m1-129h0m0 13h0m0 58h0m0 7h0m0 1h0m0 2h0m0 5h0m0 1h0m0 4h0m0 4h0m0 5h0m0 3h0m0 1h0m0 2h0m0 3h0m0 2h0m0 6h0m1-89h0m0 34h0m0 3h0m0 8h0m0 10h0m0 2h0m0 5h0m0 1h0m0 1h0m0 1h0m0 2h0m0 4h0m0 8h0m0 5h0m0 1h0m0 13h0m0 16h0m1-94h0m0 14h0m0 9h0m0 6h0m0 1h0m0 7h0m0 6h0m0 1h0m0 1h0m0 1h0m0 3h0m0 1h0m0 1h0m0 4h0m0 3h0m0 6h0m0 2h0m0 2h0m0 6h0m0 8h0m0 1h0m0 2h0m1-150h0m0 85h0m0 7h0m0 6h0m0 1h0m0 2h0m0 4h0m0 2h0m0 2h0m0 1h0m0 1h0m0 4h0m0 2h0m0 6h0m0 5h0m0 6h0m0 5h0m0 3h0m0 18h0m1-66h0m0 3h0m0 3h0m0 4h0m0 2h0m0 2h0m0 8h0m0 2h0m0 2h0m0 1h0m0 1h0m0 4h0m0 3h0m0 8h0m0 11h0m0 10h0m1-83h0m0 13h0m0 5h0m0 3h0m0 6h0m0 1h0m0 1h0m0 2h0m0 2h0m0 1h0m0 1h0m0 4h0m0 4h0m0 1h0m0 2h0m0 1h0m0 1h0m0 1h0m0 4h0m0 4h0m0 12h0m0 2h0m0 3h0m1-63h0m0 8h0m0 2h0m0 6h0m0 2h0m0 1h0m0 2h0m0 3h0m0 3h0m0 2h0m0 1h0m0 3h0m0 1h0m0 3h0m0 2h0m0 1h0m0 1h0m0 5h0m0 6h0m0 4h0m0 25h0m1-92h0m0 4h0m0 13h0m0 4h0m0 2h0m0 3h0m0 2h0m0 1h0m0 1h0m0 3h0m0 3h0m0 1h0m0 3h0m0 3h0m0 2h0m0 2h0m0 1h0m0 1h0m0 1h0m0 4h0m0 9h0m0 1h0m0 4h0m1-65h0m0 2h0m0 6h0m0 4h0m0 1h0m0 4h0m0 3h0m0 3h0m0 1h0m0 2h0m0 2h0m0 1h0m0 4h0m0 3h0m0 2h0m0 1h0m0 1h0m0 1h0m0 1h0m0 1h0m0 1h0m0 2h0m0 2h0m0 4h0m0 4h0m0 3h0m0 3h0m0 6h0m0 1h0m0 8h0m0 9h0m1-92h0m0 17h0m0 11h0m0 1h0m0 1h0m0 2h0m0 11h0m0 6h0m0 2h0m0 2h0m0 2h0m0 1h0m0 1h0m0 1h0m0 4h0m0 3h0m0 4h0m0 6h0m0 1h0m0 5h0m1-90h0m0 13h0m0 5h0m0 5h0m0 3h0m0 7h0m0 1h0m0 2h0m0 1h0m0 3h0m0 1h0m0 1h0m0 2h0m0 6h0m0 1h0m0 2h0m0 1h0m0 2h0m0 1h0m0 1h0m0 1h0m0 3h0m0 2h0m0 2h0m0 1h0m0 1h0m0 1h0m0 3h0m0 11h0m0 1h0m0 2h0m0 3h0m0 3h0m0 1h0m0 9h0m1-80h0m0 1h0m0 8h0m0 1h0m0 2h0m0 1h0m0 4h0m0 3h0m0 4h0m0 1h0m0 2h0m0 2h0m0 1h0m0 1h0m0 1h0m0 1h0m0 2h0m0 1h0m0 1h0m0 5h0m0 1h0m0 1h0m0 6h0m0 1h0m0 1h0m0 3h0m0 2h0m0 5h0m0 3h0m0 14h0m1-80h0m0 6h0m0 4h0m0 3h0m0 1h0m0 3h0m0 3h0m0 3h0m0 2h0m0 2h0m0 1h0m0 4h0m0 2h0m0 4h0m0 3h0m0 1h0m0 2h0m0 2h0m0 1h0m0 2h0m0 2h0m0 1h0m0 3h0m0 2h0m0 3h0m0 2h0m0 2h0m0 7h0m0 30h0m1-114h0m0 5h0m0 11h0m0 5h0m0 4h0m0 5h0m0 3h0m0 1h0m0 1h0m0 2h0m0 1h0m0 2h0m0 1h0m0 2h0m0 1h0m0 1h0m0 1h0m0 1h0m0 1h0m0 1h0m0 2h0m0 1h0m0 1h0m0 5h0m0 1h0m0 5h0m0 1h0m0 5h0m0 1h0m0 3h0m0 4h0m0 2h0m0 3h0m0 6h0m0 2h0m1-104h0m0 22h0m0 3h0m0 19h0m0 1h0m0 4h0m0 2h0m0 2h0m0 1h0m0 1h0m0 2h0m0 1h0m0 2h0m0 1h0m0 1h0m0 1h0m0 8h0m0 1h0m0 3h0m0 1h0m0 1h0m0 2h0m0 1h0m0 1h0m0 5h0m0 3h0m0 6h0m0 2h0m1-67h0m0 6h0m0 2h0m0 7h0m0 3h0m0 1h0m0 3h0m0 2h0m0 1h0m0 2h0m0 4h0m0 3h0m0 5h0m0 1h0m0 4h0m0 1h0m0 2h0m0 1h0m0 3h0m0 1h0m0 2h0m0 1h0m0 2h0m0 9h0m1-108h0m0 22h0m0 21h0m0 4h0m0 2h0m0 4h0m0 1h0m0 1h0m0 4h0m0 2h0m0 1h0m0 4h0m0 1h0m0 1h0m0 1h0m0 1h0m0 1h0m0 1h0m0 1h0m0 1h0m0 1h0m0 1h0m0 1h0m0 1h0m0 1h0m0 1h0m0 1h0m0 1h0m0 1h0m0 1h0m0 2h0m0 1h0m0 1h0m0 2h0m0 2h0m0 1h0m0 3h0m0 1h0m0 1h0m0 2h0m0 1h0m0 2h0m0 1h0m0 3h0m0 14h0m1-77h0m0 4h0m0 3h0m0 1h0m0 4h0m0 3h0m0 2h0m0 1h0m0 3h0m0 1h0m0 2h0m0 1h0m0 3h0m0 3h0m0 1h0m0 1h0m0 3h0m0 1h0m0 3h0m0 1h0m0 1h0m0 6h0m0 5h0m0 3h0m0 3h0m0 1h0m0 4h0m0 1h0m1-75h0m0 14h0m0 3h0m0 2h0m0 2h0m0 1h0m0 1h0m0 1h0m0 2h0m0 1h0m0 1h0m0 3h0m0 1h0m0 4h0m0 1h0m0 1h0m0 2h0m0 1h0m0 2h0m0 4h0m0 1h0m0 1h0m0 2h0m0 1h0m0 1h0m0 1h0m0 1h0m0 1h0m0 1h0m0 3h0m0 1h0m0 1h0m0 1h0m0 2h0m0 3h0m0 1h0m0 3h0m0 5h0m1-80h0m0 18h0m0 5h0m0 1h0m0 2h0m0 4h0m0 1h0m0 1h0m0 2h0m0 1h0m0 1h0m0 2h0m0 1h0m0 3h0m0 1h0m0 2h0m0 2h0m0 1h0m0 4h0m0 1h0m0 1h0m0 1h0m0 1h0m0 1h0m0 2h0m0 1h0m0 1h0m0 1h0m0 3h0m0 4h0m0 2h0m0 5h0m0 12h0m0 2h0m0 1h0m1-150h0m0 53h0m0 26h0m0 5h0m0 2h0m0 2h0m0 6h0m0 1h0m0 4h0m0 4h0m0 2h0m0 1h0m0 3h0m0 1h0m0 7h0m0 4h0m0 3h0m0 1h0m0 2h0m0 1h0m0 1h0m0 1h0m0 2h0m0 1h0m0 2h0m0 2h0m0 3h0m0 18h0m1-91h0m0 11h0m0 10h0m0 2h0m0 3h0m0 1h0m0 1h0m0 2h0m0 1h0m0 3h0m0 1h0m0 1h0m0 2h0m0 1h0m0 3h0m0 2h0m0 2h0m0 1h0m0 1h0m0 3h0m0 1h0m0 1h0m0 1h0m0 1h0m0 2h0m0 2h0m0 1h0m0 4h0m0 7h0m0 26h0m1-113h0m0 20h0m0 3h0m0 8h0m0 1h0m0 9h0m0 6h0m0 1h0m0 2h0m0 1h0m0 1h0m0 2h0m0 2h0m0 3h0m0 2h0m0 1h0m0 2h0m0 3h0m0 5h0m0 1h0m0 1h0m0 1h0m0 1h0m0 3h0m0 2h0m1-47h0m0 1h0m0 1h0m0 2h0m0 2h0m0 3h0m0 1h0m0 2h0m0 1h0m0 2h0m0 1h0m0 1h0m0 1h0m0 3h0m0 1h0m0 1h0m0 1h0m0 2h0m0 2h0m0 6h0m0 2h0m0 1h0m0 3h0m0 4h0m0 12h0m1-57h0m0 9h0m0 1h0m0 2h0m0 1h0m0 3h0m0 5h0m0 2h0m0 2h0m0 2h0m0 1h0m0 1h0m0 1h0m0 2h0m0 1h0m0 1h0m0 3h0m0 1h0m0 1h0m0 5h0m0 1h0m0 4h0m0 1h0m0 9h0m0 3h0m1-59h0m0 6h0m0 9h0m0 2h0m0 1h0m0 4h0m0 3h0m0 3h0m0 3h0m0 1h0m0 1h0m0 1h0m0 3h0m0 2h0m0 2h0m0 7h0m0 31h0m1-102h0m0 14h0m0 8h0m0 4h0m0 2h0m0 1h0m0 1h0m0 1h0m0 4h0m0 5h0m0 4h0m0 1h0m0 4h0m0 3h0m0 1h0m0 2h0m0 1h0m0 1h0m0 1h0m0 6h0m0 1h0m0 8h0m0 9h0m1-100h0m0 15h0m0 1h0m0 3h0m0 7h0m0 2h0m0 7h0m0 3h0m0 1h0m0 2h0m0 7h0m0 1h0m0 3h0m0 3h0m0 2h0m0 2h0m0 1h0m0 2h0m0 1h0m0 1h0m0 1h0m0 2h0m0 7h0m0 2h0m0 1h0m0 5h0m0 1h0m0 1h0m0 5h0m0 3h0m1-85h0m0 24h0m0 10h0m0 2h0m0 1h0m0 4h0m0 4h0m0 2h0m0 10h0m0 1h0m0 5h0m0 3h0m0 15h0m0 6h0m1-93h0m0 19h0m0 23h0m0 4h0m0 1h0m0 1h0m0 5h0m0 3h0m0 1h0m0 4h0m0 1h0m0 1h0m0 5h0m0 2h0m0 1h0m0 1h0m0 11h0m0 2h0m0 1h0m0 6h0m0 5h0m1-110h0m0 60h0m0 10h0m0 4h0m0 1h0m0 6h0m0 1h0m0 2h0m0 6h0m0 3h0m0 8h0m0 2h0m0 5h0m0 12h0m1-70h0m0 2h0m0 1h0m0 7h0m0 1h0m0 9h0m0 2h0m0 2h0m0 2h0m0 1h0m0 3h0m0 1h0m0 5h0m0 1h0m0 13h0m0 4h0m0 7h0m0 5h0m1-109h0m0 29h0m0 14h0m0 7h0m0 4h0m0 10h0m0 9h0m0 3h0m0 1h0m0 13h0m0 1h0m0 4h0m0 11h0m0 1h0m1-63h0m0 3h0m0 3h0m0 5h0m0 9h0m0 3h0m0 1h0m0 10h0m0 12h0m0 22h0m0 21h0m1-100h0m0 8h0m0 2h0m0 10h0m0 3h0m0 9h0m0 6h0m0 2h0m0 4h0m0 2h0m0 3h0m0 5h0m0 2h0m0 5h0m0 3h0m1-42h0m0 1h0m0 4h0m0 1h0m0 1h0m0 2h0m0 18h0m0 9h0m1-90h0m0 20h0m0 12h0m0 6h0m0 20h0m0 11h0m0 24h0m0 12h0m1-91h0m0 16h0m0 14h0m0 22h0m0 5h0m0 6h0m0 5h0m0 9h0m1-9h0m0 5h0m0 16h0m0 1h0m1-44h0m0 23h0m0 5h0m1-107h0m0 53h0m0 44h0m0 8h0m0 1h0m1-70h0m0 5h0m0 57h0m0 2h0m0 1h0m1 1h0m0 16h0m0 1h0m0 11h0m0 15h0m1-49h0m0 2h0m0 32h0m1-75h0m0 51h0m0 9h0m0 16h0m0 2h0m1-171h0m0 16h0m0 75h0m0 40h0m1-12h0m0 6h0m0 3h0m0 1h0m0 18h0m1-89h0m0 39h0m0 75h0m1-82h0m0 2h0m0 57h0m1-123h0m0 120h0m1-91h0m0 8h0m0 4h0m0 95h0m1-100h0m0 18h0m1-31h0m0 8h0m0 38h0m1-47h0m0 33h0m0 29h0m0 32h0m1-106h0m0 19h0m0 18h0m0 16h0m0 28h0m0 23h0m1-72h0m0 69h0m2-92h0m0 33h0m0 15h0m0 45h0m1-75h0m0 8h0m0 4h0m0 41h0m1-60h0m0 66h0m0 76h0m1-155h0m0 33h0m0 29h0m0 13h0m0 21h0m1-84h0m1 10h0m0 23h0m0 3h0m0 27h0m0 37h0m1-145h0m0 32h0m0 10h0m0 19h0m0 50h0m0 58h0m1-141h0m0 69h0m0 14h0m1-90h0m0 8h0m0 85h0m1-87h0m0 26h0m1-8h0m0 3h0m0 9h0m0 12h0m1-55h0m0 15h0m0 20h0m1-37h0m0 29h0m0 11h0m1-49h0m0 58h0m0 3h0m0 39h0m1-136h0m0 62h0m0 12h0m0 2h0m0 2h0m0 25h0m0 32h0m1-89h0m0 9h0m0 11h0m0 6h0m0 1h0m0 3h0m0 9h0m0 106h0m0 5h0m1-138h0m0 11h0m0 15h0m1-32h0m0 2h0m0 7h0m0 7h0m0 4h0m0 75h0m1-106h0m0 32h0m0 15h0m0 61h0m1-107h0m0 20h0m0 13h0m0 2h0m0 1h0m1-13h0m0 20h0m0 15h0m0 10h0m1-64h0m0 2h0m0 11h0m0 1h0m0 3h0m0 4h0m0 1h0m0 8h0m1-40h0m0 38h0m0 139h0m1-196h0m0 26h0m0 9h0m0 6h0m0 5h0m0 2h0m0 2h0m0 4h0m0 25h0m0 117h0m1-152h0m0 1h0m0 8h0m0 9h0m0 22h0m1-87h0m0 1h0m0 6h0m0 33h0m0 5h0m0 15h0m0 4h0m0 1h0m1-51h0m0 53h0m0 22h0m1-56h0m0 4h0m0 5h0m0 3h0m0 21h0m0 2h0m0 31h0m0 3h0m0 30h0m1-107h0m0 4h0m0 14h0m0 1h0m0 2h0m0 18h0m1-81h0m0 42h0m0 3h0m0 4h0m0 8h0m0 4h0m0 13h0m0 3h0m1-25h0m0 5h0m0 1h0m0 22h0m0 23h0m1-65h0m0 16h0m0 14h0m0 4h0m0 11h0m0 5h0m0 17h0m0 1h0m1-66h0m0 21h0m0 3h0m0 7h0m0 3h0m0 1h0m0 25h0m1-51h0m0 3h0m0 6h0m0 16h0m0 9h0m0 12h0m0 44h0m1-92h0m0 3h0m0 24h0m0 4h0m0 4h0m0 2h0m0 54h0m0 20h0m1-123h0m0 8h0m0 14h0m0 4h0m0 15h0m1-75h0m0 54h0m0 16h0m0 1h0m1-41h0m0 12h0m0 8h0m0 6h0m0 16h0m0 25h0m1-68h0m0 38h0m0 9h0m0 114h0m1-139h0m0 10h0m0 19h0m1-36h0m0 19h0m0 3h0m0 9h0m0 1h0m1-35h0m0 18h0m0 10h0m0 4h0m1-47h0m0 3h0m0 8h0m0 19h0m0 1h0m0 2h0m0 37h0m1-65h0m0 53h0m0 3h0m0 79h0m1-134h0m0 5h0m0 24h0m0 18h0m0 6h0m0 32h0m1-107h0m0 21h0m0 3h0m0 5h0m0 11h0m0 12h0m0 3h0m0 1h0m0 12h0m0 2h0m1-64h0m0 9h0m0 40h0m1-47h0m0 31h0m0 1h0m0 7h0m0 4h0m0 5h0m1-77h0m0 51h0m1-4h0m0 7h0m0 13h0m0 20h0m1 36h0m1-69h0m1 16h0m1-8h0m0 4h0m1-34h0m0 27h0m0 2h0m0 37h0m0 7h0m1-47h0m0 31h0m0 94h0m1-151h0m0 11h0m0 103h0m1-77h0m0 24h0m0 86h0m1-118h0m0 84h0m1-124h0m0 29h0m0 7h0m0 6h0m1 3h0m0 6h0m1-31h0m0 10h0m1 25h0m0 17h0m0 125h0m1 1h0m1-88h0m0 41h0m1-111h0m0 2h0m0 10h0m0 62h0m1-102h0m0 41h0m0 16h0m0 27h0m0 119h0m1-214h0m0 89h0m0 16h0m1-86h0m0 109h0m1 37h0m0 76h0m1-147h0m0 36h0m1-114h0m0 50h0m1-22h0m1 2h0m0 7h0m0 60h0m0 24h0m1-58h0m1-28h0m0 23h0m0 71h0m2-86h0m1 50h0m1-94h0m0 67h0m0 20h0m1 4h0m1-127h0m1 10h0m0 107h0m1-28h0m1-5h0m0 57h0m0 32h0m0 90h0m2-243h0m0 42h0m0 36h0m1-87h0m0 141h0m1-66h0m2 29h0m0 1h0m0 6h0m0 19h0m1-43h0m1-71h0m1 43h0m2-5h0m0 67h0m1 5h0m1-11h0m0 14h0m1-134h0m0 129h0m0 11h0m0 5h0m0 12h0m1-27h0m2 24h0m2-52h0m1 98h0m1-147h0m0 18h0m1 170h0m1-183h0m0 3h0m1-16h0m1 186h0m1-137h0m1 11h0m0 19h0m6 36h0m1-84h0m0 141h0m2-119h0m0 1h0m5-16h0m7 173h0m3 0h0m4 1h0m83-229h0"/>
<path d="M89 -163h0m3 33h0m2 34h0m1-30h0m2 22h0m1 6h0m0 4h0m1-6h0m1-85h0m0 39h0m0 6h0m0 16h0m0 2h0m0 46h0m1-14h0m1-112h0m0 45h0m0 32h0m0 1h0m1-17h0m1 10h0m0 11h0m0 13h0m1-47h0m0 14h0m0 19h0m0 2h0m1-46h0m0 23h0m0 27h0m1-45h0m0 19h0m0 9h0m0 28h0m1-34h0m0 7h0m0 1h0m0 14h0m0 30h0m1-87h0m0 24h0m0 4h0m0 13h0m0 1h0m0 1h0m0 4h0m0 16h0m0 3h0m0 5h0m0 6h0m1-33h0m0 10h0m0 3h0m0 2h0m0 19h0m1-57h0m0 24h0m0 8h0m0 1h0m0 5h0m0 5h0m1-60h0m0 11h0m0 2h0m0 4h0m0 9h0m0 22h0m0 1h0m0 1h0m0 8h0m0 4h0m1-83h0m0 5h0m0 25h0m0 5h0m0 10h0m0 5h0m0 1h0m0 2h0m0 12h0m0 5h0m0 8h0m0 5h0m0 2h0m0 5h0m0 3h0m0 14h0m0 6h0m1-80h0m0 22h0m0 14h0m0 2h0m0 2h0m0 1h0m0 2h0m0 5h0m0 1h0m0 3h0m0 6h0m0 3h0m0 1h0m0 6h0m0 17h0m0 5h0m1-71h0m0 11h0m0 3h0m0 3h0m0 1h0m0 1h0m0 4h0m0 1h0m0 1h0m0 6h0m0 1h0m0 1h0m0 18h0m0 2h0m0 6h0m1-142h0m0 22h0m0 40h0m0 1h0m0 3h0m0 18h0m0 11h0m0 2h0m0 1h0m0 1h0m0 4h0m0 1h0m0 1h0m0 3h0m0 7h0m0 1h0m0 3h0m0 1h0m0 10h0m0 8h0m1-69h0m0 8h0m0 6h0m0 11h0m0 2h0m0 2h0m0 9h0m0 4h0m0 6h0m0 1h0m0 9h0m0 15h0m1-57h0m0 5h0m0 2h0m0 1h0m0 2h0m0 8h0m0 1h0m0 2h0m0 2h0m0 2h0m0 5h0m0 7h0m0 1h0m0 1h0m1-60h0m0 13h0m0 5h0m0 3h0m0 2h0m0 6h0m0 3h0m0 2h0m0 1h0m0 2h0m0 1h0m0 3h0m0 1h0m0 1h0m0 2h0m0 1h0m0 5h0m0 13h0m0 4h0m0 9h0m1-81h0m0 8h0m0 8h0m0 9h0m0 3h0m0 6h0m0 2h0m0 2h0m0 1h0m0 4h0m0 3h0m0 1h0m0 8h0m0 1h0m0 5h0m0 3h0m0 14h0m1-73h0m0 11h0m0 5h0m0 3h0m0 5h0m0 6h0m0 2h0m0 2h0m0 1h0m0 2h0m0 3h0m0 1h0m0 4h0m0 5h0m0 3h0m0 2h0m0 2h0m0 2h0m0 3h0m0 4h0m1-77h0m0 2h0m0 21h0m0 5h0m0 2h0m0 6h0m0 1h0m0 3h0m0 1h0m0 5h0m0 1h0m0 3h0m0 1h0m0 4h0m0 1h0m0 1h0m0 1h0m0 3h0m0 1h0m0 1h0m0 2h0m0 1h0m0 3h0m0 1h0m0 2h0m0 1h0m0 1h0m0 1h0m0 1h0m0 11h0m0 4h0m1-62h0m0 1h0m0 3h0m0 3h0m0 2h0m0 3h0m0 2h0m0 1h0m0 1h0m0 1h0m0 1h0m0 1h0m0 1h0m0 3h0m0 2h0m0 4h0m0 3h0m0 5h0m0 2h0m0 1h0m0 5h0m0 15h0m1-60h0m0 7h0m0 2h0m0 1h0m0 2h0m0 1h0m0 3h0m0 1h0m0 4h0m0 4h0m0 1h0m0 3h0m0 1h0m0 3h0m0 1h0m0 2h0m0 2h0m0 4h0m0 2h0m0 1h0m0 1h0m0 1h0m0 2h0m0 5h0m0 35h0m1-118h0m0 23h0m0 3h0m0 1h0m0 7h0m0 4h0m0 1h0m0 3h0m0 2h0m0 1h0m0 1h0m0 1h0m0 4h0m0 3h0m0 1h0m0 2h0m0 1h0m0 3h0m0 1h0m0 2h0m0 2h0m0 6h0m0 1h0m0 1h0m0 4h0m0 2h0m0 4h0m1-82h0m0 18h0m0 3h0m0 3h0m0 1h0m0 6h0m0 2h0m0 2h0m0 2h0m0 4h0m0 1h0m0 2h0m0 4h0m0 1h0m0 2h0m0 1h0m0 2h0m0 1h0m0 1h0m0 1h0m0 2h0m0 2h0m0 1h0m0 1h0m0 1h0m0 1h0m0 1h0m0 1h0m0 1h0m0 2h0m0 1h0m0 3h0m0 6h0m0 17h0m1-126h0m0 30h0m0 6h0m0 9h0m0 1h0m0 5h0m0 3h0m0 1h0m0 3h0m0 1h0m0 7h0m0 2h0m0 2h0m0 2h0m0 3h0m0 3h0m0 3h0m0 1h0m0 1h0m0 1h0m0 2h0m0 1h0m0 1h0m0 1h0m0 1h0m0 1h0m0 1h0m0 2h0m0 11h0m0 4h0m0 1h0m0 29h0m1-176h0m0 40h0m0 44h0m0 2h0m0 4h0m0 1h0m0 1h0m0 1h0m0 1h0m0 2h0m0 2h0m0 3h0m0 2h0m0 4h0m0 3h0m0 1h0m0 2h0m0 2h0m0 5h0m0 1h0m0 4h0m0 1h0m0 1h0m0 2h0m0 1h0m0 1h0m0 2h0m0 2h0m0 7h0m0 3h0m0 1h0m0 9h0m1-65h0m0 5h0m0 1h0m0 1h0m0 3h0m0 1h0m0 1h0m0 2h0m0 2h0m0 2h0m0 1h0m0 1h0m0 1h0m0 1h0m0 1h0m0 2h0m0 1h0m0 1h0m0 3h0m0 4h0m0 3h0m0 1h0m0 5h0m0 1h0m0 5h0m0 1h0m0 2h0m0 2h0m0 1h0m0 3h0m0 4h0m0 1h0m0 21h0m1-89h0m0 5h0m0 1h0m0 4h0m0 3h0m0 1h0m0 2h0m0 3h0m0 2h0m0 3h0m0 1h0m0 1h0m0 1h0m0 1h0m0 1h0m0 1h0m0 1h0m0 2h0m0 4h0m0 2h0m0 1h0m0 1h0m0 1h0m0 1h0m0 1h0m0 1h0m0 2h0m0 3h0m0 1h0m0 1h0m0 1h0m0 1h0m0 3h0m0 1h0m0 1h0m0 2h0m0 3h0m0 1h0m0 4h0m0 2h0m0 10h0m1-86h0m0 5h0m0 6h0m0 4h0m0 1h0m0 2h0m0 6h0m0 2h0m0 1h0m0 1h0m0 3h0m0 1h0m0 3h0m0 2h0m0 4h0m0 3h0m0 1h0m0 5h0m0 3h0m0 1h0m0 1h0m0 2h0m0 1h0m0 1h0m0 4h0m0 2h0m0 4h0m0 5h0m0 7h0m1-99h0m0 28h0m0 2h0m0 1h0m0 1h0m0 7h0m0 1h0m0 1h0m0 2h0m0 1h0m0 1h0m0 3h0m0 3h0m0 1h0m0 2h0m0 3h0m0 1h0m0 1h0m0 1h0m0 1h0m0 1h0m0 1h0m0 1h0m0 2h0m0 1h0m0 3h0m0 1h0m0 1h0m0 2h0m0 1h0m0 3h0m0 3h0m0 3h0m0 1h0m0 1h0m0 1h0m0 2h0m0 5h0m0 12h0m0 17h0m1-185h0m0 82h0m0 13h0m0 3h0m0 5h0m0 4h0m0 1h0m0 1h0m0 1h0m0 1h0m0 1h0m0 3h0m0 1h0m0 1h0m0 1h0m0 1h0m0 2h0m0 3h0m0 1h0m0 1h0m0 1h0m0 1h0m0 1h0m0 1h0m0 2h0m0 1h0m0 1h0m0 2h0m0 1h0m0 1h0m0 1h0m0 5h0m0 26h0m1-79h0m0 9h0m0 1h0m0 1h0m0 4h0m0 2h0m0 1h0m0 2h0m0 2h0m0 1h0m0 1h0m0 1h0m0 2h0m0 1h0m0 3h0m0 3h0m0 2h0m0 1h0m0 6h0m0 3h0m0 1h0m0 2h0m0 2h0m0 5h0m0 2h0m0 1h0m0 4h0m0 11h0m1-88h0m0 14h0m0 5h0m0 4h0m0 2h0m0 6h0m0 9h0m0 2h0m0 3h0m0 4h0m0 2h0m0 2h0m0 4h0m0 2h0m0 1h0m0 7h0m0 2h0m0 4h0m0 3h0m0 1h0m0 4h0m0 3h0m1-71h0m0 10h0m0 2h0m0 3h0m0 7h0m0 1h0m0 1h0m0 2h0m0 1h0m0 1h0m0 1h0m0 1h0m0 1h0m0 1h0m0 2h0m0 3h0m0 1h0m0 1h0m0 1h0m0 4h0m0 2h0m0 1h0m0 4h0m0 1h0m0 1h0m0 2h0m0 1h0m0 2h0m0 2h0m0 1h0m0 4h0m0 3h0m0 5h0m0 3h0m1-82h0m0 8h0m0 3h0m0 6h0m0 1h0m0 1h0m0 1h0m0 1h0m0 2h0m0 1h0m0 1h0m0 2h0m0 1h0m0 1h0m0 1h0m0 2h0m0 1h0m0 1h0m0 2h0m0 2h0m0 1h0m0 3h0m0 2h0m0 1h0m0 2h0m0 1h0m0 1h0m0 1h0m0 1h0m0 2h0m0 1h0m0 4h0m0 1h0m0 3h0m0 10h0m1-92h0m0 26h0m0 9h0m0 1h0m0 4h0m0 5h0m0 1h0m0 2h0m0 2h0m0 1h0m0 2h0m0 2h0m0 3h0m0 2h0m0 1h0m0 1h0m0 1h0m0 1h0m0 1h0m0 1h0m0 1h0m0 4h0m0 1h0m0 3h0m0 2h0m0 6h0m0 2h0m0 2h0m0 1h0m0 1h0m0 10h0m1-70h0m0 4h0m0 2h0m0 2h0m0 5h0m0 2h0m0 1h0m0 1h0m0 2h0m0 7h0m0 3h0m0 1h0m0 1h0m0 1h0m0 1h0m0 1h0m0 4h0m0 2h0m0 1h0m0 1h0m0 1h0m0 4h0m0 3h0m0 1h0m0 3h0m0 2h0m0 4h0m0 5h0m1-116h0m0 49h0m0 2h0m0 1h0m0 3h0m0 2h0m0 3h0m0 8h0m0 4h0m0 2h0m0 1h0m0 1h0m0 3h0m0 1h0m0 1h0m0 1h0m0 1h0m0 3h0m0 2h0m0 1h0m0 1h0m0 2h0m0 2h0m0 5h0m0 1h0m0 2h0m0 11h0m0 1h0m0 1h0m0 1h0m0 13h0m1-83h0m0 14h0m0 4h0m0 2h0m0 3h0m0 2h0m0 1h0m0 2h0m0 3h0m0 2h0m0 2h0m0 1h0m0 1h0m0 3h0m0 6h0m0 2h0m0 1h0m0 4h0m0 7h0m0 4h0m1-50h0m0 9h0m0 2h0m0 1h0m0 3h0m0 2h0m0 2h0m0 2h0m0 2h0m0 5h0m0 1h0m0 4h0m0 1h0m0 1h0m0 2h0m0 2h0m0 3h0m0 1h0m0 5h0m0 1h0m0 4h0m0 8h0m0 4h0m0 16h0m1-115h0m0 15h0m0 19h0m0 2h0m0 1h0m0 1h0m0 2h0m0 2h0m0 8h0m0 1h0m0 7h0m0 4h0m0 1h0m0 5h0m0 1h0m0 1h0m0 1h0m0 2h0m0 2h0m0 3h0m0 4h0m0 1h0m1-54h0m0 14h0m0 1h0m0 2h0m0 2h0m0 1h0m0 1h0m0 1h0m0 11h0m0 4h0m0 2h0m0 4h0m0 4h0m0 1h0m0 7h0m0 3h0m0 1h0m0 7h0m0 5h0m1-136h0m0 74h0m0 5h0m0 3h0m0 4h0m0 1h0m0 2h0m0 1h0m0 2h0m0 2h0m0 1h0m0 1h0m0 1h0m0 4h0m0 7h0m0 1h0m0 3h0m0 1h0m0 4h0m0 2h0m0 2h0m0 2h0m0 3h0m0 3h0m1-82h0m0 3h0m0 24h0m0 5h0m0 4h0m0 2h0m0 4h0m0 4h0m0 1h0m0 3h0m0 2h0m0 4h0m0 3h0m0 11h0m1-52h0m0 3h0m0 16h0m0 3h0m0 2h0m0 3h0m0 1h0m0 9h0m0 4h0m0 2h0m0 4h0m0 3h0m0 4h0m0 1h0m0 3h0m0 8h0m1-100h0m0 6h0m0 10h0m0 12h0m0 3h0m0 10h0m0 1h0m0 12h0m0 5h0m0 1h0m0 4h0m0 2h0m0 1h0m0 1h0m0 5h0m0 2h0m0 2h0m0 1h0m0 2h0m0 6h0m0 6h0m1-64h0m0 28h0m0 5h0m0 2h0m0 3h0m0 5h0m0 1h0m0 1h0m0 1h0m0 2h0m0 19h0m1-76h0m0 10h0m0 3h0m0 4h0m0 9h0m0 7h0m0 1h0m0 1h0m0 4h0m0 6h0m0 3h0m0 1h0m0 1h0m0 12h0m0 3h0m0 4h0m0 2h0m0 1h0m0 4h0m0 2h0m0 9h0m0 13h0m1-92h0m0 4h0m0 17h0m0 5h0m0 7h0m0 2h0m0 2h0m0 2h0m0 1h0m0 4h0m0 9h0m0 26h0m1-99h0m0 10h0m0 31h0m0 1h0m0 3h0m0 19h0m0 5h0m0 8h0m0 13h0m1-57h0m0 5h0m0 27h0m0 6h0m0 2h0m0 1h0m0 4h0m0 2h0m0 6h0m0 4h0m0 12h0m1-38h0m0 5h0m0 31h0m1-164h0m0 96h0m0 16h0m0 2h0m0 2h0m0 9h0m0 7h0m0 7h0m0 7h0m1-75h0m0 14h0m0 5h0m0 7h0m0 18h0m0 37h0m1-158h0m0 122h0m0 1h0m0 12h0m0 3h0m0 2h0m0 18h0m1-85h0m0 28h0m0 9h0m0 9h0m0 10h0m0 5h0m0 6h0m0 6h0m0 12h0m1-103h0m0 6h0m0 9h0m0 29h0m0 23h0m0 10h0m0 11h0m0 1h0m0 9h0m0 1h0m0 6h0m0 4h0m0 1h0m1-128h0m0 50h0m0 7h0m0 5h0m0 5h0m0 22h0m0 8h0m0 10h0m1-64h0m0 21h0m0 5h0m0 19h0m0 17h0m0 14h0m0 1h0m1-149h0m0 69h0m0 9h0m0 13h0m0 5h0m0 5h0m0 7h0m0 9h0m0 3h0m0 5h0m0 20h0m0 3h0m1-89h0m0 45h0m0 10h0m0 18h0m0 4h0m1-54h0m0 7h0m1-45h0m0 70h0m0 18h0m1-54h0m0 39h0m0 16h0m0 16h0m1-95h0m0 62h0m0 41h0m1-110h0m0 99h0m1-115h0m0 39h0m0 68h0m1-44h0m0 29h0m1-87h0m0 7h0m0 32h0m0 25h0m0 31h0m1-136h0m0 59h0m0 3h0m0 28h0m0 27h0m1-44h0m0 58h0m1-88h0m0 8h0m1 2h0m0 25h0m0 23h0m0 13h0m0 15h0m0 1h0m0 4h0m1-87h0m0 11h0m0 55h0m1-63h0m0 17h0m1-39h0m0 14h0m0 6h0m0 45h0m0 17h0m0 9h0m0 2h0m1-71h0m0 10h0m0 9h0m0 7h0m1-33h0m0 7h0m0 14h0m0 29h0m1-31h0m0 5h0m0 5h0m0 29h0m1-66h0m0 30h0m0 9h0m1-30h0m0 17h0m0 22h0m1-78h0m0 18h0m0 12h0m0 9h0m0 10h0m0 15h0m1-41h0m0 5h0m0 9h0m0 9h0m1-34h0m0 27h0m0 35h0m1-34h0m0 6h0m0 8h0m0 20h0m0 30h0m2-64h0m1-28h0m0 9h0m0 11h0m0 12h0m0 18h0m1-46h0m0 20h0m0 12h0m0 87h0m1-114h0m1-7h0m0 10h0m0 8h0m0 10h0m0 106h0m1-121h0m0 7h0m0 13h0m0 5h0m0 1h0m1-13h0m0 14h0m0 6h0m0 69h0m0 55h0m1-168h0m0 16h0m0 2h0m0 1h0m0 6h0m0 17h0m0 10h0m1-41h0m0 9h0m0 9h0m0 10h0m1-56h0m0 12h0m0 4h0m0 28h0m0 4h0m0 8h0m0 7h0m0 54h0m1-95h0m0 9h0m0 15h0m0 10h0m0 30h0m1-79h0m0 3h0m0 3h0m0 14h0m0 21h0m0 6h0m0 47h0m1-77h0m0 24h0m0 2h0m0 24h0m0 2h0m0 12h0m0 8h0m1-70h0m0 64h0m0 21h0m1-100h0m0 13h0m0 8h0m0 5h0m0 2h0m0 4h0m0 11h0m0 9h0m1-40h0m0 6h0m0 5h0m0 3h0m0 8h0m0 65h0m0 102h0m1-211h0m0 18h0m0 11h0m0 7h0m0 8h0m0 3h0m0 2h0m0 1h0m1-32h0m0 1h0m0 5h0m0 23h0m0 3h0m0 2h0m0 9h0m0 11h0m0 1h0m1-67h0m0 12h0m0 2h0m0 9h0m1-25h0m0 7h0m0 10h0m0 17h0m0 18h0m0 4h0m0 28h0m0 6h0m0 17h0m0 1h0m1-100h0m0 12h0m0 5h0m0 4h0m0 6h0m0 2h0m0 11h0m0 6h0m0 26h0m0 16h0m0 18h0m1-116h0m0 40h0m0 12h0m1-30h0m0 6h0m0 2h0m0 4h0m0 26h0m0 7h0m0 86h0m0 13h0m0 30h0m1-175h0m0 2h0m0 8h0m0 15h0m1-64h0m0 23h0m0 16h0m0 3h0m0 2h0m0 18h0m0 2h0m0 174h0m1-220h0m0 16h0m0 2h0m0 10h0m0 11h0m0 83h0m1-171h0m0 65h0m0 6h0m0 7h0m0 7h0m0 3h0m0 17h0m0 39h0m0 55h0m1-137h0m0 139h0m0 46h0m1-202h0m0 17h0m0 2h0m0 3h0m0 5h0m0 24h0m0 7h0m1-79h0m0 18h0m0 35h0m0 1h0m0 13h0m0 53h0m0 21h0m1-139h0m0 24h0m0 25h0m0 4h0m0 7h0m0 23h0m0 7h0m0 52h0m0 16h0m1-131h0m0 5h0m0 5h0m0 7h0m0 12h0m0 120h0m0 5h0m1-179h0m0 18h0m0 15h0m0 4h0m0 9h0m0 13h0m0 100h0m1-143h0m0 36h0m0 1h0m0 7h0m0 2h0m1-49h0m0 12h0m0 17h0m0 22h0m0 11h0m1-42h0m0 7h0m0 7h0m1-26h0m0 4h0m0 19h0m0 6h0m0 84h0m1-137h0m0 16h0m0 28h0m0 9h0m0 1h0m0 41h0m1-38h0m0 31h0m0 17h0m0 27h0m1-83h0m0 6h0m0 1h0m0 70h0m0 39h0m1-123h0m1-10h0m0 9h0m2-21h0m0 23h0m0 35h0m0 60h0m1-94h0m0 1h0m0 44h0m0 38h0m0 16h0m2-98h0m0 7h0m0 114h0m1-138h0m0 1h0m0 157h0m1 3h0m1-126h0m0 8h0m1-15h0m1 0h0m0 36h0m1-70h0m0 57h0m0 6h0m1-35h0m0 10h0m0 25h0m0 52h0m1-26h0m1-109h0m0 34h0m0 36h0m1 10h0m0 161h0m1-258h0m0 36h0m0 23h0m1-47h0m0 83h0m0 53h0m1-99h0m1 57h0m1 127h0m3-190h0m0 63h0m0 31h0m1 74h0m6-97h0m0 44h0m0 100h0m1-210h0m0 4h0m0 49h0m0 158h0m1-130h0m0 123h0m1-179h0m0 41h0m3-65h0m0 64h0m0 23h0m0 37h0m1-81h0m1 42h0m0 4h0m0 16h0m2-71h0m0 8h0m0 67h0m1-148h0m0 143h0m1-68h0m0 81h0m1-136h0m0 82h0m1-10h0m2 7h0m1 7h0m1-10h0m0 7h0m0 16h0m0 28h0m2-60h0m0 101h0m2-80h0m1 78h0m1-196h0m1 163h0m0 95h0m0 2h0m2-114h0m1-70h0m2 146h0m5-145h0m6 171h0m1-60h0m1 14h0m1-46h0m0 40h0m1-98h0m6 113h0m1 16h0m5-46h0m2-5h0m0 83h0"/>
<path d="M68 -144h0m7 14h0m11-30h0m5 19h0m4-18h0m3 60h0m1 6h0m1-13h0m1-7h0m1-60h0m0 34h0m0 40h0m0 1h0m1-50h0m0 2h0m0 26h0m0 11h0m1-42h0m0 7h0m0 25h0m0 10h0m0 30h0m1-61h0m0 3h0m0 1h0m0 10h0m0 5h0m0 2h0m0 13h0m0 21h0m1-128h0m0 82h0m0 1h0m0 4h0m0 7h0m0 28h0m1-117h0m0 61h0m0 6h0m0 16h0m1-40h0m0 23h0m0 8h0m0 5h0m0 33h0m1-98h0m0 63h0m0 7h0m0 4h0m0 5h0m0 5h0m0 4h0m0 6h0m0 3h0m0 2h0m0 4h0m0 5h0m1-81h0m0 40h0m0 9h0m0 7h0m0 7h0m0 1h0m0 6h0m1-52h0m0 3h0m0 2h0m0 2h0m0 16h0m0 5h0m0 1h0m0 12h0m0 13h0m1-60h0m0 16h0m0 4h0m0 10h0m0 1h0m0 2h0m0 1h0m0 13h0m0 1h0m0 4h0m0 20h0m0 32h0m1-104h0m0 10h0m0 17h0m0 1h0m0 1h0m0 6h0m0 3h0m0 3h0m0 9h0m0 4h0m0 4h0m1-49h0m0 3h0m0 6h0m0 1h0m0 1h0m0 3h0m0 4h0m0 3h0m0 1h0m0 2h0m0 1h0m0 3h0m0 10h0m0 2h0m0 1h0m0 5h0m0 2h0m0 3h0m1-59h0m0 4h0m0 4h0m0 1h0m0 4h0m0 5h0m0 2h0m0 7h0m0 1h0m0 1h0m0 1h0m0 3h0m0 10h0m0 5h0m0 1h0m0 1h0m0 9h0m0 2h0m0 1h0m1-63h0m0 10h0m0 5h0m0 3h0m0 1h0m0 3h0m0 1h0m0 7h0m0 1h0m0 1h0m0 3h0m0 2h0m0 11h0m0 3h0m0 4h0m0 3h0m0 21h0m1-71h0m0 4h0m0 3h0m0 3h0m0 3h0m0 2h0m0 6h0m0 6h0m0 1h0m0 4h0m0 1h0m0 2h0m0 1h0m0 3h0m0 1h0m0 3h0m0 2h0m0 16h0m0 2h0m1-49h0m0 7h0m0 3h0m0 1h0m0 2h0m0 3h0m0 2h0m0 2h0m0 2h0m0 3h0m0 4h0m0 9h0m0 1h0m1-69h0m0 23h0m0 8h0m0 1h0m0 1h0m0 4h0m0 1h0m0 1h0m0 4h0m0 1h0m0 1h0m0 4h0m0 1h0m0 2h0m0 1h0m0 2h0m0 2h0m0 2h0m0 1h0m0 1h0m0 2h0m0 2h0m0 4h0m0 2h0m0 2h0m0 2h0m1-66h0m0 5h0m0 4h0m0 4h0m0 8h0m0 1h0m0 4h0m0 1h0m0 1h0m0 1h0m0 2h0m0 5h0m0 1h0m0 1h0m0 2h0m0 5h0m0 1h0m0 3h0m0 1h0m0 3h0m0 4h0m0 1h0m0 4h0m0 4h0m0 3h0m0 5h0m1-93h0m0 28h0m0 1h0m0 5h0m0 4h0m0 2h0m0 2h0m0 6h0m0 2h0m0 1h0m0 1h0m0 2h0m0 2h0m0 2h0m0 1h0m0 3h0m0 1h0m0 3h0m0 2h0m0 4h0m0 3h0m0 1h0m0 9h0m0 3h0m0 5h0m0 4h0m1-108h0m0 33h0m0 8h0m0 10h0m0 2h0m0 4h0m0 1h0m0 1h0m0 1h0m0 2h0m0 2h0m0 2h0m0 1h0m0 2h0m0 4h0m0 7h0m0 1h0m0 5h0m0 1h0m0 6h0m0 1h0m0 8h0m0 3h0m1-80h0m0 21h0m0 1h0m0 4h0m0 2h0m0 6h0m0 2h0m0 2h0m0 1h0m0 1h0m0 2h0m0 2h0m0 1h0m0 3h0m0 3h0m0 7h0m0 37h0m1-110h0m0 27h0m0 2h0m0 2h0m0 6h0m0 4h0m0 1h0m0 4h0m0 2h0m0 3h0m0 1h0m0 2h0m0 1h0m0 2h0m0 2h0m0 1h0m0 1h0m0 1h0m0 1h0m0 1h0m0 2h0m0 1h0m0 1h0m0 2h0m0 4h0m0 1h0m0 2h0m0 1h0m0 1h0m0 3h0m0 2h0m0 6h0m0 5h0m0 14h0m0 1h0m1-80h0m0 2h0m0 1h0m0 2h0m0 6h0m0 2h0m0 1h0m0 4h0m0 5h0m0 1h0m0 1h0m0 4h0m0 1h0m0 1h0m0 2h0m0 1h0m0 1h0m0 1h0m0 6h0m0 1h0m0 1h0m0 1h0m0 2h0m0 1h0m0 2h0m0 3h0m0 4h0m0 1h0m0 15h0m1-95h0m0 21h0m0 12h0m0 1h0m0 2h0m0 2h0m0 1h0m0 1h0m0 2h0m0 1h0m0 1h0m0 2h0m0 2h0m0 1h0m0 2h0m0 1h0m0 1h0m0 2h0m0 1h0m0 8h0m0 1h0m0 4h0m0 2h0m0 2h0m0 10h0m0 12h0m1-90h0m0 11h0m0 8h0m0 1h0m0 9h0m0 4h0m0 1h0m0 1h0m0 1h0m0 1h0m0 2h0m0 2h0m0 1h0m0 5h0m0 1h0m0 1h0m0 2h0m0 2h0m0 2h0m0 6h0m0 2h0m0 2h0m0 1h0m0 4h0m0 3h0m0 2h0m0 1h0m0 3h0m0 17h0m1-95h0m0 18h0m0 2h0m0 3h0m0 3h0m0 1h0m0 7h0m0 3h0m0 1h0m0 2h0m0 1h0m0 1h0m0 1h0m0 1h0m0 3h0m0 1h0m0 2h0m0 2h0m0 1h0m0 2h0m0 1h0m0 1h0m0 2h0m0 2h0m0 1h0m0 1h0m0 1h0m0 1h0m0 1h0m0 2h0m0 1h0m0 2h0m0 2h0m0 4h0m1-71h0m0 2h0m0 11h0m0 1h0m0 1h0m0 3h0m0 4h0m0 3h0m0 2h0m0 2h0m0 1h0m0 2h0m0 1h0m0 1h0m0 1h0m0 2h0m0 2h0m0 1h0m0 1h0m0 2h0m0 1h0m0 2h0m0 1h0m0 1h0m0 4h0m0 1h0m0 1h0m0 2h0m0 1h0m0 1h0m0 1h0m0 1h0m0 4h0m0 1h0m0 8h0m0 11h0m0 20h0m1-130h0m0 16h0m0 29h0m0 1h0m0 1h0m0 1h0m0 2h0m0 4h0m0 3h0m0 1h0m0 2h0m0 2h0m0 1h0m0 2h0m0 3h0m0 1h0m0 3h0m0 1h0m0 1h0m0 1h0m0 3h0m0 1h0m0 3h0m0 6h0m0 1h0m1-61h0m0 1h0m0 3h0m0 10h0m0 3h0m0 7h0m0 1h0m0 2h0m0 1h0m0 1h0m0 1h0m0 1h0m0 1h0m0 1h0m0 2h0m0 3h0m0 1h0m0 1h0m0 1h0m0 1h0m0 2h0m0 1h0m0 3h0m0 2h0m0 5h0m0 1h0m0 1h0m0 1h0m0 2h0m0 1h0m0 1h0m0 2h0m0 5h0m0 2h0m0 2h0m0 7h0m1-95h0m0 1h0m0 18h0m0 4h0m0 6h0m0 1h0m0 1h0m0 3h0m0 4h0m0 1h0m0 4h0m0 1h0m0 1h0m0 2h0m0 1h0m0 1h0m0 2h0m0 3h0m0 2h0m0 2h0m0 1h0m0 6h0m0 1h0m0 1h0m0 1h0m0 2h0m0 1h0m0 1h0m0 3h0m0 4h0m0 3h0m0 1h0m0 3h0m1-61h0m0 7h0m0 1h0m0 3h0m0 4h0m0 1h0m0 6h0m0 1h0m0 2h0m0 1h0m0 1h0m0 1h0m0 1h0m0 1h0m0 1h0m0 1h0m0 5h0m0 1h0m0 3h0m0 4h0m0 1h0m0 1h0m0 1h0m0 1h0m0 2h0m0 1h0m0 1h0m0 3h0m0 4h0m0 2h0m0 2h0m1-81h0m0 17h0m0 6h0m0 1h0m0 3h0m0 1h0m0 4h0m0 1h0m0 2h0m0 2h0m0 1h0m0 3h0m0 1h0m0 5h0m0 2h0m0 2h0m0 2h0m0 1h0m0 1h0m0 1h0m0 1h0m0 2h0m0 4h0m0 1h0m0 13h0m0 2h0m0 2h0m0 1h0m0 1h0m0 5h0m0 6h0m1-89h0m0 1h0m0 15h0m0 1h0m0 1h0m0 1h0m0 3h0m0 1h0m0 2h0m0 1h0m0 1h0m0 2h0m0 1h0m0 1h0m0 5h0m0 1h0m0 1h0m0 1h0m0 1h0m0 1h0m0 1h0m0 4h0m0 2h0m0 1h0m0 1h0m0 1h0m0 3h0m0 2h0m0 1h0m0 1h0m0 1h0m0 4h0m0 1h0m0 1h0m0 1h0m0 1h0m0 1h0m0 13h0m0 1h0m0 2h0m1-68h0m0 8h0m0 1h0m0 1h0m0 1h0m0 1h0m0 1h0m0 1h0m0 1h0m0 1h0m0 1h0m0 2h0m0 2h0m0 2h0m0 1h0m0 1h0m0 2h0m0 3h0m0 1h0m0 1h0m0 1h0m0 1h0m0 3h0m0 1h0m0 3h0m0 3h0m0 1h0m0 3h0m0 3h0m0 1h0m0 2h0m0 2h0m0 3h0m0 3h0m0 2h0m0 1h0m1-83h0m0 11h0m0 8h0m0 9h0m0 1h0m0 4h0m0 1h0m0 2h0m0 2h0m0 1h0m0 2h0m0 3h0m0 1h0m0 1h0m0 2h0m0 1h0m0 1h0m0 1h0m0 1h0m0 1h0m0 2h0m0 7h0m0 1h0m0 1h0m0 2h0m0 1h0m0 3h0m0 1h0m0 1h0m0 3h0m0 2h0m0 1h0m0 17h0m1-69h0m0 2h0m0 2h0m0 2h0m0 1h0m0 2h0m0 2h0m0 1h0m0 1h0m0 4h0m0 1h0m0 2h0m0 1h0m0 1h0m0 1h0m0 2h0m0 1h0m0 2h0m0 2h0m0 1h0m0 2h0m0 2h0m0 2h0m0 3h0m0 5h0m0 1h0m0 9h0m0 1h0m0 18h0m1-91h0m0 1h0m0 9h0m0 8h0m0 2h0m0 7h0m0 12h0m0 1h0m0 3h0m0 1h0m0 1h0m0 1h0m0 2h0m0 1h0m0 3h0m0 1h0m0 1h0m0 1h0m0 8h0m0 2h0m0 4h0m0 4h0m1-79h0m0 8h0m0 1h0m0 11h0m0 1h0m0 1h0m0 4h0m0 1h0m0 1h0m0 2h0m0 1h0m0 2h0m0 3h0m0 2h0m0 1h0m0 3h0m0 1h0m0 1h0m0 1h0m0 1h0m0 3h0m0 1h0m0 3h0m0 2h0m0 1h0m0 2h0m0 1h0m0 1h0m0 1h0m0 1h0m0 4h0m0 1h0m0 3h0m0 2h0m0 6h0m0 3h0m0 1h0m1-92h0m0 30h0m0 3h0m0 10h0m0 4h0m0 1h0m0 1h0m0 2h0m0 1h0m0 2h0m0 2h0m0 1h0m0 1h0m0 2h0m0 1h0m0 3h0m0 3h0m0 2h0m0 1h0m0 2h0m0 1h0m0 4h0m0 8h0m0 8h0m0 4h0m1-75h0m0 1h0m0 9h0m0 7h0m0 4h0m0 1h0m0 1h0m0 1h0m0 1h0m0 1h0m0 2h0m0 1h0m0 3h0m0 1h0m0 2h0m0 1h0m0 2h0m0 1h0m0 2h0m0 3h0m0 1h0m0 7h0m0 3h0m0 2h0m0 1h0m0 1h0m0 1h0m0 6h0m0 4h0m0 7h0m1-105h0m0 38h0m0 4h0m0 6h0m0 2h0m0 1h0m0 1h0m0 1h0m0 1h0m0 1h0m0 3h0m0 1h0m0 1h0m0 1h0m0 1h0m0 2h0m0 6h0m0 1h0m0 3h0m0 1h0m0 9h0m0 1h0m0 2h0m0 1h0m0 17h0m0 11h0m1-94h0m0 19h0m0 2h0m0 4h0m0 1h0m0 3h0m0 3h0m0 1h0m0 2h0m0 4h0m0 2h0m0 4h0m0 1h0m0 1h0m0 1h0m0 1h0m0 3h0m0 1h0m0 1h0m0 1h0m0 1h0m0 4h0m0 2h0m0 5h0m0 1h0m0 5h0m0 3h0m0 2h0m0 2h0m1-73h0m0 20h0m0 4h0m0 2h0m0 8h0m0 3h0m0 1h0m0 1h0m0 4h0m0 1h0m0 2h0m0 3h0m0 1h0m0 3h0m0 3h0m0 3h0m1-60h0m0 11h0m0 4h0m0 2h0m0 2h0m0 9h0m0 1h0m0 2h0m0 6h0m0 2h0m0 7h0m0 1h0m0 1h0m0 4h0m0 10h0m0 3h0m1-110h0m0 35h0m0 28h0m0 4h0m0 9h0m0 5h0m0 1h0m0 4h0m0 4h0m0 1h0m0 1h0m0 2h0m0 7h0m0 3h0m1-74h0m0 8h0m0 27h0m0 2h0m0 1h0m0 1h0m0 3h0m0 1h0m0 6h0m0 1h0m0 2h0m0 2h0m0 5h0m0 1h0m0 2h0m0 2h0m0 4h0m0 3h0m0 2h0m0 4h0m0 8h0m0 19h0m1-94h0m0 3h0m0 18h0m0 2h0m0 6h0m0 5h0m0 2h0m0 5h0m0 5h0m0 8h0m0 4h0m0 33h0m1-101h0m0 2h0m0 1h0m0 8h0m0 8h0m0 8h0m0 3h0m0 11h0m0 9h0m0 1h0m0 2h0m0 1h0m0 3h0m0 3h0m0 2h0m0 1h0m0 1h0m0 7h0m1-89h0m0 15h0m0 1h0m0 37h0m0 11h0m0 2h0m0 1h0m0 5h0m0 5h0m0 2h0m0 1h0m0 3h0m0 4h0m0 10h0m0 10h0m1-134h0m0 82h0m0 3h0m0 10h0m0 1h0m0 6h0m0 16h0m0 41h0m1-125h0m0 49h0m0 2h0m0 1h0m0 1h0m0 3h0m0 1h0m0 7h0m0 1h0m0 4h0m0 8h0m0 3h0m0 14h0m0 22h0m1-139h0m0 42h0m0 44h0m0 2h0m0 2h0m0 2h0m0 5h0m0 2h0m0 20h0m1-98h0m0 11h0m0 2h0m0 21h0m0 36h0m0 2h0m0 10h0m0 8h0m1-142h0m0 61h0m0 17h0m0 10h0m0 8h0m0 3h0m0 2h0m0 9h0m0 1h0m0 8h0m0 13h0m0 5h0m0 4h0m1-47h0m0 28h0m0 12h0m0 9h0m1-139h0m0 42h0m0 28h0m0 3h0m0 10h0m0 6h0m0 11h0m0 9h0m0 10h0m0 6h0m0 16h0m0 3h0m1-100h0m0 26h0m0 8h0m0 20h0m0 5h0m0 2h0m0 10h0m0 16h0m0 4h0m0 13h0m1-151h0m0 86h0m0 15h0m1-64h0m0 2h0m0 54h0m1-75h0m0 31h0m0 29h0m0 52h0m0 16h0m1-46h0m0 5h0m1-43h0m0 19h0m1-41h0m0 60h0m0 30h0m0 14h0m0 17h0m1-156h0m0 37h0m0 15h0m0 19h0m0 68h0m0 67h0m1-202h0m0 115h0m0 10h0m1-69h0m0 2h0m0 16h0m0 82h0m1-85h0m0 3h0m1-75h0m0 51h0m0 30h0m0 10h0m1-43h0m0 22h0m0 43h0m0 28h0m1-80h0m0 2h0m0 10h0m0 28h0m0 5h0m1-105h0m0 27h0m0 5h0m1 13h0m1 6h0m0 2h0m0 16h0m0 36h0m0 26h0m1-119h0m0 2h0m0 22h0m0 8h0m0 3h0m0 72h0m1-87h0m0 12h0m0 26h0m0 28h0m1-47h0m0 6h0m0 2h0m1-16h0m0 3h0m0 5h0m0 46h0m0 54h0m1-132h0m0 53h0m1-42h0m0 19h0m0 110h0m1-126h0m1-4h0m0 1h0m0 118h0m1-109h0m1-23h0m0 8h0m0 122h0m1-139h0m0 14h0m0 9h0m0 7h0m0 5h0m1-41h0m0 16h0m0 19h0m0 2h0m0 30h0m1-69h0m0 13h0m0 20h0m0 4h0m0 50h0m0 59h0m1-130h0m0 22h0m0 3h0m0 5h0m1-40h0m0 13h0m0 7h0m0 4h0m0 5h0m0 1h0m0 14h0m0 3h0m1-49h0m0 1h0m0 6h0m0 23h0m0 22h0m1-56h0m0 18h0m0 16h0m0 6h0m0 4h0m0 31h0m1-29h0m1-35h0m0 1h0m1 11h0m0 9h0m0 1h0m0 7h0m0 26h0m1-60h0m0 14h0m0 104h0m0 19h0m1-198h0m0 81h0m0 1h0m0 2h0m0 4h0m0 2h0m0 15h0m0 47h0m1-96h0m0 8h0m0 4h0m0 5h0m0 8h0m0 3h0m0 3h0m0 84h0m0 69h0m0 4h0m1-179h0m0 10h0m0 7h0m0 5h0m0 9h0m0 2h0m0 1h0m1 111h0m1-170h0m0 25h0m0 17h0m0 7h0m0 2h0m0 6h0m1-22h0m0 7h0m0 4h0m0 12h0m0 8h0m1-72h0m0 18h0m0 1h0m0 15h0m0 3h0m0 2h0m0 24h0m0 8h0m1-50h0m0 7h0m0 9h0m0 1h0m0 4h0m0 1h0m0 7h0m0 6h0m0 10h0m0 3h0m0 4h0m0 23h0m1-70h0m0 5h0m0 5h0m0 6h0m0 1h0m0 4h0m0 6h0m0 8h0m0 4h0m0 2h0m0 18h0m0 11h0m1-77h0m0 7h0m0 10h0m0 3h0m1-10h0m0 3h0m0 1h0m0 3h0m0 15h0m0 28h0m1-54h0m0 18h0m0 8h0m0 10h0m0 8h0m0 74h0m1-111h0m0 5h0m1 9h0m0 1h0m0 7h0m0 52h0m0 5h0m0 34h0m0 16h0m0 18h0m1-178h0m0 26h0m0 16h0m0 33h0m0 16h0m1-72h0m0 10h0m0 1h0m0 13h0m0 6h0m0 13h0m1-48h0m0 23h0m0 4h0m0 5h0m0 4h0m0 13h0m0 102h0m1-149h0m0 20h0m0 5h0m0 18h0m0 8h0m0 73h0m1-131h0m0 9h0m0 8h0m0 8h0m0 14h0m0 14h0m1-86h0m0 23h0m0 29h0m0 12h0m0 170h0m1-164h0m0 10h0m0 40h0m1-114h0m0 38h0m0 24h0m0 10h0m0 3h0m0 2h0m0 6h0m1-39h0m0 2h0m0 1h0m0 3h0m0 9h0m0 63h0m0 16h0m1-132h0m0 29h0m0 2h0m0 8h0m0 17h0m0 2h0m0 59h0m1-104h0m0 7h0m0 20h0m0 24h0m0 46h0m0 18h0m0 70h0m1-218h0m0 73h0m0 2h0m0 48h0m0 32h0m0 39h0m0 70h0m1-227h0m0 5h0m0 19h0m0 34h0m1-50h0m0 13h0m0 1h0m0 2h0m0 20h0m0 1h0m0 125h0m1-173h0m0 6h0m0 26h0m0 6h0m1-20h0m0 6h0m0 106h0m1-113h0m0 6h0m1-18h0m0 10h0m0 25h0m0 32h0m0 6h0m1-66h0m0 66h0m1-52h0m0 3h0m0 12h0m0 88h0m1-109h0m0 5h0m0 15h0m0 2h0m1-41h0m0 14h0m0 2h0m0 95h0m0 10h0m1-97h0m0 96h0m0 107h0m1-219h0m0 38h0m0 61h0m0 4h0m0 15h0m0 41h0m1-141h0m1-41h0m0 23h0m0 4h0m0 18h0m0 84h0m1-78h0m0 17h0m0 85h0m0 26h0m0 4h0m1-168h0m0 24h0m0 30h0m1-36h0m1 19h0m0 103h0m1-165h0m0 60h0m0 161h0m1-175h0m0 15h0m0 102h0m1-72h0m0 49h0m1-103h0m0 49h0m0 9h0m1-64h0m0 2h0m1 64h0m1-64h0m0 4h0m0 66h0m1-59h0m0 47h0m1-90h0m0 160h0m1-40h0m2 53h0m1-35h0m1-80h0m0 75h0m1-109h0m0 7h0m0 138h0m1-79h0m0 3h0m0 42h0m1-110h0m0 84h0m0 71h0m1-90h0m1-37h0m0 200h0m1-182h0m1-5h0m0 40h0m1-21h0m0 28h0m0 30h0m1-46h0m0 4h0m1 44h0m2-39h0m0 44h0m0 14h0m1-66h0m0 1h0m0 19h0m0 24h0m1-81h0m0 43h0m1 33h0m1-150h0m0 191h0m1-53h0m1-6h0m1-33h0m1-63h0m0 132h0m1-152h0m1 55h0m0 177h0m2-146h0m3-16h0m0 91h0m1-72h0m1 42h0m1-75h0m2 60h0m2 74h0m1-92h0m0 68h0m0 8h0m0 18h0m1-34h0m1 11h0m1-8h0m0 71h0m1-61h0m3 18h0m2 45h0m8-51h0m1 30h0m2-4h0m2 14h0m5-103h0m1 96h0"/>
<path d="M69 -141h0m4-50h0m16 57h0m4-41h0m1 42h0m4 5h0m1-5h0m0 6h0m0 4h0m1-44h0m0 29h0m0 14h0m1-6h0m0 19h0m0 43h0m1-30h0m1-52h0m1 12h0m0 10h0m0 24h0m1-101h0m0 66h0m0 8h0m0 2h0m0 6h0m0 19h0m0 8h0m1-34h0m0 20h0m0 23h0m1-60h0m0 1h0m0 7h0m0 2h0m0 1h0m0 1h0m0 16h0m0 6h0m0 3h0m1-77h0m0 30h0m0 13h0m0 36h0m1-29h0m0 1h0m0 4h0m0 20h0m0 9h0m0 9h0m1-51h0m0 4h0m0 3h0m0 6h0m0 1h0m0 1h0m0 10h0m0 3h0m0 18h0m0 7h0m0 10h0m1-70h0m0 12h0m0 2h0m0 5h0m0 9h0m0 4h0m0 13h0m0 3h0m0 1h0m0 7h0m1-44h0m0 9h0m0 1h0m0 3h0m0 3h0m0 5h0m0 3h0m0 2h0m0 2h0m0 1h0m0 3h0m0 8h0m0 4h0m0 9h0m0 19h0m1-92h0m0 22h0m0 11h0m0 7h0m0 5h0m0 3h0m0 3h0m0 6h0m0 4h0m0 18h0m0 16h0m1-73h0m0 5h0m0 1h0m0 2h0m0 4h0m0 1h0m0 4h0m0 1h0m0 5h0m0 1h0m0 1h0m0 13h0m1-36h0m0 2h0m0 4h0m0 1h0m0 3h0m0 1h0m0 1h0m0 3h0m0 4h0m0 2h0m0 1h0m0 2h0m0 10h0m0 4h0m0 5h0m1-50h0m0 2h0m0 5h0m0 3h0m0 2h0m0 3h0m0 2h0m0 3h0m0 3h0m0 1h0m0 3h0m0 1h0m0 5h0m0 1h0m0 6h0m0 7h0m0 6h0m0 6h0m1-72h0m0 8h0m0 6h0m0 3h0m0 4h0m0 8h0m0 2h0m0 1h0m0 4h0m0 1h0m0 3h0m0 1h0m0 3h0m0 3h0m0 1h0m0 21h0m0 3h0m1-63h0m0 3h0m0 2h0m0 5h0m0 1h0m0 6h0m0 2h0m0 1h0m0 2h0m0 2h0m0 6h0m0 1h0m0 2h0m0 2h0m0 1h0m0 2h0m0 1h0m0 1h0m0 3h0m0 7h0m0 7h0m0 1h0m0 29h0m1-86h0m0 1h0m0 1h0m0 3h0m0 5h0m0 3h0m0 2h0m0 2h0m0 1h0m0 2h0m0 2h0m0 1h0m0 1h0m0 2h0m0 1h0m0 1h0m0 3h0m0 1h0m0 2h0m0 4h0m0 1h0m0 1h0m0 1h0m0 11h0m0 6h0m1-60h0m0 9h0m0 7h0m0 8h0m0 3h0m0 2h0m0 2h0m0 3h0m0 1h0m0 1h0m0 1h0m0 1h0m0 3h0m0 2h0m0 8h0m0 6h0m0 7h0m0 3h0m1-82h0m0 17h0m0 1h0m0 2h0m0 9h0m0 6h0m0 1h0m0 2h0m0 1h0m0 1h0m0 3h0m0 2h0m0 2h0m0 1h0m0 5h0m0 2h0m0 3h0m0 2h0m0 2h0m0 2h0m0 4h0m0 3h0m0 1h0m0 2h0m0 15h0m1-85h0m0 13h0m0 1h0m0 6h0m0 8h0m0 2h0m0 2h0m0 3h0m0 2h0m0 3h0m0 1h0m0 2h0m0 2h0m0 1h0m0 2h0m0 4h0m0 4h0m0 1h0m0 1h0m0 1h0m0 3h0m0 3h0m0 13h0m1-79h0m0 6h0m0 2h0m0 12h0m0 1h0m0 11h0m0 1h0m0 4h0m0 2h0m0 1h0m0 1h0m0 2h0m0 1h0m0 1h0m0 3h0m0 1h0m0 9h0m0 1h0m0 5h0m0 3h0m0 1h0m0 3h0m0 7h0m0 7h0m1-142h0m0 71h0m0 1h0m0 2h0m0 5h0m0 5h0m0 6h0m0 2h0m0 3h0m0 2h0m0 1h0m0 2h0m0 3h0m0 5h0m0 1h0m0 3h0m0 1h0m0 1h0m0 1h0m0 2h0m0 1h0m0 1h0m0 1h0m0 3h0m0 1h0m0 48h0m1-95h0m0 1h0m0 1h0m0 8h0m0 1h0m0 1h0m0 1h0m0 2h0m0 1h0m0 3h0m0 1h0m0 1h0m0 1h0m0 1h0m0 1h0m0 3h0m0 1h0m0 3h0m0 4h0m0 4h0m0 1h0m0 2h0m0 3h0m0 4h0m1-96h0m0 38h0m0 6h0m0 6h0m0 1h0m0 1h0m0 2h0m0 1h0m0 2h0m0 2h0m0 1h0m0 1h0m0 2h0m0 3h0m0 2h0m0 2h0m0 1h0m0 1h0m0 2h0m0 1h0m0 1h0m0 2h0m0 2h0m0 1h0m0 1h0m0 1h0m0 1h0m0 1h0m0 1h0m0 1h0m0 2h0m0 4h0m0 1h0m0 1h0m0 1h0m0 2h0m0 2h0m0 9h0m1-90h0m0 13h0m0 18h0m0 4h0m0 1h0m0 3h0m0 2h0m0 1h0m0 2h0m0 1h0m0 2h0m0 1h0m0 1h0m0 2h0m0 2h0m0 1h0m0 1h0m0 1h0m0 1h0m0 3h0m0 1h0m0 1h0m0 1h0m0 1h0m0 2h0m0 4h0m0 3h0m0 2h0m0 1h0m0 1h0m0 6h0m0 7h0m0 28h0m1-107h0m0 16h0m0 4h0m0 1h0m0 1h0m0 1h0m0 1h0m0 2h0m0 1h0m0 4h0m0 2h0m0 2h0m0 4h0m0 2h0m0 5h0m0 1h0m0 1h0m0 1h0m0 6h0m0 1h0m0 1h0m0 1h0m0 1h0m0 2h0m0 3h0m0 1h0m0 3h0m0 1h0m0 1h0m0 2h0m0 11h0m1-103h0m0 33h0m0 2h0m0 3h0m0 2h0m0 2h0m0 6h0m0 1h0m0 2h0m0 2h0m0 2h0m0 2h0m0 2h0m0 3h0m0 1h0m0 2h0m0 1h0m0 1h0m0 2h0m0 1h0m0 2h0m0 1h0m0 1h0m0 3h0m0 1h0m0 1h0m0 2h0m0 2h0m0 6h0m0 3h0m0 14h0m1-75h0m0 3h0m0 1h0m0 2h0m0 6h0m0 3h0m0 3h0m0 10h0m0 1h0m0 4h0m0 1h0m0 1h0m0 3h0m0 4h0m0 1h0m0 3h0m0 1h0m0 1h0m0 6h0m0 1h0m0 3h0m0 1h0m0 1h0m0 1h0m0 12h0m1-110h0m0 19h0m0 6h0m0 6h0m0 4h0m0 5h0m0 4h0m0 7h0m0 1h0m0 1h0m0 1h0m0 2h0m0 2h0m0 1h0m0 1h0m0 1h0m0 1h0m0 2h0m0 1h0m0 4h0m0 2h0m0 2h0m0 1h0m0 2h0m0 2h0m0 3h0m0 1h0m0 3h0m0 4h0m0 5h0m0 1h0m0 1h0m0 4h0m0 1h0m0 16h0m1-76h0m0 2h0m0 10h0m0 1h0m0 1h0m0 7h0m0 1h0m0 1h0m0 4h0m0 1h0m0 1h0m0 3h0m0 1h0m0 2h0m0 1h0m0 2h0m0 3h0m0 1h0m0 2h0m0 3h0m0 1h0m0 1h0m0 1h0m0 2h0m0 2h0m0 3h0m0 5h0m0 11h0m1-106h0m0 23h0m0 1h0m0 15h0m0 1h0m0 2h0m0 2h0m0 4h0m0 6h0m0 1h0m0 1h0m0 1h0m0 1h0m0 1h0m0 1h0m0 1h0m0 1h0m0 2h0m0 1h0m0 2h0m0 2h0m0 1h0m0 3h0m0 3h0m0 1h0m0 1h0m0 1h0m0 2h0m0 11h0m1-104h0m0 26h0m0 8h0m0 14h0m0 2h0m0 3h0m0 1h0m0 3h0m0 1h0m0 3h0m0 1h0m0 1h0m0 2h0m0 3h0m0 1h0m0 2h0m0 1h0m0 1h0m0 1h0m0 2h0m0 1h0m0 1h0m0 2h0m0 1h0m0 1h0m0 1h0m0 2h0m0 2h0m0 2h0m0 2h0m0 1h0m0 1h0m0 2h0m0 1h0m0 3h0m0 1h0m0 5h0m0 1h0m0 4h0m0 7h0m1-120h0m0 1h0m0 33h0m0 4h0m0 1h0m0 17h0m0 1h0m0 4h0m0 3h0m0 2h0m0 1h0m0 2h0m0 1h0m0 4h0m0 3h0m0 2h0m0 1h0m0 2h0m0 3h0m0 1h0m0 1h0m0 5h0m0 2h0m0 1h0m0 1h0m0 3h0m0 1h0m0 10h0m0 3h0m0 4h0m0 9h0m1-91h0m0 13h0m0 1h0m0 2h0m0 1h0m0 1h0m0 1h0m0 8h0m0 1h0m0 4h0m0 3h0m0 4h0m0 2h0m0 1h0m0 2h0m0 1h0m0 4h0m0 1h0m0 2h0m0 1h0m0 2h0m0 2h0m0 2h0m0 1h0m0 2h0m0 5h0m0 1h0m0 4h0m0 5h0m0 2h0m1-80h0m0 12h0m0 5h0m0 11h0m0 2h0m0 3h0m0 2h0m0 6h0m0 2h0m0 1h0m0 1h0m0 3h0m0 1h0m0 2h0m0 1h0m0 1h0m0 1h0m0 4h0m0 2h0m0 1h0m0 1h0m0 2h0m0 2h0m0 1h0m0 2h0m0 4h0m0 2h0m0 4h0m0 2h0m0 3h0m0 12h0m1-73h0m0 5h0m0 6h0m0 1h0m0 2h0m0 2h0m0 2h0m0 1h0m0 2h0m0 1h0m0 1h0m0 2h0m0 1h0m0 3h0m0 2h0m0 2h0m0 2h0m0 5h0m0 2h0m0 1h0m0 2h0m0 4h0m0 5h0m0 20h0m0 2h0m1-85h0m0 5h0m0 1h0m0 6h0m0 3h0m0 2h0m0 1h0m0 2h0m0 1h0m0 1h0m0 1h0m0 2h0m0 1h0m0 1h0m0 2h0m0 4h0m0 1h0m0 2h0m0 1h0m0 2h0m0 2h0m0 1h0m0 2h0m0 1h0m0 2h0m0 1h0m0 3h0m0 1h0m0 2h0m0 1h0m0 2h0m0 3h0m0 8h0m1-72h0m0 13h0m0 3h0m0 2h0m0 5h0m0 2h0m0 4h0m0 1h0m0 4h0m0 2h0m0 1h0m0 5h0m0 3h0m0 2h0m0 3h0m0 1h0m0 2h0m0 3h0m0 7h0m0 3h0m0 1h0m0 1h0m0 1h0m1-145h0m0 67h0m0 18h0m0 6h0m0 3h0m0 10h0m0 8h0m0 1h0m0 2h0m0 1h0m0 3h0m0 1h0m0 2h0m0 4h0m0 1h0m0 1h0m0 1h0m0 6h0m0 5h0m0 6h0m0 5h0m0 1h0m0 3h0m0 1h0m0 2h0m1-85h0m0 20h0m0 7h0m0 10h0m0 1h0m0 2h0m0 1h0m0 1h0m0 3h0m0 2h0m0 4h0m0 1h0m0 1h0m0 7h0m0 2h0m0 1h0m0 4h0m0 5h0m0 2h0m0 4h0m0 5h0m0 4h0m1-73h0m0 4h0m0 1h0m0 6h0m0 7h0m0 4h0m0 3h0m0 1h0m0 2h0m0 1h0m0 2h0m0 3h0m0 5h0m0 3h0m0 6h0m0 1h0m0 2h0m0 1h0m0 4h0m0 1h0m1-44h0m0 1h0m0 3h0m0 3h0m0 2h0m0 5h0m0 2h0m0 1h0m0 1h0m0 1h0m0 1h0m0 1h0m0 2h0m0 12h0m0 3h0m0 1h0m0 1h0m0 1h0m0 2h0m0 4h0m0 3h0m1-72h0m0 7h0m0 5h0m0 1h0m0 4h0m0 3h0m0 2h0m0 3h0m0 1h0m0 6h0m0 8h0m0 4h0m0 2h0m0 2h0m0 9h0m0 4h0m0 8h0m1-120h0m0 51h0m0 17h0m0 2h0m0 1h0m0 1h0m0 4h0m0 10h0m0 1h0m0 2h0m0 1h0m0 3h0m0 2h0m0 1h0m0 5h0m0 2h0m0 1h0m0 2h0m0 9h0m0 1h0m0 9h0m1-72h0m0 14h0m0 7h0m0 4h0m0 3h0m0 6h0m0 3h0m0 1h0m0 6h0m0 1h0m0 5h0m0 4h0m0 2h0m0 6h0m0 23h0m0 8h0m1-144h0m0 65h0m0 2h0m0 3h0m0 5h0m0 3h0m0 16h0m0 6h0m0 4h0m0 1h0m0 16h0m1-155h0m0 73h0m0 11h0m0 4h0m0 4h0m0 2h0m0 3h0m0 4h0m0 4h0m0 17h0m0 4h0m0 2h0m0 5h0m0 1h0m0 4h0m0 1h0m0 2h0m0 3h0m0 7h0m1-138h0m0 59h0m0 21h0m0 5h0m0 8h0m0 9h0m0 2h0m0 10h0m0 1h0m0 2h0m0 2h0m0 2h0m0 7h0m0 5h0m1-102h0m0 7h0m0 46h0m0 9h0m0 5h0m0 1h0m0 9h0m0 7h0m0 5h0m0 1h0m0 6h0m0 1h0m0 2h0m0 29h0m1-63h0m0 16h0m0 1h0m0 4h0m0 29h0m1-65h0m0 14h0m0 5h0m0 13h0m0 4h0m0 9h0m0 9h0m1-133h0m0 56h0m0 13h0m0 4h0m0 4h0m0 5h0m0 20h0m0 9h0m0 5h0m0 1h0m0 2h0m0 4h0m0 1h0m1-25h0m0 4h0m0 7h0m0 1h0m0 1h0m0 3h0m0 5h0m0 1h0m0 15h0m1-69h0m0 15h0m0 8h0m0 14h0m0 16h0m0 7h0m0 16h0m0 18h0m1-57h0m0 16h0m0 33h0m1-80h0m0 17h0m0 4h0m0 16h0m0 17h0m0 3h0m1-77h0m0 9h0m0 28h0m0 2h0m0 15h0m0 11h0m0 16h0m1-50h0m0 42h0m0 7h0m1-76h0m0 4h0m0 21h0m0 28h0m0 2h0m0 2h0m1-65h0m0 64h0m0 13h0m0 22h0m1-89h0m0 14h0m0 11h0m0 14h0m0 16h0m1-68h0m0 10h0m0 13h0m0 1h0m0 28h0m0 43h0m1-78h0m0 38h0m0 6h0m1-41h0m0 49h0m0 25h0m1-82h0m0 6h0m0 9h0m0 12h0m0 22h0m0 21h0m0 17h0m0 1h0m1-37h0m0 4h0m0 48h0m1-130h0m0 33h0m0 36h0m0 29h0m1-107h0m0 105h0m1-94h0m0 5h0m0 64h0m0 25h0m0 14h0m1-112h0m0 17h0m0 8h0m1-12h0m1 2h0m0 8h0m0 46h0m1-88h0m0 14h0m0 26h0m0 74h0m1-72h0m0 9h0m0 8h0m0 20h0m1-65h0m0 23h0m0 4h0m0 5h0m0 46h0m0 11h0m0 40h0m1-103h0m0 69h0m1-84h0m1-18h0m0 8h0m0 3h0m0 16h0m1-35h0m0 19h0m0 2h0m0 25h0m1-14h0m0 11h0m1-16h0m0 2h0m0 7h0m0 7h0m1-5h0m0 2h0m0 79h0m1-101h0m0 6h0m0 5h0m0 25h0m0 70h0m1-92h0m0 81h0m1-104h0m0 56h0m1-68h0m0 11h0m0 3h0m0 6h0m0 18h0m0 27h0m0 60h0m0 41h0m1-162h0m0 40h0m1-22h0m0 3h0m0 2h0m0 20h0m0 96h0m1-140h0m0 6h0m0 9h0m0 17h0m0 5h0m0 9h0m0 8h0m1-56h0m0 23h0m0 18h0m0 45h0m1-137h0m0 82h0m0 5h0m0 2h0m0 4h0m0 33h0m1-130h0m0 57h0m0 8h0m0 23h0m0 93h0m1-131h0m0 24h0m1-15h0m0 3h0m0 3h0m0 12h0m0 2h0m0 1h0m0 9h0m0 7h0m0 21h0m0 16h0m1-68h0m0 7h0m0 5h0m0 3h0m0 12h0m0 54h0m0 15h0m0 73h0m0 10h0m1-204h0m0 15h0m0 20h0m0 6h0m0 12h0m0 13h0m1-60h0m0 21h0m0 3h0m0 1h0m0 3h0m0 1h0m1-31h0m0 22h0m0 6h0m0 7h0m0 89h0m1-129h0m0 48h0m0 5h0m1-79h0m0 29h0m0 10h0m0 1h0m0 2h0m0 6h0m0 2h0m0 1h0m0 2h0m0 6h0m0 1h0m0 13h0m0 8h0m1-35h0m0 11h0m0 7h0m0 3h0m0 5h0m0 46h0m1-71h0m0 21h0m0 10h0m1-26h0m0 1h0m0 6h0m0 5h0m0 3h0m0 12h0m0 4h0m0 5h0m0 34h0m1-80h0m0 4h0m0 15h0m0 3h0m1-34h0m0 11h0m0 17h0m0 4h0m0 1h0m0 8h0m0 2h0m0 57h0m1-100h0m0 3h0m0 9h0m0 26h0m0 13h0m0 13h0m1-60h0m0 19h0m0 20h0m1-44h0m0 7h0m0 20h0m0 2h0m0 3h0m0 6h0m0 8h0m0 45h0m1-94h0m0 27h0m0 3h0m0 3h0m0 5h0m0 14h0m1-65h0m0 15h0m0 24h0m0 2h0m0 13h0m0 16h0m1-62h0m0 9h0m0 3h0m0 1h0m0 16h0m0 18h0m0 53h0m0 48h0m1-138h0m0 4h0m0 4h0m0 18h0m0 5h0m1-46h0m0 14h0m0 17h0m0 9h0m0 7h0m0 2h0m0 9h0m1-48h0m0 17h0m0 14h0m0 6h0m1 61h0m0 7h0m1-136h0m0 2h0m0 33h0m0 21h0m0 13h0m0 10h0m1 20h0m0 153h0m1-224h0m0 23h0m0 9h0m0 13h0m0 4h0m0 4h0m0 1h0m0 2h0m0 28h0m0 19h0m1-97h0m0 9h0m0 13h0m0 19h0m1-32h0m0 6h0m0 4h0m0 16h0m0 45h0m1-90h0m0 10h0m0 30h0m0 4h0m0 17h0m1-65h0m0 8h0m0 5h0m0 4h0m0 1h0m0 12h0m0 21h0m0 86h0m0 61h0m1-218h0m0 4h0m0 35h0m0 5h0m0 16h0m0 6h0m0 70h0m1-104h0m0 33h0m0 24h0m0 84h0m1-80h0m0 84h0m1-159h0m0 16h0m0 176h0m0 33h0m1-226h0m0 16h0m0 18h0m0 10h0m0 10h0m0 50h0m0 28h0m1-124h0m0 40h0m1-25h0m0 25h0m0 2h0m0 20h0m0 75h0m1-151h0m0 4h0m0 21h0m0 82h0m1-96h0m0 9h0m0 15h0m1-12h0m0 7h0m0 30h0m0 35h0m0 31h0m0 40h0m1-156h0m0 42h0m0 11h0m0 31h0m1 50h0m0 2h0m1-55h0m0 90h0m1-148h0m0 9h0m0 48h0m0 51h0m0 94h0m0 4h0m1-189h0m0 14h0m1 113h0m2-70h0m1-104h0m0 32h0m0 21h0m1 21h0m1 115h0m1-160h0m0 208h0m2-107h0m0 59h0m2-142h0m0 47h0m0 83h0m0 19h0m0 17h0m1-171h0m0 4h0m2-13h0m0 62h0m1 47h0m1-102h0m0 76h0m1-31h0m0 30h0m1-35h0m1-3h0m1-3h0m0 72h0m1-169h0m1 219h0m0 3h0m1-152h0m0 99h0m1-51h0m0 14h0m0 97h0m1-73h0m1-84h0m1 113h0m2-121h0m0 74h0m0 122h0m1-128h0m1-42h0m2 41h0m2 8h0m0 12h0m0 77h0m1-202h0m0 235h0m4-161h0m0 159h0m1-95h0m2-61h0m1 56h0m1 10h0m3-11h0m2-9h0m0 5h0m2 16h0m5 1h0m6 82h0m4-36h0m6-99h0m10 57h0m1 84h0m0 2h0"/>
<path d="M89 -87h0m5-47h0m1-9h0m0 36h0m1-7h0m1 24h0m1-11h0m0 6h0m1-55h0m0 4h0m0 30h0m0 36h0m1-84h0m1 29h0m1-24h0m0 1h0m0 24h0m0 17h0m1-31h0m1-10h0m1 5h0m0 8h0m0 1h0m0 15h0m0 3h0m1 17h0m1-43h0m0 4h0m0 10h0m0 1h0m0 15h0m0 1h0m0 6h0m1-47h0m0 10h0m0 15h0m0 1h0m0 5h0m0 11h0m0 24h0m0 36h0m1-91h0m0 22h0m0 3h0m0 16h0m0 4h0m0 22h0m1-69h0m0 3h0m0 2h0m0 3h0m0 8h0m0 3h0m0 7h0m0 7h0m0 5h0m0 11h0m1-42h0m0 9h0m0 7h0m0 1h0m0 2h0m0 5h0m0 2h0m0 2h0m0 2h0m0 4h0m0 7h0m1-27h0m0 9h0m0 5h0m0 4h0m0 1h0m0 2h0m0 1h0m0 1h0m0 1h0m0 19h0m1-50h0m0 3h0m0 6h0m0 5h0m0 1h0m0 1h0m0 2h0m0 15h0m0 3h0m0 3h0m0 15h0m1-105h0m0 21h0m0 6h0m0 1h0m0 17h0m0 18h0m0 5h0m0 5h0m0 3h0m0 7h0m0 5h0m0 4h0m0 2h0m0 1h0m1-42h0m0 5h0m0 4h0m0 1h0m0 1h0m0 2h0m0 1h0m0 2h0m0 6h0m0 2h0m0 4h0m0 7h0m0 2h0m0 7h0m1-61h0m0 2h0m0 6h0m0 2h0m0 17h0m0 4h0m0 6h0m0 1h0m0 9h0m0 2h0m0 2h0m0 4h0m0 2h0m0 9h0m0 8h0m1-65h0m0 4h0m0 3h0m0 2h0m0 2h0m0 1h0m0 5h0m0 1h0m0 2h0m0 1h0m0 1h0m0 3h0m0 2h0m0 4h0m0 2h0m0 5h0m0 3h0m0 1h0m0 1h0m0 5h0m0 5h0m0 2h0m0 22h0m1-122h0m0 34h0m0 19h0m0 1h0m0 5h0m0 3h0m0 1h0m0 3h0m0 1h0m0 2h0m0 2h0m0 2h0m0 1h0m0 1h0m0 2h0m0 3h0m0 5h0m0 6h0m0 32h0m1-116h0m0 25h0m0 25h0m0 2h0m0 4h0m0 3h0m0 1h0m0 1h0m0 1h0m0 1h0m0 4h0m0 1h0m0 1h0m0 1h0m0 4h0m0 2h0m0 3h0m0 2h0m0 3h0m0 1h0m0 5h0m0 14h0m1-76h0m0 7h0m0 10h0m0 4h0m0 7h0m0 2h0m0 1h0m0 8h0m0 2h0m0 1h0m0 2h0m0 1h0m0 2h0m0 2h0m0 6h0m0 1h0m0 2h0m0 2h0m1-104h0m0 45h0m0 19h0m0 5h0m0 2h0m0 4h0m0 3h0m0 1h0m0 1h0m0 1h0m0 1h0m0 4h0m0 6h0m0 5h0m0 10h0m0 3h0m0 4h0m0 5h0m0 8h0m0 32h0m1-116h0m0 4h0m0 6h0m0 7h0m0 1h0m0 7h0m0 1h0m0 2h0m0 4h0m0 3h0m0 6h0m0 2h0m0 1h0m0 1h0m0 1h0m0 1h0m0 1h0m0 2h0m0 2h0m0 3h0m0 1h0m0 1h0m0 1h0m0 4h0m0 12h0m1-67h0m0 7h0m0 1h0m0 3h0m0 2h0m0 1h0m0 2h0m0 1h0m0 1h0m0 6h0m0 7h0m0 3h0m0 1h0m0 4h0m0 1h0m0 5h0m0 1h0m0 1h0m0 7h0m0 4h0m0 6h0m0 2h0m0 3h0m1-73h0m0 6h0m0 11h0m0 3h0m0 2h0m0 2h0m0 1h0m0 1h0m0 1h0m0 3h0m0 1h0m0 2h0m0 1h0m0 1h0m0 1h0m0 1h0m0 6h0m0 1h0m0 1h0m0 1h0m0 1h0m0 2h0m0 2h0m0 2h0m0 1h0m0 5h0m0 2h0m0 3h0m0 2h0m0 3h0m0 5h0m1-91h0m0 18h0m0 4h0m0 12h0m0 5h0m0 4h0m0 1h0m0 1h0m0 1h0m0 1h0m0 2h0m0 2h0m0 1h0m0 4h0m0 3h0m0 1h0m0 3h0m0 2h0m0 1h0m0 5h0m0 2h0m0 4h0m0 3h0m0 1h0m0 2h0m0 1h0m0 3h0m1-80h0m0 10h0m0 9h0m0 6h0m0 6h0m0 3h0m0 4h0m0 1h0m0 1h0m0 2h0m0 1h0m0 3h0m0 2h0m0 1h0m0 1h0m0 1h0m0 1h0m0 1h0m0 5h0m0 6h0m0 2h0m0 1h0m0 7h0m0 7h0m0 18h0m1-78h0m0 10h0m0 1h0m0 1h0m0 1h0m0 2h0m0 2h0m0 3h0m0 3h0m0 4h0m0 2h0m0 2h0m0 2h0m0 1h0m0 1h0m0 1h0m0 1h0m0 2h0m0 1h0m0 1h0m0 2h0m0 1h0m0 2h0m0 2h0m0 3h0m0 1h0m0 1h0m0 2h0m0 1h0m0 6h0m1-92h0m0 33h0m0 5h0m0 4h0m0 1h0m0 1h0m0 4h0m0 2h0m0 1h0m0 1h0m0 4h0m0 1h0m0 3h0m0 5h0m0 4h0m0 3h0m0 4h0m0 2h0m0 6h0m0 7h0m0 2h0m0 5h0m0 6h0m0 2h0m1-117h0m0 38h0m0 4h0m0 14h0m0 1h0m0 5h0m0 4h0m0 3h0m0 1h0m0 1h0m0 3h0m0 1h0m0 1h0m0 1h0m0 1h0m0 2h0m0 1h0m0 9h0m0 1h0m0 1h0m0 1h0m0 4h0m0 4h0m0 9h0m0 12h0m1-114h0m0 14h0m0 5h0m0 1h0m0 5h0m0 1h0m0 7h0m0 2h0m0 4h0m0 4h0m0 6h0m0 2h0m0 3h0m0 1h0m0 1h0m0 1h0m0 1h0m0 1h0m0 2h0m0 2h0m0 2h0m0 1h0m0 1h0m0 2h0m0 3h0m0 1h0m0 1h0m0 4h0m0 2h0m0 2h0m0 6h0m0 11h0m1-104h0m0 39h0m0 1h0m0 5h0m0 2h0m0 4h0m0 2h0m0 1h0m0 2h0m0 1h0m0 2h0m0 1h0m0 3h0m0 1h0m0 1h0m0 3h0m0 2h0m0 4h0m0 2h0m0 1h0m0 1h0m0 1h0m0 3h0m0 2h0m0 1h0m0 2h0m0 1h0m0 6h0m0 8h0m0 4h0m1-73h0m0 10h0m0 1h0m0 1h0m0 2h0m0 5h0m0 2h0m0 1h0m0 2h0m0 3h0m0 3h0m0 1h0m0 3h0m0 1h0m0 1h0m0 1h0m0 5h0m0 3h0m0 1h0m0 1h0m0 1h0m0 2h0m0 3h0m0 3h0m0 2h0m0 1h0m0 3h0m0 4h0m0 3h0m0 5h0m0 1h0m0 1h0m0 5h0m0 2h0m1-132h0m0 38h0m0 20h0m0 6h0m0 1h0m0 1h0m0 1h0m0 1h0m0 1h0m0 1h0m0 1h0m0 2h0m0 3h0m0 1h0m0 1h0m0 3h0m0 3h0m0 3h0m0 1h0m0 2h0m0 2h0m0 2h0m0 1h0m0 1h0m0 1h0m0 2h0m0 1h0m0 3h0m0 11h0m0 5h0m0 7h0m0 1h0m1-128h0m0 40h0m0 11h0m0 2h0m0 6h0m0 1h0m0 2h0m0 3h0m0 4h0m0 1h0m0 1h0m0 4h0m0 2h0m0 1h0m0 2h0m0 1h0m0 5h0m0 1h0m0 1h0m0 1h0m0 1h0m0 2h0m0 1h0m0 2h0m0 1h0m0 5h0m0 4h0m0 1h0m0 1h0m0 1h0m0 5h0m0 3h0m0 1h0m1-49h0m0 4h0m0 1h0m0 2h0m0 1h0m0 3h0m0 3h0m0 3h0m0 2h0m0 1h0m0 1h0m0 1h0m0 1h0m0 1h0m0 3h0m0 3h0m0 1h0m0 2h0m0 1h0m0 2h0m0 1h0m0 1h0m0 1h0m0 2h0m0 1h0m0 4h0m0 10h0m0 7h0m0 1h0m1-89h0m0 8h0m0 6h0m0 7h0m0 2h0m0 2h0m0 6h0m0 3h0m0 2h0m0 4h0m0 1h0m0 4h0m0 2h0m0 2h0m0 6h0m0 1h0m0 1h0m0 2h0m0 2h0m0 5h0m0 8h0m0 14h0m1-85h0m0 11h0m0 3h0m0 14h0m0 1h0m0 4h0m0 1h0m0 3h0m0 1h0m0 2h0m0 1h0m0 1h0m0 1h0m0 1h0m0 1h0m0 2h0m0 2h0m0 1h0m0 1h0m0 1h0m0 1h0m0 1h0m0 1h0m0 1h0m0 5h0m0 2h0m0 2h0m0 2h0m0 1h0m0 1h0m0 14h0m1-73h0m0 2h0m0 2h0m0 2h0m0 4h0m0 1h0m0 5h0m0 1h0m0 2h0m0 1h0m0 2h0m0 3h0m0 3h0m0 2h0m0 1h0m0 2h0m0 2h0m0 1h0m0 3h0m0 1h0m0 2h0m0 1h0m0 4h0m0 2h0m0 3h0m0 2h0m0 1h0m0 3h0m0 1h0m1-128h0m0 62h0m0 12h0m0 1h0m0 7h0m0 2h0m0 13h0m0 2h0m0 1h0m0 1h0m0 1h0m0 1h0m0 2h0m0 3h0m0 1h0m0 1h0m0 1h0m0 6h0m0 2h0m0 8h0m0 1h0m0 8h0m0 1h0m0 4h0m0 4h0m0 28h0m1-158h0m0 29h0m0 20h0m0 8h0m0 1h0m0 8h0m0 5h0m0 1h0m0 1h0m0 1h0m0 1h0m0 1h0m0 1h0m0 1h0m0 1h0m0 1h0m0 1h0m0 1h0m0 1h0m0 1h0m0 1h0m0 1h0m0 1h0m0 3h0m0 1h0m0 1h0m0 2h0m0 3h0m0 1h0m0 1h0m0 1h0m0 1h0m0 2h0m0 1h0m0 1h0m0 7h0m0 3h0m0 6h0m0 2h0m1-67h0m0 1h0m0 9h0m0 11h0m0 1h0m0 1h0m0 1h0m0 2h0m0 4h0m0 2h0m0 2h0m0 3h0m0 1h0m0 1h0m0 5h0m0 1h0m0 1h0m0 1h0m0 1h0m0 6h0m0 2h0m0 2h0m0 6h0m0 2h0m0 9h0m0 5h0m1-83h0m0 6h0m0 12h0m0 2h0m0 1h0m0 3h0m0 3h0m0 1h0m0 1h0m0 2h0m0 1h0m0 1h0m0 1h0m0 4h0m0 6h0m0 2h0m0 3h0m0 3h0m0 3h0m0 2h0m0 3h0m0 3h0m0 6h0m0 1h0m1-124h0m0 68h0m0 2h0m0 3h0m0 3h0m0 2h0m0 3h0m0 1h0m0 2h0m0 8h0m0 2h0m0 3h0m0 1h0m0 2h0m0 1h0m0 3h0m0 9h0m0 5h0m0 7h0m0 3h0m1-82h0m0 19h0m0 6h0m0 2h0m0 1h0m0 2h0m0 6h0m0 1h0m0 4h0m0 1h0m0 1h0m0 4h0m0 5h0m0 2h0m0 2h0m0 1h0m0 3h0m0 8h0m0 1h0m0 1h0m0 1h0m0 4h0m0 4h0m0 3h0m1-113h0m0 51h0m0 2h0m0 6h0m0 4h0m0 6h0m0 1h0m0 2h0m0 3h0m0 1h0m0 2h0m0 6h0m0 7h0m0 2h0m0 2h0m0 2h0m0 1h0m0 9h0m1-67h0m0 1h0m0 8h0m0 5h0m0 4h0m0 1h0m0 4h0m0 2h0m0 9h0m0 19h0m0 2h0m0 2h0m0 3h0m0 5h0m0 1h0m0 16h0m1-94h0m0 2h0m0 37h0m0 3h0m0 3h0m0 4h0m0 4h0m0 4h0m0 9h0m0 7h0m0 2h0m0 15h0m1-87h0m0 30h0m0 4h0m0 3h0m0 4h0m0 3h0m0 1h0m0 2h0m0 5h0m0 2h0m0 2h0m0 4h0m0 8h0m0 24h0m1-89h0m0 16h0m0 16h0m0 5h0m0 1h0m0 4h0m0 2h0m0 3h0m0 1h0m0 2h0m0 1h0m0 1h0m0 1h0m0 1h0m0 2h0m0 10h0m0 23h0m0 9h0m1-99h0m0 23h0m0 8h0m0 1h0m0 4h0m0 2h0m0 3h0m0 1h0m0 4h0m0 1h0m0 1h0m0 1h0m0 3h0m0 3h0m0 12h0m0 4h0m0 5h0m1-41h0m0 6h0m0 3h0m0 8h0m0 5h0m0 1h0m0 1h0m0 5h0m0 3h0m0 4h0m0 1h0m0 4h0m0 9h0m0 9h0m0 4h0m1-96h0m0 13h0m0 3h0m0 14h0m0 6h0m0 5h0m0 10h0m0 1h0m0 2h0m0 2h0m0 1h0m0 1h0m0 1h0m0 3h0m0 1h0m0 10h0m0 4h0m0 18h0m1-96h0m0 3h0m0 13h0m0 13h0m0 8h0m0 12h0m0 7h0m0 1h0m0 9h0m0 2h0m0 6h0m1-86h0m0 4h0m0 20h0m0 3h0m0 4h0m0 1h0m0 12h0m0 4h0m0 13h0m0 2h0m0 8h0m0 2h0m0 9h0m0 3h0m0 27h0m1-76h0m0 2h0m0 38h0m0 36h0m1-125h0m0 1h0m0 54h0m0 4h0m0 8h0m0 6h0m0 12h0m0 3h0m0 8h0m0 2h0m1-55h0m0 48h0m0 8h0m1-68h0m0 16h0m0 3h0m0 5h0m0 18h0m0 3h0m0 6h0m1-46h0m0 18h0m0 24h0m0 2h0m1-118h0m0 64h0m0 25h0m0 5h0m0 22h0m0 1h0m0 33h0m1-82h0m0 20h0m0 46h0m0 11h0m1-25h0m0 9h0m0 7h0m1-68h0m0 39h0m0 13h0m0 5h0m0 16h0m0 15h0m1-109h0m0 10h0m0 13h0m0 18h0m1-21h0m0 45h0m0 29h0m1-81h0m0 16h0m1-64h0m0 28h0m0 79h0m1-75h0m0 15h0m1-64h0m0 34h0m0 24h0m0 54h0m1-42h0m0 32h0m1-83h0m0 25h0m0 30h0m0 88h0m0 1h0m1-141h0m0 5h0m0 32h0m0 34h0m1-37h0m0 45h0m0 14h0m0 10h0m1-95h0m0 21h0m0 6h0m0 9h0m0 25h0m0 38h0m1-79h0m0 12h0m0 10h0m1 14h0m0 46h0m1-81h0m0 50h0m1-92h0m0 32h0m0 75h0m1-82h0m0 7h0m0 17h0m0 34h0m1-71h0m0 3h0m0 96h0m1-92h0m0 25h0m0 3h0m0 21h0m1-41h0m0 11h0m0 4h0m0 30h0m1-72h0m0 36h0m1 14h0m1-36h0m0 8h0m0 1h0m1-4h0m0 14h0m1-50h0m0 21h0m0 2h0m0 36h0m1-34h0m0 20h0m0 1h0m0 95h0m0 43h0m1-162h0m0 16h0m0 4h0m0 6h0m0 2h0m0 2h0m0 2h0m0 20h0m0 28h0m1-85h0m0 15h0m0 12h0m0 6h0m0 2h0m1-47h0m0 37h0m0 96h0m0 25h0m1-147h0m0 9h0m0 19h0m0 9h0m0 67h0m1-95h0m0 8h0m0 1h0m0 23h0m0 91h0m1-153h0m0 39h0m0 2h0m0 16h0m0 1h0m0 4h0m0 20h0m1-63h0m0 18h0m0 9h0m0 9h0m1 6h0m1-48h0m0 15h0m0 10h0m0 4h0m0 4h0m0 5h0m0 14h0m0 110h0m1-149h0m0 12h0m0 7h0m0 2h0m0 94h0m1-123h0m0 1h0m0 7h0m0 2h0m0 5h0m0 2h0m0 1h0m0 25h0m0 10h0m0 7h0m0 33h0m1-79h0m0 1h0m0 7h0m0 13h0m1-52h0m0 18h0m0 24h0m0 7h0m0 5h0m0 13h0m0 15h0m1-73h0m0 30h0m0 2h0m0 3h0m0 2h0m0 4h0m0 4h0m0 12h0m1-35h0m0 6h0m0 6h0m1-52h0m0 34h0m0 3h0m0 9h0m0 7h0m0 6h0m0 28h0m0 27h0m0 30h0m0 5h0m1-144h0m0 17h0m0 16h0m0 4h0m0 2h0m0 50h0m0 23h0m1-88h0m0 6h0m0 14h0m0 4h0m0 4h0m0 7h0m0 3h0m1-48h0m0 3h0m0 9h0m0 7h0m0 6h0m0 3h0m0 5h0m0 2h0m0 6h0m0 10h0m1-21h0m0 4h0m0 1h0m1-47h0m0 6h0m0 15h0m0 4h0m0 1h0m0 12h0m0 6h0m1-24h0m0 17h0m0 1h0m0 6h0m0 6h0m0 2h0m0 5h0m0 20h0m1-58h0m0 2h0m0 35h0m0 21h0m0 9h0m1-46h0m0 1h0m0 1h0m0 12h0m0 1h0m0 57h0m1-100h0m0 29h0m0 13h0m0 61h0m1-135h0m0 49h0m0 3h0m0 42h0m0 10h0m1-34h0m0 164h0m1-204h0m0 41h0m1-33h0m0 8h0m0 2h0m0 43h0m1-78h0m0 35h0m0 4h0m0 10h0m0 25h0m0 99h0m1-160h0m0 5h0m0 4h0m0 27h0m0 9h0m0 6h0m0 41h0m1-89h0m0 13h0m0 11h0m0 4h0m0 8h0m0 2h0m0 40h0m1-94h0m0 22h0m0 9h0m0 9h0m0 7h0m0 8h0m1-4h0m1-27h0m0 18h0m0 2h0m0 9h0m0 1h0m0 1h0m0 180h0m1-235h0m0 45h0m0 73h0m0 19h0m0 61h0m1-162h0m0 73h0m0 30h0m1-125h0m0 1h0m0 23h0m1-27h0m0 23h0m0 11h0m1-44h0m0 9h0m0 6h0m1 33h0m0 1h0m0 31h0m0 27h0m0 109h0m1-221h0m0 50h0m0 9h0m0 181h0m1-226h0m0 5h0m1 67h0m1-71h0m0 11h0m0 100h0m1-70h0m0 37h0m1-71h0m0 45h0m0 54h0m0 34h0m1-112h0m0 82h0m1-108h0m0 29h0m0 14h0m0 41h0m0 62h0m1-100h0m0 104h0m1-106h0m0 13h0m0 11h0m0 50h0m0 33h0m0 72h0m2-141h0m1-40h0m0 6h0m0 97h0m1-132h0m0 44h0m0 63h0m1-104h0m0 85h0m2-104h0m0 27h0m0 10h0m0 165h0m1-246h0m0 38h0m0 9h0m0 106h0m1-72h0m1 13h0m1-19h0m1 60h0m0 22h0m1-65h0m0 27h0m1-106h0m0 54h0m1 30h0m0 68h0m0 8h0m1-94h0m1 40h0m0 35h0m1-100h0m0 38h0m1 20h0m0 7h0m0 49h0m2-110h0m0 68h0m1-54h0m1 23h0m0 80h0m1-111h0m0 151h0m1-105h0m1-26h0m0 40h0m1-15h0m0 71h0m1-82h0m0 72h0m1-118h0m0 188h0m1-87h0m1-27h0m0 144h0m1-185h0m1 63h0m2 35h0m1-46h0m1-52h0m0 88h0m1-108h0m0 205h0m1-166h0m0 36h0m0 40h0m0 60h0m0 29h0m1-200h0m0 92h0m1-34h0m1 6h0m0 53h0m2-74h0m2-41h0m0 38h0m0 22h0m0 13h0m1-45h0m2 39h0m2-42h0m2 172h0m3-62h0m5 22h0m4 5h0m2-34h0m1 9h0m1-49h0m1-64h0m4-29h0"/>
</g>
</g>
<path d="M512.2 404.4H761.6V653.8H512.2Z M603.9 404.4V653.8M512.2 561.8H761.6" stroke="#2b2b2b" stroke-width="1.25" fill="none"/>
<path d="M512.2 653.8v5.5M512.2 653.8h-5.8M531 653.8v2.6M512.2 635h-2.6M541.9 653.8v2.6M512.2 624.1h-2.6M549.7 653.8v2.6M512.2 616.3h-2.6M555.8 653.8v3.6M512.2 610.2h-3.6M560.7 653.8v2.6M512.2 605.3h-2.6M564.9 653.8v2.6M512.2 601.1h-2.6M568.5 653.8v2.6M512.2 597.5h-2.6M571.7 653.8v2.6M512.2 594.3h-2.6M574.5 653.8v5.5M512.2 591.5h-5.8M593.3 653.8v2.6M512.2 572.7h-2.6M604.3 653.8v2.6M512.2 561.7h-2.6M612.1 653.8v2.6M512.2 553.9h-2.6M618.1 653.8v3.6M512.2 547.9h-3.6M623 653.8v2.6M512.2 543h-2.6M627.2 653.8v2.6M512.2 538.8h-2.6M630.8 653.8v2.6M512.2 535.2h-2.6M634 653.8v2.6M512.2 532h-2.6M636.9 653.8v5.5M512.2 529.1h-5.8M655.6 653.8v2.6M512.2 510.4h-2.6M666.6 653.8v2.6M512.2 499.4h-2.6M674.4 653.8v2.6M512.2 491.6h-2.6M680.4 653.8v3.6M512.2 485.6h-3.6M685.4 653.8v2.6M512.2 480.6h-2.6M689.5 653.8v2.6M512.2 476.5h-2.6M693.1 653.8v2.6M512.2 472.9h-2.6M696.3 653.8v2.6M512.2 469.7h-2.6M699.2 653.8v5.5M512.2 466.8h-5.8M718 653.8v2.6M512.2 448h-2.6M728.9 653.8v2.6M512.2 437.1h-2.6M736.7 653.8v2.6M512.2 429.3h-2.6M742.8 653.8v3.6M512.2 423.2h-3.6M747.7 653.8v2.6M512.2 418.3h-2.6M751.9 653.8v2.6M512.2 414.1h-2.6M755.5 653.8v2.6M512.2 410.5h-2.6M758.7 653.8v2.6M512.2 407.3h-2.6M761.5 653.8v5.5M512.2 404.5h-5.8" stroke="#2b2b2b" stroke-width="1.1" fill="none"/>
<text x="504.4" y="672.4" font-size="10.5" fill="#222" stroke="#222" stroke-width="0.2">10<tspan dy="-4" font-size="7">2</tspan></text>
<text x="488.8" y="657.6" font-size="10.5" fill="#222" stroke="#222" stroke-width="0.2">10<tspan dy="-4" font-size="7">2</tspan></text>
<text x="566.7" y="672.4" font-size="10.5" fill="#222" stroke="#222" stroke-width="0.2">10<tspan dy="-4" font-size="7">3</tspan></text>
<text x="488.8" y="595.3" font-size="10.5" fill="#222" stroke="#222" stroke-width="0.2">10<tspan dy="-4" font-size="7">3</tspan></text>
<text x="629.1" y="672.4" font-size="10.5" fill="#222" stroke="#222" stroke-width="0.2">10<tspan dy="-4" font-size="7">4</tspan></text>
<text x="488.8" y="532.9" font-size="10.5" fill="#222" stroke="#222" stroke-width="0.2">10<tspan dy="-4" font-size="7">4</tspan></text>
<text x="691.4" y="672.4" font-size="10.5" fill="#222" stroke="#222" stroke-width="0.2">10<tspan dy="-4" font-size="7">5</tspan></text>
<text x="488.8" y="470.6" font-size="10.5" fill="#222" stroke="#222" stroke-width="0.2">10<tspan dy="-4" font-size="7">5</tspan></text>
<text x="753.7" y="672.4" font-size="10.5" fill="#222" stroke="#222" stroke-width="0.2">10<tspan dy="-4" font-size="7">6</tspan></text>
<text x="488.8" y="408.3" font-size="10.5" fill="#222" stroke="#222" stroke-width="0.2">10<tspan dy="-4" font-size="7">6</tspan></text>
<text x="636.9" y="695.5" font-size="16.4" text-anchor="middle" textLength="47" lengthAdjust="spacingAndGlyphs" stroke="#111" stroke-width="0.35">FITC-H</text>
<text x="479.2" y="529.1" font-size="16.4" text-anchor="middle" transform="rotate(-90 479.2 529.1)" textLength="29" lengthAdjust="spacingAndGlyphs" stroke="#111" stroke-width="0.35">PI-H</text>
<rect x="512.2" y="404.9" width="43.7" height="22.8" rx="3.2" fill="#fff" stroke="#b0b0b0" stroke-width="1"/>
<text x="514" y="422.2" font-size="16.6" textLength="39.1" lengthAdjust="spacingAndGlyphs" fill="#111" stroke="#111" stroke-width="0.35">1.41%</text>
<rect x="717.2" y="404.9" width="44.4" height="22.8" rx="3.2" fill="#fff" stroke="#b0b0b0" stroke-width="1"/>
<text x="719" y="422.2" font-size="16.6" textLength="39.8" lengthAdjust="spacingAndGlyphs" fill="#111" stroke="#111" stroke-width="0.35">8.25%</text>
<rect x="512.2" y="620.2" width="52.5" height="23.6" rx="3.2" fill="#fff" stroke="#b0b0b0" stroke-width="1"/>
<text x="514" y="638.3" font-size="16.6" textLength="47.9" lengthAdjust="spacingAndGlyphs" fill="#111" stroke="#111" stroke-width="0.35">76.50%</text>
<rect x="699.3" y="620.2" width="53.6" height="23.6" rx="3.2" fill="#fff" stroke="#b0b0b0" stroke-width="1"/>
<text x="701.1" y="638.3" font-size="16.6" textLength="49" lengthAdjust="spacingAndGlyphs" fill="#111" stroke="#111" stroke-width="0.35">13.84%</text>
<text x="945.3" y="374.8" font-size="21.6" text-anchor="middle">LPS+Tomatidine+PMA</text>
<text x="945" y="398.6" font-size="16.2" text-anchor="middle" textLength="120.5" lengthAdjust="spacingAndGlyphs" stroke="#111" stroke-width="0.35">[D] FITC-H / PI-H</text>
<g transform="translate(820.3 653.8)">
<ellipse cx="68.6" cy="-58" rx="6" ry="9" fill="#ff0000" opacity="0.8" transform="rotate(-12 68.6 -58)" filter="url(#core)"/>
<g transform="scale(0.5)" stroke="#ff1010" stroke-opacity="0.68" stroke-width="3" stroke-linecap="round" fill="none">
<path d="M100 -158h0m4-44h0m0 90h0m1-86h0m1-53h0m1 18h0m1 120h0m2-9h0m1-66h0m0 39h0m0 30h0m0 10h0m1-46h0m0 34h0m0 10h0m1-130h0m0 12h0m0 146h0m1-68h0m0 10h0m0 29h0m1-116h0m0 82h0m0 1h0m0 9h0m0 33h0m1-26h0m0 5h0m0 31h0m1-101h0m0 67h0m0 1h0m0 21h0m1-94h0m0 74h0m0 4h0m0 15h0m0 4h0m1-110h0m0 63h0m0 7h0m0 16h0m0 9h0m0 1h0m0 6h0m0 3h0m0 6h0m0 2h0m1-81h0m0 45h0m0 4h0m0 5h0m0 3h0m0 6h0m0 1h0m0 9h0m0 4h0m0 1h0m0 2h0m1-50h0m0 9h0m0 4h0m0 5h0m0 9h0m0 6h0m0 1h0m0 4h0m0 17h0m1-38h0m0 8h0m0 2h0m0 4h0m0 8h0m0 6h0m1-104h0m0 69h0m0 9h0m0 3h0m0 5h0m0 4h0m0 9h0m0 15h0m1-81h0m0 25h0m0 15h0m0 2h0m0 2h0m0 7h0m0 2h0m0 12h0m0 1h0m1-34h0m0 8h0m0 3h0m0 3h0m0 4h0m0 2h0m0 2h0m0 6h0m0 16h0m0 11h0m1-62h0m0 11h0m0 5h0m0 2h0m0 3h0m0 8h0m0 2h0m0 12h0m0 3h0m0 5h0m1-47h0m0 5h0m0 4h0m0 5h0m0 10h0m0 16h0m0 2h0m0 8h0m0 6h0m1-142h0m0 101h0m0 2h0m0 2h0m0 5h0m0 3h0m0 1h0m0 2h0m0 2h0m0 1h0m0 2h0m0 5h0m0 1h0m1-36h0m0 4h0m0 7h0m0 2h0m0 1h0m0 2h0m0 3h0m0 1h0m0 1h0m0 2h0m0 2h0m0 1h0m0 4h0m0 1h0m1-23h0m0 6h0m0 2h0m0 2h0m0 2h0m0 2h0m0 1h0m0 1h0m0 1h0m0 2h0m0 4h0m0 2h0m0 1h0m0 1h0m0 2h0m0 9h0m0 38h0m1-84h0m0 1h0m0 3h0m0 2h0m0 7h0m0 3h0m0 1h0m0 2h0m0 2h0m0 1h0m0 1h0m0 4h0m0 2h0m0 2h0m0 3h0m0 1h0m0 1h0m0 9h0m1-34h0m0 1h0m0 1h0m0 3h0m0 2h0m0 1h0m0 2h0m0 1h0m0 4h0m0 3h0m0 1h0m0 1h0m0 1h0m0 5h0m0 1h0m0 1h0m0 6h0m0 3h0m0 1h0m1-129h0m0 10h0m0 49h0m0 11h0m0 1h0m0 12h0m0 3h0m0 3h0m0 3h0m0 5h0m0 1h0m0 3h0m0 3h0m0 2h0m0 1h0m0 2h0m0 3h0m0 2h0m0 1h0m0 4h0m0 1h0m0 3h0m0 2h0m0 11h0m1-63h0m0 4h0m0 6h0m0 4h0m0 3h0m0 10h0m0 1h0m0 3h0m0 2h0m0 3h0m0 2h0m0 1h0m0 2h0m0 1h0m0 3h0m0 1h0m0 1h0m0 12h0m1-124h0m0 51h0m0 18h0m0 7h0m0 1h0m0 5h0m0 1h0m0 1h0m0 4h0m0 5h0m0 3h0m0 7h0m0 6h0m0 1h0m0 4h0m0 13h0m1-107h0m0 33h0m0 18h0m0 1h0m0 8h0m0 1h0m0 1h0m0 2h0m0 1h0m0 1h0m0 6h0m0 2h0m0 1h0m0 2h0m0 2h0m0 3h0m0 2h0m0 1h0m0 2h0m0 2h0m0 6h0m0 1h0m0 1h0m0 9h0m0 2h0m1-56h0m0 5h0m0 2h0m0 5h0m0 2h0m0 1h0m0 1h0m0 1h0m0 2h0m0 2h0m0 3h0m0 4h0m0 2h0m0 1h0m0 2h0m0 2h0m0 4h0m0 2h0m0 3h0m1-145h0m0 116h0m0 5h0m0 3h0m0 1h0m0 1h0m0 4h0m0 1h0m0 2h0m0 1h0m0 1h0m0 9h0m0 1h0m0 2h0m1-46h0m0 3h0m0 6h0m0 2h0m0 1h0m0 1h0m0 3h0m0 2h0m0 3h0m0 3h0m0 1h0m0 2h0m0 2h0m0 1h0m0 1h0m0 1h0m0 2h0m0 1h0m0 2h0m0 2h0m0 5h0m0 1h0m0 1h0m0 1h0m0 3h0m1-161h0m0 103h0m0 11h0m0 5h0m0 2h0m0 1h0m0 3h0m0 2h0m0 2h0m0 3h0m0 2h0m0 1h0m0 1h0m0 5h0m0 2h0m0 1h0m0 5h0m0 3h0m0 4h0m0 4h0m0 31h0m1-88h0m0 10h0m0 3h0m0 4h0m0 2h0m0 3h0m0 4h0m0 1h0m0 3h0m0 1h0m0 2h0m0 2h0m0 1h0m0 1h0m0 2h0m0 1h0m0 5h0m0 1h0m0 1h0m0 1h0m0 4h0m0 10h0m1-64h0m0 23h0m0 5h0m0 1h0m0 1h0m0 1h0m0 3h0m0 1h0m0 1h0m0 2h0m0 1h0m0 4h0m0 2h0m0 1h0m0 2h0m0 3h0m0 1h0m0 7h0m0 4h0m1-62h0m0 22h0m0 3h0m0 4h0m0 2h0m0 1h0m0 3h0m0 1h0m0 4h0m0 1h0m0 3h0m0 1h0m0 1h0m0 1h0m0 11h0m0 8h0m1-65h0m0 11h0m0 12h0m0 2h0m0 2h0m0 1h0m0 1h0m0 1h0m0 3h0m0 2h0m0 2h0m0 4h0m0 4h0m0 2h0m0 1h0m1-46h0m0 11h0m0 8h0m0 6h0m0 1h0m0 1h0m0 1h0m0 2h0m0 1h0m0 9h0m0 3h0m0 3h0m0 3h0m0 8h0m1-54h0m0 5h0m0 12h0m0 6h0m0 3h0m0 3h0m0 2h0m0 2h0m0 2h0m0 1h0m0 2h0m0 1h0m0 1h0m0 7h0m0 7h0m0 2h0m0 15h0m1-163h0m0 91h0m0 17h0m0 5h0m0 4h0m0 10h0m0 1h0m0 4h0m0 4h0m0 1h0m0 1h0m0 4h0m0 3h0m1-40h0m0 13h0m0 1h0m0 2h0m0 2h0m0 9h0m0 2h0m1-49h0m0 5h0m0 10h0m0 8h0m0 1h0m0 3h0m0 8h0m0 4h0m0 2h0m0 2h0m0 1h0m0 1h0m0 2h0m0 5h0m0 4h0m0 9h0m0 25h0m1-55h0m0 8h0m0 4h0m0 2h0m0 3h0m0 2h0m0 6h0m1-58h0m0 7h0m0 3h0m0 24h0m0 1h0m0 1h0m0 4h0m0 5h0m0 7h0m1-68h0m0 30h0m0 5h0m0 10h0m0 2h0m0 1h0m0 2h0m0 11h0m0 1h0m0 3h0m0 6h0m1-67h0m0 33h0m0 1h0m0 9h0m0 1h0m0 1h0m0 1h0m0 1h0m0 12h0m0 2h0m0 3h0m0 4h0m0 1h0m0 42h0m1-57h0m0 12h0m1-28h0m0 2h0m0 3h0m0 20h0m0 10h0m0 1h0m0 28h0m1-64h0m0 16h0m0 3h0m1-22h0m0 5h0m0 6h0m0 6h0m0 2h0m0 2h0m1-15h0m0 7h0m0 4h0m0 4h0m0 4h0m0 5h0m0 1h0m0 4h0m1-45h0m0 2h0m0 2h0m0 38h0m0 3h0m1-113h0m0 89h0m0 12h0m1-43h0m0 11h0m0 3h0m0 1h0m0 17h0m1-112h0m0 70h0m0 49h0m0 5h0m1-134h0m0 108h0m1-101h0m0 108h0m0 5h0m0 1h0m0 5h0m0 14h0m1-40h0m0 9h0m0 25h0m1-39h0m0 32h0m2-60h0m0 26h0m0 27h0m0 11h0m0 6h0m1-134h0m0 120h0m0 14h0m1-23h0m1-119h0m0 104h0m0 41h0m1-54h0m0 29h0m0 28h0m1-52h0m0 22h0m0 2h0m1-101h0m0 6h0m1-17h0m1 62h0m0 17h0m0 12h0m0 10h0m1-114h0m0 148h0m2-67h0m0 32h0m0 13h0m1 23h0m3-41h0m0 9h0m1-31h0m0 45h0m0 8h0m2-21h0m0 20h0m1-60h0m0 23h0m0 16h0m1 9h0m0 14h0m0 15h0m1-61h0m0 47h0m1-120h0m0 72h0m0 41h0m2 16h0m1-53h0m0 1h0m0 53h0m2-59h0m0 66h0m1-83h0m1 36h0m0 38h0m0 13h0m2-92h0m1-7h0m0 25h0m2-20h0m1 68h0m1-53h0m0 19h0m0 16h0m1-53h0m0 17h0m0 21h0m1-46h0m0 20h0m1 5h0m0 25h0m0 38h0m0 26h0m1-108h0m1-23h0m1 206h0m1-167h0m1-40h0m0 48h0m1-69h0m0 65h0m0 71h0m1-73h0m0 125h0m1-102h0m0 7h0m1-99h0m0 30h0m0 29h0m0 15h0m0 29h0m0 117h0m1-176h0m0 38h0m0 19h0m1-112h0m0 106h0m0 15h0m0 6h0m1-67h0m0 40h0m1-33h0m0 17h0m0 7h0m0 70h0m1-93h0m0 19h0m0 16h0m1-37h0m0 18h0m1-29h0m0 12h0m0 28h0m0 28h0m1-51h0m0 27h0m0 91h0m1-8h0m1-102h0m1-39h0m0 34h0m0 34h0m0 40h0m1-57h0m1-28h0m0 21h0m0 6h0m0 20h0m0 115h0m1-88h0m1-74h0m0 20h0m1 13h0m0 14h0m0 129h0m2-223h0m1 49h0m0 1h0m1 32h0m0 64h0m1-118h0m0 27h0m0 3h0m0 19h0m1 122h0m2-172h0m0 39h0m0 1h0m0 3h0m0 150h0m1-168h0m0 25h0m0 2h0m1-32h0m0 29h0m0 98h0m1-145h0m0 27h0m0 12h0m0 1h0m0 40h0m1-71h0m0 18h0m0 6h0m0 11h0m0 2h0m1 0h0m1-45h0m0 28h0m0 170h0m1-178h0m0 35h0m2-107h0m0 21h0m0 14h0m0 19h0m0 10h0m0 15h0m0 19h0m0 13h0m0 1h0m1-96h0m1-8h0m0 45h0m0 10h0m0 20h0m0 25h0m1-73h0m0 24h0m0 25h0m0 32h0m0 7h0m1-54h0m0 65h0m0 104h0m1-162h0m1-33h0m0 36h0m0 8h0m0 3h0m1-47h0m0 44h0m0 1h0m0 6h0m1-58h0m0 94h0m0 36h0m1-85h0m0 3h0m0 15h0m0 9h0m0 5h0m0 75h0m1-132h0m0 12h0m0 22h0m1-66h0m0 24h0m0 2h0m0 34h0m0 19h0m1-43h0m0 5h0m0 26h0m0 19h0m1-52h0m0 16h0m1 2h0m0 6h0m1-51h0m0 7h0m0 10h0m0 7h0m0 3h0m0 62h0m0 91h0m1-156h0m1-49h0m0 32h0m0 12h0m0 4h0m0 1h0m0 74h0m1-113h0m0 34h0m0 23h0m1-18h0m0 26h0m0 1h0m0 4h0m0 9h0m1-38h0m0 1h0m0 26h0m0 52h0m1-61h0m2 10h0m0 10h0m1-63h0m0 27h0m0 9h0m0 15h0m1-33h0m0 8h0m0 1h0m0 27h0m0 3h0m0 19h0m1-65h0m0 49h0m0 16h0m0 17h0m0 6h0m1-69h0m0 10h0m0 5h0m0 6h0m0 12h0m1-36h0m0 23h0m0 1h0m0 10h0m0 15h0m1-79h0m1 25h0m0 6h0m0 42h0m1 4h0m1-70h0m0 55h0m1-21h0m0 29h0m1-57h0m0 1h0m1-14h0m0 207h0m1-217h0m0 55h0m0 4h0m1-43h0m0 24h0m0 1h0m0 5h0m0 8h0m0 10h0m0 2h0m1-61h0m0 13h0m0 37h0m1-31h0m0 51h0m1-86h0m0 87h0m1-43h0m0 33h0m1-82h0m0 52h0m0 5h0m0 17h0m0 3h0m1-17h0m1 19h0m0 12h0m1-61h0m0 9h0m0 26h0m0 2h0m0 4h0m1-48h0m0 22h0m0 19h0m0 182h0m1-220h0m0 68h0m1-86h0m0 10h0m0 27h0m0 35h0m1-15h0m0 1h0m0 8h0m0 5h0m1-80h0m0 140h0m1-140h0m0 94h0m1-39h0m0 25h0m1-50h0m1-11h0m1 27h0m0 26h0m0 18h0m0 1h0m1-87h0m0 40h0m0 27h0m0 7h0m0 81h0m1-127h0m0 25h0m0 21h0m2-49h0m0 9h0m0 12h0m1-49h0m0 26h0m0 76h0m1-68h0m0 5h0m0 33h0m0 8h0m0 153h0m1-226h0m0 25h0m0 15h0m1 24h0m1-34h0m0 2h0m0 77h0m1-71h0m2-28h0m0 25h0m0 28h0m0 149h0m2-204h0m0 181h0m3-150h0m0 47h0m1-65h0m1 148h0m1-139h0m0 2h0m0 36h0m1-41h0m0 25h0m0 28h0m2-49h0m0 29h0m0 17h0m0 25h0m0 49h0m3-97h0m2 24h0m1-74h0m0 38h0m0 198h0m3-193h0m0 11h0m3 52h0m1-100h0m0 18h0m0 119h0m1-141h0m0 171h0m1-116h0m0 18h0m3 44h0m1 78h0m0 6h0m2-131h0m0 109h0m2-156h0m0 58h0m4 13h0m5 39h0m3 66h0m2-195h0m4 187h0m2 44h0m4-1h0m2-22h0m4 22h0m8 0h0m1 0h0m9 0h0"/>
<path d="M89 -124h0m1 7h0m6-19h0m7 31h0m0 31h0m4 34h0m2-150h0m0 45h0m0 2h0m0 49h0m0 11h0m1-59h0m0 27h0m1 6h0m0 2h0m1-30h0m0 22h0m0 6h0m0 20h0m1-44h0m0 11h0m0 33h0m1-47h0m0 6h0m0 1h0m0 13h0m1-35h0m0 29h0m1 3h0m0 7h0m1-115h0m0 35h0m0 82h0m1-102h0m0 68h0m0 17h0m0 3h0m0 48h0m1-80h0m0 12h0m0 9h0m0 5h0m0 3h0m0 4h0m0 21h0m1-23h0m0 2h0m0 6h0m1-23h0m0 1h0m0 2h0m0 6h0m0 5h0m0 2h0m0 2h0m0 9h0m0 8h0m0 24h0m1-167h0m0 71h0m0 48h0m0 3h0m0 3h0m0 3h0m0 7h0m0 4h0m0 1h0m0 2h0m0 9h0m1-119h0m0 78h0m0 11h0m0 1h0m0 1h0m0 2h0m0 5h0m0 6h0m0 4h0m1-109h0m0 75h0m0 5h0m0 2h0m0 1h0m0 12h0m0 5h0m0 2h0m0 1h0m0 5h0m0 1h0m1-93h0m0 52h0m0 3h0m0 7h0m0 12h0m0 1h0m0 4h0m0 1h0m0 2h0m0 2h0m0 8h0m0 2h0m0 2h0m0 6h0m0 1h0m1-46h0m0 2h0m0 19h0m0 4h0m0 1h0m0 9h0m0 2h0m0 9h0m0 24h0m1-60h0m0 9h0m0 1h0m0 29h0m0 13h0m1-137h0m0 35h0m0 42h0m0 2h0m0 13h0m0 6h0m0 3h0m0 2h0m0 10h0m0 3h0m0 3h0m0 2h0m1-38h0m0 2h0m0 4h0m0 1h0m0 3h0m0 6h0m0 1h0m0 1h0m0 4h0m0 2h0m0 3h0m0 1h0m0 1h0m0 2h0m0 7h0m0 10h0m1-132h0m0 67h0m0 3h0m0 16h0m0 1h0m0 3h0m0 2h0m0 2h0m0 6h0m0 5h0m0 1h0m0 7h0m0 2h0m0 12h0m1-49h0m0 4h0m0 3h0m0 1h0m0 3h0m0 2h0m0 2h0m0 3h0m0 2h0m0 1h0m0 1h0m0 4h0m0 1h0m0 1h0m0 1h0m0 2h0m0 1h0m0 1h0m0 2h0m0 8h0m0 3h0m0 1h0m1-144h0m0 90h0m0 9h0m0 1h0m0 9h0m0 2h0m0 3h0m0 2h0m0 1h0m0 2h0m0 1h0m0 7h0m0 2h0m0 2h0m0 1h0m0 6h0m0 3h0m0 1h0m0 5h0m1-47h0m0 11h0m0 2h0m0 2h0m0 3h0m0 5h0m0 1h0m0 1h0m0 2h0m0 2h0m0 9h0m0 3h0m0 1h0m0 2h0m0 1h0m1-145h0m0 93h0m0 9h0m0 4h0m0 4h0m0 2h0m0 1h0m0 1h0m0 1h0m0 1h0m0 1h0m0 2h0m0 1h0m0 1h0m0 1h0m0 2h0m0 4h0m0 1h0m0 1h0m0 2h0m0 3h0m0 1h0m0 6h0m1-91h0m0 36h0m0 7h0m0 2h0m0 16h0m0 4h0m0 5h0m0 3h0m0 1h0m0 1h0m0 1h0m0 1h0m0 3h0m0 1h0m0 1h0m0 1h0m0 2h0m0 4h0m0 2h0m0 11h0m1-60h0m0 3h0m0 5h0m0 2h0m0 3h0m0 2h0m0 1h0m0 1h0m0 1h0m0 2h0m0 2h0m0 1h0m0 1h0m0 2h0m0 1h0m0 3h0m0 4h0m0 1h0m0 1h0m0 7h0m0 1h0m0 2h0m0 3h0m0 7h0m1-76h0m0 32h0m0 1h0m0 1h0m0 1h0m0 4h0m0 1h0m0 2h0m0 4h0m0 1h0m0 2h0m0 2h0m0 2h0m0 2h0m0 2h0m0 1h0m0 1h0m0 1h0m0 2h0m0 1h0m0 1h0m0 1h0m0 2h0m0 1h0m0 2h0m0 4h0m1-47h0m0 20h0m0 1h0m0 3h0m0 1h0m0 2h0m0 1h0m0 1h0m0 1h0m0 1h0m0 4h0m0 1h0m0 1h0m0 1h0m0 2h0m0 5h0m0 14h0m1-61h0m0 4h0m0 4h0m0 7h0m0 2h0m0 2h0m0 3h0m0 1h0m0 3h0m0 3h0m0 2h0m0 4h0m0 1h0m0 1h0m0 2h0m0 9h0m1-76h0m0 40h0m0 3h0m0 1h0m0 3h0m0 1h0m0 1h0m0 5h0m0 1h0m0 5h0m0 1h0m0 5h0m0 9h0m0 6h0m1-158h0m0 6h0m0 28h0m0 47h0m0 20h0m0 10h0m0 2h0m0 3h0m0 1h0m0 1h0m0 1h0m0 3h0m0 3h0m0 1h0m0 2h0m0 1h0m0 1h0m0 5h0m0 3h0m0 7h0m0 1h0m0 3h0m1-45h0m0 4h0m0 3h0m0 1h0m0 3h0m0 5h0m0 1h0m0 5h0m0 2h0m0 1h0m0 1h0m0 5h0m0 3h0m0 4h0m0 4h0m0 1h0m0 1h0m0 3h0m0 7h0m1-63h0m0 21h0m0 2h0m0 6h0m0 1h0m0 1h0m0 4h0m0 1h0m0 1h0m0 8h0m0 1h0m0 1h0m0 3h0m0 2h0m0 4h0m0 10h0m0 1h0m0 3h0m1-171h0m0 41h0m0 9h0m0 27h0m0 21h0m0 15h0m0 12h0m0 1h0m0 2h0m0 2h0m0 3h0m0 1h0m0 2h0m0 5h0m0 2h0m0 1h0m0 1h0m0 2h0m0 3h0m0 1h0m0 1h0m0 4h0m1-123h0m0 80h0m0 2h0m0 2h0m0 7h0m0 3h0m0 3h0m0 2h0m0 2h0m0 1h0m0 1h0m0 1h0m0 1h0m0 1h0m0 1h0m0 1h0m0 3h0m0 2h0m0 2h0m0 2h0m0 5h0m0 2h0m0 5h0m0 6h0m0 4h0m1-66h0m0 18h0m0 5h0m0 1h0m0 1h0m0 2h0m0 1h0m0 4h0m0 1h0m0 1h0m0 2h0m0 1h0m0 12h0m0 3h0m0 5h0m0 1h0m1-141h0m0 8h0m0 67h0m0 1h0m0 15h0m0 1h0m0 13h0m0 1h0m0 2h0m0 2h0m0 2h0m0 1h0m0 2h0m0 2h0m0 1h0m0 1h0m0 3h0m0 1h0m0 7h0m0 1h0m0 3h0m0 1h0m0 9h0m0 17h0m1-81h0m0 23h0m0 4h0m0 4h0m0 3h0m0 6h0m0 3h0m0 1h0m0 1h0m0 1h0m0 1h0m0 12h0m0 11h0m1-61h0m0 24h0m0 7h0m0 1h0m0 14h0m0 2h0m1-51h0m0 9h0m0 4h0m0 5h0m0 7h0m0 1h0m0 5h0m0 2h0m0 6h0m0 5h0m1-148h0m0 118h0m0 3h0m0 6h0m0 3h0m0 4h0m0 1h0m0 1h0m0 6h0m0 2h0m0 20h0m1-89h0m0 54h0m0 3h0m0 6h0m0 3h0m0 1h0m0 3h0m0 21h0m0 5h0m1-94h0m0 46h0m0 3h0m0 3h0m1-20h0m0 12h0m0 21h0m0 9h0m0 2h0m0 36h0m1-171h0m0 118h0m0 3h0m0 2h0m0 1h0m0 3h0m1-93h0m0 32h0m0 46h0m0 5h0m0 1h0m0 23h0m0 1h0m1-50h0m0 2h0m0 36h0m1-65h0m0 27h0m0 16h0m0 10h0m0 4h0m0 4h0m0 8h0m0 3h0m1-14h0m0 2h0m1-99h0m0 51h0m1-76h0m0 84h0m0 19h0m0 9h0m0 2h0m0 8h0m0 12h0m0 31h0m1-82h0m0 42h0m0 20h0m1-73h0m0 19h0m0 6h0m0 7h0m1-20h0m0 38h0m0 19h0m1-26h0m0 12h0m0 31h0m1-108h0m0 61h0m0 18h0m1-141h0m0 89h0m1 45h0m1-55h0m0 34h0m0 16h0m1-113h0m1-15h0m0 32h0m1-42h0m0 114h0m1-29h0m0 42h0m0 24h0m0 19h0m1-48h0m1-22h0m1 28h0m1 7h0m1-135h0m0 126h0m0 11h0m1-79h0m1-31h0m0 57h0m0 4h0m0 52h0m1-80h0m1 85h0m1-86h0m0 32h0m0 51h0m3-107h0m0 69h0m0 9h0m0 125h0m1-126h0m1-17h0m1-45h0m0 7h0m0 53h0m2-75h0m0 59h0m0 63h0m1-54h0m0 6h0m0 51h0m1-40h0m2-9h0m0 20h0m1-12h0m1 2h0m1-32h0m0 2h0m1-2h0m0 9h0m1-25h0m0 8h0m0 6h0m0 64h0m1-5h0m1-62h0m1 26h0m1-103h0m0 169h0m0 34h0m1-130h0m1 4h0m0 9h0m1 154h0m1-145h0m2-21h0m0 24h0m1-3h0m0 7h0m1-22h0m0 10h0m0 14h0m1-25h0m1-13h0m0 50h0m1-44h0m0 5h0m0 14h0m0 81h0m1-101h0m0 20h0m1-7h0m0 133h0m1-145h0m0 1h0m0 3h0m0 14h0m0 3h0m0 5h0m0 5h0m0 23h0m1-118h0m0 39h0m0 12h0m0 61h0m1-55h0m0 17h0m0 119h0m1-112h0m0 4h0m0 21h0m0 128h0m1-175h0m0 13h0m1-21h0m0 61h0m1-65h0m0 24h0m0 20h0m0 13h0m1-37h0m0 12h0m1 14h0m0 139h0m1-176h0m0 34h0m1-22h0m1-37h0m0 40h0m1-44h0m0 38h0m0 40h0m0 46h0m1-123h0m1 25h0m1-14h0m0 15h0m0 4h0m0 30h0m1-35h0m0 3h0m0 29h0m1-40h0m0 72h0m0 40h0m1-154h0m0 79h0m0 150h0m1-146h0m0 65h0m1-145h0m0 41h0m0 104h0m1-114h0m0 10h0m0 44h0m0 2h0m1-35h0m0 11h0m0 89h0m0 46h0m1-132h0m0 3h0m0 2h0m0 5h0m0 4h0m0 1h0m0 34h0m1-61h0m0 8h0m0 9h0m0 9h0m1-35h0m0 37h0m1-76h0m0 50h0m0 14h0m1-30h0m1-22h0m0 5h0m0 30h0m0 6h0m0 3h0m0 34h0m1-31h0m1-2h0m0 8h0m0 13h0m1-71h0m0 17h0m0 35h0m1-24h0m0 17h0m0 22h0m1-19h0m0 31h0m1-41h0m0 3h0m0 6h0m1 3h0m1-51h0m0 12h0m0 6h0m0 14h0m0 10h0m0 11h0m1-21h0m0 5h0m0 2h0m0 6h0m0 10h0m0 12h0m0 8h0m1-107h0m0 35h0m0 41h0m0 5h0m0 3h0m1-51h0m0 25h0m0 10h0m0 13h0m0 1h0m1-9h0m0 5h0m1-56h0m0 33h0m0 3h0m0 16h0m1-12h0m0 3h0m0 21h0m0 16h0m0 124h0m2-169h0m0 13h0m0 3h0m0 2h0m0 24h0m0 24h0m1-120h0m0 58h0m0 23h0m0 17h0m0 17h0m0 13h0m0 60h0m1-140h0m0 5h0m0 35h0m0 9h0m1-52h0m0 18h0m0 10h0m0 22h0m1-46h0m0 23h0m0 2h0m0 8h0m0 2h0m0 26h0m1-74h0m0 4h0m0 22h0m0 7h0m0 24h0m1-91h0m0 7h0m0 38h0m0 12h0m0 4h0m0 5h0m0 74h0m1-71h0m1-26h0m0 65h0m1-43h0m1-60h0m0 50h0m1 33h0m0 106h0m1-119h0m1 8h0m0 128h0m0 14h0m1-187h0m2-22h0m0 61h0m0 6h0m1-60h0m0 66h0m0 154h0m1-179h0m0 6h0m1-21h0m0 21h0m0 26h0m1-56h0m0 2h0m0 50h0m1-16h0m0 23h0m1-55h0m1 20h0m0 18h0m1-46h0m0 23h0m0 85h0m1-75h0m0 2h0m0 1h0m0 93h0m1-158h0m0 18h0m0 9h0m0 14h0m0 6h0m0 6h0m0 16h0m0 28h0m1-60h0m0 2h0m0 2h0m0 74h0m1-89h0m0 6h0m1-25h0m0 20h0m0 4h0m1 35h0m0 16h0m1-50h0m0 36h0m1-38h0m0 15h0m1-51h0m0 40h0m0 28h0m0 10h0m0 3h0m1-37h0m0 13h0m1-45h0m0 26h0m0 29h0m1-43h0m0 14h0m0 33h0m1-26h0m0 196h0m1-182h0m1-36h0m0 5h0m0 22h0m0 8h0m0 183h0m1-175h0m0 4h0m1-83h0m0 54h0m2-22h0m1-26h0m1 41h0m0 27h0m0 15h0m1-34h0m0 3h0m0 11h0m0 11h0m0 33h0m0 56h0m1-138h0m0 40h0m1-45h0m1 8h0m0 11h0m0 10h0m1-32h0m2 0h0m0 5h0m0 66h0m0 3h0m1-54h0m0 60h0m1-80h0m0 122h0m3-118h0m0 20h0m1 12h0m1 131h0m1-124h0m5-22h0m0 9h0m0 8h0m0 74h0m1-96h0m0 38h0m1-37h0m1-8h0m0 37h0m1-64h0m2 14h0m0 206h0m1-154h0m4-2h0m0 137h0m2 48h0m2-152h0m0 152h0m1-241h0m0 198h0m2-107h0m1-70h0m1-10h0m0 18h0m1 5h0m1 14h0m0 107h0m1-121h0m0 45h0m2-65h0m4 48h0m0 2h0m4 49h0m6 127h0m4-184h0m5-45h0m1 230h0m5-96h0m0 73h0m5 24h0m21 0h0"/>
<path d="M94 -88h0m7-64h0m6 12h0m0 12h0m1 9h0m0 9h0m0 1h0m1-109h0m1 139h0m3-83h0m0 45h0m0 22h0m1-85h0m0 47h0m0 6h0m0 11h0m1-41h0m0 9h0m0 7h0m0 15h0m0 1h0m0 13h0m1-39h0m1 0h0m0 9h0m1 19h0m0 4h0m0 9h0m0 4h0m1-42h0m0 16h0m0 1h0m0 25h0m1-35h0m0 10h0m1-93h0m0 81h0m0 10h0m0 4h0m0 4h0m0 7h0m0 8h0m0 6h0m0 6h0m1-110h0m0 76h0m0 2h0m0 1h0m0 2h0m0 3h0m0 17h0m1-94h0m0 78h0m0 8h0m0 3h0m0 10h0m0 2h0m1-45h0m0 12h0m0 2h0m0 6h0m0 2h0m0 6h0m0 3h0m0 6h0m1-81h0m0 59h0m0 1h0m0 2h0m0 6h0m0 6h0m0 1h0m0 6h0m0 16h0m1-53h0m0 19h0m0 2h0m0 1h0m0 3h0m0 4h0m0 1h0m0 1h0m0 5h0m0 3h0m0 8h0m0 7h0m0 8h0m1-126h0m0 14h0m0 57h0m0 3h0m0 6h0m0 8h0m0 6h0m0 2h0m0 1h0m0 11h0m0 5h0m1-94h0m0 14h0m0 28h0m0 2h0m0 3h0m0 11h0m0 6h0m0 5h0m0 4h0m0 1h0m0 3h0m0 11h0m0 3h0m0 8h0m1-53h0m0 10h0m0 5h0m0 3h0m0 1h0m0 2h0m0 1h0m0 1h0m0 3h0m0 1h0m0 3h0m0 1h0m0 2h0m0 7h0m0 14h0m1-53h0m0 7h0m0 8h0m0 2h0m0 8h0m0 1h0m0 4h0m0 2h0m0 2h0m0 7h0m0 7h0m0 2h0m0 38h0m1-162h0m0 81h0m0 11h0m0 3h0m0 3h0m0 1h0m0 1h0m0 1h0m0 1h0m0 2h0m0 12h0m0 4h0m0 4h0m1-97h0m0 52h0m0 9h0m0 1h0m0 3h0m0 6h0m0 2h0m0 1h0m0 3h0m0 1h0m0 2h0m0 2h0m0 2h0m0 1h0m0 11h0m0 9h0m0 3h0m1-139h0m0 45h0m0 24h0m0 7h0m0 12h0m0 4h0m0 1h0m0 11h0m0 2h0m0 2h0m0 1h0m0 3h0m0 6h0m0 1h0m0 6h0m0 3h0m0 38h0m1-88h0m0 1h0m0 6h0m0 5h0m0 3h0m0 2h0m0 1h0m0 3h0m0 1h0m0 1h0m0 3h0m0 1h0m0 3h0m0 1h0m0 2h0m0 2h0m0 2h0m0 2h0m0 5h0m0 2h0m0 2h0m0 29h0m0 10h0m1-87h0m0 2h0m0 5h0m0 3h0m0 4h0m0 1h0m0 4h0m0 1h0m0 1h0m0 1h0m0 1h0m0 3h0m0 2h0m0 3h0m0 1h0m0 2h0m0 5h0m0 1h0m0 12h0m1-50h0m0 14h0m0 2h0m0 2h0m0 3h0m0 1h0m0 1h0m0 3h0m0 2h0m0 1h0m0 1h0m0 3h0m0 1h0m0 4h0m0 2h0m0 7h0m0 5h0m0 5h0m1-60h0m0 4h0m0 5h0m0 6h0m0 1h0m0 1h0m0 1h0m0 2h0m0 2h0m0 1h0m0 3h0m0 2h0m0 1h0m0 3h0m0 1h0m0 2h0m0 2h0m0 2h0m0 1h0m1-70h0m0 24h0m0 6h0m0 12h0m0 1h0m0 8h0m0 1h0m0 3h0m0 1h0m0 2h0m0 2h0m0 1h0m0 2h0m0 3h0m0 1h0m0 3h0m0 2h0m0 1h0m0 1h0m0 1h0m0 15h0m1-65h0m0 12h0m0 1h0m0 6h0m0 1h0m0 2h0m0 4h0m0 1h0m0 1h0m0 1h0m0 1h0m0 1h0m0 1h0m0 4h0m0 1h0m0 1h0m0 1h0m0 3h0m0 4h0m0 2h0m0 14h0m1-63h0m0 17h0m0 2h0m0 1h0m0 2h0m0 3h0m0 2h0m0 2h0m0 1h0m0 1h0m0 1h0m0 3h0m0 4h0m0 10h0m0 6h0m0 2h0m0 3h0m0 9h0m0 4h0m1-151h0m0 14h0m0 70h0m0 14h0m0 4h0m0 2h0m0 2h0m0 1h0m0 2h0m0 1h0m0 3h0m0 1h0m0 1h0m0 1h0m0 6h0m0 3h0m0 1h0m0 1h0m0 1h0m0 5h0m1-64h0m0 13h0m0 17h0m0 1h0m0 1h0m0 1h0m0 4h0m0 1h0m0 2h0m0 1h0m0 1h0m0 1h0m0 4h0m0 4h0m0 1h0m0 1h0m0 3h0m0 2h0m0 1h0m0 2h0m0 3h0m1-58h0m0 7h0m0 8h0m0 3h0m0 1h0m0 3h0m0 9h0m0 2h0m0 2h0m0 5h0m0 1h0m0 3h0m0 1h0m0 1h0m0 6h0m0 4h0m0 4h0m0 6h0m0 2h0m1-54h0m0 1h0m0 10h0m0 2h0m0 2h0m0 2h0m0 3h0m0 3h0m0 1h0m0 6h0m0 10h0m0 5h0m0 1h0m1-55h0m0 11h0m0 2h0m0 5h0m0 10h0m0 10h0m0 1h0m0 1h0m0 1h0m0 2h0m0 2h0m0 4h0m0 9h0m1-129h0m0 79h0m0 2h0m0 7h0m0 5h0m0 2h0m0 1h0m0 1h0m0 1h0m0 4h0m0 1h0m0 1h0m0 2h0m0 1h0m0 1h0m0 3h0m0 3h0m0 2h0m0 6h0m0 10h0m1-157h0m0 104h0m0 4h0m0 11h0m0 1h0m0 7h0m0 4h0m0 2h0m0 6h0m0 9h0m0 9h0m1-47h0m0 10h0m0 5h0m0 1h0m0 3h0m0 1h0m0 5h0m0 1h0m0 1h0m0 1h0m0 2h0m0 7h0m0 4h0m1-36h0m0 6h0m0 2h0m0 4h0m0 1h0m0 1h0m0 5h0m0 4h0m0 5h0m0 9h0m0 11h0m1-129h0m0 61h0m0 17h0m0 2h0m0 7h0m0 7h0m0 7h0m0 1h0m0 4h0m0 1h0m0 2h0m0 3h0m0 5h0m0 10h0m1-125h0m0 80h0m0 5h0m0 1h0m0 4h0m0 3h0m0 5h0m0 2h0m0 1h0m0 1h0m0 1h0m0 1h0m0 9h0m1-157h0m0 119h0m0 20h0m0 2h0m0 4h0m0 6h0m0 4h0m0 6h0m0 13h0m1-60h0m0 6h0m0 5h0m0 3h0m0 20h0m0 9h0m0 7h0m0 63h0m1-123h0m0 21h0m0 9h0m0 4h0m0 4h0m0 11h0m0 4h0m0 3h0m1-27h0m0 15h0m0 2h0m0 3h0m0 3h0m0 20h0m1-129h0m0 69h0m0 17h0m0 5h0m0 1h0m0 1h0m0 19h0m0 8h0m1-106h0m0 43h0m0 4h0m0 17h0m1-106h0m0 115h0m0 26h0m1-64h0m0 21h0m0 1h0m0 2h0m0 12h0m1 32h0m1-21h0m0 11h0m0 5h0m0 3h0m1-35h0m0 1h0m0 3h0m0 12h0m0 18h0m1-72h0m0 73h0m1-42h0m0 22h0m1-45h0m0 2h0m0 5h0m0 46h0m1-95h0m1-3h0m0 65h0m0 1h0m0 7h0m0 7h0m0 18h0m0 7h0m1-12h0m1-35h0m0 30h0m1-87h0m0 58h0m1 1h0m0 18h0m0 11h0m1-53h0m0 64h0m1-97h0m0 79h0m1-90h0m0 89h0m0 22h0m1-117h0m0 107h0m0 21h0m1-147h0m0 65h0m1 16h0m0 17h0m0 50h0m2-51h0m1-68h0m2 3h0m0 67h0m0 25h0m3-44h0m0 40h0m0 6h0m4-50h0m1-18h0m0 31h0m2-7h0m0 9h0m0 39h0m1-32h0m1-111h0m0 99h0m1-73h0m0 48h0m0 36h0m1-36h0m0 40h0m1 10h0m2-31h0m1-11h0m1-31h0m0 55h0m1-107h0m1 88h0m0 9h0m0 35h0m1-130h0m0 245h0m1-117h0m1 116h0m1-57h0m1-121h0m0 40h0m0 1h0m1-30h0m0 12h0m1-30h0m0 12h0m0 37h0m1 29h0m1-60h0m0 46h0m1-20h0m1-83h0m1 45h0m0 3h0m0 5h0m0 45h0m0 102h0m2-168h0m0 15h0m0 18h0m1-9h0m0 16h0m0 8h0m0 10h0m1-74h0m0 27h0m0 20h0m0 6h0m0 3h0m0 24h0m1-52h0m0 26h0m1-44h0m0 33h0m0 2h0m0 5h0m0 32h0m0 12h0m1-66h0m0 14h0m0 3h0m0 23h0m1-32h0m1 9h0m0 35h0m0 2h0m1-53h0m0 37h0m1-20h0m0 121h0m1-185h0m1 55h0m0 7h0m0 17h0m0 21h0m0 89h0m1-124h0m0 18h0m0 143h0m1-175h0m0 1h0m0 10h0m0 45h0m1-45h0m0 3h0m0 23h0m0 22h0m0 2h0m1-70h0m0 9h0m0 17h0m0 6h0m0 32h0m1 106h0m1-159h0m0 21h0m0 10h0m1-63h0m0 20h0m0 15h0m0 1h0m0 49h0m0 120h0m1-168h0m1-5h0m0 12h0m0 42h0m0 118h0m1-188h0m0 31h0m1-38h0m0 59h0m0 27h0m1-61h0m0 6h0m0 3h0m0 41h0m0 122h0m1-230h0m0 75h0m0 2h0m0 14h0m1-84h0m0 37h0m0 36h0m1-42h0m0 17h0m0 10h0m0 106h0m1-120h0m1-20h0m0 7h0m0 2h0m0 7h0m0 5h0m0 46h0m0 22h0m1-116h0m0 23h0m0 9h0m0 14h0m0 5h0m0 7h0m0 19h0m0 89h0m1-142h0m0 11h0m0 37h0m1-19h0m0 11h0m0 25h0m0 54h0m1-147h0m0 56h0m0 22h0m1-60h0m0 18h0m0 3h0m0 12h0m1-16h0m0 32h0m0 21h0m1-80h0m0 20h0m0 19h0m0 14h0m0 6h0m0 19h0m1-42h0m0 16h0m0 15h0m0 121h0m1-147h0m0 14h0m1-44h0m0 10h0m0 19h0m0 21h0m1-41h0m0 4h0m0 28h0m0 1h0m1 3h0m0 24h0m1-35h0m0 11h0m0 2h0m0 8h0m0 5h0m1-51h0m0 5h0m0 12h0m0 5h0m0 54h0m0 89h0m1-154h0m0 20h0m0 15h0m1-92h0m0 11h0m0 61h0m0 1h0m0 34h0m1-19h0m0 7h0m0 5h0m0 3h0m2-98h0m0 48h0m0 13h0m0 14h0m1-28h0m0 10h0m0 11h0m1-22h0m0 27h0m0 4h0m0 6h0m1-11h0m0 12h0m0 32h0m1-104h0m0 30h0m1-21h0m0 32h0m0 31h0m2-31h0m1 14h0m1-52h0m0 37h0m0 9h0m0 46h0m0 10h0m1-70h0m0 4h0m0 7h0m0 5h0m0 3h0m0 18h0m1-15h0m0 44h0m1-39h0m0 15h0m1-81h0m0 4h0m0 38h0m0 6h0m0 47h0m1-101h0m0 89h0m0 22h0m1-49h0m0 18h0m1-63h0m0 9h0m0 29h0m0 13h0m0 16h0m0 7h0m1-32h0m0 11h0m0 2h0m1-61h0m0 28h0m0 10h0m0 8h0m0 1h0m1 25h0m1-27h0m1-50h0m0 44h0m1-34h0m0 87h0m0 28h0m0 109h0m1-200h0m0 8h0m0 17h0m1-39h0m0 9h0m0 1h0m0 18h0m0 1h0m1 2h0m1 14h0m0 161h0m1-226h0m0 15h0m0 3h0m0 15h0m1-1h0m0 34h0m1-82h0m0 65h0m0 11h0m0 16h0m1 117h0m1-191h0m0 224h0m1-238h0m0 45h0m0 40h0m0 20h0m1-51h0m0 10h0m1-28h0m1 22h0m1 12h0m1-76h0m0 6h0m0 31h0m0 1h0m0 35h0m1-47h0m0 40h0m1-23h0m0 7h0m0 15h0m0 13h0m0 161h0m1-161h0m1-71h0m0 2h0m0 16h0m0 46h0m0 8h0m1 15h0m1-80h0m0 10h0m0 6h0m0 36h0m1-22h0m0 2h0m0 136h0m1-159h0m0 29h0m1 21h0m1-27h0m0 7h0m0 1h0m0 5h0m1-64h0m0 33h0m0 27h0m2-72h0m1 26h0m0 42h0m0 9h0m1-48h0m1 17h0m0 61h0m1-49h0m2-1h0m0 149h0m1-162h0m0 4h0m1 41h0m1-10h0m2-38h0m0 16h0m0 37h0m1-38h0m1 55h0m1-62h0m0 180h0m1 41h0m1-116h0m2-133h0m1 108h0m0 115h0m3-234h0m0 154h0m1-138h0m3 14h0m0 178h0m0 5h0m2-135h0m2-36h0m1-1h0m13 190h0m3-169h0m6 133h0m1-2h0m7-1h0m1 67h0m6-106h0"/>
<path d="M92 -98h0m1-28h0m0 13h0m6 20h0m0 11h0m1 14h0m5-83h0m2 14h0m0 12h0m1 5h0m0 10h0m1-20h0m0 30h0m1-109h0m0 56h0m0 16h0m1-79h0m0 5h0m0 83h0m0 17h0m1-7h0m1-19h0m0 14h0m0 2h0m0 16h0m1-86h0m0 66h0m1-31h0m0 47h0m1-12h0m0 34h0m1-44h0m0 15h0m1-17h0m0 33h0m1-101h0m0 68h0m0 4h0m0 3h0m0 1h0m0 17h0m0 17h0m1-42h0m0 1h0m0 4h0m0 1h0m0 10h0m1-69h0m0 30h0m0 19h0m0 2h0m0 7h0m0 7h0m0 1h0m0 1h0m0 1h0m0 5h0m0 6h0m0 4h0m0 11h0m0 2h0m0 8h0m1-54h0m0 2h0m0 15h0m0 1h0m0 6h0m0 20h0m0 14h0m1-75h0m0 2h0m0 21h0m0 5h0m0 1h0m0 3h0m0 5h0m0 1h0m0 12h0m1-81h0m0 55h0m0 8h0m0 1h0m0 2h0m0 1h0m0 15h0m0 3h0m1-38h0m0 9h0m0 2h0m0 8h0m0 15h0m0 3h0m1-51h0m0 5h0m0 11h0m0 4h0m0 9h0m0 3h0m0 4h0m0 4h0m0 1h0m0 9h0m1-112h0m0 19h0m0 38h0m0 28h0m0 2h0m0 4h0m0 2h0m0 6h0m0 1h0m0 1h0m0 5h0m0 2h0m0 14h0m1-55h0m0 6h0m0 2h0m0 2h0m0 2h0m0 6h0m0 1h0m0 3h0m0 3h0m0 4h0m0 1h0m0 2h0m0 3h0m0 1h0m0 2h0m0 1h0m0 11h0m0 4h0m0 12h0m1-78h0m0 9h0m0 11h0m0 1h0m0 9h0m0 2h0m0 4h0m0 2h0m0 2h0m0 1h0m0 2h0m0 6h0m0 1h0m0 1h0m0 1h0m0 11h0m1-42h0m0 4h0m0 4h0m0 6h0m0 4h0m0 4h0m0 1h0m0 3h0m0 1h0m0 1h0m0 2h0m0 5h0m0 1h0m0 12h0m1-93h0m0 41h0m0 2h0m0 7h0m0 1h0m0 2h0m0 10h0m0 3h0m0 2h0m0 1h0m0 6h0m0 4h0m0 5h0m0 1h0m0 2h0m0 18h0m1-145h0m0 76h0m0 8h0m0 2h0m0 2h0m0 1h0m0 4h0m0 2h0m0 2h0m0 1h0m0 1h0m0 1h0m0 1h0m0 6h0m0 1h0m0 3h0m0 1h0m0 2h0m0 2h0m0 1h0m0 1h0m0 12h0m1-126h0m0 23h0m0 64h0m0 2h0m0 6h0m0 1h0m0 2h0m0 1h0m0 3h0m0 2h0m0 2h0m0 1h0m0 1h0m0 1h0m0 1h0m0 2h0m0 3h0m0 5h0m0 8h0m0 2h0m1-104h0m0 48h0m0 1h0m0 2h0m0 2h0m0 5h0m0 6h0m0 2h0m0 1h0m0 1h0m0 5h0m0 3h0m0 1h0m0 1h0m0 2h0m0 5h0m0 1h0m0 4h0m1-45h0m0 10h0m0 9h0m0 4h0m0 2h0m0 3h0m0 1h0m0 1h0m0 1h0m0 3h0m0 1h0m0 2h0m0 1h0m0 2h0m0 36h0m1-73h0m0 3h0m0 2h0m0 11h0m0 2h0m0 1h0m0 1h0m0 2h0m0 1h0m0 2h0m0 1h0m0 1h0m0 2h0m0 1h0m0 1h0m0 1h0m0 2h0m0 2h0m0 4h0m0 2h0m0 1h0m0 1h0m0 14h0m1-58h0m0 5h0m0 3h0m0 5h0m0 7h0m0 1h0m0 3h0m0 1h0m0 1h0m0 2h0m0 4h0m0 1h0m0 7h0m0 13h0m0 1h0m0 2h0m1-50h0m0 1h0m0 1h0m0 5h0m0 1h0m0 1h0m0 1h0m0 2h0m0 4h0m0 3h0m0 1h0m0 4h0m0 2h0m0 1h0m0 2h0m0 2h0m0 19h0m1-64h0m0 19h0m0 2h0m0 2h0m0 1h0m0 2h0m0 1h0m0 1h0m0 2h0m0 2h0m0 1h0m0 3h0m0 2h0m0 7h0m0 1h0m0 1h0m0 2h0m0 1h0m0 1h0m0 1h0m0 16h0m1-105h0m0 42h0m0 6h0m0 3h0m0 1h0m0 4h0m0 4h0m0 2h0m0 2h0m0 4h0m0 1h0m0 1h0m0 1h0m0 3h0m0 6h0m0 1h0m0 4h0m0 1h0m0 13h0m1-137h0m0 77h0m0 3h0m0 7h0m0 12h0m0 1h0m0 1h0m0 5h0m0 3h0m0 3h0m0 3h0m0 1h0m0 1h0m0 3h0m0 1h0m0 14h0m0 1h0m1-63h0m0 22h0m0 1h0m0 1h0m0 3h0m0 5h0m0 6h0m0 2h0m0 1h0m0 1h0m0 3h0m0 1h0m0 6h0m0 2h0m0 1h0m0 8h0m1-125h0m0 40h0m0 40h0m0 7h0m0 10h0m0 1h0m0 2h0m0 1h0m0 2h0m0 1h0m0 6h0m0 4h0m0 10h0m1-85h0m0 46h0m0 2h0m0 3h0m0 1h0m0 1h0m0 1h0m0 6h0m0 2h0m0 2h0m0 3h0m0 3h0m0 5h0m0 1h0m0 4h0m0 1h0m0 2h0m0 24h0m1-139h0m0 37h0m0 18h0m0 9h0m0 9h0m0 6h0m0 1h0m0 8h0m0 4h0m0 2h0m0 3h0m0 2h0m0 2h0m0 2h0m0 2h0m0 6h0m0 7h0m0 1h0m1-84h0m0 31h0m0 7h0m0 12h0m0 2h0m0 3h0m0 1h0m0 1h0m0 1h0m0 2h0m0 2h0m0 2h0m0 2h0m0 7h0m0 7h0m1-48h0m0 2h0m0 5h0m0 1h0m0 6h0m0 5h0m0 1h0m0 2h0m0 2h0m0 1h0m0 1h0m0 2h0m0 2h0m0 2h0m0 21h0m1-46h0m0 3h0m0 6h0m0 1h0m0 4h0m0 3h0m0 2h0m0 8h0m0 3h0m0 4h0m0 9h0m0 2h0m0 10h0m1-163h0m0 107h0m0 7h0m0 5h0m0 4h0m0 10h0m0 2h0m0 3h0m0 11h0m1-50h0m0 3h0m0 5h0m0 7h0m0 12h0m0 2h0m0 2h0m0 2h0m0 3h0m0 4h0m0 2h0m0 2h0m1-133h0m0 93h0m0 17h0m0 3h0m0 4h0m0 13h0m0 3h0m0 4h0m0 5h0m1-48h0m0 5h0m0 6h0m0 11h0m0 3h0m0 19h0m1-155h0m0 48h0m0 85h0m0 1h0m0 12h0m0 3h0m1-108h0m0 40h0m0 12h0m0 3h0m0 22h0m0 4h0m0 23h0m0 1h0m0 4h0m0 1h0m0 10h0m1-39h0m0 5h0m0 11h0m0 10h0m0 3h0m0 4h0m0 1h0m1-139h0m0 47h0m0 37h0m0 8h0m0 12h0m0 4h0m0 8h0m0 2h0m0 6h0m0 16h0m1-150h0m0 101h0m0 17h0m0 8h0m0 4h0m0 4h0m0 11h0m0 3h0m0 12h0m1-79h0m1-69h0m0 5h0m0 100h0m0 1h0m0 20h0m0 5h0m1-33h0m0 2h0m0 22h0m0 36h0m1-46h0m0 12h0m0 2h0m0 10h0m1-40h0m1-4h0m0 27h0m0 19h0m1-24h0m1-77h0m0 49h0m1-60h0m0 53h0m0 25h0m0 12h0m0 38h0m1-141h0m0 47h0m0 61h0m0 1h0m0 9h0m1-132h0m1 14h0m0 79h0m0 18h0m0 29h0m1-42h0m0 2h0m0 19h0m0 13h0m1-118h0m0 29h0m0 39h0m0 6h0m0 3h0m0 47h0m1-26h0m0 31h0m1-83h0m0 24h0m1-56h0m0 59h0m1 21h0m1-12h0m0 30h0m1-16h0m0 2h0m1-85h0m0 80h0m0 69h0m1-70h0m3-38h0m1-25h0m0 52h0m2-25h0m0 5h0m0 31h0m1-120h0m0 133h0m0 16h0m1-41h0m0 7h0m1 0h0m1-2h0m1-32h0m0 40h0m1-104h0m2 63h0m0 18h0m1 52h0m1-63h0m0 25h0m2-50h0m0 14h0m0 10h0m0 19h0m0 26h0m1 5h0m2-74h0m0 36h0m0 1h0m1-54h0m0 68h0m2-43h0m1-4h0m0 42h0m1 1h0m1-33h0m0 45h0m0 2h0m1-63h0m0 43h0m1-80h0m0 74h0m0 24h0m1-11h0m1 26h0m1-56h0m0 36h0m1-24h0m0 8h0m0 30h0m0 34h0m1-84h0m0 3h0m0 19h0m1-27h0m0 26h0m1-21h0m0 3h0m0 21h0m0 11h0m0 6h0m0 13h0m0 45h0m1-138h0m0 40h0m0 15h0m1-27h0m0 21h0m0 7h0m1-96h0m0 60h0m0 17h0m1-8h0m0 17h0m0 12h0m0 1h0m0 7h0m0 27h0m1-58h0m1 24h0m1-35h0m0 14h0m1-23h0m1 5h0m0 17h0m0 18h0m0 67h0m1-70h0m0 22h0m1-46h0m0 36h0m1-20h0m0 22h0m0 100h0m1-184h0m0 24h0m0 5h0m0 18h0m0 6h0m0 20h0m1-56h0m0 49h0m1-52h0m1 33h0m0 10h0m1-7h0m0 10h0m1 58h0m0 24h0m1-147h0m0 3h0m0 33h0m0 10h0m1-20h0m0 22h0m0 4h0m1 96h0m1-86h0m0 34h0m0 121h0m1-149h0m0 1h0m2-26h0m0 9h0m0 29h0m1-66h0m0 27h0m0 13h0m0 173h0m1-164h0m1 29h0m0 91h0m1-149h0m0 169h0m1-172h0m0 2h0m0 3h0m0 124h0m1-134h0m1 0h0m0 17h0m0 20h0m1-14h0m0 8h0m0 17h0m0 9h0m0 4h0m0 26h0m0 15h0m1-140h0m0 72h0m0 12h0m1-63h0m1-15h0m0 50h0m0 15h0m0 17h0m0 42h0m1-98h0m0 31h0m0 2h0m0 20h0m1-24h0m0 17h0m1 31h0m1-100h0m0 29h0m0 25h0m0 6h0m0 8h0m0 9h0m0 83h0m1-106h0m0 5h0m0 3h0m0 46h0m1-56h0m0 6h0m0 4h0m1-14h0m0 31h0m1-42h0m0 3h0m0 14h0m0 12h0m0 27h0m1-58h0m0 6h0m0 9h0m0 4h0m0 28h0m0 17h0m0 99h0m0 31h0m2-172h0m0 14h0m1-69h0m0 7h0m0 38h0m0 9h0m0 5h0m1-52h0m0 33h0m0 12h0m0 4h0m0 29h0m0 142h0m1-214h0m0 7h0m0 28h0m0 10h0m0 12h0m1-28h0m0 12h0m0 4h0m1-25h0m1 5h0m0 27h0m1 162h0m1-204h0m0 60h0m0 121h0m1-160h0m0 13h0m0 1h0m0 1h0m0 18h0m0 88h0m1-125h0m0 11h0m0 9h0m0 9h0m0 24h0m1-86h0m0 44h0m1 2h0m0 1h0m0 29h0m0 144h0m1-156h0m0 8h0m2-53h0m1-12h0m0 23h0m0 1h0m0 24h0m1-51h0m0 79h0m0 122h0m1-148h0m0 17h0m0 18h0m1-72h0m0 9h0m0 57h0m0 134h0m0 1h0m1-197h0m0 6h0m0 8h0m1 8h0m0 26h0m1-44h0m0 9h0m0 15h0m0 54h0m2-129h0m0 46h0m0 21h0m0 28h0m0 128h0m1-212h0m0 19h0m0 37h0m0 177h0m1-202h0m0 4h0m1 13h0m0 20h0m1-33h0m0 10h0m0 31h0m1-69h0m1 44h0m1-73h0m0 57h0m0 40h0m1-59h0m0 7h0m0 15h0m1-30h0m0 35h0m0 8h0m0 9h0m1-46h0m0 13h0m0 3h0m0 24h0m0 148h0m1-186h0m1-16h0m0 21h0m0 31h0m1 181h0m1-179h0m1-71h0m0 8h0m0 2h0m0 11h0m0 28h0m0 112h0m1-155h0m0 19h0m0 23h0m0 12h0m1-55h0m0 19h0m0 25h0m0 28h0m0 11h0m0 76h0m1-110h0m1-14h0m0 1h0m0 22h0m0 11h0m0 35h0m1-70h0m0 8h0m0 22h0m1-14h0m0 9h0m0 19h0m1-32h0m0 2h0m0 132h0m1-145h0m0 3h0m0 147h0m1-165h0m1-4h0m0 17h0m2-29h0m1 168h0m1-178h0m0 49h0m0 2h0m0 27h0m0 4h0m0 128h0m1-210h0m0 64h0m3-39h0m0 48h0m1-23h0m0 200h0m1-235h0m0 11h0m1 71h0m0 33h0m2-105h0m0 10h0m0 16h0m0 50h0m0 117h0m1-184h0m0 30h0m0 32h0m0 155h0m2-251h0m0 31h0m0 19h0m0 12h0m0 16h0m1-20h0m0 117h0m1-155h0m0 45h0m0 185h0m1-142h0m1-97h0m0 46h0m3-12h0m5-30h0m1 152h0m2-170h0m1 210h0m2-156h0m1-43h0m0 79h0m0 8h0m2 15h0m0 16h0m0 111h0m3-164h0m2-5h0m2-32h0m1 10h0m2 59h0m0 27h0m4 95h0m3-5h0m1 22h0m10-12h0m2 2h0m0 16h0"/>
<path d="M84 -126h0m4 28h0m1-25h0m10-44h0m5 55h0m1 35h0m2-113h0m0 63h0m0 46h0m2-134h0m0 102h0m0 26h0m2-27h0m2-136h0m0 100h0m0 19h0m0 22h0m1-94h0m0 110h0m1-71h0m1-79h0m0 99h0m0 2h0m0 13h0m0 12h0m1-42h0m0 3h0m0 29h0m0 2h0m1-16h0m0 23h0m0 3h0m0 8h0m0 8h0m1-90h0m0 64h0m0 5h0m0 13h0m0 27h0m1-60h0m0 3h0m0 2h0m0 16h0m0 1h0m1-79h0m0 16h0m0 46h0m0 3h0m0 3h0m0 8h0m0 5h0m0 7h0m1-114h0m0 94h0m0 2h0m0 3h0m0 2h0m0 1h0m0 1h0m0 1h0m0 16h0m1-37h0m0 10h0m0 1h0m0 2h0m0 3h0m0 4h0m0 9h0m0 27h0m1-72h0m0 7h0m0 9h0m0 3h0m0 1h0m0 11h0m0 1h0m0 4h0m0 2h0m0 2h0m0 4h0m0 7h0m0 52h0m1-188h0m0 113h0m0 1h0m0 7h0m0 4h0m0 1h0m0 4h0m0 2h0m0 16h0m1-97h0m0 52h0m0 3h0m0 5h0m0 5h0m0 1h0m0 1h0m0 4h0m0 5h0m0 16h0m0 3h0m1-151h0m0 4h0m0 108h0m0 1h0m0 1h0m0 1h0m0 2h0m0 4h0m0 1h0m0 1h0m0 1h0m0 1h0m0 1h0m0 4h0m0 3h0m0 1h0m0 5h0m0 2h0m0 3h0m0 6h0m0 2h0m1-127h0m0 73h0m0 11h0m0 8h0m0 1h0m0 8h0m0 4h0m0 4h0m0 3h0m0 1h0m0 1h0m0 4h0m0 3h0m0 3h0m0 3h0m1-103h0m0 54h0m0 9h0m0 2h0m0 4h0m0 3h0m0 1h0m0 2h0m0 2h0m0 1h0m0 7h0m0 1h0m0 1h0m0 3h0m0 2h0m0 3h0m0 6h0m1-37h0m0 2h0m0 4h0m0 1h0m0 1h0m0 1h0m0 4h0m0 1h0m0 1h0m0 2h0m0 4h0m0 2h0m0 5h0m0 10h0m0 1h0m0 16h0m0 10h0m1-182h0m0 94h0m0 24h0m0 1h0m0 2h0m0 2h0m0 1h0m0 1h0m0 1h0m0 1h0m0 1h0m0 1h0m0 1h0m0 3h0m0 2h0m0 6h0m0 1h0m0 2h0m0 3h0m0 3h0m0 2h0m0 1h0m0 10h0m1-166h0m0 13h0m0 98h0m0 5h0m0 18h0m0 2h0m0 3h0m0 2h0m0 2h0m0 4h0m0 1h0m0 7h0m0 12h0m1-45h0m0 1h0m0 1h0m0 2h0m0 2h0m0 4h0m0 1h0m0 2h0m0 1h0m0 3h0m0 1h0m0 1h0m0 4h0m0 2h0m0 1h0m0 5h0m0 11h0m1-103h0m0 2h0m0 48h0m0 6h0m0 4h0m0 10h0m0 1h0m0 5h0m0 3h0m0 2h0m0 2h0m0 5h0m0 4h0m0 1h0m0 3h0m0 9h0m1-147h0m0 1h0m0 83h0m0 2h0m0 12h0m0 3h0m0 1h0m0 2h0m0 5h0m0 2h0m0 1h0m0 1h0m0 4h0m0 1h0m0 1h0m0 2h0m0 1h0m0 3h0m0 1h0m0 1h0m0 2h0m0 3h0m0 2h0m0 6h0m0 10h0m0 2h0m1-67h0m0 3h0m0 9h0m0 9h0m0 2h0m0 2h0m0 1h0m0 1h0m0 4h0m0 2h0m0 1h0m0 2h0m0 1h0m0 1h0m0 2h0m0 1h0m0 2h0m0 3h0m0 2h0m0 4h0m0 15h0m1-149h0m0 29h0m0 37h0m0 12h0m0 11h0m0 3h0m0 6h0m0 3h0m0 1h0m0 3h0m0 2h0m0 1h0m0 1h0m0 2h0m0 3h0m0 1h0m0 3h0m0 3h0m0 1h0m0 2h0m0 1h0m0 1h0m0 8h0m0 10h0m1-78h0m0 18h0m0 6h0m0 2h0m0 9h0m0 1h0m0 3h0m0 5h0m0 2h0m0 4h0m0 1h0m0 2h0m0 3h0m0 3h0m0 3h0m0 1h0m0 1h0m0 1h0m0 1h0m0 4h0m0 3h0m0 1h0m1-57h0m0 10h0m0 1h0m0 8h0m0 1h0m0 1h0m0 3h0m0 1h0m0 6h0m0 1h0m0 1h0m0 1h0m0 1h0m0 1h0m0 1h0m0 2h0m0 2h0m0 1h0m0 2h0m0 3h0m0 9h0m0 1h0m1-35h0m0 2h0m0 3h0m0 1h0m0 12h0m0 2h0m0 4h0m0 1h0m0 1h0m0 2h0m0 7h0m0 10h0m1-163h0m0 20h0m0 79h0m0 19h0m0 3h0m0 1h0m0 1h0m0 1h0m0 3h0m0 1h0m0 2h0m0 1h0m0 4h0m0 1h0m0 5h0m0 9h0m0 6h0m0 11h0m1-67h0m0 15h0m0 7h0m0 2h0m0 2h0m0 5h0m0 1h0m0 1h0m0 2h0m0 7h0m0 3h0m0 9h0m1-39h0m0 2h0m0 2h0m0 2h0m0 2h0m0 4h0m0 2h0m0 1h0m0 1h0m0 1h0m0 1h0m0 1h0m0 2h0m0 1h0m0 1h0m0 3h0m0 24h0m1-61h0m0 2h0m0 1h0m0 1h0m0 3h0m0 1h0m0 1h0m0 4h0m0 2h0m0 3h0m0 1h0m0 3h0m0 2h0m0 3h0m0 7h0m0 6h0m0 4h0m0 6h0m0 8h0m0 2h0m0 2h0m1-136h0m0 13h0m0 68h0m0 5h0m0 11h0m0 2h0m0 1h0m0 2h0m0 1h0m0 1h0m0 1h0m0 2h0m0 4h0m0 3h0m0 7h0m0 16h0m1-77h0m0 8h0m0 5h0m0 16h0m0 4h0m0 1h0m0 5h0m0 1h0m0 1h0m0 2h0m0 5h0m0 1h0m0 2h0m0 2h0m0 1h0m1-122h0m0 16h0m0 68h0m0 8h0m0 1h0m0 3h0m0 9h0m0 1h0m0 5h0m0 4h0m0 4h0m0 9h0m0 22h0m1-66h0m0 13h0m0 1h0m0 2h0m0 3h0m0 2h0m0 1h0m0 2h0m0 1h0m0 1h0m0 1h0m0 1h0m0 6h0m0 10h0m0 10h0m1-108h0m0 41h0m0 32h0m0 5h0m0 1h0m0 4h0m0 3h0m0 10h0m0 1h0m0 4h0m0 5h0m0 19h0m1-70h0m0 4h0m0 7h0m0 1h0m0 2h0m0 7h0m0 3h0m0 7h0m0 11h0m0 9h0m1-79h0m0 15h0m0 15h0m0 9h0m0 8h0m0 1h0m0 1h0m0 1h0m0 1h0m0 5h0m0 3h0m0 1h0m0 5h0m1-111h0m0 73h0m0 15h0m0 2h0m0 2h0m0 4h0m0 6h0m0 2h0m0 1h0m0 2h0m0 22h0m1-47h0m0 2h0m0 28h0m0 1h0m0 8h0m1-48h0m0 8h0m0 13h0m1-138h0m0 125h0m0 12h0m0 3h0m0 8h0m1-96h0m0 78h0m0 15h0m0 11h0m0 4h0m0 6h0m1-145h0m0 8h0m0 5h0m0 7h0m0 84h0m0 11h0m0 1h0m0 14h0m0 30h0m1-77h0m0 14h0m0 23h0m0 2h0m0 3h0m0 6h0m0 1h0m1-54h0m0 19h0m0 5h0m0 15h0m0 13h0m0 12h0m0 9h0m0 24h0m1-131h0m0 44h0m0 12h0m0 14h0m0 19h0m0 23h0m1-32h0m0 21h0m1-52h0m0 32h0m0 20h0m1-16h0m1-1h0m0 16h0m0 5h0m0 3h0m1-115h0m0 21h0m0 63h0m0 38h0m1-76h0m0 6h0m0 3h0m0 22h0m0 10h0m0 22h0m1-50h0m0 31h0m0 1h0m0 3h0m2-138h0m0 24h0m2 95h0m1 62h0m1-178h0m0 87h0m0 11h0m0 55h0m1-39h0m0 21h0m0 14h0m1-42h0m1-11h0m2-77h0m0 48h0m3-8h0m2 46h0m1 14h0m0 5h0m2-43h0m1-19h0m0 10h0m1 13h0m2 33h0m1 23h0m2-39h0m1-33h0m0 54h0m0 48h0m2-143h0m0 47h0m0 16h0m0 53h0m1-105h0m0 14h0m1 40h0m0 5h0m0 38h0m2 5h0m1-49h0m1-109h0m2 114h0m0 36h0m1-71h0m0 32h0m1-18h0m1-47h0m0 74h0m0 70h0m1-102h0m0 15h0m1 1h0m1-64h0m0 19h0m0 3h0m0 14h0m0 9h0m0 13h0m0 1h0m0 29h0m1-45h0m0 12h0m0 7h0m1-47h0m0 62h0m0 3h0m1-63h0m1 40h0m0 9h0m1-50h0m0 52h0m1-25h0m0 1h0m0 14h0m1-51h0m0 2h0m0 40h0m1-4h0m0 14h0m0 103h0m0 22h0m1-94h0m1-37h0m0 20h0m1-56h0m0 6h0m0 46h0m0 11h0m1-89h0m0 48h0m1-26h0m0 53h0m0 112h0m1 36h0m1-160h0m0 1h0m0 7h0m0 59h0m1-82h0m0 10h0m0 9h0m0 6h0m1-17h0m0 13h0m0 43h0m0 66h0m1-143h0m0 28h0m1-27h0m0 15h0m0 20h0m1-110h0m0 95h0m1-100h0m0 31h0m0 34h0m0 10h0m0 7h0m0 12h0m1-23h0m0 13h0m0 21h0m0 15h0m0 10h0m0 59h0m1-110h0m1-6h0m0 41h0m0 28h0m1-45h0m0 11h0m0 10h0m0 7h0m0 8h0m0 11h0m1-67h0m0 40h0m0 7h0m1-9h0m1-76h0m0 69h0m0 8h0m1-25h0m0 24h0m0 30h0m1-89h0m0 34h0m0 2h0m0 3h0m0 2h0m0 12h0m1-13h0m0 40h0m1-64h0m0 23h0m1-29h0m0 149h0m1-177h0m0 37h0m0 14h0m0 19h0m0 12h0m1-10h0m1-38h0m0 4h0m0 22h0m0 31h0m1-25h0m1-19h0m0 21h0m0 14h0m0 11h0m1-76h0m0 67h0m0 97h0m1-150h0m0 13h0m0 11h0m0 1h0m1-4h0m0 17h0m0 6h0m0 32h0m1-80h0m0 10h0m0 17h0m0 27h0m0 2h0m1-43h0m0 15h0m0 1h0m0 7h0m0 1h0m1-37h0m0 5h0m0 21h0m0 9h0m0 9h0m0 15h0m1-75h0m0 44h0m0 5h0m0 2h0m0 134h0m1-157h0m0 25h0m1-59h0m0 2h0m0 49h0m1-77h0m0 54h0m0 34h0m0 8h0m0 19h0m1-60h0m0 34h0m0 3h0m0 2h0m0 10h0m0 12h0m1-55h0m0 9h0m0 15h0m0 10h0m1-43h0m0 110h0m1-118h0m0 5h0m0 42h0m0 40h0m1-98h0m0 16h0m0 40h0m0 24h0m2-61h0m0 2h0m0 8h0m0 52h0m1-57h0m0 18h0m1-5h0m0 15h0m0 2h0m0 7h0m0 1h0m1-16h0m1-40h0m0 52h0m2-56h0m0 7h0m0 25h0m0 24h0m0 17h0m0 130h0m1-224h0m0 8h0m0 40h0m0 6h0m0 12h0m0 97h0m1-135h0m0 25h0m0 11h0m0 5h0m0 34h0m2-30h0m0 9h0m0 20h0m0 104h0m1-166h0m0 39h0m1-40h0m0 12h0m0 16h0m1-75h0m0 40h0m0 14h0m0 10h0m1-12h0m0 16h0m0 10h0m1-48h0m0 16h0m0 2h0m0 14h0m0 18h0m1-57h0m0 1h0m0 19h0m0 22h0m0 7h0m0 1h0m0 8h0m1-6h0m0 28h0m1-109h0m0 52h0m0 3h0m0 2h0m0 10h0m0 18h0m1-29h0m0 10h0m0 9h0m0 4h0m0 71h0m1-116h0m0 149h0m1-102h0m1-18h0m1 5h0m0 26h0m0 37h0m1-32h0m0 3h0m1-60h0m1 45h0m1-12h0m0 6h0m0 12h0m1-70h0m0 10h0m0 23h0m0 2h0m0 3h0m0 2h0m0 1h0m0 1h0m0 4h0m1 5h0m0 21h0m1 6h0m1-38h0m1 7h0m0 7h0m0 85h0m0 78h0m1-224h0m0 42h0m0 10h0m1-62h0m0 64h0m0 129h0m1-182h0m0 5h0m1 15h0m0 22h0m0 23h0m1-32h0m1-62h0m0 42h0m1 18h0m1 2h0m0 25h0m1-29h0m0 24h0m0 49h0m1-73h0m1-14h0m0 122h0m1-140h0m0 84h0m0 152h0m1-239h0m0 21h0m0 1h0m2 20h0m0 132h0m1-107h0m0 40h0m2-97h0m0 2h0m0 28h0m1-24h0m0 7h0m0 33h0m0 60h0m1-41h0m0 19h0m1-84h0m0 27h0m0 10h0m0 2h0m0 157h0m1-184h0m1-18h0m0 13h0m0 124h0m1-143h0m2 7h0m0 48h0m2-4h0m0 103h0m1-143h0m0 14h0m0 38h0m1-32h0m0 28h0m1-46h0m1 164h0m1-185h0m1-6h0m0 36h0m1 41h0m4-23h0m1-2h0m1-16h0m1 164h0m1-74h0m1 1h0m1-80h0m5-1h0m0 38h0m0 117h0m0 54h0m1 0h0m1-193h0m1-44h0m3 32h0m2 86h0m4-76h0m6-56h0m1 177h0m1-153h0m9 227h0m12 0h0"/>
</g>
</g>
<path d="M820.3 404.4H1069.7V653.8H820.3Z M912 404.4V653.8M820.3 561.8H1069.7" stroke="#2b2b2b" stroke-width="1.25" fill="none"/>
<path d="M820.3 653.8v5.5M820.3 653.8h-5.8M839.1 653.8v2.6M820.3 635h-2.6M850 653.8v2.6M820.3 624.1h-2.6M857.8 653.8v2.6M820.3 616.3h-2.6M863.9 653.8v3.6M820.3 610.2h-3.6M868.8 653.8v2.6M820.3 605.3h-2.6M873 653.8v2.6M820.3 601.1h-2.6M876.6 653.8v2.6M820.3 597.5h-2.6M879.8 653.8v2.6M820.3 594.3h-2.6M882.6 653.8v5.5M820.3 591.5h-5.8M901.4 653.8v2.6M820.3 572.7h-2.6M912.4 653.8v2.6M820.3 561.7h-2.6M920.2 653.8v2.6M820.3 553.9h-2.6M926.2 653.8v3.6M820.3 547.9h-3.6M931.1 653.8v2.6M820.3 543h-2.6M935.3 653.8v2.6M820.3 538.8h-2.6M938.9 653.8v2.6M820.3 535.2h-2.6M942.1 653.8v2.6M820.3 532h-2.6M945 653.8v5.5M820.3 529.1h-5.8M963.7 653.8v2.6M820.3 510.4h-2.6M974.7 653.8v2.6M820.3 499.4h-2.6M982.5 653.8v2.6M820.3 491.6h-2.6M988.5 653.8v3.6M820.3 485.6h-3.6M993.5 653.8v2.6M820.3 480.6h-2.6M997.6 653.8v2.6M820.3 476.5h-2.6M1001.2 653.8v2.6M820.3 472.9h-2.6M1004.4 653.8v2.6M820.3 469.7h-2.6M1007.3 653.8v5.5M820.3 466.8h-5.8M1026.1 653.8v2.6M820.3 448h-2.6M1037 653.8v2.6M820.3 437.1h-2.6M1044.8 653.8v2.6M820.3 429.3h-2.6M1050.9 653.8v3.6M820.3 423.2h-3.6M1055.8 653.8v2.6M820.3 418.3h-2.6M1060 653.8v2.6M820.3 414.1h-2.6M1063.6 653.8v2.6M820.3 410.5h-2.6M1066.8 653.8v2.6M820.3 407.3h-2.6M1069.6 653.8v5.5M820.3 404.5h-5.8" stroke="#2b2b2b" stroke-width="1.1" fill="none"/>
<text x="812.5" y="672.4" font-size="10.5" fill="#222" stroke="#222" stroke-width="0.2">10<tspan dy="-4" font-size="7">2</tspan></text>
<text x="796.9" y="657.6" font-size="10.5" fill="#222" stroke="#222" stroke-width="0.2">10<tspan dy="-4" font-size="7">2</tspan></text>
<text x="874.8" y="672.4" font-size="10.5" fill="#222" stroke="#222" stroke-width="0.2">10<tspan dy="-4" font-size="7">3</tspan></text>
<text x="796.9" y="595.3" font-size="10.5" fill="#222" stroke="#222" stroke-width="0.2">10<tspan dy="-4" font-size="7">3</tspan></text>
<text x="937.2" y="672.4" font-size="10.5" fill="#222" stroke="#222" stroke-width="0.2">10<tspan dy="-4" font-size="7">4</tspan></text>
<text x="796.9" y="532.9" font-size="10.5" fill="#222" stroke="#222" stroke-width="0.2">10<tspan dy="-4" font-size="7">4</tspan></text>
<text x="999.5" y="672.4" font-size="10.5" fill="#222" stroke="#222" stroke-width="0.2">10<tspan dy="-4" font-size="7">5</tspan></text>
<text x="796.9" y="470.6" font-size="10.5" fill="#222" stroke="#222" stroke-width="0.2">10<tspan dy="-4" font-size="7">5</tspan></text>
<text x="1061.8" y="672.4" font-size="10.5" fill="#222" stroke="#222" stroke-width="0.2">10<tspan dy="-4" font-size="7">6</tspan></text>
<text x="796.9" y="408.3" font-size="10.5" fill="#222" stroke="#222" stroke-width="0.2">10<tspan dy="-4" font-size="7">6</tspan></text>
<text x="945" y="695.5" font-size="16.4" text-anchor="middle" textLength="47" lengthAdjust="spacingAndGlyphs" stroke="#111" stroke-width="0.35">FITC-H</text>
<text x="787.3" y="529.1" font-size="16.4" text-anchor="middle" transform="rotate(-90 787.3 529.1)" textLength="29" lengthAdjust="spacingAndGlyphs" stroke="#111" stroke-width="0.35">PI-H</text>
<rect x="820.3" y="404.9" width="43.7" height="22.8" rx="3.2" fill="#fff" stroke="#b0b0b0" stroke-width="1"/>
<text x="822.1" y="422.2" font-size="16.6" textLength="39.1" lengthAdjust="spacingAndGlyphs" fill="#111" stroke="#111" stroke-width="0.35">3.88%</text>
<rect x="1016.8" y="404.9" width="52.9" height="22.8" rx="3.2" fill="#fff" stroke="#b0b0b0" stroke-width="1"/>
<text x="1018.6" y="422.2" font-size="16.6" textLength="48.3" lengthAdjust="spacingAndGlyphs" fill="#111" stroke="#111" stroke-width="0.35">11.09%</text>
<rect x="820.3" y="620.2" width="52.5" height="23.6" rx="3.2" fill="#fff" stroke="#b0b0b0" stroke-width="1"/>
<text x="822.1" y="638.3" font-size="16.6" textLength="47.9" lengthAdjust="spacingAndGlyphs" fill="#111" stroke="#111" stroke-width="0.35">54.76%</text>
<rect x="1007.8" y="620.2" width="53.3" height="23.6" rx="3.2" fill="#fff" stroke="#b0b0b0" stroke-width="1"/>
<text x="1009.6" y="638.3" font-size="16.6" textLength="48.7" lengthAdjust="spacingAndGlyphs" fill="#111" stroke="#111" stroke-width="0.35">30.27%</text>
<text x="1272.5" y="374.8" font-size="21.6" text-anchor="middle">LPS+CXCL10 Inhibitor</text>
<text x="1262" y="398.6" font-size="16.2" text-anchor="middle" textLength="120.5" lengthAdjust="spacingAndGlyphs" stroke="#111" stroke-width="0.35">[D] FITC-H / PI-H</text>
<g transform="translate(1137.3 653.8)">
<ellipse cx="67.3" cy="-58" rx="8.5" ry="13" fill="#ff0000" opacity="1" transform="rotate(-12 67.3 -58)" filter="url(#core)"/>
<g transform="scale(0.5)" stroke="#ff1010" stroke-opacity="0.68" stroke-width="3" stroke-linecap="round" fill="none">
<path d="M96 -144h0m0 18h0m2-33h0m0 64h0m1-42h0m1 11h0m0 43h0m1-58h0m0 20h0m2-16h0m1-3h0m0 45h0m2-66h0m0 23h0m0 15h0m0 12h0m1-42h0m0 30h0m0 13h0m1-35h0m1-5h0m0 7h0m0 17h0m1-36h0m0 73h0m1-32h0m1-31h0m0 4h0m0 15h0m0 1h0m0 1h0m0 25h0m1-42h0m0 14h0m0 2h0m0 12h0m0 8h0m0 10h0m1-59h0m0 2h0m0 14h0m0 8h0m0 9h0m0 3h0m0 6h0m0 6h0m0 1h0m0 4h0m0 6h0m0 10h0m1-63h0m0 23h0m0 1h0m0 4h0m0 19h0m0 4h0m1-57h0m0 6h0m0 11h0m0 1h0m0 5h0m0 1h0m0 1h0m0 1h0m0 1h0m0 13h0m0 1h0m0 10h0m0 4h0m0 3h0m1-47h0m0 10h0m0 5h0m0 2h0m0 12h0m0 1h0m0 2h0m0 7h0m0 5h0m0 1h0m0 16h0m1-71h0m0 10h0m0 2h0m0 4h0m0 6h0m0 8h0m0 1h0m0 4h0m0 1h0m0 2h0m0 3h0m0 2h0m0 10h0m0 2h0m0 1h0m0 7h0m0 3h0m1-66h0m0 4h0m0 11h0m0 8h0m0 1h0m0 1h0m0 1h0m0 1h0m0 1h0m0 6h0m0 4h0m0 1h0m0 1h0m0 3h0m0 6h0m0 1h0m1-49h0m0 13h0m0 9h0m0 5h0m0 1h0m0 4h0m0 2h0m0 2h0m0 1h0m0 4h0m0 1h0m0 3h0m0 4h0m0 1h0m0 1h0m0 2h0m0 7h0m0 1h0m0 4h0m1-86h0m0 17h0m0 15h0m0 4h0m0 3h0m0 10h0m0 9h0m0 1h0m0 4h0m0 1h0m0 2h0m0 7h0m1-40h0m0 7h0m0 1h0m0 7h0m0 2h0m0 1h0m0 3h0m0 2h0m0 1h0m0 1h0m0 1h0m0 1h0m0 1h0m0 1h0m0 4h0m0 4h0m0 2h0m0 7h0m0 4h0m0 11h0m1-61h0m0 2h0m0 2h0m0 7h0m0 4h0m0 3h0m0 3h0m0 2h0m0 5h0m0 6h0m0 1h0m0 1h0m0 3h0m0 1h0m0 2h0m0 2h0m1-90h0m0 51h0m0 2h0m0 1h0m0 2h0m0 5h0m0 1h0m0 2h0m0 4h0m0 1h0m0 6h0m0 5h0m0 1h0m0 1h0m0 7h0m0 3h0m0 1h0m0 1h0m0 3h0m0 1h0m0 2h0m1-67h0m0 6h0m0 15h0m0 1h0m0 1h0m0 1h0m0 7h0m0 3h0m0 1h0m0 1h0m0 2h0m0 2h0m0 1h0m0 1h0m0 1h0m0 1h0m0 1h0m0 1h0m0 1h0m0 3h0m0 3h0m0 1h0m0 2h0m0 5h0m0 4h0m0 10h0m0 10h0m1-93h0m0 15h0m0 4h0m0 6h0m0 2h0m0 7h0m0 1h0m0 3h0m0 3h0m0 2h0m0 2h0m0 4h0m0 1h0m0 4h0m0 3h0m0 1h0m0 1h0m0 1h0m0 2h0m0 3h0m0 1h0m0 3h0m1-58h0m0 10h0m0 3h0m0 6h0m0 1h0m0 1h0m0 2h0m0 1h0m0 1h0m0 1h0m0 2h0m0 2h0m0 2h0m0 2h0m0 1h0m0 1h0m0 2h0m0 1h0m0 2h0m0 3h0m0 2h0m0 1h0m0 2h0m0 1h0m0 3h0m0 4h0m0 3h0m0 4h0m1-57h0m0 7h0m0 1h0m0 3h0m0 2h0m0 5h0m0 1h0m0 1h0m0 1h0m0 4h0m0 3h0m0 2h0m0 2h0m0 1h0m0 2h0m0 1h0m0 5h0m0 3h0m0 7h0m0 3h0m0 4h0m0 5h0m1-55h0m0 4h0m0 2h0m0 1h0m0 2h0m0 1h0m0 1h0m0 1h0m0 1h0m0 2h0m0 4h0m0 1h0m0 4h0m0 5h0m0 1h0m0 2h0m0 3h0m0 4h0m0 4h0m0 2h0m0 8h0m0 1h0m1-67h0m0 2h0m0 6h0m0 1h0m0 1h0m0 6h0m0 1h0m0 5h0m0 1h0m0 2h0m0 1h0m0 1h0m0 2h0m0 4h0m0 2h0m0 1h0m0 1h0m0 1h0m0 1h0m0 1h0m0 1h0m0 2h0m0 1h0m0 1h0m0 2h0m0 1h0m0 2h0m0 2h0m0 1h0m0 1h0m0 2h0m0 3h0m0 7h0m0 1h0m0 3h0m1-94h0m0 15h0m0 8h0m0 2h0m0 2h0m0 5h0m0 2h0m0 5h0m0 2h0m0 4h0m0 2h0m0 1h0m0 1h0m0 1h0m0 1h0m0 1h0m0 1h0m0 1h0m0 2h0m0 1h0m0 2h0m0 1h0m0 2h0m0 2h0m0 1h0m0 1h0m0 1h0m0 2h0m0 2h0m0 1h0m0 3h0m0 1h0m0 4h0m0 2h0m0 1h0m0 1h0m0 1h0m0 5h0m0 6h0m0 2h0m1-85h0m0 4h0m0 19h0m0 1h0m0 2h0m0 2h0m0 3h0m0 2h0m0 1h0m0 1h0m0 2h0m0 1h0m0 1h0m0 1h0m0 1h0m0 2h0m0 1h0m0 1h0m0 2h0m0 2h0m0 1h0m0 2h0m0 1h0m0 1h0m0 1h0m0 1h0m0 1h0m0 1h0m0 1h0m0 1h0m0 2h0m0 1h0m0 1h0m0 3h0m0 1h0m0 2h0m0 2h0m0 4h0m0 3h0m1-77h0m0 1h0m0 21h0m0 2h0m0 2h0m0 5h0m0 1h0m0 1h0m0 1h0m0 1h0m0 1h0m0 2h0m0 1h0m0 1h0m0 1h0m0 2h0m0 1h0m0 2h0m0 1h0m0 3h0m0 2h0m0 1h0m0 1h0m0 2h0m0 1h0m0 1h0m0 1h0m0 4h0m0 2h0m0 2h0m0 3h0m0 7h0m0 15h0m1-83h0m0 10h0m0 1h0m0 2h0m0 2h0m0 2h0m0 1h0m0 5h0m0 2h0m0 1h0m0 2h0m0 2h0m0 2h0m0 4h0m0 1h0m0 1h0m0 5h0m0 3h0m0 1h0m0 1h0m0 7h0m0 2h0m0 1h0m0 7h0m0 8h0m0 10h0m0 8h0m1-101h0m0 14h0m0 3h0m0 4h0m0 7h0m0 3h0m0 4h0m0 2h0m0 1h0m0 2h0m0 1h0m0 1h0m0 2h0m0 1h0m0 3h0m0 1h0m0 1h0m0 1h0m0 1h0m0 3h0m0 1h0m0 1h0m0 2h0m0 2h0m0 3h0m0 1h0m0 1h0m0 3h0m0 2h0m0 5h0m0 3h0m0 1h0m0 3h0m0 14h0m1-79h0m0 6h0m0 5h0m0 3h0m0 2h0m0 1h0m0 1h0m0 1h0m0 4h0m0 2h0m0 1h0m0 1h0m0 3h0m0 1h0m0 1h0m0 1h0m0 1h0m0 1h0m0 1h0m0 1h0m0 1h0m0 4h0m0 2h0m0 1h0m0 4h0m0 4h0m0 2h0m0 4h0m0 9h0m0 5h0m1-72h0m0 1h0m0 1h0m0 2h0m0 3h0m0 4h0m0 1h0m0 3h0m0 1h0m0 1h0m0 3h0m0 2h0m0 1h0m0 1h0m0 2h0m0 1h0m0 4h0m0 2h0m0 2h0m0 1h0m0 4h0m0 1h0m0 1h0m0 1h0m0 1h0m0 1h0m0 4h0m0 1h0m0 5h0m0 1h0m0 2h0m0 1h0m0 10h0m1-81h0m0 4h0m0 4h0m0 6h0m0 4h0m0 1h0m0 1h0m0 1h0m0 3h0m0 3h0m0 2h0m0 1h0m0 1h0m0 1h0m0 2h0m0 1h0m0 1h0m0 1h0m0 2h0m0 4h0m0 3h0m0 1h0m0 1h0m0 1h0m0 3h0m0 2h0m0 1h0m0 1h0m0 1h0m0 2h0m0 2h0m0 2h0m0 1h0m0 3h0m0 5h0m0 1h0m0 2h0m0 4h0m0 6h0m1-78h0m0 1h0m0 6h0m0 1h0m0 1h0m0 1h0m0 10h0m0 2h0m0 2h0m0 1h0m0 1h0m0 1h0m0 1h0m0 2h0m0 1h0m0 1h0m0 4h0m0 1h0m0 1h0m0 2h0m0 2h0m0 2h0m0 3h0m0 2h0m0 2h0m0 1h0m0 2h0m0 1h0m0 2h0m0 8h0m0 2h0m0 1h0m0 11h0m1-102h0m0 9h0m0 21h0m0 6h0m0 3h0m0 2h0m0 6h0m0 3h0m0 1h0m0 3h0m0 2h0m0 2h0m0 1h0m0 2h0m0 1h0m0 1h0m0 1h0m0 1h0m0 1h0m0 1h0m0 1h0m0 5h0m0 1h0m0 1h0m0 2h0m0 3h0m0 2h0m0 3h0m0 45h0m1-141h0m0 39h0m0 2h0m0 8h0m0 3h0m0 1h0m0 3h0m0 1h0m0 9h0m0 6h0m0 2h0m0 5h0m0 2h0m0 1h0m0 4h0m0 2h0m0 1h0m0 4h0m0 1h0m0 1h0m0 20h0m1-86h0m0 5h0m0 10h0m0 7h0m0 1h0m0 3h0m0 2h0m0 1h0m0 4h0m0 2h0m0 4h0m0 2h0m0 1h0m0 3h0m0 1h0m0 2h0m0 2h0m0 2h0m0 1h0m0 1h0m0 1h0m0 2h0m0 11h0m0 8h0m1-80h0m0 15h0m0 2h0m0 5h0m0 1h0m0 2h0m0 2h0m0 8h0m0 4h0m0 1h0m0 4h0m0 1h0m0 2h0m0 2h0m0 2h0m0 1h0m0 3h0m0 2h0m0 1h0m0 3h0m0 2h0m0 2h0m0 2h0m0 1h0m0 2h0m0 1h0m0 1h0m0 11h0m0 1h0m0 1h0m1-77h0m0 6h0m0 3h0m0 3h0m0 2h0m0 8h0m0 1h0m0 1h0m0 1h0m0 2h0m0 1h0m0 2h0m0 1h0m0 3h0m0 2h0m0 2h0m0 3h0m0 1h0m0 3h0m0 2h0m0 3h0m0 3h0m0 3h0m0 1h0m0 18h0m1-65h0m0 1h0m0 1h0m0 6h0m0 1h0m0 2h0m0 3h0m0 1h0m0 1h0m0 5h0m0 4h0m0 3h0m0 3h0m0 3h0m0 1h0m0 1h0m0 1h0m0 1h0m0 5h0m0 2h0m0 9h0m0 1h0m0 13h0m1-80h0m0 5h0m0 4h0m0 7h0m0 5h0m0 4h0m0 1h0m0 1h0m0 8h0m0 1h0m0 2h0m0 1h0m0 2h0m0 1h0m0 1h0m0 3h0m0 1h0m0 14h0m0 2h0m0 6h0m0 9h0m1-67h0m0 9h0m0 4h0m0 2h0m0 3h0m0 2h0m0 3h0m0 3h0m0 1h0m0 1h0m0 1h0m0 1h0m0 2h0m0 4h0m0 1h0m0 1h0m0 1h0m0 3h0m0 4h0m0 6h0m0 5h0m0 11h0m0 16h0m1-82h0m0 4h0m0 5h0m0 11h0m0 2h0m0 3h0m0 1h0m0 1h0m0 1h0m0 3h0m0 5h0m0 1h0m0 1h0m0 1h0m0 1h0m0 8h0m0 3h0m0 3h0m0 25h0m1-92h0m0 4h0m0 12h0m0 4h0m0 6h0m0 8h0m0 1h0m0 5h0m0 1h0m0 6h0m0 1h0m0 5h0m0 5h0m0 2h0m1-74h0m0 28h0m0 3h0m0 1h0m0 3h0m0 2h0m0 3h0m0 2h0m0 2h0m0 5h0m0 5h0m0 2h0m0 3h0m0 2h0m0 1h0m0 2h0m0 2h0m0 3h0m0 2h0m0 2h0m0 1h0m0 2h0m0 4h0m0 3h0m0 2h0m0 5h0m1-88h0m0 9h0m0 6h0m0 7h0m0 5h0m0 17h0m0 2h0m0 1h0m0 2h0m0 1h0m0 2h0m0 1h0m0 5h0m0 2h0m0 2h0m0 3h0m0 2h0m0 1h0m0 6h0m0 10h0m1-74h0m0 1h0m0 5h0m0 12h0m0 10h0m0 3h0m0 4h0m0 7h0m0 3h0m0 2h0m0 1h0m0 2h0m0 4h0m0 4h0m0 3h0m0 2h0m0 6h0m0 7h0m1-111h0m0 39h0m0 14h0m0 3h0m0 5h0m0 13h0m0 9h0m0 6h0m0 1h0m0 6h0m0 1h0m0 3h0m0 4h0m0 1h0m0 1h0m1-85h0m0 24h0m0 7h0m0 2h0m0 1h0m0 11h0m0 4h0m0 5h0m0 2h0m0 2h0m0 5h0m0 1h0m0 1h0m0 2h0m1-62h0m0 10h0m0 12h0m0 4h0m0 2h0m0 12h0m0 2h0m0 1h0m0 5h0m0 4h0m0 1h0m0 6h0m0 2h0m0 6h0m0 10h0m0 4h0m1-70h0m0 2h0m0 13h0m0 3h0m0 9h0m0 5h0m0 4h0m0 11h0m0 4h0m0 16h0m1-115h0m0 32h0m0 18h0m0 14h0m0 18h0m0 10h0m0 5h0m0 2h0m0 1h0m0 4h0m0 4h0m0 4h0m0 9h0m1-56h0m0 3h0m0 4h0m0 3h0m0 10h0m0 5h0m0 5h0m0 1h0m0 1h0m0 12h0m0 6h0m0 5h0m0 4h0m0 19h0m1-129h0m0 20h0m0 31h0m0 10h0m0 6h0m0 24h0m1-51h0m0 2h0m0 7h0m0 2h0m0 5h0m0 3h0m0 29h0m0 5h0m0 12h0m1-125h0m0 14h0m0 32h0m0 2h0m0 8h0m0 1h0m0 8h0m0 1h0m0 1h0m0 3h0m0 1h0m0 3h0m0 4h0m0 1h0m0 24h0m0 2h0m1-64h0m0 7h0m0 3h0m0 12h0m0 5h0m0 12h0m0 16h0m0 1h0m0 2h0m0 4h0m0 3h0m0 1h0m0 19h0m1-92h0m0 8h0m0 17h0m0 13h0m0 3h0m0 2h0m0 20h0m0 3h0m0 9h0m0 26h0m1-93h0m0 9h0m0 3h0m0 16h0m0 6h0m0 8h0m0 31h0m0 5h0m0 9h0m1-85h0m0 5h0m0 2h0m0 16h0m0 9h0m0 6h0m0 18h0m0 9h0m0 5h0m1-66h0m0 3h0m0 26h0m0 4h0m0 8h0m0 1h0m0 25h0m0 21h0m1-97h0m0 11h0m0 4h0m0 4h0m0 9h0m0 2h0m0 25h0m0 20h0m0 1h0m0 14h0m1-90h0m0 1h0m0 11h0m0 20h0m0 6h0m0 30h0m1-60h0m0 7h0m0 4h0m0 8h0m0 15h0m0 3h0m0 1h0m0 15h0m1-78h0m0 38h0m0 27h0m1-77h0m0 7h0m0 26h0m0 2h0m0 25h0m0 44h0m0 9h0m1-76h0m0 39h0m0 6h0m0 8h0m1-47h0m0 10h0m0 9h0m0 7h0m0 11h0m0 3h0m1-68h0m0 7h0m0 7h0m0 14h0m0 3h0m0 12h0m0 73h0m1-127h0m0 32h0m0 13h0m0 1h0m0 50h0m1-72h0m0 3h0m0 5h0m0 3h0m0 9h0m0 3h0m1-28h0m0 2h0m0 16h0m0 11h0m0 1h0m0 16h0m0 19h0m1-71h0m0 9h0m0 4h0m0 4h0m0 8h0m0 13h0m0 3h0m0 117h0m1-164h0m0 4h0m0 3h0m0 7h0m0 13h0m0 11h0m1-42h0m0 1h0m0 12h0m0 9h0m0 3h0m0 3h0m0 30h0m1-34h0m0 25h0m0 1h0m0 20h0m0 1h0m1-87h0m0 22h0m0 3h0m0 4h0m0 2h0m0 4h0m0 3h0m0 13h0m0 2h0m0 3h0m0 3h0m1-21h0m0 7h0m0 4h0m0 3h0m0 22h0m0 54h0m1-97h0m0 23h0m0 9h0m0 8h0m0 30h0m0 6h0m0 37h0m1-124h0m0 20h0m0 32h0m1-43h0m0 20h0m0 13h0m1-19h0m0 1h0m0 9h0m0 1h0m1-36h0m0 34h0m0 4h0m0 16h0m0 26h0m0 10h0m1-73h0m0 7h0m0 19h0m1-66h0m0 15h0m0 14h0m0 14h0m0 3h0m0 84h0m1-106h0m0 10h0m0 5h0m0 26h0m1-34h0m0 25h0m0 34h0m0 8h0m1-104h0m0 33h0m0 14h0m0 14h0m0 19h0m0 8h0m0 13h0m1-119h0m0 37h0m0 15h0m0 23h0m0 6h0m0 3h0m0 29h0m1-80h0m0 23h0m0 6h0m0 6h0m0 26h0m0 5h0m1-76h0m0 28h0m0 2h0m0 15h0m0 17h0m0 1h0m0 9h0m0 21h0m0 2h0m0 16h0m1-59h0m0 37h0m1-79h0m0 15h0m0 17h0m0 7h0m0 7h0m0 2h0m0 68h0m1-94h0m1-23h0m1 19h0m0 15h0m0 60h0m1-78h0m0 23h0m0 65h0m1-89h0m0 9h0m0 10h0m0 4h0m0 8h0m1-16h0m0 6h0m0 5h0m0 9h0m0 16h0m0 40h0m0 1h0m0 27h0m1-97h0m0 4h0m1 24h0m0 46h0m0 4h0m1-96h0m1 64h0m0 31h0m0 8h0m1-97h0m0 3h0m0 1h0m0 16h0m0 18h0m1-40h0m0 1h0m0 45h0m0 71h0m1-78h0m1-91h0m0 42h0m2 65h0m0 124h0m1-192h0m0 26h0m0 45h0m1 29h0m1 78h0m1-90h0m1-14h0m0 7h0m0 2h0m0 7h0m0 28h0m1-97h0m0 51h0m0 9h0m1-86h0m1 47h0m1-54h0m0 30h0m0 14h0m0 39h0m1 112h0m1-200h0m0 21h0m1 81h0m1-72h0m0 30h0m1 22h0m0 21h0m0 7h0m1-106h0m0 98h0m1 16h0m1 85h0m0 7h0m1-230h0m0 25h0m0 33h0m0 69h0m0 104h0m1-216h0m1 53h0m2 46h0m1-28h0m0 40h0m4 13h0m1 91h0m1-80h0m0 24h0m1-151h0m1 116h0m3-13h0m0 20h0m0 81h0m1-156h0m0 23h0m0 58h0m0 9h0m0 52h0m1-211h0m1 118h0m1-86h0m0 22h0m3 20h0m0 71h0m1 11h0m0 4h0m2-71h0m1-19h0m1 135h0m1-113h0m0 116h0m1-141h0m0 68h0m2 31h0m5-106h0m1 61h0m0 19h0m0 15h0m2 37h0m4-163h0m7-33h0m6 232h0m2-1h0m18 1h0"/>
<path d="M95 -146h0m1 35h0m1-12h0m0 16h0m1-1h0m1-29h0m2-7h0m0 8h0m0 17h0m1-20h0m1-6h0m0 19h0m1 38h0m1-84h0m0 43h0m0 3h0m0 6h0m0 44h0m1-59h0m1-8h0m0 12h0m0 4h0m0 40h0m1-66h0m0 23h0m0 25h0m1-33h0m0 28h0m0 6h0m1-52h0m0 26h0m1-29h0m0 30h0m0 2h0m0 15h0m1-34h0m0 3h0m0 21h0m0 14h0m0 1h0m0 3h0m1-50h0m0 10h0m0 14h0m0 6h0m0 1h0m0 8h0m0 1h0m0 1h0m0 2h0m0 11h0m1-35h0m0 9h0m0 3h0m0 10h0m0 6h0m0 1h0m0 5h0m1-67h0m0 21h0m0 7h0m0 11h0m0 5h0m0 2h0m0 4h0m0 5h0m0 6h0m0 12h0m0 9h0m0 5h0m1-70h0m0 2h0m0 5h0m0 3h0m0 6h0m0 1h0m0 10h0m0 2h0m0 5h0m0 6h0m0 1h0m0 8h0m0 6h0m1-63h0m0 11h0m0 10h0m0 1h0m0 7h0m0 1h0m0 6h0m0 1h0m0 1h0m0 4h0m0 1h0m0 3h0m0 2h0m0 2h0m0 4h0m0 15h0m0 8h0m1-102h0m0 33h0m0 1h0m0 7h0m0 3h0m0 3h0m0 6h0m0 3h0m0 5h0m0 2h0m0 2h0m0 2h0m0 3h0m0 1h0m0 3h0m0 4h0m0 2h0m1-49h0m0 7h0m0 1h0m0 2h0m0 6h0m0 5h0m0 3h0m0 1h0m0 1h0m0 1h0m0 1h0m0 1h0m0 1h0m0 1h0m0 2h0m0 5h0m0 8h0m0 1h0m0 1h0m0 1h0m0 12h0m1-68h0m0 17h0m0 6h0m0 2h0m0 1h0m0 1h0m0 2h0m0 4h0m0 3h0m0 2h0m0 5h0m0 3h0m0 8h0m0 33h0m1-86h0m0 6h0m0 2h0m0 11h0m0 1h0m0 5h0m0 2h0m0 3h0m0 1h0m0 4h0m0 2h0m0 2h0m0 1h0m0 2h0m0 1h0m0 5h0m0 1h0m0 2h0m0 1h0m0 2h0m0 2h0m0 33h0m1-65h0m0 1h0m0 3h0m0 1h0m0 2h0m0 1h0m0 1h0m0 2h0m0 1h0m0 1h0m0 1h0m0 1h0m0 3h0m0 3h0m0 7h0m0 7h0m0 2h0m0 14h0m1-86h0m0 19h0m0 5h0m0 1h0m0 6h0m0 3h0m0 3h0m0 4h0m0 6h0m0 1h0m0 3h0m0 8h0m0 4h0m0 5h0m0 1h0m0 3h0m0 1h0m0 1h0m0 3h0m0 5h0m0 11h0m1-84h0m0 10h0m0 6h0m0 2h0m0 1h0m0 1h0m0 2h0m0 1h0m0 1h0m0 2h0m0 3h0m0 1h0m0 2h0m0 1h0m0 5h0m0 3h0m0 2h0m0 1h0m0 2h0m0 13h0m0 1h0m0 22h0m1-70h0m0 2h0m0 2h0m0 2h0m0 1h0m0 1h0m0 1h0m0 5h0m0 1h0m0 2h0m0 1h0m0 1h0m0 1h0m0 4h0m0 1h0m0 1h0m0 1h0m0 2h0m0 1h0m0 1h0m0 3h0m0 1h0m0 2h0m0 4h0m0 3h0m0 1h0m0 2h0m0 3h0m0 3h0m0 9h0m0 6h0m1-86h0m0 7h0m0 8h0m0 1h0m0 2h0m0 1h0m0 5h0m0 2h0m0 2h0m0 1h0m0 1h0m0 4h0m0 1h0m0 1h0m0 1h0m0 3h0m0 2h0m0 1h0m0 2h0m0 1h0m0 1h0m0 2h0m0 1h0m0 1h0m0 2h0m0 1h0m0 1h0m0 3h0m0 1h0m0 2h0m0 3h0m0 2h0m0 1h0m0 3h0m0 2h0m0 28h0m1-86h0m0 1h0m0 1h0m0 1h0m0 6h0m0 1h0m0 3h0m0 1h0m0 1h0m0 2h0m0 1h0m0 1h0m0 1h0m0 2h0m0 2h0m0 2h0m0 7h0m0 1h0m0 3h0m0 3h0m0 1h0m0 1h0m0 1h0m0 2h0m0 1h0m0 1h0m0 1h0m0 1h0m0 1h0m0 1h0m0 17h0m0 8h0m1-83h0m0 1h0m0 18h0m0 3h0m0 1h0m0 3h0m0 3h0m0 1h0m0 2h0m0 1h0m0 1h0m0 1h0m0 1h0m0 1h0m0 3h0m0 2h0m0 2h0m0 1h0m0 2h0m0 2h0m0 3h0m0 2h0m0 1h0m0 3h0m0 4h0m0 2h0m0 2h0m1-79h0m0 23h0m0 3h0m0 3h0m0 2h0m0 2h0m0 1h0m0 1h0m0 1h0m0 1h0m0 1h0m0 3h0m0 1h0m0 4h0m0 1h0m0 2h0m0 1h0m0 1h0m0 1h0m0 2h0m0 2h0m0 2h0m0 1h0m0 1h0m0 1h0m0 1h0m0 1h0m0 1h0m0 1h0m0 1h0m0 1h0m0 4h0m0 2h0m0 3h0m0 1h0m0 1h0m0 2h0m0 9h0m1-86h0m0 3h0m0 19h0m0 4h0m0 7h0m0 1h0m0 3h0m0 3h0m0 1h0m0 1h0m0 2h0m0 2h0m0 3h0m0 2h0m0 1h0m0 2h0m0 1h0m0 5h0m0 1h0m0 1h0m0 3h0m0 2h0m0 1h0m0 1h0m0 1h0m0 6h0m0 2h0m0 1h0m0 2h0m0 2h0m0 1h0m0 4h0m0 6h0m0 3h0m1-72h0m0 3h0m0 1h0m0 1h0m0 2h0m0 7h0m0 3h0m0 1h0m0 1h0m0 1h0m0 2h0m0 1h0m0 3h0m0 1h0m0 1h0m0 1h0m0 1h0m0 1h0m0 1h0m0 2h0m0 1h0m0 2h0m0 2h0m0 1h0m0 1h0m0 1h0m0 3h0m0 2h0m0 2h0m0 2h0m0 1h0m0 5h0m0 8h0m1-85h0m0 13h0m0 8h0m0 1h0m0 1h0m0 2h0m0 1h0m0 1h0m0 5h0m0 1h0m0 2h0m0 2h0m0 3h0m0 1h0m0 1h0m0 1h0m0 3h0m0 4h0m0 2h0m0 1h0m0 1h0m0 1h0m0 1h0m0 1h0m0 2h0m0 1h0m0 1h0m0 1h0m0 1h0m0 1h0m0 5h0m0 3h0m0 7h0m0 2h0m1-73h0m0 9h0m0 14h0m0 2h0m0 2h0m0 2h0m0 3h0m0 2h0m0 1h0m0 1h0m0 1h0m0 3h0m0 2h0m0 1h0m0 1h0m0 1h0m0 1h0m0 1h0m0 1h0m0 1h0m0 1h0m0 4h0m0 3h0m0 1h0m0 5h0m0 3h0m0 1h0m0 10h0m1-70h0m0 3h0m0 4h0m0 1h0m0 4h0m0 1h0m0 3h0m0 2h0m0 3h0m0 3h0m0 1h0m0 1h0m0 1h0m0 1h0m0 1h0m0 2h0m0 1h0m0 2h0m0 1h0m0 1h0m0 1h0m0 1h0m0 1h0m0 1h0m0 2h0m0 1h0m0 1h0m0 2h0m0 1h0m0 3h0m0 3h0m0 1h0m0 3h0m0 13h0m0 6h0m1-72h0m0 1h0m0 2h0m0 2h0m0 3h0m0 2h0m0 1h0m0 1h0m0 3h0m0 4h0m0 1h0m0 1h0m0 5h0m0 1h0m0 2h0m0 3h0m0 1h0m0 1h0m0 3h0m0 1h0m0 2h0m0 1h0m0 1h0m0 1h0m0 2h0m0 4h0m0 2h0m0 1h0m0 4h0m0 1h0m0 6h0m0 1h0m0 20h0m1-110h0m0 12h0m0 4h0m0 9h0m0 3h0m0 4h0m0 1h0m0 1h0m0 1h0m0 1h0m0 1h0m0 3h0m0 1h0m0 2h0m0 1h0m0 1h0m0 1h0m0 1h0m0 3h0m0 2h0m0 2h0m0 1h0m0 2h0m0 1h0m0 1h0m0 4h0m0 3h0m0 1h0m0 4h0m0 12h0m0 7h0m0 17h0m1-95h0m0 8h0m0 1h0m0 1h0m0 8h0m0 4h0m0 2h0m0 4h0m0 1h0m0 1h0m0 2h0m0 1h0m0 1h0m0 4h0m0 1h0m0 2h0m0 1h0m0 1h0m0 1h0m0 2h0m0 3h0m0 1h0m0 1h0m0 1h0m0 2h0m0 1h0m0 1h0m0 1h0m0 2h0m0 1h0m0 1h0m0 1h0m0 1h0m0 3h0m0 9h0m0 1h0m0 31h0m1-119h0m0 10h0m0 14h0m0 10h0m0 4h0m0 3h0m0 1h0m0 1h0m0 3h0m0 5h0m0 2h0m0 1h0m0 1h0m0 1h0m0 3h0m0 2h0m0 2h0m0 1h0m0 2h0m0 2h0m0 1h0m0 3h0m0 1h0m0 1h0m0 3h0m0 1h0m0 2h0m0 5h0m0 1h0m0 4h0m0 1h0m1-85h0m0 16h0m0 2h0m0 3h0m0 2h0m0 5h0m0 3h0m0 1h0m0 3h0m0 1h0m0 2h0m0 4h0m0 2h0m0 2h0m0 2h0m0 2h0m0 2h0m0 1h0m0 2h0m0 3h0m0 1h0m0 1h0m0 1h0m0 1h0m0 1h0m0 2h0m0 3h0m0 1h0m0 2h0m0 2h0m0 1h0m0 8h0m0 4h0m1-73h0m0 1h0m0 11h0m0 1h0m0 1h0m0 9h0m0 2h0m0 3h0m0 1h0m0 2h0m0 1h0m0 1h0m0 1h0m0 1h0m0 2h0m0 4h0m0 1h0m0 2h0m0 1h0m0 5h0m0 4h0m0 2h0m0 1h0m0 2h0m0 1h0m0 4h0m0 2h0m0 8h0m0 3h0m1-76h0m0 8h0m0 3h0m0 1h0m0 2h0m0 2h0m0 2h0m0 2h0m0 2h0m0 1h0m0 3h0m0 2h0m0 1h0m0 2h0m0 5h0m0 1h0m0 1h0m0 5h0m0 1h0m0 1h0m0 1h0m0 2h0m0 1h0m0 3h0m0 4h0m0 1h0m0 6h0m0 3h0m0 2h0m0 1h0m0 34h0m1-119h0m0 26h0m0 2h0m0 5h0m0 5h0m0 2h0m0 1h0m0 2h0m0 2h0m0 5h0m0 3h0m0 2h0m0 1h0m0 2h0m0 1h0m0 1h0m0 1h0m0 1h0m0 2h0m0 1h0m0 1h0m0 3h0m0 1h0m0 1h0m0 1h0m0 1h0m0 3h0m0 6h0m0 3h0m0 9h0m0 6h0m0 13h0m1-108h0m0 10h0m0 4h0m0 4h0m0 8h0m0 2h0m0 1h0m0 1h0m0 1h0m0 3h0m0 2h0m0 1h0m0 3h0m0 1h0m0 2h0m0 3h0m0 1h0m0 4h0m0 1h0m0 1h0m0 3h0m0 4h0m0 6h0m0 2h0m0 1h0m0 1h0m0 9h0m0 2h0m1-108h0m0 41h0m0 2h0m0 5h0m0 2h0m0 7h0m0 3h0m0 2h0m0 1h0m0 1h0m0 1h0m0 1h0m0 2h0m0 1h0m0 2h0m0 1h0m0 3h0m0 1h0m0 1h0m0 1h0m0 3h0m0 3h0m0 1h0m0 1h0m0 1h0m0 3h0m0 1h0m0 1h0m0 1h0m0 1h0m0 3h0m0 1h0m0 3h0m0 1h0m0 2h0m0 14h0m1-72h0m0 3h0m0 2h0m0 3h0m0 2h0m0 2h0m0 2h0m0 2h0m0 1h0m0 1h0m0 3h0m0 4h0m0 1h0m0 1h0m0 1h0m0 2h0m0 2h0m0 2h0m0 1h0m0 1h0m0 1h0m0 1h0m0 1h0m0 2h0m0 2h0m0 1h0m0 7h0m0 4h0m0 3h0m0 2h0m0 1h0m1-95h0m0 8h0m0 26h0m0 2h0m0 1h0m0 3h0m0 2h0m0 1h0m0 5h0m0 2h0m0 2h0m0 8h0m0 2h0m0 2h0m0 1h0m0 1h0m0 4h0m0 1h0m0 1h0m0 2h0m0 1h0m0 4h0m0 2h0m0 2h0m0 1h0m0 2h0m0 1h0m0 10h0m0 7h0m1-74h0m0 6h0m0 4h0m0 12h0m0 1h0m0 6h0m0 3h0m0 1h0m0 1h0m0 3h0m0 3h0m0 6h0m0 1h0m0 5h0m0 1h0m0 1h0m0 4h0m1-91h0m0 39h0m0 2h0m0 12h0m0 2h0m0 2h0m0 5h0m0 2h0m0 3h0m0 2h0m0 1h0m0 1h0m0 2h0m0 2h0m0 6h0m0 2h0m0 3h0m0 1h0m0 5h0m0 9h0m1-51h0m0 1h0m0 5h0m0 1h0m0 7h0m0 2h0m0 3h0m0 5h0m0 6h0m0 1h0m0 3h0m0 2h0m0 27h0m1-89h0m0 9h0m0 1h0m0 2h0m0 4h0m0 1h0m0 3h0m0 2h0m0 1h0m0 2h0m0 12h0m0 1h0m0 1h0m0 1h0m0 5h0m0 1h0m0 5h0m0 2h0m0 1h0m0 1h0m1-60h0m0 13h0m0 16h0m0 1h0m0 7h0m0 7h0m0 2h0m0 2h0m0 6h0m0 4h0m0 5h0m0 5h0m0 2h0m0 4h0m0 6h0m0 7h0m1-92h0m0 11h0m0 1h0m0 1h0m0 5h0m0 14h0m0 5h0m0 9h0m0 5h0m0 4h0m0 2h0m0 2h0m0 4h0m0 2h0m0 1h0m0 1h0m0 2h0m0 11h0m0 2h0m0 2h0m0 23h0m1-87h0m0 3h0m0 9h0m0 9h0m0 1h0m0 2h0m0 2h0m0 2h0m0 4h0m0 3h0m0 3h0m0 1h0m0 1h0m0 1h0m0 4h0m0 3h0m0 1h0m0 3h0m0 10h0m0 1h0m1-78h0m0 8h0m0 6h0m0 10h0m0 3h0m0 3h0m0 3h0m0 6h0m0 8h0m0 10h0m0 1h0m0 2h0m0 12h0m0 8h0m1-72h0m0 8h0m0 5h0m0 10h0m0 9h0m0 4h0m0 5h0m0 6h0m0 4h0m0 1h0m0 18h0m0 7h0m0 34h0m1-115h0m0 11h0m0 6h0m0 6h0m0 9h0m0 10h0m0 5h0m0 1h0m0 2h0m0 1h0m0 8h0m0 9h0m0 9h0m0 5h0m1-97h0m0 28h0m0 3h0m0 19h0m0 8h0m0 3h0m0 3h0m0 13h0m0 12h0m0 6h0m0 24h0m1-134h0m0 36h0m0 3h0m0 3h0m0 4h0m0 9h0m0 3h0m0 15h0m0 1h0m0 1h0m0 2h0m0 12h0m0 14h0m1-90h0m0 9h0m0 16h0m0 4h0m0 1h0m0 17h0m0 3h0m0 2h0m0 1h0m0 12h0m0 1h0m0 2h0m1-79h0m0 43h0m0 31h0m0 5h0m0 5h0m0 11h0m0 5h0m1-99h0m0 9h0m0 17h0m0 8h0m0 1h0m0 20h0m0 13h0m0 10h0m0 6h0m0 30h0m0 2h0m1-82h0m0 3h0m0 7h0m0 12h0m1-52h0m0 19h0m0 25h0m0 3h0m0 1h0m0 6h0m0 1h0m0 9h0m0 26h0m0 9h0m1-93h0m0 21h0m0 15h0m0 10h0m0 19h0m0 3h0m0 4h0m0 6h0m1-42h0m0 15h0m0 1h0m1-48h0m0 4h0m0 3h0m0 7h0m0 40h0m0 10h0m1-55h0m0 11h0m0 14h0m0 27h0m0 2h0m0 22h0m0 16h0m1-90h0m0 1h0m0 9h0m0 3h0m0 9h0m1-36h0m0 11h0m0 20h0m0 10h0m0 6h0m0 8h0m0 27h0m1-111h0m0 2h0m0 15h0m0 8h0m0 14h0m0 3h0m0 25h0m0 3h0m0 15h0m1-66h0m0 11h0m0 6h0m0 16h0m1-27h0m0 10h0m0 16h0m0 4h0m0 10h0m0 5h0m0 12h0m0 27h0m0 9h0m1-94h0m0 18h0m0 3h0m0 3h0m0 4h0m0 1h0m1-32h0m0 10h0m0 2h0m0 17h0m0 19h0m1-64h0m0 11h0m0 15h0m0 6h0m0 2h0m0 10h0m0 43h0m0 6h0m1-75h0m0 20h0m0 7h0m0 40h0m1-55h0m0 2h0m0 3h0m0 5h0m0 12h0m1-30h0m0 30h0m0 31h0m0 4h0m1-88h0m0 12h0m0 28h0m0 2h0m0 1h0m0 11h0m0 6h0m0 14h0m0 6h0m0 11h0m1-55h0m0 4h0m0 6h0m0 17h0m0 38h0m0 6h0m1-89h0m0 6h0m0 4h0m0 2h0m0 14h0m0 1h0m0 12h0m0 5h0m0 41h0m1-87h0m0 1h0m0 11h0m0 8h0m0 4h0m0 12h0m0 5h0m0 3h0m1-50h0m0 23h0m0 1h0m0 2h0m0 25h0m1-43h0m0 21h0m0 19h0m1 30h0m0 56h0m1-131h0m0 15h0m0 5h0m0 12h0m0 3h0m1-36h0m0 8h0m0 12h0m0 5h0m0 4h0m0 48h0m1-57h0m0 13h0m0 1h0m0 5h0m0 59h0m1-95h0m0 2h0m0 1h0m0 18h0m1-20h0m0 13h0m0 4h0m0 8h0m1-21h0m0 19h0m0 6h0m0 18h0m0 1h0m1-37h0m0 13h0m0 16h0m1-39h0m0 8h0m1-17h0m0 14h0m0 14h0m0 2h0m0 2h0m0 12h0m1-35h0m0 27h0m0 43h0m0 33h0m1-97h0m0 1h0m1-15h0m0 22h0m0 3h0m0 3h0m1-16h0m0 11h0m0 7h0m1-14h0m0 5h0m0 15h0m0 38h0m1-51h0m1 12h0m0 1h0m0 9h0m1-67h0m0 3h0m0 34h0m0 9h0m0 8h0m0 7h0m0 20h0m0 6h0m1-56h0m1-19h0m0 78h0m1-76h0m0 14h0m0 36h0m0 7h0m1-56h0m1 9h0m0 19h0m1-20h0m0 2h0m0 26h0m0 17h0m0 36h0m2-56h0m0 25h0m1-24h0m1-31h0m1 0h0m0 3h0m0 71h0m0 12h0m0 18h0m0 17h0m1-104h0m0 9h0m0 74h0m0 19h0m0 29h0m1-149h0m0 3h0m0 179h0m1-144h0m1 44h0m0 73h0m1-172h0m1 146h0m1-91h0m0 146h0m1-97h0m0 66h0m1-83h0m1 11h0m0 11h0m0 3h0m1 18h0m1-102h0m1 48h0m0 6h0m1 13h0m0 106h0m1-112h0m1-56h0m1-12h0m0 8h0m0 61h0m1-49h0m1 71h0m1 82h0m1-147h0m0 3h0m0 3h0m1-3h0m0 42h0m1-83h0m2 90h0m0 47h0m1-82h0m1-30h0m0 53h0m1 14h0m0 47h0m0 55h0m1-131h0m0 1h0m1-1h0m4-59h0m1 43h0m1 13h0m0 18h0m6-55h0m0 108h0m5-63h0m0 79h0m1-134h0m0 190h0m1-177h0m0 40h0m3 6h0m0 18h0m1-79h0m0 75h0m2-114h0m0 85h0m3-22h0m1-39h0m3 132h0m0 43h0m1-138h0m1 67h0m2 103h0m10-207h0m1-51h0"/>
<path d="M89 -110h0m3-31h0m1 12h0m0 11h0m4 21h0m2 25h0m1-51h0m1-29h0m0 24h0m1 5h0m1-43h0m0 42h0m1 6h0m0 2h0m0 12h0m1-54h0m0 11h0m0 7h0m0 17h0m0 22h0m0 9h0m0 20h0m1-48h0m1-12h0m0 2h0m1-40h0m0 33h0m0 6h0m1-7h0m0 2h0m0 34h0m1-45h0m0 8h0m0 13h0m0 33h0m1-55h0m0 2h0m0 2h0m0 2h0m0 1h0m0 2h0m0 8h0m0 16h0m0 7h0m1-53h0m0 24h0m0 4h0m0 6h0m0 2h0m0 9h0m0 14h0m0 11h0m1-49h0m0 5h0m0 6h0m0 7h0m0 2h0m0 7h0m0 1h0m0 1h0m0 11h0m1-64h0m0 11h0m0 13h0m0 5h0m0 6h0m0 1h0m0 7h0m0 2h0m0 4h0m0 1h0m0 7h0m0 2h0m0 10h0m0 6h0m1-51h0m0 4h0m0 14h0m0 3h0m1-33h0m0 8h0m0 1h0m0 3h0m0 4h0m0 8h0m0 11h0m0 3h0m0 2h0m1-52h0m0 15h0m0 11h0m0 3h0m0 6h0m0 6h0m0 2h0m0 6h0m0 1h0m0 10h0m0 7h0m0 5h0m1-47h0m0 4h0m0 3h0m0 1h0m0 5h0m0 3h0m0 14h0m0 13h0m0 9h0m1-59h0m0 6h0m0 3h0m0 1h0m0 6h0m0 4h0m0 1h0m0 1h0m0 6h0m0 3h0m0 3h0m0 1h0m0 3h0m0 1h0m0 1h0m0 10h0m0 3h0m1-56h0m0 6h0m0 3h0m0 9h0m0 4h0m0 1h0m0 1h0m0 4h0m0 6h0m0 6h0m0 3h0m0 2h0m0 14h0m0 3h0m1-92h0m0 18h0m0 2h0m0 5h0m0 11h0m0 2h0m0 1h0m0 2h0m0 1h0m0 1h0m0 4h0m0 1h0m0 1h0m0 5h0m0 2h0m0 1h0m0 5h0m0 2h0m0 1h0m0 2h0m0 3h0m0 6h0m0 2h0m0 1h0m0 4h0m0 4h0m0 5h0m0 4h0m1-66h0m0 2h0m0 1h0m0 3h0m0 7h0m0 4h0m0 1h0m0 1h0m0 1h0m0 2h0m0 1h0m0 2h0m0 1h0m0 2h0m0 1h0m0 1h0m0 3h0m0 1h0m0 1h0m0 1h0m0 1h0m0 1h0m0 5h0m0 3h0m0 7h0m1-59h0m0 5h0m0 7h0m0 2h0m0 1h0m0 2h0m0 2h0m0 1h0m0 6h0m0 4h0m0 3h0m0 1h0m0 1h0m0 1h0m0 3h0m0 1h0m0 1h0m0 2h0m0 1h0m0 6h0m0 2h0m0 5h0m0 6h0m0 25h0m1-90h0m0 4h0m0 1h0m0 5h0m0 1h0m0 3h0m0 2h0m0 1h0m0 6h0m0 4h0m0 1h0m0 2h0m0 1h0m0 1h0m0 2h0m0 4h0m0 1h0m0 4h0m0 2h0m0 2h0m0 1h0m0 5h0m0 3h0m0 1h0m0 3h0m0 2h0m0 14h0m1-76h0m0 6h0m0 5h0m0 2h0m0 3h0m0 1h0m0 3h0m0 3h0m0 1h0m0 1h0m0 2h0m0 3h0m0 3h0m0 4h0m0 1h0m0 1h0m0 1h0m0 1h0m0 1h0m0 1h0m0 4h0m0 7h0m0 1h0m0 8h0m0 1h0m0 1h0m0 1h0m0 1h0m0 6h0m1-72h0m0 5h0m0 9h0m0 2h0m0 4h0m0 2h0m0 4h0m0 3h0m0 2h0m0 2h0m0 3h0m0 1h0m0 1h0m0 3h0m0 3h0m0 1h0m0 1h0m0 4h0m0 2h0m0 1h0m0 6h0m0 5h0m1-73h0m0 3h0m0 9h0m0 11h0m0 8h0m0 2h0m0 3h0m0 1h0m0 1h0m0 1h0m0 3h0m0 4h0m0 3h0m0 2h0m0 7h0m0 2h0m0 2h0m0 3h0m0 4h0m0 2h0m0 2h0m0 9h0m1-84h0m0 1h0m0 9h0m0 5h0m0 2h0m0 5h0m0 5h0m0 1h0m0 1h0m0 3h0m0 1h0m0 1h0m0 1h0m0 3h0m0 2h0m0 7h0m0 4h0m0 3h0m0 1h0m0 2h0m0 1h0m0 2h0m0 2h0m0 1h0m0 3h0m0 1h0m0 3h0m0 1h0m0 4h0m1-56h0m0 5h0m0 3h0m0 3h0m0 2h0m0 6h0m0 3h0m0 5h0m0 1h0m0 3h0m0 1h0m0 1h0m0 1h0m0 1h0m0 1h0m0 4h0m0 3h0m0 3h0m0 3h0m0 4h0m0 1h0m0 9h0m1-120h0m0 32h0m0 7h0m0 2h0m0 9h0m0 2h0m0 7h0m0 7h0m0 6h0m0 2h0m0 1h0m0 2h0m0 2h0m0 1h0m0 3h0m0 1h0m0 2h0m0 1h0m0 1h0m0 1h0m0 1h0m0 3h0m0 1h0m0 2h0m0 1h0m0 1h0m0 1h0m0 1h0m0 1h0m0 3h0m0 6h0m0 4h0m0 18h0m1-92h0m0 5h0m0 3h0m0 2h0m0 5h0m0 9h0m0 3h0m0 1h0m0 1h0m0 1h0m0 2h0m0 1h0m0 1h0m0 1h0m0 1h0m0 1h0m0 1h0m0 4h0m0 1h0m0 1h0m0 2h0m0 1h0m0 1h0m0 1h0m0 2h0m0 1h0m0 3h0m0 3h0m0 1h0m0 2h0m0 1h0m0 5h0m0 1h0m0 2h0m0 1h0m0 4h0m0 2h0m1-75h0m0 7h0m0 7h0m0 16h0m0 1h0m0 1h0m0 1h0m0 3h0m0 1h0m0 3h0m0 1h0m0 3h0m0 1h0m0 1h0m0 1h0m0 1h0m0 4h0m0 2h0m0 4h0m0 1h0m0 1h0m0 2h0m0 4h0m0 9h0m1-65h0m0 3h0m0 1h0m0 1h0m0 6h0m0 2h0m0 2h0m0 2h0m0 2h0m0 1h0m0 3h0m0 1h0m0 1h0m0 1h0m0 1h0m0 1h0m0 1h0m0 1h0m0 1h0m0 1h0m0 2h0m0 1h0m0 3h0m0 1h0m0 1h0m0 3h0m0 1h0m0 1h0m0 2h0m0 1h0m0 1h0m0 3h0m0 2h0m0 2h0m1-86h0m0 16h0m0 6h0m0 10h0m0 3h0m0 1h0m0 4h0m0 2h0m0 1h0m0 4h0m0 2h0m0 1h0m0 1h0m0 2h0m0 1h0m0 1h0m0 1h0m0 1h0m0 2h0m0 1h0m0 3h0m0 1h0m0 1h0m0 1h0m0 2h0m0 1h0m0 3h0m0 1h0m0 2h0m0 1h0m0 7h0m0 5h0m0 3h0m0 1h0m0 8h0m0 2h0m1-67h0m0 8h0m0 2h0m0 1h0m0 3h0m0 1h0m0 1h0m0 2h0m0 1h0m0 1h0m0 1h0m0 2h0m0 1h0m0 1h0m0 1h0m0 1h0m0 2h0m0 2h0m0 1h0m0 2h0m0 1h0m0 1h0m0 4h0m0 2h0m0 1h0m0 4h0m0 1h0m0 1h0m0 1h0m0 2h0m0 1h0m0 1h0m0 1h0m0 2h0m0 4h0m0 11h0m1-102h0m0 25h0m0 1h0m0 2h0m0 7h0m0 5h0m0 3h0m0 1h0m0 1h0m0 1h0m0 2h0m0 1h0m0 2h0m0 1h0m0 2h0m0 4h0m0 2h0m0 2h0m0 1h0m0 2h0m0 1h0m0 2h0m0 2h0m0 3h0m0 1h0m0 1h0m0 1h0m0 1h0m0 4h0m0 1h0m0 2h0m0 2h0m0 3h0m0 3h0m0 3h0m0 9h0m0 20h0m1-126h0m0 18h0m0 4h0m0 10h0m0 3h0m0 8h0m0 2h0m0 1h0m0 3h0m0 2h0m0 1h0m0 1h0m0 1h0m0 1h0m0 3h0m0 2h0m0 1h0m0 2h0m0 2h0m0 1h0m0 1h0m0 1h0m0 1h0m0 2h0m0 2h0m0 2h0m0 1h0m0 4h0m0 2h0m0 7h0m0 4h0m0 6h0m0 6h0m0 5h0m1-85h0m0 14h0m0 2h0m0 3h0m0 1h0m0 1h0m0 4h0m0 1h0m0 1h0m0 1h0m0 1h0m0 1h0m0 1h0m0 1h0m0 1h0m0 2h0m0 1h0m0 1h0m0 2h0m0 4h0m0 2h0m0 1h0m0 3h0m0 1h0m0 2h0m0 1h0m0 2h0m0 2h0m0 4h0m0 4h0m0 6h0m0 3h0m1-70h0m0 1h0m0 16h0m0 1h0m0 1h0m0 2h0m0 3h0m0 2h0m0 2h0m0 1h0m0 5h0m0 1h0m0 2h0m0 1h0m0 6h0m0 7h0m0 3h0m0 3h0m0 1h0m0 1h0m0 6h0m0 3h0m0 6h0m1-85h0m0 2h0m0 14h0m0 2h0m0 2h0m0 1h0m0 2h0m0 1h0m0 1h0m0 2h0m0 2h0m0 2h0m0 1h0m0 1h0m0 3h0m0 3h0m0 1h0m0 1h0m0 1h0m0 1h0m0 1h0m0 1h0m0 2h0m0 1h0m0 1h0m0 3h0m0 2h0m0 2h0m0 1h0m0 2h0m0 1h0m0 1h0m0 1h0m0 3h0m0 2h0m0 1h0m0 3h0m0 1h0m0 3h0m0 3h0m0 1h0m0 4h0m0 4h0m1-91h0m0 22h0m0 3h0m0 5h0m0 4h0m0 1h0m0 4h0m0 2h0m0 1h0m0 2h0m0 2h0m0 3h0m0 1h0m0 1h0m0 1h0m0 3h0m0 1h0m0 2h0m0 2h0m0 1h0m0 1h0m0 6h0m0 1h0m0 3h0m0 1h0m0 1h0m0 1h0m1-71h0m0 13h0m0 1h0m0 6h0m0 2h0m0 6h0m0 5h0m0 1h0m0 1h0m0 3h0m0 2h0m0 1h0m0 2h0m0 1h0m0 2h0m0 4h0m0 2h0m0 1h0m0 1h0m0 3h0m0 2h0m0 1h0m0 1h0m0 3h0m0 6h0m0 2h0m0 2h0m0 1h0m1-50h0m0 1h0m0 2h0m0 1h0m0 3h0m0 3h0m0 1h0m0 2h0m0 1h0m0 2h0m0 3h0m0 2h0m0 3h0m0 1h0m0 3h0m0 4h0m0 1h0m0 1h0m0 6h0m0 10h0m0 7h0m1-91h0m0 26h0m0 10h0m0 2h0m0 2h0m0 2h0m0 6h0m0 3h0m0 2h0m0 1h0m0 2h0m0 1h0m0 1h0m0 1h0m0 1h0m0 1h0m0 1h0m0 2h0m0 1h0m0 6h0m0 3h0m0 2h0m0 2h0m0 2h0m0 2h0m0 4h0m0 2h0m1-79h0m0 10h0m0 11h0m0 1h0m0 4h0m0 1h0m0 1h0m0 1h0m0 2h0m0 1h0m0 3h0m0 5h0m0 7h0m0 1h0m0 2h0m0 2h0m0 1h0m0 1h0m0 2h0m0 1h0m0 1h0m0 2h0m0 1h0m0 6h0m0 1h0m0 4h0m0 11h0m0 8h0m1-99h0m0 36h0m0 3h0m0 4h0m0 2h0m0 5h0m0 1h0m0 5h0m0 5h0m0 1h0m0 4h0m0 2h0m0 3h0m0 2h0m0 3h0m0 3h0m0 1h0m0 1h0m0 17h0m1-75h0m0 5h0m0 1h0m0 3h0m0 3h0m0 5h0m0 2h0m0 2h0m0 1h0m0 1h0m0 4h0m0 4h0m0 3h0m0 1h0m0 5h0m0 4h0m0 2h0m0 1h0m0 1h0m0 6h0m0 1h0m0 1h0m0 2h0m0 2h0m0 4h0m0 35h0m1-100h0m0 2h0m0 2h0m0 6h0m0 4h0m0 10h0m0 1h0m0 6h0m0 2h0m0 3h0m0 2h0m0 1h0m0 4h0m0 1h0m0 9h0m0 1h0m0 1h0m0 3h0m0 6h0m0 2h0m1-75h0m0 10h0m0 18h0m0 5h0m0 2h0m0 1h0m0 5h0m0 6h0m0 14h0m0 5h0m0 1h0m0 3h0m0 4h0m0 1h0m1-76h0m0 13h0m0 4h0m0 9h0m0 6h0m0 5h0m0 4h0m0 2h0m0 4h0m0 2h0m0 1h0m0 3h0m0 5h0m0 1h0m0 3h0m0 1h0m0 2h0m0 3h0m0 2h0m0 14h0m1-92h0m0 8h0m0 1h0m0 8h0m0 5h0m0 7h0m0 1h0m0 3h0m0 3h0m0 5h0m0 2h0m0 2h0m0 6h0m0 1h0m0 4h0m0 3h0m0 5h0m0 2h0m0 17h0m0 9h0m0 2h0m0 4h0m1-95h0m0 17h0m0 6h0m0 4h0m0 5h0m0 2h0m0 4h0m0 5h0m0 6h0m0 11h0m0 3h0m0 2h0m0 3h0m0 1h0m0 3h0m1-84h0m0 25h0m0 4h0m0 11h0m0 7h0m0 3h0m0 6h0m0 4h0m0 6h0m0 5h0m0 7h0m0 3h0m0 9h0m0 3h0m1-76h0m0 13h0m0 10h0m0 1h0m0 4h0m0 2h0m0 3h0m0 5h0m0 5h0m0 1h0m0 4h0m0 1h0m0 9h0m0 8h0m0 5h0m1-76h0m0 6h0m0 7h0m0 1h0m0 12h0m0 3h0m0 10h0m0 5h0m0 9h0m0 7h0m0 15h0m0 2h0m1-52h0m0 17h0m0 1h0m0 8h0m0 1h0m0 3h0m0 4h0m0 4h0m0 3h0m0 2h0m0 3h0m0 8h0m0 3h0m0 6h0m1-93h0m0 21h0m0 2h0m0 3h0m0 9h0m0 11h0m0 11h0m0 8h0m0 5h0m0 5h0m0 4h0m0 1h0m0 9h0m0 11h0m0 11h0m1-107h0m0 5h0m0 33h0m0 19h0m0 3h0m0 1h0m0 4h0m0 5h0m0 3h0m0 5h0m0 8h0m0 10h0m1-80h0m0 10h0m0 2h0m0 8h0m0 7h0m0 2h0m0 23h0m0 3h0m0 1h0m0 10h0m1-86h0m0 6h0m0 9h0m0 7h0m0 3h0m0 13h0m0 1h0m0 6h0m0 11h0m0 2h0m0 23h0m0 17h0m1-105h0m0 9h0m0 9h0m0 2h0m0 12h0m0 19h0m0 1h0m0 3h0m0 6h0m0 13h0m0 6h0m0 5h0m0 5h0m0 23h0m1-85h0m0 4h0m0 2h0m0 16h0m0 14h0m0 5h0m0 10h0m1-76h0m0 15h0m0 13h0m0 4h0m0 1h0m0 3h0m0 14h0m0 4h0m0 12h0m0 1h0m0 12h0m1-62h0m0 8h0m0 26h0m0 5h0m0 7h0m1-72h0m0 2h0m0 19h0m0 14h0m0 1h0m0 3h0m0 5h0m0 5h0m0 12h0m0 18h0m0 45h0m1-120h0m0 8h0m0 7h0m0 5h0m0 5h0m0 4h0m0 6h0m0 8h0m0 2h0m0 2h0m0 32h0m1-61h0m0 4h0m0 7h0m0 21h0m0 26h0m1-58h0m0 30h0m0 14h0m0 8h0m0 10h0m1-81h0m0 6h0m0 9h0m0 4h0m0 12h0m0 7h0m0 7h0m0 12h0m0 26h0m1-84h0m0 39h0m1-12h0m0 9h0m0 2h0m0 21h0m0 36h0m1-85h0m0 9h0m0 2h0m0 2h0m0 12h0m0 2h0m0 1h0m0 37h0m1-69h0m0 1h0m0 8h0m0 1h0m0 10h0m0 17h0m0 6h0m0 1h0m0 24h0m1-93h0m0 37h0m0 9h0m0 35h0m0 2h0m0 10h0m0 2h0m0 3h0m0 13h0m1-71h0m0 18h0m0 7h0m0 1h0m0 26h0m0 25h0m1-112h0m0 27h0m0 9h0m0 8h0m0 2h0m0 5h0m0 36h0m1-70h0m0 11h0m0 2h0m0 6h0m0 6h0m1-15h0m0 6h0m0 6h0m0 4h0m0 5h0m0 7h0m0 31h0m0 43h0m1-102h0m0 38h0m0 41h0m1-104h0m0 4h0m0 27h0m0 5h0m0 8h0m1-39h0m0 24h0m1-7h0m0 6h0m1-20h0m0 15h0m0 1h0m0 52h0m1-65h0m0 2h0m0 17h0m0 7h0m1-41h0m0 12h0m0 7h0m0 3h0m0 1h0m0 4h0m0 2h0m0 10h0m0 7h0m0 51h0m1-81h0m0 6h0m0 6h0m0 2h0m0 4h0m1-36h0m0 21h0m0 1h0m0 1h0m0 13h0m0 7h0m0 3h0m1-65h0m0 12h0m0 20h0m0 4h0m0 20h0m0 5h0m0 6h0m0 32h0m0 28h0m1-101h0m0 21h0m0 6h0m0 122h0m1-138h0m0 33h0m0 36h0m1-102h0m0 67h0m0 70h0m1-104h0m0 8h0m0 2h0m0 11h0m0 27h0m1-45h0m0 3h0m0 10h0m0 2h0m0 9h0m0 3h0m0 107h0m1-125h0m0 10h0m0 11h0m0 141h0m1-180h0m0 39h0m0 25h0m1-76h0m0 13h0m1-26h0m0 25h0m0 9h0m0 7h0m1-54h0m0 49h0m0 16h0m0 11h0m0 65h0m1-113h0m0 14h0m0 3h0m0 11h0m0 8h0m0 100h0m1-134h0m0 21h0m0 82h0m1-83h0m0 2h0m0 12h0m0 3h0m0 57h0m1-55h0m0 18h0m0 29h0m0 3h0m1-98h0m0 26h0m0 20h0m0 78h0m1-133h0m0 15h0m0 16h0m0 5h0m0 57h0m2 10h0m1-89h0m0 31h0m1-17h0m0 15h0m0 10h0m0 41h0m1-52h0m0 81h0m1-109h0m1 27h0m2-39h0m0 4h0m1 9h0m0 14h0m0 55h0m1-61h0m0 18h0m0 39h0m1-28h0m2-40h0m0 10h0m1 58h0m1 1h0m0 35h0m1-79h0m1-1h0m1-30h0m0 71h0m0 60h0m1-116h0m1-24h0m0 60h0m0 69h0m1-92h0m1 24h0m1-47h0m0 100h0m0 19h0m1-105h0m2 56h0m2-38h0m0 84h0m1-127h0m0 145h0m2-27h0m0 67h0m1-106h0m3-34h0m2 64h0m1 31h0m0 18h0m1-26h0m2 78h0m2-188h0m0 49h0m0 1h0m1-37h0m1-62h0m1 122h0m0 94h0m2-119h0m0 140h0m1-157h0m0 7h0m1-3h0m2 30h0m0 124h0m1-108h0m0 4h0m0 5h0m0 30h0m1-6h0m0 61h0m1-48h0m2-113h0m1 23h0m1-28h0m3 62h0m0 14h0m3 31h0m4-10h0m7-118h0m1-14h0m2 21h0m5 127h0m31 65h0"/>
<path d="M94 -133h0m1 13h0m3-14h0m0 9h0m0 2h0m1 15h0m2-4h0m1-45h0m0 67h0m1-46h0m0 16h0m1 7h0m1-47h0m1 17h0m0 17h0m0 6h0m1-18h0m1-3h0m0 14h0m0 4h0m0 4h0m0 3h0m0 12h0m1-49h0m0 11h0m0 13h0m0 14h0m0 2h0m0 3h0m0 11h0m1-35h0m0 9h0m0 48h0m1-89h0m0 20h0m0 17h0m0 4h0m0 7h0m0 2h0m1-21h0m0 38h0m1-49h0m0 11h0m0 8h0m0 3h0m0 10h0m0 14h0m0 2h0m0 20h0m1-108h0m0 31h0m0 5h0m0 1h0m0 1h0m0 7h0m0 6h0m0 6h0m0 10h0m0 7h0m0 1h0m0 22h0m1-54h0m0 5h0m0 4h0m0 14h0m0 2h0m0 1h0m0 4h0m0 15h0m0 3h0m0 26h0m1-72h0m0 7h0m0 7h0m0 2h0m0 10h0m0 4h0m0 1h0m0 28h0m0 17h0m1-85h0m0 2h0m0 13h0m0 12h0m0 1h0m0 1h0m0 4h0m0 3h0m0 3h0m0 1h0m0 1h0m0 1h0m0 1h0m1-40h0m0 9h0m0 1h0m0 4h0m0 1h0m0 6h0m0 2h0m0 4h0m0 1h0m0 3h0m0 3h0m0 3h0m0 5h0m0 9h0m0 29h0m1-88h0m0 10h0m0 4h0m0 4h0m0 7h0m0 1h0m0 1h0m0 1h0m0 2h0m0 2h0m0 4h0m0 1h0m0 2h0m0 2h0m0 6h0m0 7h0m0 17h0m0 14h0m1-77h0m0 1h0m0 1h0m0 1h0m0 4h0m0 2h0m0 1h0m0 4h0m0 2h0m0 1h0m0 1h0m0 12h0m0 3h0m0 3h0m0 3h0m0 2h0m0 2h0m0 10h0m0 6h0m1-67h0m0 6h0m0 5h0m0 6h0m0 2h0m0 3h0m0 9h0m0 1h0m0 4h0m0 1h0m0 2h0m0 2h0m0 6h0m0 10h0m0 1h0m0 2h0m0 7h0m0 8h0m1-84h0m0 22h0m0 1h0m0 5h0m0 1h0m0 2h0m0 3h0m0 7h0m0 3h0m0 1h0m0 1h0m0 2h0m0 1h0m0 3h0m0 2h0m0 1h0m0 1h0m0 4h0m1-58h0m0 15h0m0 7h0m0 4h0m0 2h0m0 2h0m0 1h0m0 1h0m0 2h0m0 1h0m0 2h0m0 1h0m0 4h0m0 3h0m0 1h0m0 2h0m0 1h0m0 4h0m0 3h0m0 3h0m0 3h0m0 1h0m0 8h0m0 27h0m1-122h0m0 21h0m0 2h0m0 13h0m0 7h0m0 2h0m0 3h0m0 5h0m0 1h0m0 1h0m0 3h0m0 1h0m0 1h0m0 1h0m0 3h0m0 5h0m0 2h0m0 2h0m0 1h0m0 1h0m0 2h0m0 5h0m0 1h0m1-80h0m0 36h0m0 8h0m0 2h0m0 2h0m0 6h0m0 1h0m0 2h0m0 1h0m0 1h0m0 2h0m0 3h0m0 2h0m0 1h0m0 1h0m0 6h0m0 1h0m0 1h0m0 3h0m0 1h0m0 3h0m0 9h0m0 2h0m0 19h0m1-85h0m0 5h0m0 7h0m0 4h0m0 10h0m0 1h0m0 1h0m0 2h0m0 2h0m0 2h0m0 3h0m0 1h0m0 4h0m0 2h0m0 10h0m0 1h0m0 1h0m0 6h0m0 4h0m0 1h0m0 2h0m0 2h0m1-68h0m0 13h0m0 1h0m0 1h0m0 2h0m0 1h0m0 1h0m0 1h0m0 1h0m0 4h0m0 1h0m0 2h0m0 1h0m0 3h0m0 3h0m0 1h0m0 1h0m0 2h0m0 1h0m0 3h0m0 1h0m0 7h0m0 6h0m0 3h0m0 1h0m0 1h0m1-56h0m0 2h0m0 2h0m0 6h0m0 4h0m0 1h0m0 1h0m0 1h0m0 3h0m0 3h0m0 1h0m0 1h0m0 2h0m0 1h0m0 1h0m0 3h0m0 2h0m0 1h0m0 2h0m0 4h0m0 1h0m0 1h0m0 3h0m0 9h0m0 4h0m0 3h0m1-86h0m0 12h0m0 12h0m0 6h0m0 2h0m0 1h0m0 1h0m0 5h0m0 3h0m0 3h0m0 1h0m0 1h0m0 1h0m0 3h0m0 1h0m0 2h0m0 2h0m0 3h0m0 4h0m0 2h0m0 3h0m0 2h0m0 1h0m0 2h0m0 1h0m0 1h0m1-57h0m0 1h0m0 5h0m0 3h0m0 2h0m0 4h0m0 6h0m0 1h0m0 3h0m0 1h0m0 1h0m0 6h0m0 5h0m0 2h0m0 1h0m0 1h0m0 1h0m0 1h0m0 1h0m0 1h0m0 1h0m0 1h0m0 3h0m0 5h0m0 2h0m0 1h0m0 2h0m0 4h0m0 3h0m0 1h0m0 14h0m1-97h0m0 18h0m0 2h0m0 1h0m0 5h0m0 5h0m0 2h0m0 3h0m0 5h0m0 2h0m0 2h0m0 1h0m0 3h0m0 3h0m0 2h0m0 2h0m0 1h0m0 1h0m0 2h0m0 1h0m0 3h0m0 1h0m0 4h0m0 1h0m0 11h0m0 3h0m0 1h0m1-79h0m0 3h0m0 4h0m0 1h0m0 6h0m0 3h0m0 1h0m0 6h0m0 1h0m0 2h0m0 3h0m0 1h0m0 1h0m0 1h0m0 1h0m0 1h0m0 1h0m0 1h0m0 1h0m0 1h0m0 5h0m0 1h0m0 1h0m0 2h0m0 1h0m0 2h0m0 6h0m0 1h0m0 1h0m0 1h0m0 1h0m0 1h0m0 1h0m0 5h0m0 12h0m1-75h0m0 9h0m0 1h0m0 1h0m0 1h0m0 4h0m0 8h0m0 1h0m0 2h0m0 2h0m0 1h0m0 1h0m0 2h0m0 1h0m0 1h0m0 1h0m0 1h0m0 2h0m0 1h0m0 1h0m0 3h0m0 1h0m0 1h0m0 1h0m0 1h0m0 1h0m0 1h0m0 1h0m0 2h0m0 1h0m0 4h0m0 1h0m0 1h0m0 1h0m0 2h0m0 1h0m0 1h0m0 6h0m1-60h0m0 8h0m0 2h0m0 2h0m0 1h0m0 2h0m0 3h0m0 3h0m0 1h0m0 2h0m0 1h0m0 2h0m0 1h0m0 1h0m0 3h0m0 1h0m0 1h0m0 6h0m0 1h0m0 1h0m0 1h0m0 1h0m0 1h0m0 1h0m0 1h0m0 3h0m0 1h0m0 5h0m0 1h0m0 2h0m0 2h0m0 1h0m1-90h0m0 5h0m0 23h0m0 8h0m0 2h0m0 2h0m0 2h0m0 4h0m0 1h0m0 4h0m0 1h0m0 3h0m0 1h0m0 2h0m0 1h0m0 1h0m0 2h0m0 2h0m0 1h0m0 4h0m0 1h0m0 1h0m0 1h0m0 2h0m0 1h0m0 1h0m0 5h0m0 1h0m0 14h0m1-62h0m0 1h0m0 5h0m0 1h0m0 2h0m0 1h0m0 1h0m0 2h0m0 1h0m0 1h0m0 2h0m0 1h0m0 3h0m0 1h0m0 1h0m0 1h0m0 2h0m0 2h0m0 1h0m0 2h0m0 1h0m0 1h0m0 1h0m0 1h0m0 4h0m0 1h0m0 2h0m0 2h0m0 1h0m0 9h0m0 1h0m0 1h0m1-82h0m0 7h0m0 11h0m0 3h0m0 1h0m0 7h0m0 4h0m0 1h0m0 5h0m0 2h0m0 1h0m0 1h0m0 1h0m0 2h0m0 1h0m0 2h0m0 2h0m0 2h0m0 1h0m0 2h0m0 1h0m0 1h0m0 1h0m0 2h0m0 2h0m0 1h0m0 1h0m0 1h0m0 1h0m0 1h0m0 2h0m0 2h0m0 3h0m0 1h0m0 1h0m0 4h0m0 2h0m0 1h0m1-63h0m0 3h0m0 2h0m0 6h0m0 2h0m0 1h0m0 4h0m0 1h0m0 1h0m0 2h0m0 1h0m0 1h0m0 2h0m0 2h0m0 3h0m0 3h0m0 2h0m0 3h0m0 1h0m0 2h0m0 3h0m0 1h0m0 1h0m0 5h0m0 6h0m0 5h0m0 3h0m0 2h0m1-92h0m0 21h0m0 5h0m0 2h0m0 3h0m0 2h0m0 1h0m0 3h0m0 1h0m0 3h0m0 1h0m0 1h0m0 1h0m0 4h0m0 2h0m0 1h0m0 1h0m0 1h0m0 1h0m0 1h0m0 1h0m0 1h0m0 1h0m0 2h0m0 1h0m0 1h0m0 2h0m0 1h0m0 2h0m0 1h0m0 1h0m0 1h0m0 1h0m0 1h0m0 1h0m0 4h0m0 1h0m0 3h0m0 5h0m0 1h0m0 2h0m1-69h0m0 5h0m0 6h0m0 3h0m0 3h0m0 1h0m0 2h0m0 1h0m0 2h0m0 2h0m0 1h0m0 1h0m0 1h0m0 1h0m0 4h0m0 2h0m0 4h0m0 2h0m0 1h0m0 1h0m0 2h0m0 3h0m0 2h0m0 1h0m0 2h0m0 8h0m0 2h0m0 2h0m0 2h0m0 6h0m1-71h0m0 2h0m0 9h0m0 5h0m0 1h0m0 2h0m0 2h0m0 1h0m0 2h0m0 1h0m0 1h0m0 2h0m0 1h0m0 1h0m0 2h0m0 1h0m0 2h0m0 3h0m0 1h0m0 1h0m0 2h0m0 3h0m0 1h0m0 2h0m0 3h0m0 3h0m0 3h0m0 1h0m0 4h0m1-61h0m0 4h0m0 1h0m0 1h0m0 7h0m0 6h0m0 3h0m0 1h0m0 3h0m0 2h0m0 1h0m0 1h0m0 2h0m0 1h0m0 1h0m0 1h0m0 2h0m0 1h0m0 2h0m0 2h0m0 1h0m0 1h0m0 1h0m0 1h0m0 3h0m0 6h0m0 14h0m1-100h0m0 6h0m0 17h0m0 2h0m0 2h0m0 1h0m0 10h0m0 4h0m0 1h0m0 1h0m0 4h0m0 3h0m0 1h0m0 2h0m0 3h0m0 2h0m0 1h0m0 3h0m0 1h0m0 1h0m0 1h0m0 3h0m0 1h0m0 1h0m0 3h0m0 1h0m0 2h0m0 1h0m0 4h0m0 10h0m1-64h0m0 7h0m0 6h0m0 1h0m0 2h0m0 4h0m0 3h0m0 2h0m0 2h0m0 2h0m0 3h0m0 1h0m0 1h0m0 2h0m0 1h0m0 3h0m0 1h0m0 1h0m0 1h0m0 1h0m0 1h0m0 2h0m0 1h0m0 5h0m0 3h0m0 8h0m0 8h0m0 14h0m0 2h0m1-103h0m0 13h0m0 6h0m0 4h0m0 4h0m0 1h0m0 9h0m0 2h0m0 1h0m0 5h0m0 1h0m0 1h0m0 1h0m0 1h0m0 1h0m0 1h0m0 1h0m0 1h0m0 1h0m0 1h0m0 2h0m0 1h0m0 1h0m0 3h0m0 1h0m0 1h0m0 1h0m0 5h0m0 5h0m0 1h0m0 3h0m0 7h0m0 1h0m1-104h0m0 25h0m0 15h0m0 2h0m0 11h0m0 2h0m0 2h0m0 3h0m0 2h0m0 1h0m0 1h0m0 2h0m0 3h0m0 1h0m0 1h0m0 1h0m0 2h0m0 1h0m0 1h0m0 1h0m0 4h0m0 6h0m0 24h0m1-97h0m0 17h0m0 4h0m0 8h0m0 13h0m0 9h0m0 2h0m0 3h0m0 16h0m0 15h0m0 3h0m0 15h0m1-105h0m0 4h0m0 12h0m0 2h0m0 2h0m0 15h0m0 1h0m0 2h0m0 4h0m0 3h0m0 1h0m0 5h0m0 1h0m0 1h0m0 8h0m0 3h0m0 4h0m0 2h0m0 1h0m0 1h0m0 2h0m0 2h0m0 3h0m0 14h0m0 1h0m1-89h0m0 10h0m0 3h0m0 9h0m0 5h0m0 3h0m0 4h0m0 4h0m0 2h0m0 5h0m0 1h0m0 1h0m0 1h0m0 3h0m0 1h0m0 4h0m0 2h0m0 3h0m0 3h0m0 3h0m0 3h0m0 7h0m1-108h0m0 52h0m0 5h0m0 2h0m0 4h0m0 7h0m0 12h0m0 9h0m0 6h0m0 7h0m0 1h0m0 2h0m0 1h0m1-113h0m0 38h0m0 13h0m0 7h0m0 11h0m0 1h0m0 3h0m0 2h0m0 7h0m0 2h0m0 4h0m0 1h0m0 1h0m0 8h0m0 5h0m0 2h0m0 6h0m1-85h0m0 9h0m0 4h0m0 11h0m0 17h0m0 3h0m0 2h0m0 2h0m0 5h0m0 8h0m0 9h0m0 2h0m0 3h0m0 5h0m0 2h0m1-103h0m0 15h0m0 41h0m0 1h0m0 3h0m0 1h0m0 3h0m0 2h0m0 12h0m0 1h0m0 5h0m0 1h0m0 15h0m1-78h0m0 10h0m0 5h0m0 6h0m0 14h0m0 1h0m0 9h0m0 2h0m0 2h0m0 5h0m0 5h0m0 3h0m0 1h0m0 6h0m0 1h0m0 3h0m0 1h0m0 6h0m0 12h0m0 5h0m1-106h0m0 15h0m0 13h0m0 10h0m0 2h0m0 22h0m0 2h0m0 1h0m0 2h0m0 3h0m0 11h0m0 1h0m0 1h0m0 12h0m1-77h0m0 9h0m0 3h0m0 5h0m0 25h0m0 3h0m0 2h0m0 3h0m0 1h0m0 8h0m0 7h0m0 2h0m1-73h0m0 25h0m0 3h0m0 3h0m0 1h0m0 17h0m0 1h0m0 10h0m0 7h0m0 6h0m0 5h0m0 31h0m1-126h0m0 13h0m0 9h0m0 3h0m0 1h0m0 12h0m0 4h0m0 4h0m0 2h0m0 5h0m0 6h0m0 15h0m0 16h0m0 5h0m0 18h0m1-97h0m0 1h0m0 8h0m0 8h0m0 14h0m0 3h0m0 7h0m0 2h0m0 8h0m0 2h0m0 4h0m0 9h0m0 2h0m0 16h0m1-56h0m0 6h0m0 25h0m0 1h0m0 5h0m0 13h0m1-78h0m0 14h0m0 7h0m0 26h0m0 2h0m0 5h0m0 18h0m0 4h0m0 20h0m1-90h0m0 7h0m0 9h0m0 1h0m0 6h0m0 7h0m0 5h0m0 9h0m0 7h0m0 1h0m0 2h0m0 2h0m0 6h0m1-64h0m0 14h0m0 4h0m0 6h0m0 5h0m0 3h0m0 4h0m0 1h0m0 17h0m0 4h0m0 1h0m0 9h0m1-80h0m0 8h0m0 3h0m0 13h0m0 13h0m0 3h0m0 8h0m0 11h0m0 23h0m0 9h0m1-93h0m0 4h0m0 5h0m0 1h0m0 8h0m0 2h0m0 7h0m0 2h0m0 5h0m0 4h0m0 8h0m0 8h0m0 10h0m0 2h0m0 17h0m0 12h0m1-64h0m0 13h0m0 7h0m0 13h0m0 5h0m0 30h0m1-78h0m0 3h0m0 4h0m0 10h0m0 14h0m0 7h0m0 3h0m0 1h0m1-50h0m0 1h0m0 18h0m0 7h0m0 8h0m0 1h0m0 1h0m0 4h0m0 7h0m1-49h0m0 7h0m0 6h0m0 4h0m0 1h0m0 15h0m0 14h0m0 18h0m1-68h0m0 1h0m0 6h0m0 7h0m0 21h0m0 3h0m0 24h0m0 7h0m1-87h0m0 33h0m0 11h0m0 6h0m0 10h0m0 16h0m0 10h0m0 1h0m0 10h0m1-82h0m0 3h0m0 6h0m0 7h0m0 3h0m0 4h0m0 2h0m0 1h0m1-62h0m0 42h0m0 1h0m0 14h0m0 29h0m1-66h0m0 30h0m0 14h0m0 9h0m0 10h0m1-55h0m0 10h0m0 2h0m0 25h0m0 4h0m0 20h0m0 20h0m1-82h0m0 7h0m0 8h0m0 3h0m0 5h0m0 6h0m0 41h0m0 23h0m1-71h0m0 3h0m0 10h0m0 5h0m1 1h0m0 32h0m1-72h0m0 2h0m0 1h0m0 4h0m0 13h0m0 5h0m0 6h0m0 5h0m0 14h0m1-52h0m0 3h0m0 12h0m0 3h0m0 9h0m0 1h0m0 8h0m0 12h0m0 108h0m1-163h0m0 26h0m0 6h0m0 1h0m0 9h0m0 13h0m0 1h0m0 18h0m1-60h0m0 14h0m0 7h0m0 9h0m0 30h0m1-52h0m0 3h0m0 3h0m0 10h0m0 6h0m0 7h0m0 14h0m0 7h0m1-77h0m0 13h0m0 15h0m0 29h0m0 2h0m1-55h0m0 23h0m0 24h0m0 15h0m1-56h0m0 6h0m0 6h0m0 20h0m0 2h0m0 61h0m1-152h0m0 66h0m0 9h0m0 2h0m0 8h0m0 53h0m0 13h0m0 14h0m1-111h0m0 6h0m0 3h0m0 3h0m0 13h0m0 3h0m0 24h0m0 43h0m1-80h0m0 3h0m0 8h0m0 2h0m0 3h0m0 100h0m1-115h0m0 24h0m0 12h0m0 16h0m0 11h0m1-74h0m0 10h0m1-21h0m0 43h0m0 11h0m0 27h0m0 13h0m1-60h0m0 14h0m1-50h0m0 1h0m0 6h0m0 12h0m0 8h0m0 32h0m0 2h0m1-53h0m0 3h0m0 8h0m0 1h0m0 7h0m0 10h0m0 8h0m0 9h0m0 18h0m0 39h0m0 9h0m1-99h0m0 1h0m0 70h0m1-86h0m0 6h0m0 3h0m0 18h0m0 16h0m1-68h0m0 21h0m0 10h0m0 15h0m1 32h0m0 93h0m1-160h0m0 171h0m1-187h0m0 43h0m0 3h0m0 9h0m1-30h0m0 9h0m0 32h0m2-48h0m0 3h0m0 2h0m0 23h0m0 45h0m0 16h0m1-69h0m0 23h0m0 139h0m1-173h0m0 2h0m1 2h0m0 11h0m1-17h0m0 28h0m0 34h0m0 7h0m0 35h0m1-100h0m0 39h0m0 52h0m1-112h0m0 19h0m0 60h0m1-61h0m0 3h0m0 39h0m0 7h0m1-78h0m0 61h0m2 10h0m1 11h0m0 27h0m1-95h0m0 23h0m1 18h0m0 46h0m0 34h0m1-38h0m0 37h0m0 66h0m1-155h0m1 10h0m0 68h0m1 16h0m1 54h0m0 29h0m1-73h0m0 34h0m1-101h0m2-40h0m0 2h0m0 57h0m0 115h0m2-168h0m0 7h0m2 10h0m0 35h0m2-76h0m0 30h0m1 9h0m0 14h0m0 3h0m0 3h0m1-25h0m1 55h0m0 19h0m2 28h0m1-97h0m0 56h0m0 20h0m2-50h0m1 13h0m0 15h0m0 32h0m0 2h0m1-112h0m0 56h0m1-13h0m0 51h0m2-103h0m0 175h0m4-75h0m1-51h0m0 80h0m3-93h0m0 126h0m1-158h0m1-15h0m0 27h0m0 11h0m0 85h0m1-88h0m0 67h0m3 91h0m6-115h0m0 24h0m1 71h0m1-86h0m0 116h0m1-115h0m12 27h0m6-132h0m3 128h0m1-61h0"/>
<path d="M92 -114h0m6-27h0m0 33h0m1-50h0m3 42h0m1-35h0m0 1h0m1 13h0m0 16h0m3-28h0m0 7h0m0 8h0m0 14h0m0 8h0m0 3h0m1-46h0m0 41h0m1-27h0m0 10h0m0 12h0m0 14h0m1-46h0m0 9h0m0 8h0m0 15h0m1-74h0m0 60h0m0 25h0m1-66h0m0 12h0m0 10h0m0 29h0m0 3h0m1-36h0m0 32h0m0 7h0m0 8h0m1-40h0m0 8h0m0 12h0m0 2h0m0 1h0m0 23h0m0 14h0m1-83h0m0 30h0m0 1h0m0 3h0m0 8h0m0 9h0m0 1h0m0 6h0m0 4h0m0 1h0m0 14h0m1-48h0m0 7h0m0 1h0m0 1h0m0 1h0m0 5h0m0 16h0m0 1h0m0 5h0m0 4h0m0 9h0m0 4h0m0 8h0m1-73h0m0 1h0m0 14h0m0 14h0m0 1h0m0 2h0m0 2h0m0 12h0m0 7h0m0 18h0m0 4h0m1-71h0m0 5h0m0 6h0m0 1h0m0 2h0m0 5h0m0 3h0m0 3h0m0 3h0m0 1h0m0 3h0m0 2h0m0 3h0m0 4h0m0 3h0m0 3h0m1-57h0m0 2h0m0 12h0m0 2h0m0 1h0m0 11h0m0 1h0m0 5h0m0 3h0m0 10h0m0 2h0m0 2h0m0 4h0m0 1h0m0 1h0m0 13h0m0 1h0m0 3h0m1-65h0m0 5h0m0 2h0m0 1h0m0 6h0m0 8h0m0 5h0m0 4h0m0 2h0m0 2h0m0 3h0m0 7h0m0 2h0m0 4h0m0 17h0m1-64h0m0 1h0m0 5h0m0 7h0m0 2h0m0 1h0m0 2h0m0 5h0m0 1h0m0 2h0m0 1h0m0 1h0m0 1h0m0 2h0m0 2h0m0 6h0m0 1h0m0 2h0m0 7h0m0 17h0m1-70h0m0 2h0m0 9h0m0 1h0m0 4h0m0 2h0m0 2h0m0 1h0m0 1h0m0 2h0m0 1h0m0 3h0m0 9h0m0 1h0m0 3h0m0 1h0m0 5h0m0 2h0m0 2h0m0 5h0m1-97h0m0 37h0m0 11h0m0 1h0m0 2h0m0 1h0m0 2h0m0 2h0m0 1h0m0 1h0m0 2h0m0 1h0m0 4h0m0 2h0m0 2h0m0 1h0m0 1h0m0 2h0m0 2h0m0 4h0m0 3h0m0 1h0m0 2h0m0 13h0m0 11h0m0 8h0m1-82h0m0 3h0m0 12h0m0 12h0m0 1h0m0 1h0m0 1h0m0 1h0m0 1h0m0 1h0m0 2h0m0 2h0m0 2h0m0 2h0m0 2h0m0 2h0m0 1h0m0 2h0m0 3h0m0 4h0m0 1h0m0 1h0m1-45h0m0 2h0m0 1h0m0 1h0m0 6h0m0 1h0m0 3h0m0 1h0m0 1h0m0 5h0m0 2h0m0 5h0m0 2h0m0 1h0m0 1h0m0 1h0m0 2h0m0 1h0m0 4h0m0 2h0m0 8h0m0 4h0m0 2h0m1-58h0m0 2h0m0 1h0m0 2h0m0 3h0m0 3h0m0 1h0m0 4h0m0 1h0m0 2h0m0 2h0m0 1h0m0 1h0m0 3h0m0 1h0m0 5h0m0 2h0m0 3h0m0 7h0m0 3h0m0 2h0m0 3h0m0 1h0m0 1h0m0 1h0m1-59h0m0 1h0m0 3h0m0 1h0m0 5h0m0 2h0m0 1h0m0 2h0m0 1h0m0 1h0m0 2h0m0 1h0m0 5h0m0 1h0m0 1h0m0 1h0m0 1h0m0 1h0m0 1h0m0 2h0m0 1h0m0 2h0m0 2h0m0 2h0m0 1h0m0 1h0m0 3h0m0 3h0m0 4h0m0 10h0m0 14h0m1-82h0m0 7h0m0 2h0m0 1h0m0 1h0m0 3h0m0 7h0m0 2h0m0 1h0m0 1h0m0 3h0m0 1h0m0 1h0m0 1h0m0 1h0m0 1h0m0 3h0m0 1h0m0 2h0m0 9h0m0 1h0m0 1h0m0 2h0m0 1h0m0 1h0m0 7h0m0 11h0m0 3h0m1-82h0m0 1h0m0 11h0m0 1h0m0 3h0m0 3h0m0 2h0m0 11h0m0 1h0m0 1h0m0 1h0m0 1h0m0 1h0m0 2h0m0 1h0m0 1h0m0 3h0m0 1h0m0 2h0m0 1h0m0 1h0m0 1h0m0 1h0m0 2h0m0 1h0m0 1h0m0 2h0m0 2h0m0 1h0m0 1h0m0 2h0m0 8h0m1-60h0m0 7h0m0 5h0m0 3h0m0 1h0m0 3h0m0 5h0m0 1h0m0 1h0m0 3h0m0 1h0m0 1h0m0 2h0m0 1h0m0 5h0m0 1h0m0 2h0m0 1h0m0 1h0m0 1h0m0 3h0m0 1h0m0 2h0m0 3h0m0 4h0m0 1h0m0 2h0m0 2h0m1-59h0m0 8h0m0 4h0m0 7h0m0 1h0m0 1h0m0 2h0m0 1h0m0 1h0m0 1h0m0 1h0m0 1h0m0 1h0m0 1h0m0 1h0m0 3h0m0 1h0m0 1h0m0 2h0m0 2h0m0 2h0m0 1h0m0 1h0m0 1h0m0 11h0m0 9h0m0 1h0m0 5h0m1-86h0m0 2h0m0 6h0m0 4h0m0 2h0m0 4h0m0 2h0m0 2h0m0 5h0m0 2h0m0 8h0m0 1h0m0 2h0m0 2h0m0 1h0m0 4h0m0 1h0m0 5h0m0 2h0m0 1h0m0 4h0m0 1h0m0 2h0m0 2h0m0 2h0m0 2h0m0 1h0m0 6h0m0 2h0m0 21h0m1-73h0m0 1h0m0 2h0m0 1h0m0 3h0m0 1h0m0 2h0m0 1h0m0 1h0m0 1h0m0 2h0m0 1h0m0 1h0m0 5h0m0 2h0m0 1h0m0 4h0m0 2h0m0 2h0m0 4h0m0 1h0m0 1h0m0 3h0m0 3h0m0 2h0m0 4h0m0 3h0m0 11h0m1-114h0m0 41h0m0 2h0m0 3h0m0 5h0m0 3h0m0 1h0m0 5h0m0 1h0m0 1h0m0 1h0m0 3h0m0 2h0m0 2h0m0 5h0m0 1h0m0 3h0m0 1h0m0 1h0m0 4h0m0 1h0m0 1h0m0 4h0m0 10h0m1-66h0m0 13h0m0 4h0m0 1h0m0 4h0m0 1h0m0 2h0m0 1h0m0 1h0m0 2h0m0 2h0m0 1h0m0 2h0m0 2h0m0 1h0m0 4h0m0 1h0m0 2h0m0 5h0m0 4h0m0 2h0m0 3h0m0 4h0m0 2h0m0 7h0m1-67h0m0 3h0m0 5h0m0 2h0m0 3h0m0 2h0m0 4h0m0 1h0m0 1h0m0 1h0m0 3h0m0 4h0m0 1h0m0 1h0m0 1h0m0 3h0m0 2h0m0 1h0m0 2h0m0 1h0m0 1h0m0 2h0m0 1h0m0 1h0m0 4h0m0 2h0m0 2h0m0 1h0m0 2h0m0 14h0m0 4h0m1-70h0m0 1h0m0 2h0m0 8h0m0 1h0m0 2h0m0 1h0m0 3h0m0 1h0m0 5h0m0 1h0m0 1h0m0 1h0m0 2h0m0 1h0m0 1h0m0 4h0m0 1h0m0 1h0m0 1h0m0 1h0m0 5h0m0 2h0m0 2h0m0 1h0m0 2h0m0 6h0m1-87h0m0 20h0m0 8h0m0 5h0m0 2h0m0 3h0m0 1h0m0 3h0m0 2h0m0 1h0m0 3h0m0 5h0m0 3h0m0 1h0m0 1h0m0 2h0m0 1h0m0 2h0m0 1h0m0 2h0m0 1h0m0 1h0m0 3h0m0 1h0m0 2h0m0 5h0m0 2h0m0 5h0m0 19h0m0 6h0m0 22h0m1-116h0m0 9h0m0 1h0m0 1h0m0 3h0m0 1h0m0 5h0m0 3h0m0 1h0m0 1h0m0 1h0m0 1h0m0 2h0m0 4h0m0 3h0m0 2h0m0 1h0m0 1h0m0 1h0m0 1h0m0 1h0m0 2h0m0 1h0m0 1h0m0 1h0m0 1h0m0 1h0m0 1h0m0 2h0m0 1h0m0 3h0m0 2h0m0 2h0m0 2h0m0 2h0m0 11h0m1-78h0m0 21h0m0 3h0m0 2h0m0 3h0m0 1h0m0 1h0m0 2h0m0 1h0m0 1h0m0 3h0m0 3h0m0 1h0m0 1h0m0 2h0m0 6h0m0 4h0m0 2h0m0 2h0m0 4h0m0 2h0m0 5h0m0 2h0m1-67h0m0 4h0m0 2h0m0 1h0m0 3h0m0 1h0m0 9h0m0 2h0m0 1h0m0 3h0m0 1h0m0 2h0m0 1h0m0 2h0m0 4h0m0 1h0m0 3h0m0 3h0m0 1h0m0 2h0m0 1h0m0 4h0m0 4h0m0 3h0m0 8h0m0 2h0m1-80h0m0 22h0m0 1h0m0 3h0m0 3h0m0 5h0m0 5h0m0 1h0m0 1h0m0 2h0m0 2h0m0 1h0m0 2h0m0 2h0m0 1h0m0 1h0m0 2h0m0 1h0m0 1h0m0 1h0m0 2h0m0 2h0m0 2h0m0 1h0m0 1h0m0 1h0m0 1h0m0 4h0m0 4h0m0 7h0m0 3h0m1-110h0m0 25h0m0 19h0m0 1h0m0 4h0m0 2h0m0 1h0m0 1h0m0 3h0m0 2h0m0 1h0m0 1h0m0 1h0m0 3h0m0 2h0m0 4h0m0 2h0m0 1h0m0 6h0m0 1h0m0 2h0m0 1h0m0 1h0m0 1h0m0 1h0m0 1h0m0 10h0m0 6h0m1-54h0m0 2h0m0 8h0m0 9h0m0 1h0m0 5h0m0 4h0m0 1h0m0 1h0m0 1h0m0 1h0m0 1h0m0 1h0m0 1h0m0 1h0m0 1h0m0 1h0m0 3h0m0 3h0m0 6h0m0 4h0m0 2h0m1-65h0m0 3h0m0 7h0m0 2h0m0 1h0m0 4h0m0 3h0m0 2h0m0 1h0m0 2h0m0 3h0m0 4h0m0 2h0m0 4h0m0 2h0m0 5h0m0 6h0m0 1h0m0 1h0m0 1h0m0 1h0m0 3h0m0 3h0m0 3h0m0 3h0m0 1h0m0 5h0m1-79h0m0 8h0m0 7h0m0 13h0m0 5h0m0 3h0m0 1h0m0 1h0m0 3h0m0 1h0m0 1h0m0 4h0m0 1h0m0 1h0m0 2h0m0 4h0m0 1h0m0 2h0m0 1h0m0 13h0m0 3h0m0 14h0m0 1h0m1-99h0m0 7h0m0 13h0m0 4h0m0 7h0m0 1h0m0 1h0m0 2h0m0 1h0m0 1h0m0 1h0m0 1h0m0 2h0m0 1h0m0 2h0m0 5h0m0 1h0m0 1h0m0 2h0m0 2h0m0 1h0m0 1h0m0 3h0m0 1h0m0 1h0m0 1h0m0 4h0m0 3h0m0 4h0m0 2h0m0 5h0m0 1h0m1-78h0m0 29h0m0 1h0m0 4h0m0 3h0m0 1h0m0 2h0m0 2h0m0 1h0m0 1h0m0 2h0m0 9h0m0 1h0m0 3h0m0 2h0m0 3h0m0 11h0m0 4h0m0 1h0m1-60h0m0 8h0m0 1h0m0 1h0m0 3h0m0 3h0m0 1h0m0 5h0m0 1h0m0 6h0m0 2h0m0 8h0m0 1h0m0 1h0m0 13h0m0 2h0m0 8h0m0 1h0m1-77h0m0 9h0m0 8h0m0 6h0m0 2h0m0 5h0m0 1h0m0 2h0m0 10h0m0 1h0m0 2h0m0 1h0m0 1h0m0 3h0m0 1h0m0 1h0m0 1h0m0 10h0m0 2h0m1-93h0m0 25h0m0 12h0m0 15h0m0 3h0m0 2h0m0 2h0m0 5h0m0 2h0m0 2h0m0 3h0m0 3h0m0 5h0m0 12h0m0 6h0m1-94h0m0 11h0m0 11h0m0 16h0m0 1h0m0 8h0m0 3h0m0 2h0m0 2h0m0 1h0m0 2h0m0 1h0m0 1h0m0 4h0m0 2h0m0 1h0m0 6h0m0 1h0m0 3h0m0 3h0m0 8h0m0 1h0m0 1h0m0 9h0m1-93h0m0 22h0m0 5h0m0 3h0m0 4h0m0 8h0m0 22h0m0 3h0m0 1h0m0 3h0m1-63h0m0 11h0m0 4h0m0 9h0m0 1h0m0 9h0m0 2h0m0 5h0m0 2h0m0 3h0m0 4h0m0 4h0m0 1h0m0 4h0m0 1h0m0 10h0m0 6h0m0 5h0m1-100h0m0 8h0m0 12h0m0 8h0m0 16h0m0 14h0m0 2h0m0 17h0m0 3h0m0 3h0m0 2h0m0 16h0m0 3h0m1-102h0m0 10h0m0 7h0m0 6h0m0 16h0m0 1h0m0 10h0m0 1h0m0 6h0m0 1h0m0 1h0m0 4h0m0 6h0m0 2h0m0 6h0m0 8h0m0 1h0m0 7h0m0 1h0m0 2h0m0 3h0m1-83h0m0 22h0m0 6h0m0 7h0m0 17h0m0 8h0m0 2h0m0 8h0m0 1h0m0 11h0m1-109h0m0 15h0m0 12h0m0 7h0m0 7h0m0 5h0m0 17h0m0 18h0m0 8h0m0 2h0m0 1h0m1-62h0m0 11h0m0 1h0m0 4h0m0 15h0m0 18h0m0 6h0m0 3h0m0 17h0m1-101h0m0 35h0m0 26h0m0 18h0m0 7h0m0 6h0m0 21h0m1-104h0m0 3h0m0 13h0m0 2h0m0 8h0m0 20h0m0 7h0m0 12h0m0 36h0m0 12h0m0 4h0m1-107h0m0 1h0m0 6h0m0 13h0m0 3h0m0 13h0m0 28h0m0 4h0m0 3h0m1-83h0m0 12h0m0 7h0m0 10h0m0 4h0m0 7h0m0 5h0m0 19h0m0 13h0m0 9h0m0 20h0m1-99h0m0 3h0m0 74h0m1-76h0m0 12h0m0 12h0m0 12h0m1-28h0m0 1h0m0 2h0m0 1h0m0 8h0m0 21h0m0 26h0m1-76h0m0 64h0m1-50h0m0 6h0m0 2h0m0 3h0m0 38h0m1-48h0m0 3h0m0 18h0m0 18h0m0 10h0m0 27h0m1-32h0m0 13h0m0 3h0m1-65h0m0 4h0m0 6h0m0 6h0m0 2h0m0 2h0m0 8h0m0 1h0m0 11h0m0 10h0m1-55h0m0 2h0m0 1h0m0 3h0m0 8h0m0 39h0m0 42h0m1-102h0m0 1h0m0 9h0m0 10h0m0 2h0m0 8h0m0 2h0m0 3h0m0 1h0m0 2h0m0 10h0m0 16h0m0 8h0m0 19h0m0 9h0m1-94h0m0 2h0m0 4h0m0 18h0m0 3h0m0 17h0m0 30h0m1-71h0m0 9h0m0 1h0m0 4h0m0 19h0m0 40h0m1-59h0m0 2h0m0 17h0m0 77h0m1-112h0m0 14h0m0 2h0m0 25h0m0 10h0m0 33h0m1-94h0m0 26h0m0 4h0m0 16h0m1-39h0m0 19h0m0 12h0m0 2h0m0 15h0m1-60h0m0 9h0m0 4h0m0 8h0m0 5h0m0 16h0m0 6h0m0 2h0m0 3h0m0 10h0m0 32h0m1-85h0m0 9h0m0 3h0m0 13h0m0 5h0m0 2h0m0 12h0m0 7h0m0 3h0m1-66h0m0 17h0m0 4h0m0 1h0m0 4h0m0 64h0m1-80h0m0 14h0m0 20h0m0 7h0m0 10h0m1-46h0m0 3h0m0 23h0m0 5h0m0 9h0m1-48h0m0 1h0m0 1h0m0 13h0m0 14h0m0 61h0m1-62h0m0 1h0m0 8h0m0 19h0m0 1h0m1-52h0m0 6h0m0 5h0m0 14h0m0 6h0m0 22h0m1-77h0m0 18h0m0 15h0m0 1h0m0 3h0m0 48h0m1-59h0m0 11h0m0 13h0m1 18h0m0 55h0m1-88h0m0 1h0m0 4h0m0 3h0m0 2h0m0 5h0m0 1h0m1-83h0m0 53h0m0 22h0m0 34h0m0 28h0m1-89h0m0 15h0m0 3h0m0 15h0m0 20h0m0 13h0m0 95h0m1-172h0m0 5h0m0 13h0m0 16h0m0 1h0m1-19h0m0 81h0m0 93h0m1-167h0m0 7h0m1 8h0m0 17h0m1-34h0m0 4h0m1-12h0m0 2h0m0 41h0m0 94h0m1-121h0m0 9h0m0 53h0m1-87h0m0 23h0m1-3h0m0 16h0m1 5h0m1-25h0m0 29h0m1-44h0m1 12h0m0 10h0m1 0h0m0 1h0m1 1h0m0 16h0m0 20h0m0 13h0m0 15h0m0 9h0m0 80h0m1-164h0m0 2h0m0 97h0m0 63h0m0 13h0m1-169h0m1-16h0m0 29h0m0 147h0m1-48h0m1-11h0m1-123h0m0 48h0m0 71h0m1-159h0m0 237h0m1-101h0m1-89h0m1 1h0m0 189h0m1-201h0m1 22h0m1-24h0m0 3h0m0 28h0m0 62h0m2-116h0m0 46h0m0 58h0m1-70h0m0 38h0m0 15h0m1-27h0m0 29h0m2 76h0m2-93h0m1 15h0m1 13h0m1 31h0m1-5h0m1 11h0m0 89h0m1-182h0m0 26h0m1-40h0m1-23h0m1 22h0m1 7h0m0 24h0m1-32h0m0 69h0m0 44h0m0 7h0m1-92h0m3 65h0m1-67h0m0 71h0m0 72h0m1-148h0m1 33h0m2-17h0m1-8h0m0 138h0m2-60h0m2-36h0m3-111h0m0 86h0m0 25h0m0 128h0m3-90h0m1-71h0m0 81h0m1-68h0m1-33h0m3-44h0m0 59h0m5 8h0m1-50h0m0 83h0m1 123h0m3-146h0m1 113h0m3-62h0m3 60h0m4 0h0m33 36h0"/>
</g>
</g>
<path d="M1137.3 404.4H1386.7V653.8H1137.3Z M1229 404.4V653.8M1137.3 561.8H1386.7" stroke="#2b2b2b" stroke-width="1.25" fill="none"/>
<path d="M1137.3 653.8v5.5M1137.3 653.8h-5.8M1156.1 653.8v2.6M1137.3 635h-2.6M1167 653.8v2.6M1137.3 624.1h-2.6M1174.8 653.8v2.6M1137.3 616.3h-2.6M1180.9 653.8v3.6M1137.3 610.2h-3.6M1185.8 653.8v2.6M1137.3 605.3h-2.6M1190 653.8v2.6M1137.3 601.1h-2.6M1193.6 653.8v2.6M1137.3 597.5h-2.6M1196.8 653.8v2.6M1137.3 594.3h-2.6M1199.6 653.8v5.5M1137.3 591.5h-5.8M1218.4 653.8v2.6M1137.3 572.7h-2.6M1229.4 653.8v2.6M1137.3 561.7h-2.6M1237.2 653.8v2.6M1137.3 553.9h-2.6M1243.2 653.8v3.6M1137.3 547.9h-3.6M1248.1 653.8v2.6M1137.3 543h-2.6M1252.3 653.8v2.6M1137.3 538.8h-2.6M1255.9 653.8v2.6M1137.3 535.2h-2.6M1259.1 653.8v2.6M1137.3 532h-2.6M1262 653.8v5.5M1137.3 529.1h-5.8M1280.7 653.8v2.6M1137.3 510.4h-2.6M1291.7 653.8v2.6M1137.3 499.4h-2.6M1299.5 653.8v2.6M1137.3 491.6h-2.6M1305.5 653.8v3.6M1137.3 485.6h-3.6M1310.5 653.8v2.6M1137.3 480.6h-2.6M1314.6 653.8v2.6M1137.3 476.5h-2.6M1318.2 653.8v2.6M1137.3 472.9h-2.6M1321.4 653.8v2.6M1137.3 469.7h-2.6M1324.3 653.8v5.5M1137.3 466.8h-5.8M1343.1 653.8v2.6M1137.3 448h-2.6M1354 653.8v2.6M1137.3 437.1h-2.6M1361.8 653.8v2.6M1137.3 429.3h-2.6M1367.9 653.8v3.6M1137.3 423.2h-3.6M1372.8 653.8v2.6M1137.3 418.3h-2.6M1377 653.8v2.6M1137.3 414.1h-2.6M1380.6 653.8v2.6M1137.3 410.5h-2.6M1383.8 653.8v2.6M1137.3 407.3h-2.6M1386.6 653.8v5.5M1137.3 404.5h-5.8" stroke="#2b2b2b" stroke-width="1.1" fill="none"/>
<text x="1129.5" y="672.4" font-size="10.5" fill="#222" stroke="#222" stroke-width="0.2">10<tspan dy="-4" font-size="7">2</tspan></text>
<text x="1113.9" y="657.6" font-size="10.5" fill="#222" stroke="#222" stroke-width="0.2">10<tspan dy="-4" font-size="7">2</tspan></text>
<text x="1191.8" y="672.4" font-size="10.5" fill="#222" stroke="#222" stroke-width="0.2">10<tspan dy="-4" font-size="7">3</tspan></text>
<text x="1113.9" y="595.3" font-size="10.5" fill="#222" stroke="#222" stroke-width="0.2">10<tspan dy="-4" font-size="7">3</tspan></text>
<text x="1254.2" y="672.4" font-size="10.5" fill="#222" stroke="#222" stroke-width="0.2">10<tspan dy="-4" font-size="7">4</tspan></text>
<text x="1113.9" y="532.9" font-size="10.5" fill="#222" stroke="#222" stroke-width="0.2">10<tspan dy="-4" font-size="7">4</tspan></text>
<text x="1316.5" y="672.4" font-size="10.5" fill="#222" stroke="#222" stroke-width="0.2">10<tspan dy="-4" font-size="7">5</tspan></text>
<text x="1113.9" y="470.6" font-size="10.5" fill="#222" stroke="#222" stroke-width="0.2">10<tspan dy="-4" font-size="7">5</tspan></text>
<text x="1378.8" y="672.4" font-size="10.5" fill="#222" stroke="#222" stroke-width="0.2">10<tspan dy="-4" font-size="7">6</tspan></text>
<text x="1113.9" y="408.3" font-size="10.5" fill="#222" stroke="#222" stroke-width="0.2">10<tspan dy="-4" font-size="7">6</tspan></text>
<text x="1262" y="695.5" font-size="16.4" text-anchor="middle" textLength="47" lengthAdjust="spacingAndGlyphs" stroke="#111" stroke-width="0.35">FITC-H</text>
<text x="1104.3" y="529.1" font-size="16.4" text-anchor="middle" transform="rotate(-90 1104.3 529.1)" textLength="29" lengthAdjust="spacingAndGlyphs" stroke="#111" stroke-width="0.35">PI-H</text>
<rect x="1137.3" y="404.9" width="43.7" height="22.8" rx="3.2" fill="#fff" stroke="#b0b0b0" stroke-width="1"/>
<text x="1139.1" y="422.2" font-size="16.6" textLength="39.1" lengthAdjust="spacingAndGlyphs" fill="#111" stroke="#111" stroke-width="0.35">1.63%</text>
<rect x="1342.3" y="404.9" width="44.4" height="22.8" rx="3.2" fill="#fff" stroke="#b0b0b0" stroke-width="1"/>
<text x="1344.1" y="422.2" font-size="16.6" textLength="39.8" lengthAdjust="spacingAndGlyphs" fill="#111" stroke="#111" stroke-width="0.35">3.28%</text>
<rect x="1137.3" y="620.2" width="52.5" height="23.6" rx="3.2" fill="#fff" stroke="#b0b0b0" stroke-width="1"/>
<text x="1139.1" y="638.3" font-size="16.6" textLength="47.9" lengthAdjust="spacingAndGlyphs" fill="#111" stroke="#111" stroke-width="0.35">80.38%</text>
<rect x="1324.8" y="620.2" width="53.3" height="23.6" rx="3.2" fill="#fff" stroke="#b0b0b0" stroke-width="1"/>
<text x="1326.6" y="638.3" font-size="16.6" textLength="48.7" lengthAdjust="spacingAndGlyphs" fill="#111" stroke="#111" stroke-width="0.35">14.71%</text>
<text x="1594.1" y="374.8" font-size="21.6" text-anchor="middle">LPS+Tomatidine+CXCL10 Inhibitor</text>
<text x="1577.5" y="398.6" font-size="16.2" text-anchor="middle" textLength="120.5" lengthAdjust="spacingAndGlyphs" stroke="#111" stroke-width="0.35">[D] FITC-H / PI-H</text>
<g transform="translate(1452.8 653.8)">
<ellipse cx="68.6" cy="-54.9" rx="8" ry="12" fill="#ff0000" opacity="1" transform="rotate(-12 68.6 -54.9)" filter="url(#core)"/>
<g transform="scale(0.5)" stroke="#ff1010" stroke-opacity="0.68" stroke-width="3" stroke-linecap="round" fill="none">
<path d="M63 -141h0m28 35h0m10-35h0m1 26h0m0 10h0m0 22h0m1-64h0m1 27h0m1-9h0m1-32h0m1 30h0m1 11h0m0 3h0m0 32h0m1-37h0m0 6h0m1-5h0m0 29h0m1 17h0m1-65h0m0 26h0m0 3h0m0 8h0m0 1h0m0 5h0m1-38h0m0 20h0m0 1h0m0 27h0m0 27h0m1-89h0m0 2h0m0 6h0m0 1h0m0 4h0m0 1h0m0 1h0m0 1h0m0 19h0m0 4h0m0 2h0m0 6h0m1-44h0m0 10h0m0 4h0m0 5h0m0 2h0m0 2h0m0 5h0m0 6h0m0 22h0m0 6h0m0 18h0m1-155h0m0 71h0m0 22h0m0 5h0m0 1h0m0 2h0m0 3h0m0 2h0m0 1h0m1-25h0m0 4h0m0 7h0m0 5h0m0 2h0m0 1h0m0 1h0m0 6h0m0 5h0m0 1h0m1-31h0m0 2h0m0 1h0m0 16h0m0 1h0m0 1h0m0 10h0m0 6h0m0 3h0m0 6h0m0 2h0m0 11h0m0 8h0m1-80h0m0 1h0m0 13h0m0 3h0m0 6h0m0 7h0m0 1h0m0 2h0m0 2h0m0 2h0m0 1h0m0 2h0m0 1h0m0 5h0m0 1h0m0 2h0m0 10h0m0 2h0m0 7h0m1-54h0m0 4h0m0 4h0m0 4h0m0 2h0m0 7h0m0 16h0m0 5h0m0 2h0m1-39h0m0 5h0m0 15h0m0 1h0m0 2h0m0 4h0m0 2h0m0 11h0m1-42h0m0 1h0m0 5h0m0 6h0m0 1h0m0 1h0m0 1h0m0 1h0m0 1h0m0 5h0m0 11h0m0 7h0m1-112h0m0 44h0m0 1h0m0 9h0m0 14h0m0 1h0m0 4h0m0 8h0m0 1h0m0 9h0m0 1h0m0 10h0m0 1h0m0 1h0m0 7h0m0 6h0m0 2h0m0 2h0m0 13h0m1-77h0m0 14h0m0 2h0m0 2h0m0 1h0m0 1h0m0 2h0m0 2h0m0 4h0m0 5h0m0 1h0m0 2h0m0 4h0m0 1h0m0 8h0m0 1h0m0 7h0m0 12h0m0 11h0m1-162h0m0 86h0m0 3h0m0 10h0m0 3h0m0 3h0m0 1h0m0 5h0m0 4h0m0 1h0m0 4h0m0 3h0m0 1h0m0 1h0m0 3h0m0 5h0m0 1h0m0 4h0m0 9h0m1-62h0m0 6h0m0 6h0m0 1h0m0 1h0m0 2h0m0 1h0m0 1h0m0 5h0m0 2h0m0 1h0m0 1h0m0 1h0m0 7h0m0 1h0m0 6h0m0 2h0m0 3h0m0 6h0m0 9h0m1-49h0m0 4h0m0 1h0m0 2h0m0 1h0m0 5h0m0 3h0m0 4h0m0 1h0m0 1h0m0 1h0m0 2h0m0 2h0m0 1h0m0 3h0m0 2h0m0 10h0m0 1h0m0 4h0m0 10h0m1-67h0m0 1h0m0 4h0m0 2h0m0 5h0m0 2h0m0 1h0m0 6h0m0 5h0m0 2h0m0 9h0m0 4h0m0 1h0m0 2h0m0 18h0m1-66h0m0 6h0m0 4h0m0 8h0m0 1h0m0 3h0m0 3h0m0 1h0m0 3h0m0 4h0m0 3h0m0 1h0m0 5h0m0 3h0m0 1h0m0 1h0m0 2h0m0 1h0m0 3h0m0 1h0m0 1h0m0 6h0m0 2h0m0 3h0m1-68h0m0 10h0m0 8h0m0 4h0m0 2h0m0 2h0m0 2h0m0 1h0m0 3h0m0 1h0m0 1h0m0 4h0m0 1h0m0 5h0m0 1h0m0 2h0m0 6h0m0 1h0m0 3h0m0 3h0m0 1h0m0 3h0m1-51h0m0 3h0m0 1h0m0 1h0m0 1h0m0 2h0m0 1h0m0 2h0m0 1h0m0 1h0m0 3h0m0 4h0m0 3h0m0 1h0m0 2h0m0 1h0m0 2h0m0 1h0m0 1h0m0 4h0m0 3h0m0 3h0m0 1h0m0 1h0m0 2h0m0 2h0m0 4h0m0 1h0m0 1h0m0 4h0m0 4h0m1-73h0m0 2h0m0 10h0m0 9h0m0 1h0m0 1h0m0 1h0m0 3h0m0 2h0m0 1h0m0 6h0m0 2h0m0 1h0m0 1h0m0 5h0m0 2h0m0 2h0m0 1h0m0 1h0m0 7h0m0 4h0m1-63h0m0 9h0m0 5h0m0 2h0m0 6h0m0 1h0m0 1h0m0 2h0m0 1h0m0 2h0m0 1h0m0 2h0m0 2h0m0 1h0m0 1h0m0 1h0m0 1h0m0 1h0m0 1h0m0 1h0m0 1h0m0 2h0m0 1h0m0 2h0m0 2h0m0 4h0m0 2h0m0 4h0m0 5h0m1-56h0m0 2h0m0 2h0m0 4h0m0 1h0m0 1h0m0 3h0m0 1h0m0 3h0m0 1h0m0 2h0m0 2h0m0 2h0m0 1h0m0 2h0m0 2h0m0 1h0m0 2h0m0 1h0m0 1h0m0 1h0m0 5h0m0 3h0m0 1h0m0 3h0m0 2h0m0 9h0m0 3h0m0 3h0m1-76h0m0 3h0m0 3h0m0 16h0m0 2h0m0 1h0m0 1h0m0 2h0m0 3h0m0 4h0m0 2h0m0 1h0m0 7h0m0 1h0m0 1h0m0 1h0m0 3h0m0 2h0m0 1h0m0 4h0m0 3h0m0 1h0m0 1h0m0 2h0m0 2h0m0 2h0m0 1h0m0 11h0m1-83h0m0 13h0m0 2h0m0 3h0m0 1h0m0 1h0m0 2h0m0 2h0m0 1h0m0 2h0m0 2h0m0 1h0m0 2h0m0 2h0m0 1h0m0 1h0m0 1h0m0 2h0m0 2h0m0 1h0m0 1h0m0 1h0m0 2h0m0 1h0m0 1h0m0 1h0m0 1h0m0 2h0m0 3h0m0 1h0m0 3h0m0 4h0m0 1h0m0 10h0m0 3h0m1-77h0m0 11h0m0 8h0m0 1h0m0 2h0m0 1h0m0 3h0m0 2h0m0 4h0m0 1h0m0 1h0m0 1h0m0 1h0m0 1h0m0 1h0m0 2h0m0 1h0m0 1h0m0 2h0m0 1h0m0 1h0m0 1h0m0 1h0m0 6h0m0 1h0m0 5h0m0 1h0m0 4h0m0 4h0m1-71h0m0 11h0m0 5h0m0 2h0m0 1h0m0 2h0m0 2h0m0 4h0m0 1h0m0 1h0m0 3h0m0 4h0m0 2h0m0 1h0m0 1h0m0 1h0m0 1h0m0 1h0m0 2h0m0 3h0m0 2h0m0 1h0m0 1h0m0 2h0m0 1h0m0 2h0m0 1h0m0 1h0m0 1h0m0 1h0m0 2h0m0 4h0m0 2h0m0 4h0m0 2h0m0 2h0m0 4h0m0 2h0m0 5h0m0 4h0m1-101h0m0 19h0m0 7h0m0 12h0m0 2h0m0 2h0m0 4h0m0 2h0m0 1h0m0 1h0m0 1h0m0 2h0m0 1h0m0 1h0m0 2h0m0 2h0m0 2h0m0 2h0m0 1h0m0 1h0m0 1h0m0 5h0m0 5h0m0 1h0m0 5h0m0 6h0m0 2h0m0 2h0m0 2h0m1-65h0m0 5h0m0 1h0m0 4h0m0 1h0m0 1h0m0 1h0m0 2h0m0 1h0m0 2h0m0 3h0m0 1h0m0 4h0m0 2h0m0 1h0m0 1h0m0 2h0m0 2h0m0 3h0m0 1h0m0 1h0m0 3h0m0 5h0m0 3h0m0 2h0m0 2h0m0 4h0m0 4h0m1-73h0m0 8h0m0 6h0m0 4h0m0 2h0m0 6h0m0 1h0m0 2h0m0 3h0m0 1h0m0 1h0m0 1h0m0 1h0m0 1h0m0 2h0m0 1h0m0 1h0m0 1h0m0 2h0m0 1h0m0 1h0m0 1h0m0 5h0m0 5h0m0 1h0m0 7h0m0 2h0m0 25h0m1-117h0m0 37h0m0 1h0m0 3h0m0 9h0m0 1h0m0 3h0m0 1h0m0 3h0m0 2h0m0 1h0m0 2h0m0 1h0m0 1h0m0 1h0m0 1h0m0 3h0m0 1h0m0 3h0m0 2h0m0 3h0m0 3h0m0 1h0m0 15h0m0 2h0m0 3h0m0 1h0m1-82h0m0 15h0m0 4h0m0 2h0m0 1h0m0 8h0m0 1h0m0 2h0m0 1h0m0 1h0m0 1h0m0 2h0m0 2h0m0 1h0m0 8h0m0 4h0m0 1h0m0 3h0m0 2h0m0 5h0m0 7h0m0 7h0m1-126h0m0 66h0m0 2h0m0 3h0m0 2h0m0 3h0m0 3h0m0 3h0m0 2h0m0 2h0m0 1h0m0 1h0m0 2h0m0 1h0m0 1h0m0 1h0m0 1h0m0 1h0m0 2h0m0 1h0m0 2h0m0 2h0m0 1h0m0 8h0m0 2h0m0 1h0m0 1h0m0 9h0m1-60h0m0 2h0m0 8h0m0 1h0m0 7h0m0 2h0m0 1h0m0 1h0m0 1h0m0 3h0m0 2h0m0 7h0m0 2h0m0 4h0m0 5h0m0 3h0m0 2h0m0 2h0m0 3h0m0 18h0m1-89h0m0 11h0m0 1h0m0 2h0m0 7h0m0 4h0m0 3h0m0 3h0m0 5h0m0 1h0m0 1h0m0 1h0m0 2h0m0 1h0m0 3h0m0 2h0m0 4h0m0 2h0m0 5h0m0 2h0m0 2h0m1-52h0m0 3h0m0 4h0m0 6h0m0 2h0m0 3h0m0 3h0m0 4h0m0 1h0m0 3h0m0 1h0m0 5h0m0 5h0m0 1h0m0 4h0m0 2h0m0 3h0m0 6h0m0 10h0m0 13h0m1-81h0m0 5h0m0 12h0m0 2h0m0 1h0m0 1h0m0 13h0m0 1h0m0 2h0m0 3h0m0 8h0m0 1h0m0 1h0m0 4h0m0 3h0m0 19h0m1-101h0m0 9h0m0 11h0m0 25h0m0 4h0m0 1h0m0 1h0m0 1h0m0 5h0m0 2h0m0 2h0m0 1h0m0 1h0m0 1h0m0 4h0m0 8h0m0 5h0m0 2h0m0 4h0m0 1h0m1-97h0m0 5h0m0 19h0m0 1h0m0 1h0m0 21h0m0 4h0m0 2h0m0 1h0m0 2h0m0 9h0m0 2h0m0 2h0m0 1h0m0 2h0m0 1h0m0 2h0m0 2h0m0 2h0m0 1h0m0 2h0m0 1h0m0 1h0m0 4h0m0 16h0m0 7h0m1-83h0m0 1h0m0 6h0m0 4h0m0 12h0m0 2h0m0 2h0m0 5h0m0 3h0m0 6h0m0 1h0m0 3h0m0 6h0m0 5h0m0 1h0m0 4h0m0 4h0m0 12h0m1-128h0m0 72h0m0 16h0m0 1h0m0 1h0m0 5h0m0 2h0m0 3h0m0 1h0m0 1h0m0 1h0m0 2h0m0 6h0m1-126h0m0 35h0m0 47h0m0 8h0m0 4h0m0 1h0m0 2h0m0 1h0m0 1h0m0 3h0m0 3h0m0 6h0m0 5h0m0 6h0m0 4h0m0 1h0m1-64h0m0 15h0m0 1h0m0 6h0m0 3h0m0 9h0m0 1h0m0 1h0m0 2h0m0 7h0m0 2h0m0 5h0m0 8h0m0 2h0m0 1h0m0 6h0m0 7h0m1-59h0m0 8h0m0 11h0m0 2h0m0 2h0m0 1h0m0 2h0m0 7h0m0 6h0m0 2h0m0 3h0m0 7h0m1-155h0m0 68h0m0 43h0m0 14h0m0 9h0m0 1h0m0 6h0m0 1h0m0 1h0m0 4h0m0 1h0m0 10h0m0 4h0m1-48h0m0 3h0m0 8h0m0 4h0m0 1h0m0 3h0m0 3h0m0 7h0m0 4h0m0 3h0m0 1h0m0 44h0m1-97h0m0 8h0m0 5h0m0 18h0m0 1h0m0 5h0m0 2h0m0 1h0m0 13h0m1-106h0m0 52h0m0 3h0m0 2h0m0 14h0m0 5h0m0 11h0m0 2h0m0 1h0m0 5h0m0 1h0m0 1h0m0 1h0m0 30h0m1-83h0m0 30h0m0 8h0m0 1h0m0 14h0m0 14h0m1-116h0m0 74h0m0 17h0m0 7h0m0 28h0m1-141h0m0 53h0m0 3h0m0 51h0m0 3h0m0 4h0m0 3h0m0 3h0m0 14h0m1-70h0m0 52h0m0 22h0m1-123h0m0 81h0m0 6h0m0 17h0m1-118h0m0 85h0m0 17h0m0 6h0m0 5h0m0 2h0m0 10h0m1 8h0m0 3h0m1-16h0m0 58h0m1-145h0m0 20h0m0 38h0m0 5h0m0 4h0m0 3h0m0 2h0m0 17h0m0 36h0m1-117h0m0 80h0m0 19h0m1-119h0m1-7h0m1-29h0m0 82h0m0 27h0m0 6h0m0 19h0m1-67h0m0 22h0m1-59h0m0 71h0m0 21h0m0 9h0m1-182h0m0 65h0m0 66h0m0 60h0m1-121h0m0 70h0m0 41h0m1-43h0m0 5h0m0 1h0m0 36h0m0 35h0m1-37h0m0 19h0m0 45h0m1-196h0m0 23h0m0 81h0m1-109h0m0 4h0m0 98h0m1 35h0m0 2h0m1-77h0m1-83h0m0 62h0m0 2h0m0 47h0m0 24h0m0 58h0m2-193h0m0 86h0m1-40h0m1 24h0m0 7h0m0 17h0m3 28h0m1-28h0m0 59h0m1-69h0m0 69h0m1-99h0m1-20h0m1 62h0m1-12h0m2-47h0m1 8h0m2 43h0m1-52h0m0 59h0m0 51h0m3-87h0m0 56h0m0 16h0m1-54h0m0 33h0m0 61h0m1-95h0m0 43h0m0 20h0m1-54h0m1 162h0m2-64h0m1-88h0m2-56h0m0 120h0m2-132h0m1-22h0m4 49h0m0 73h0m6-7h0m1-122h0m0 108h0m0 55h0m3-83h0m2 163h0m17-40h0m9-148h0m5-17h0m12 62h0m12-83h0"/>
<path d="M81 -154h0m15 44h0m2 35h0m2-42h0m3-15h0m0 6h0m0 12h0m1 16h0m0 8h0m1-24h0m1-3h0m0 9h0m0 55h0m1-45h0m1-50h0m0 38h0m0 10h0m1-10h0m0 4h0m0 4h0m1-36h0m0 41h0m0 3h0m1-61h0m0 28h0m0 8h0m0 4h0m0 18h0m1-53h0m0 27h0m0 12h0m1-35h0m0 3h0m0 13h0m0 18h0m0 24h0m1-46h0m0 3h0m0 3h0m0 10h0m0 5h0m0 14h0m1-106h0m0 76h0m1-1h0m0 1h0m0 10h0m0 2h0m0 5h0m0 4h0m0 1h0m0 1h0m0 5h0m1-39h0m0 3h0m0 1h0m0 9h0m0 5h0m0 9h0m0 4h0m0 16h0m1-64h0m0 36h0m0 1h0m0 2h0m0 5h0m0 7h0m0 10h0m1-51h0m0 8h0m0 2h0m0 2h0m0 10h0m0 9h0m0 3h0m0 2h0m0 3h0m0 4h0m0 1h0m0 5h0m0 8h0m1-67h0m0 9h0m0 7h0m0 2h0m0 5h0m0 2h0m0 3h0m0 6h0m0 5h0m0 2h0m0 2h0m0 2h0m0 2h0m0 5h0m0 5h0m0 5h0m0 12h0m1-76h0m0 8h0m0 17h0m0 1h0m0 7h0m0 5h0m0 3h0m0 10h0m0 4h0m0 23h0m0 16h0m1-85h0m0 8h0m0 1h0m0 6h0m0 3h0m0 2h0m0 4h0m0 6h0m0 5h0m0 6h0m0 3h0m0 4h0m0 7h0m0 8h0m0 9h0m0 4h0m1-70h0m0 5h0m0 8h0m0 4h0m0 2h0m0 2h0m0 3h0m0 3h0m0 1h0m0 1h0m0 2h0m0 1h0m0 1h0m0 2h0m0 2h0m0 4h0m0 7h0m0 20h0m1-78h0m0 3h0m0 18h0m0 2h0m0 7h0m0 1h0m0 2h0m0 3h0m0 3h0m0 3h0m0 9h0m0 8h0m0 2h0m0 3h0m0 1h0m0 5h0m1-69h0m0 8h0m0 7h0m0 1h0m0 4h0m0 9h0m0 2h0m0 1h0m0 3h0m0 1h0m0 1h0m0 3h0m0 2h0m0 2h0m0 1h0m0 2h0m0 1h0m0 9h0m0 1h0m0 6h0m0 6h0m0 3h0m1-66h0m0 2h0m0 7h0m0 6h0m0 2h0m0 1h0m0 1h0m0 1h0m0 1h0m0 7h0m0 1h0m0 1h0m0 2h0m0 2h0m0 1h0m0 1h0m0 1h0m0 1h0m0 2h0m0 3h0m0 3h0m0 3h0m0 2h0m0 2h0m0 7h0m0 3h0m0 6h0m0 4h0m1-76h0m0 9h0m0 3h0m0 2h0m0 2h0m0 1h0m0 1h0m0 4h0m0 2h0m0 1h0m0 3h0m0 1h0m0 2h0m0 4h0m0 3h0m0 1h0m0 1h0m0 4h0m0 8h0m0 2h0m0 6h0m0 4h0m0 1h0m0 24h0m1-74h0m0 3h0m0 2h0m0 2h0m0 4h0m0 1h0m0 5h0m0 1h0m0 2h0m0 4h0m0 2h0m0 5h0m0 1h0m0 3h0m0 2h0m0 2h0m0 1h0m0 2h0m0 3h0m0 3h0m0 4h0m0 4h0m1-113h0m0 57h0m0 1h0m0 3h0m0 2h0m0 3h0m0 5h0m0 1h0m0 3h0m0 2h0m0 4h0m0 1h0m0 1h0m0 1h0m0 1h0m0 2h0m0 1h0m0 2h0m0 2h0m0 2h0m0 5h0m0 12h0m0 3h0m1-66h0m0 1h0m0 7h0m0 4h0m0 1h0m0 2h0m0 4h0m0 3h0m0 2h0m0 2h0m0 8h0m0 2h0m0 1h0m0 6h0m0 1h0m0 4h0m0 1h0m0 7h0m0 3h0m1-92h0m0 28h0m0 13h0m0 2h0m0 1h0m0 2h0m0 1h0m0 1h0m0 1h0m0 5h0m0 1h0m0 2h0m0 3h0m0 1h0m0 1h0m0 1h0m0 1h0m0 2h0m0 1h0m0 1h0m0 2h0m0 2h0m0 4h0m0 1h0m0 1h0m0 1h0m0 4h0m0 1h0m0 3h0m0 2h0m0 4h0m0 1h0m0 1h0m1-56h0m0 2h0m0 3h0m0 3h0m0 1h0m0 1h0m0 1h0m0 2h0m0 1h0m0 1h0m0 1h0m0 1h0m0 1h0m0 1h0m0 3h0m0 2h0m0 1h0m0 1h0m0 3h0m0 1h0m0 2h0m0 3h0m0 2h0m0 1h0m0 3h0m0 1h0m0 16h0m0 10h0m1-67h0m0 2h0m0 1h0m0 1h0m0 2h0m0 1h0m0 7h0m0 2h0m0 2h0m0 3h0m0 2h0m0 1h0m0 4h0m0 1h0m0 2h0m0 1h0m0 4h0m0 4h0m0 1h0m0 3h0m0 4h0m0 1h0m0 1h0m0 4h0m0 3h0m1-78h0m0 6h0m0 4h0m0 2h0m0 3h0m0 6h0m0 13h0m0 1h0m0 5h0m0 1h0m0 1h0m0 1h0m0 1h0m0 2h0m0 2h0m0 1h0m0 1h0m0 1h0m0 2h0m0 1h0m0 4h0m0 1h0m0 1h0m0 1h0m0 1h0m0 2h0m0 6h0m0 6h0m0 1h0m0 16h0m1-97h0m0 15h0m0 6h0m0 2h0m0 6h0m0 4h0m0 6h0m0 1h0m0 1h0m0 2h0m0 1h0m0 1h0m0 2h0m0 2h0m0 4h0m0 3h0m0 1h0m0 1h0m0 1h0m0 1h0m0 10h0m0 1h0m0 1h0m1-49h0m0 7h0m0 1h0m0 4h0m0 1h0m0 1h0m0 1h0m0 4h0m0 3h0m0 2h0m0 2h0m0 2h0m0 1h0m0 2h0m0 2h0m0 1h0m0 4h0m0 1h0m0 2h0m0 4h0m0 1h0m0 1h0m0 2h0m0 4h0m1-47h0m0 1h0m0 1h0m0 1h0m0 1h0m0 1h0m0 2h0m0 1h0m0 1h0m0 1h0m0 3h0m0 1h0m0 1h0m0 3h0m0 1h0m0 1h0m0 1h0m0 2h0m0 1h0m0 2h0m0 1h0m0 1h0m0 1h0m0 1h0m0 2h0m0 4h0m0 2h0m0 2h0m0 2h0m0 2h0m0 1h0m0 1h0m0 7h0m0 12h0m1-83h0m0 6h0m0 3h0m0 2h0m0 6h0m0 3h0m0 2h0m0 4h0m0 1h0m0 1h0m0 1h0m0 1h0m0 1h0m0 4h0m0 1h0m0 2h0m0 1h0m0 2h0m0 1h0m0 1h0m0 1h0m0 1h0m0 3h0m0 2h0m0 1h0m0 1h0m0 3h0m0 2h0m0 1h0m0 2h0m0 2h0m0 1h0m0 1h0m0 2h0m1-82h0m0 28h0m0 8h0m0 2h0m0 1h0m0 1h0m0 1h0m0 1h0m0 2h0m0 1h0m0 2h0m0 4h0m0 1h0m0 1h0m0 1h0m0 1h0m0 2h0m0 1h0m0 1h0m0 2h0m0 1h0m0 1h0m0 1h0m0 1h0m0 6h0m0 1h0m0 1h0m0 3h0m0 2h0m0 1h0m0 11h0m0 1h0m1-72h0m0 2h0m0 2h0m0 3h0m0 3h0m0 4h0m0 6h0m0 1h0m0 1h0m0 1h0m0 1h0m0 6h0m0 3h0m0 1h0m0 2h0m0 3h0m0 2h0m0 1h0m0 1h0m0 1h0m0 1h0m0 2h0m0 1h0m0 1h0m0 5h0m0 3h0m0 2h0m0 7h0m0 3h0m0 2h0m1-73h0m0 4h0m0 7h0m0 10h0m0 1h0m0 3h0m0 3h0m0 2h0m0 1h0m0 2h0m0 2h0m0 3h0m0 7h0m0 2h0m0 1h0m0 1h0m0 2h0m0 1h0m0 1h0m0 3h0m0 2h0m0 3h0m0 15h0m1-60h0m0 1h0m0 3h0m0 3h0m0 1h0m0 2h0m0 2h0m0 1h0m0 1h0m0 6h0m0 1h0m0 1h0m0 1h0m0 2h0m0 1h0m0 2h0m0 3h0m0 2h0m0 1h0m0 2h0m0 1h0m0 1h0m0 2h0m0 1h0m0 2h0m0 4h0m0 1h0m0 3h0m1-73h0m0 11h0m0 13h0m0 3h0m0 3h0m0 2h0m0 1h0m0 9h0m0 1h0m0 1h0m0 1h0m0 3h0m0 1h0m0 3h0m0 1h0m0 1h0m0 1h0m0 3h0m0 1h0m0 1h0m0 1h0m0 1h0m0 3h0m0 26h0m0 1h0m1-84h0m0 6h0m0 16h0m0 1h0m0 2h0m0 1h0m0 1h0m0 1h0m0 1h0m0 1h0m0 1h0m0 3h0m0 1h0m0 1h0m0 1h0m0 3h0m0 1h0m0 2h0m0 1h0m0 1h0m0 1h0m0 1h0m0 2h0m0 1h0m0 3h0m0 4h0m0 3h0m0 4h0m0 4h0m0 6h0m1-70h0m0 18h0m0 1h0m0 1h0m0 4h0m0 3h0m0 2h0m0 4h0m0 1h0m0 3h0m0 3h0m0 1h0m0 1h0m0 3h0m0 1h0m0 4h0m0 1h0m0 4h0m0 3h0m0 1h0m0 1h0m0 9h0m0 9h0m1-71h0m0 2h0m0 16h0m0 1h0m0 1h0m0 3h0m0 1h0m0 1h0m0 2h0m0 1h0m0 1h0m0 1h0m0 4h0m0 1h0m0 5h0m0 1h0m0 2h0m0 4h0m0 4h0m0 2h0m0 3h0m0 7h0m0 3h0m1-71h0m0 6h0m0 3h0m0 1h0m0 5h0m0 1h0m0 3h0m0 4h0m0 1h0m0 2h0m0 2h0m0 5h0m0 1h0m0 2h0m0 1h0m0 1h0m0 1h0m0 1h0m0 1h0m0 5h0m0 1h0m0 1h0m0 2h0m0 1h0m0 1h0m0 6h0m0 1h0m0 3h0m1-116h0m0 24h0m0 11h0m0 1h0m0 1h0m0 25h0m0 3h0m0 7h0m0 3h0m0 4h0m0 5h0m0 2h0m0 6h0m0 2h0m0 4h0m0 1h0m0 4h0m0 5h0m0 1h0m0 1h0m0 2h0m0 7h0m1-59h0m0 4h0m0 3h0m0 10h0m0 6h0m0 2h0m0 1h0m0 1h0m0 5h0m0 3h0m0 1h0m0 5h0m0 17h0m0 1h0m0 2h0m0 17h0m1-94h0m0 16h0m0 4h0m0 7h0m0 8h0m0 5h0m0 4h0m0 2h0m0 2h0m0 1h0m0 1h0m0 1h0m0 1h0m0 2h0m0 3h0m0 2h0m0 4h0m0 5h0m0 5h0m0 6h0m0 4h0m1-46h0m0 6h0m0 6h0m0 2h0m0 4h0m0 4h0m0 2h0m0 15h0m0 7h0m1-72h0m0 18h0m0 1h0m0 4h0m0 4h0m0 1h0m0 3h0m0 3h0m0 2h0m0 5h0m0 2h0m0 1h0m0 1h0m0 2h0m0 8h0m0 1h0m0 4h0m0 8h0m1-75h0m0 22h0m0 2h0m0 1h0m0 3h0m0 3h0m0 1h0m0 7h0m0 1h0m0 10h0m0 1h0m0 5h0m0 7h0m0 11h0m0 3h0m0 5h0m1-124h0m0 60h0m0 6h0m0 6h0m0 3h0m0 4h0m0 1h0m0 3h0m0 4h0m0 4h0m0 5h0m0 16h0m0 8h0m0 2h0m1-91h0m0 2h0m0 13h0m0 11h0m0 6h0m0 4h0m0 7h0m0 5h0m0 7h0m0 12h0m0 6h0m0 16h0m1-161h0m0 19h0m0 58h0m0 10h0m0 17h0m0 11h0m0 1h0m0 5h0m0 2h0m0 4h0m0 10h0m0 6h0m0 19h0m1-64h0m0 19h0m0 13h0m0 1h0m0 1h0m0 4h0m0 1h0m0 3h0m0 21h0m1-75h0m0 9h0m0 16h0m0 2h0m0 5h0m0 15h0m0 1h0m0 1h0m0 8h0m1-38h0m0 15h0m0 6h0m0 3h0m0 3h0m0 5h0m1-22h0m0 3h0m0 4h0m0 9h0m0 5h0m0 4h0m0 12h0m0 5h0m0 20h0m1-139h0m0 65h0m0 5h0m0 6h0m0 12h0m0 5h0m0 1h0m0 6h0m1-109h0m0 59h0m0 18h0m0 17h0m0 6h0m1-19h0m0 8h0m0 12h0m0 3h0m0 5h0m0 12h0m0 17h0m1-157h0m0 22h0m0 54h0m0 63h0m0 80h0m1-145h0m0 22h0m0 13h0m1-6h0m0 20h0m0 17h0m1-112h0m0 26h0m0 71h0m0 26h0m1-57h0m0 4h0m0 24h0m0 3h0m0 7h0m1-87h0m0 12h0m0 39h0m0 37h0m1-39h0m0 31h0m0 9h0m1-5h0m1-140h0m0 50h0m1 49h0m0 27h0m0 2h0m1-55h0m0 21h0m0 5h0m1-17h0m0 7h0m0 34h0m1-16h0m0 15h0m1-14h0m0 13h0m0 11h0m0 6h0m1-127h0m0 8h0m0 65h0m0 27h0m1-125h0m0 60h0m1 18h0m0 7h0m0 10h0m1 14h0m0 15h0m1-62h0m0 106h0m2-124h0m0 72h0m1-8h0m1-70h0m0 32h0m1 49h0m1-84h0m0 27h0m1-18h0m0 2h0m0 14h0m0 99h0m0 65h0m1-170h0m0 5h0m0 67h0m1 66h0m1-141h0m0 80h0m1 9h0m1-124h0m0 30h0m1-2h0m0 70h0m0 55h0m1-111h0m3-10h0m0 160h0m1-167h0m0 33h0m1-40h0m0 47h0m0 47h0m1-70h0m0 23h0m0 88h0m1-73h0m1 90h0m1-97h0m1-62h0m0 117h0m0 9h0m1-84h0m0 23h0m2 13h0m0 56h0m2-116h0m0 106h0m0 3h0m0 6h0m1-111h0m2 91h0m1-53h0m1-105h0m1 127h0m1 6h0m0 40h0m2-131h0m2 7h0m1 74h0m4-39h0m1 33h0m1-16h0m5-59h0m0 158h0m1-126h0m4 61h0m15 24h0m4-145h0m0 44h0m3 91h0m5-132h0"/>
<path d="M87 -91h0m2-3h0m8-35h0m6 35h0m1-36h0m0 1h0m0 14h0m1-13h0m1-42h0m1 40h0m0 34h0m0 2h0m1-32h0m0 31h0m1-23h0m0 20h0m1-48h0m0 6h0m0 8h0m0 15h0m1-20h0m0 6h0m0 17h0m1-10h0m0 4h0m0 10h0m1-31h0m0 7h0m0 12h0m0 3h0m0 3h0m0 6h0m0 3h0m1-47h0m0 15h0m0 9h0m0 17h0m0 5h0m0 4h0m0 8h0m1-37h0m0 22h0m0 2h0m0 1h0m0 3h0m0 21h0m0 21h0m1-103h0m0 30h0m0 30h0m0 3h0m0 11h0m1-40h0m0 8h0m0 2h0m0 4h0m0 3h0m0 17h0m1-44h0m0 1h0m0 10h0m0 7h0m0 11h0m0 4h0m0 4h0m0 6h0m0 24h0m1-57h0m0 2h0m0 17h0m0 1h0m0 1h0m0 1h0m0 1h0m0 7h0m1-64h0m0 26h0m0 12h0m0 8h0m0 1h0m0 12h0m0 6h0m0 2h0m0 2h0m0 11h0m1-54h0m0 4h0m0 1h0m0 3h0m0 3h0m0 2h0m0 4h0m0 3h0m0 1h0m0 1h0m0 2h0m0 3h0m0 1h0m0 2h0m0 1h0m0 6h0m0 5h0m0 3h0m0 6h0m0 2h0m1-55h0m0 2h0m0 3h0m0 6h0m0 2h0m0 6h0m0 3h0m0 4h0m0 2h0m0 2h0m0 4h0m0 2h0m0 1h0m0 1h0m0 7h0m0 5h0m0 24h0m1-91h0m0 12h0m0 16h0m0 7h0m0 8h0m0 4h0m0 1h0m0 6h0m0 5h0m0 28h0m1-61h0m0 5h0m0 4h0m0 2h0m0 2h0m0 6h0m0 3h0m0 2h0m0 2h0m0 1h0m0 7h0m0 1h0m0 1h0m0 2h0m0 3h0m0 2h0m0 1h0m0 4h0m1-61h0m0 6h0m0 3h0m0 1h0m0 8h0m0 1h0m0 1h0m0 3h0m0 2h0m0 3h0m0 3h0m0 3h0m0 1h0m0 1h0m0 3h0m0 2h0m0 1h0m0 3h0m0 4h0m0 2h0m0 1h0m0 16h0m1-67h0m0 7h0m0 9h0m0 4h0m0 1h0m0 6h0m0 4h0m0 1h0m0 2h0m0 4h0m0 2h0m0 2h0m0 2h0m0 3h0m0 1h0m0 1h0m0 3h0m0 8h0m0 3h0m1-57h0m0 1h0m0 2h0m0 3h0m0 1h0m0 1h0m0 2h0m0 5h0m0 1h0m0 4h0m0 2h0m0 1h0m0 2h0m0 1h0m0 1h0m0 2h0m0 1h0m0 1h0m0 1h0m0 1h0m0 2h0m0 4h0m0 2h0m0 3h0m0 2h0m0 2h0m0 3h0m0 6h0m0 10h0m0 8h0m1-73h0m0 4h0m0 1h0m0 6h0m0 3h0m0 3h0m0 1h0m0 2h0m0 2h0m0 1h0m0 1h0m0 2h0m0 3h0m0 1h0m0 2h0m0 1h0m0 1h0m0 3h0m0 4h0m0 1h0m0 1h0m0 3h0m0 10h0m1-105h0m0 17h0m0 25h0m0 8h0m0 6h0m0 2h0m0 3h0m0 1h0m0 2h0m0 1h0m0 4h0m0 1h0m0 2h0m0 1h0m0 1h0m0 1h0m0 1h0m0 1h0m0 2h0m0 2h0m0 5h0m0 1h0m0 2h0m0 1h0m0 5h0m0 1h0m0 2h0m0 3h0m1-59h0m0 3h0m0 3h0m0 2h0m0 4h0m0 1h0m0 7h0m0 2h0m0 1h0m0 3h0m0 1h0m0 2h0m0 2h0m0 1h0m0 2h0m0 4h0m0 3h0m0 3h0m0 1h0m0 4h0m0 4h0m0 10h0m0 15h0m1-77h0m0 6h0m0 3h0m0 2h0m0 2h0m0 4h0m0 3h0m0 2h0m0 1h0m0 1h0m0 2h0m0 1h0m0 2h0m0 1h0m0 3h0m0 1h0m0 2h0m0 4h0m0 1h0m0 1h0m0 1h0m0 1h0m0 3h0m0 3h0m0 2h0m0 3h0m0 1h0m0 5h0m0 8h0m0 24h0m1-85h0m0 2h0m0 2h0m0 3h0m0 1h0m0 1h0m0 3h0m0 1h0m0 1h0m0 2h0m0 1h0m0 3h0m0 2h0m0 2h0m0 2h0m0 1h0m0 1h0m0 1h0m0 2h0m0 2h0m0 2h0m0 2h0m0 3h0m0 3h0m0 1h0m0 1h0m0 1h0m0 1h0m0 5h0m0 2h0m1-57h0m0 1h0m0 14h0m0 1h0m0 3h0m0 1h0m0 1h0m0 2h0m0 2h0m0 5h0m0 2h0m0 1h0m0 8h0m0 1h0m0 6h0m0 4h0m0 4h0m0 4h0m0 10h0m1-104h0m0 27h0m0 11h0m0 6h0m0 2h0m0 1h0m0 2h0m0 1h0m0 1h0m0 4h0m0 1h0m0 1h0m0 1h0m0 3h0m0 1h0m0 1h0m0 1h0m0 3h0m0 2h0m0 2h0m0 2h0m0 1h0m0 1h0m0 1h0m0 2h0m0 1h0m0 4h0m0 1h0m0 12h0m0 9h0m0 3h0m1-151h0m0 38h0m0 27h0m0 10h0m0 6h0m0 1h0m0 3h0m0 3h0m0 1h0m0 5h0m0 1h0m0 3h0m0 2h0m0 1h0m0 1h0m0 1h0m0 1h0m0 1h0m0 2h0m0 1h0m0 5h0m0 2h0m0 4h0m0 1h0m0 2h0m0 1h0m0 1h0m0 2h0m0 3h0m1-55h0m0 8h0m0 4h0m0 4h0m0 3h0m0 1h0m0 1h0m0 2h0m0 1h0m0 2h0m0 3h0m0 1h0m0 1h0m0 1h0m0 1h0m0 1h0m0 1h0m0 1h0m0 2h0m0 5h0m0 1h0m0 3h0m0 1h0m0 3h0m0 2h0m0 3h0m0 2h0m0 2h0m0 1h0m0 2h0m0 3h0m0 1h0m0 3h0m1-67h0m0 3h0m0 5h0m0 1h0m0 4h0m0 1h0m0 1h0m0 2h0m0 1h0m0 1h0m0 1h0m0 2h0m0 1h0m0 1h0m0 1h0m0 2h0m0 1h0m0 1h0m0 1h0m0 1h0m0 1h0m0 1h0m0 4h0m0 1h0m0 1h0m0 1h0m0 1h0m0 3h0m0 1h0m0 4h0m0 6h0m0 8h0m0 1h0m0 19h0m1-106h0m0 18h0m0 1h0m0 5h0m0 4h0m0 1h0m0 5h0m0 2h0m0 2h0m0 4h0m0 1h0m0 1h0m0 1h0m0 1h0m0 2h0m0 1h0m0 1h0m0 1h0m0 1h0m0 2h0m0 1h0m0 2h0m0 1h0m0 2h0m0 7h0m0 3h0m0 2h0m0 2h0m0 1h0m0 4h0m0 3h0m0 2h0m0 2h0m0 3h0m0 5h0m1-79h0m0 8h0m0 1h0m0 5h0m0 1h0m0 5h0m0 3h0m0 2h0m0 1h0m0 1h0m0 1h0m0 2h0m0 1h0m0 1h0m0 3h0m0 2h0m0 2h0m0 1h0m0 1h0m0 1h0m0 3h0m0 1h0m0 6h0m0 1h0m0 2h0m0 4h0m0 2h0m0 1h0m0 3h0m1-104h0m0 23h0m0 5h0m0 24h0m0 1h0m0 4h0m0 13h0m0 1h0m0 4h0m0 3h0m0 2h0m0 4h0m0 1h0m0 5h0m0 2h0m0 2h0m0 3h0m0 2h0m0 1h0m0 1h0m0 5h0m1-71h0m0 14h0m0 8h0m0 3h0m0 1h0m0 2h0m0 1h0m0 1h0m0 1h0m0 2h0m0 1h0m0 2h0m0 2h0m0 1h0m0 2h0m0 2h0m0 2h0m0 1h0m0 1h0m0 1h0m0 2h0m0 1h0m0 3h0m0 4h0m0 2h0m0 3h0m0 3h0m0 4h0m1-69h0m0 10h0m0 2h0m0 5h0m0 6h0m0 4h0m0 2h0m0 2h0m0 3h0m0 5h0m0 1h0m0 4h0m0 3h0m0 3h0m0 5h0m0 2h0m0 3h0m0 2h0m1-82h0m0 36h0m0 1h0m0 2h0m0 7h0m0 1h0m0 1h0m0 7h0m0 1h0m0 2h0m0 1h0m0 1h0m0 1h0m0 1h0m0 4h0m0 2h0m0 4h0m0 2h0m0 3h0m0 2h0m1-96h0m0 47h0m0 3h0m0 1h0m0 8h0m0 1h0m0 5h0m0 1h0m0 3h0m0 1h0m0 1h0m0 2h0m0 2h0m0 1h0m0 1h0m0 1h0m0 1h0m0 1h0m0 1h0m0 1h0m0 1h0m0 1h0m0 1h0m0 1h0m0 3h0m0 2h0m0 1h0m0 1h0m0 2h0m0 3h0m0 11h0m0 10h0m0 1h0m1-113h0m0 18h0m0 6h0m0 19h0m0 4h0m0 2h0m0 3h0m0 6h0m0 3h0m0 2h0m0 1h0m0 1h0m0 2h0m0 3h0m0 5h0m0 2h0m0 1h0m0 1h0m0 2h0m0 1h0m0 1h0m0 3h0m0 1h0m0 1h0m0 2h0m0 1h0m0 5h0m0 1h0m1-62h0m0 3h0m0 1h0m0 6h0m0 2h0m0 1h0m0 7h0m0 2h0m0 1h0m0 1h0m0 1h0m0 3h0m0 5h0m0 1h0m0 5h0m0 1h0m0 2h0m0 2h0m0 2h0m0 1h0m0 1h0m0 4h0m0 1h0m0 1h0m0 1h0m0 9h0m0 6h0m0 11h0m1-82h0m0 2h0m0 4h0m0 4h0m0 1h0m0 6h0m0 4h0m0 1h0m0 1h0m0 5h0m0 2h0m0 1h0m0 4h0m0 1h0m0 1h0m0 4h0m0 3h0m0 5h0m0 1h0m0 5h0m0 6h0m0 2h0m0 3h0m1-70h0m0 9h0m0 6h0m0 6h0m0 9h0m0 4h0m0 1h0m0 3h0m0 1h0m0 2h0m0 2h0m0 1h0m0 3h0m0 4h0m0 9h0m0 5h0m0 2h0m0 6h0m0 20h0m1-67h0m0 10h0m0 2h0m0 2h0m0 1h0m0 4h0m0 3h0m0 1h0m0 2h0m0 1h0m0 2h0m0 6h0m0 1h0m0 1h0m0 5h0m0 7h0m1-71h0m0 6h0m0 15h0m0 1h0m0 2h0m0 4h0m0 1h0m0 1h0m0 5h0m0 1h0m0 1h0m0 2h0m0 1h0m0 1h0m0 3h0m0 2h0m0 1h0m0 2h0m0 5h0m0 7h0m0 10h0m0 3h0m0 4h0m1-72h0m0 11h0m0 12h0m0 1h0m0 1h0m0 2h0m0 2h0m0 9h0m0 2h0m0 1h0m0 4h0m0 1h0m0 9h0m0 1h0m0 1h0m0 12h0m1-70h0m0 7h0m0 7h0m0 3h0m0 5h0m0 2h0m0 2h0m0 3h0m0 2h0m0 3h0m0 2h0m0 1h0m0 5h0m0 1h0m0 4h0m0 2h0m0 6h0m0 11h0m1-68h0m0 6h0m0 19h0m0 1h0m0 1h0m0 7h0m0 1h0m0 1h0m0 4h0m0 13h0m0 5h0m0 9h0m0 15h0m1-74h0m0 7h0m0 1h0m0 5h0m0 3h0m0 5h0m0 1h0m0 8h0m0 1h0m0 1h0m0 1h0m0 1h0m0 1h0m0 1h0m0 4h0m0 2h0m0 4h0m0 2h0m0 2h0m1-56h0m0 8h0m0 3h0m0 4h0m0 3h0m0 2h0m0 12h0m0 1h0m0 1h0m0 3h0m0 3h0m0 8h0m0 1h0m1-89h0m0 67h0m0 10h0m0 1h0m0 2h0m0 4h0m0 4h0m0 21h0m0 1h0m0 2h0m1-76h0m0 20h0m0 15h0m0 2h0m0 9h0m0 19h0m0 9h0m1-51h0m0 6h0m0 1h0m0 3h0m0 1h0m0 1h0m0 4h0m0 2h0m0 4h0m0 2h0m0 3h0m1-102h0m0 7h0m0 77h0m0 7h0m0 3h0m0 7h0m0 4h0m0 25h0m1-76h0m0 17h0m0 3h0m0 2h0m0 1h0m0 32h0m0 3h0m0 8h0m1-47h0m0 4h0m0 3h0m0 2h0m0 2h0m0 5h0m0 1h0m0 2h0m0 14h0m0 16h0m1-9h0m1-70h0m0 11h0m0 8h0m0 22h0m0 10h0m0 2h0m0 14h0m0 2h0m0 15h0m0 69h0m1-157h0m0 11h0m0 31h0m0 9h0m0 17h0m1-99h0m0 42h0m0 23h0m0 11h0m0 2h0m0 2h0m0 5h0m0 25h0m1-125h0m0 14h0m0 36h0m0 28h0m0 9h0m0 4h0m0 3h0m0 10h0m0 10h0m1-106h0m0 81h0m1-16h0m0 17h0m1-122h0m0 4h0m0 32h0m1-8h0m0 27h0m0 36h0m0 2h0m0 55h0m1 20h0m1-148h0m0 10h0m0 17h0m0 63h0m0 11h0m0 14h0m0 1h0m0 3h0m1-130h0m0 88h0m1-83h0m1 94h0m0 30h0m1-108h0m0 20h0m1 37h0m0 16h0m0 22h0m0 4h0m0 19h0m1-34h0m1-88h0m0 75h0m0 90h0m1-193h0m0 18h0m0 45h0m0 75h0m0 100h0m1-154h0m0 153h0m1-147h0m1-37h0m0 41h0m0 43h0m1-108h0m0 23h0m0 55h0m1-75h0m1 7h0m0 49h0m0 149h0m1-192h0m1 20h0m0 31h0m0 4h0m0 93h0m1-171h0m0 5h0m0 37h0m1 174h0m1-219h0m0 102h0m0 44h0m0 44h0m2-224h0m0 16h0m0 42h0m0 25h0m0 135h0m1-200h0m0 63h0m1-77h0m0 87h0m0 162h0m1-194h0m1 96h0m1 20h0m1-121h0m0 63h0m1-128h0m0 95h0m0 31h0m1-12h0m0 63h0m1-73h0m0 35h0m1-95h0m0 57h0m0 85h0m1-121h0m0 75h0m0 21h0m1-29h0m0 36h0m1-133h0m0 39h0m0 68h0m0 76h0m1-112h0m0 65h0m0 91h0m1-10h0m1-166h0m1 85h0m2-109h0m1-49h0m1 79h0m2 43h0m0 75h0m1-96h0m1-78h0m1 89h0m0 38h0m3-42h0m7-88h0m2 135h0m7-71h0m1 125h0m5-9h0m8-137h0m20-62h0m28-7h0"/>
<path d="M82 -143h0m11 63h0m8-60h0m2 40h0m1-39h0m1-30h0m1 104h0m1-63h0m1-16h0m1-8h0m0 6h0m0 48h0m0 9h0m1-60h0m1 34h0m0 15h0m1-40h0m0 7h0m0 2h0m0 34h0m1-64h0m0 46h0m0 14h0m1-29h0m0 14h0m0 13h0m0 7h0m1-37h0m0 1h0m0 7h0m0 17h0m0 27h0m1-75h0m0 18h0m0 7h0m0 3h0m0 3h0m0 1h0m0 5h0m0 2h0m0 3h0m0 5h0m0 4h0m0 6h0m1-39h0m0 9h0m0 2h0m0 3h0m0 10h0m0 7h0m0 1h0m0 13h0m1-76h0m0 23h0m0 7h0m0 4h0m0 8h0m0 5h0m0 3h0m0 5h0m0 2h0m0 3h0m0 4h0m0 1h0m1-51h0m0 8h0m0 7h0m0 6h0m0 1h0m0 8h0m0 5h0m0 3h0m0 4h0m0 2h0m0 2h0m0 13h0m1-59h0m0 7h0m0 13h0m0 2h0m0 4h0m0 4h0m0 5h0m0 6h0m0 1h0m0 2h0m0 1h0m0 3h0m0 1h0m0 3h0m0 5h0m0 1h0m1-76h0m0 38h0m0 2h0m0 1h0m0 4h0m0 4h0m0 7h0m0 3h0m0 10h0m0 4h0m0 1h0m0 4h0m0 1h0m0 2h0m0 18h0m1-67h0m0 6h0m0 6h0m0 6h0m0 6h0m0 2h0m0 1h0m0 9h0m0 1h0m0 4h0m0 3h0m0 13h0m1-51h0m0 6h0m0 2h0m0 2h0m0 2h0m0 2h0m0 6h0m0 1h0m0 6h0m0 1h0m0 4h0m0 1h0m0 5h0m0 8h0m1-60h0m0 19h0m0 2h0m0 3h0m0 2h0m0 1h0m0 1h0m0 1h0m0 1h0m0 2h0m0 1h0m0 3h0m0 3h0m0 3h0m0 1h0m0 6h0m0 3h0m0 5h0m0 4h0m0 3h0m1-63h0m0 5h0m0 3h0m0 6h0m0 2h0m0 2h0m0 4h0m0 2h0m0 2h0m0 5h0m0 1h0m0 1h0m0 9h0m0 1h0m0 3h0m0 1h0m0 2h0m0 1h0m0 3h0m0 3h0m0 1h0m1-77h0m0 21h0m0 3h0m0 5h0m0 12h0m0 3h0m0 1h0m0 2h0m0 1h0m0 1h0m0 1h0m0 1h0m0 2h0m0 1h0m0 3h0m0 1h0m0 1h0m0 1h0m0 2h0m0 2h0m0 2h0m0 2h0m0 1h0m0 2h0m0 3h0m0 3h0m0 1h0m0 1h0m0 2h0m0 2h0m0 6h0m1-57h0m0 1h0m0 4h0m0 3h0m0 3h0m0 1h0m0 4h0m0 2h0m0 2h0m0 1h0m0 2h0m0 2h0m0 1h0m0 1h0m0 2h0m0 4h0m0 1h0m0 3h0m0 1h0m0 5h0m0 3h0m0 2h0m0 3h0m1-56h0m0 2h0m0 3h0m0 1h0m0 1h0m0 4h0m0 1h0m0 6h0m0 3h0m0 1h0m0 7h0m0 1h0m0 1h0m0 1h0m0 3h0m0 2h0m0 1h0m0 3h0m0 1h0m0 4h0m0 2h0m0 4h0m0 3h0m1-59h0m0 5h0m0 2h0m0 1h0m0 6h0m0 1h0m0 1h0m0 4h0m0 1h0m0 3h0m0 1h0m0 1h0m0 3h0m0 1h0m0 2h0m0 2h0m0 1h0m0 1h0m0 2h0m0 1h0m0 1h0m0 1h0m0 1h0m0 2h0m0 1h0m0 1h0m0 1h0m0 5h0m0 1h0m0 2h0m0 15h0m1-68h0m0 3h0m0 1h0m0 3h0m0 1h0m0 2h0m0 1h0m0 3h0m0 1h0m0 2h0m0 1h0m0 1h0m0 3h0m0 1h0m0 1h0m0 1h0m0 2h0m0 1h0m0 3h0m0 1h0m0 2h0m0 1h0m0 2h0m0 3h0m0 1h0m0 3h0m0 2h0m0 4h0m0 1h0m0 11h0m0 8h0m1-78h0m0 11h0m0 5h0m0 3h0m0 6h0m0 2h0m0 2h0m0 1h0m0 2h0m0 1h0m0 1h0m0 6h0m0 1h0m0 2h0m0 1h0m0 5h0m0 1h0m0 2h0m0 3h0m0 1h0m0 2h0m0 1h0m0 2h0m0 1h0m0 1h0m0 2h0m0 13h0m1-76h0m0 4h0m0 4h0m0 12h0m0 5h0m0 1h0m0 2h0m0 2h0m0 1h0m0 1h0m0 1h0m0 1h0m0 2h0m0 3h0m0 1h0m0 1h0m0 1h0m0 1h0m0 1h0m0 3h0m0 1h0m0 1h0m0 2h0m0 1h0m0 1h0m0 2h0m0 3h0m0 2h0m0 7h0m0 1h0m0 6h0m1-74h0m0 12h0m0 3h0m0 3h0m0 5h0m0 1h0m0 2h0m0 5h0m0 3h0m0 2h0m0 1h0m0 1h0m0 2h0m0 2h0m0 2h0m0 1h0m0 1h0m0 1h0m0 1h0m0 2h0m0 3h0m0 3h0m0 1h0m0 1h0m0 1h0m0 1h0m0 1h0m0 1h0m0 1h0m0 6h0m0 12h0m0 20h0m1-90h0m0 2h0m0 1h0m0 2h0m0 5h0m0 5h0m0 2h0m0 1h0m0 3h0m0 2h0m0 1h0m0 1h0m0 1h0m0 3h0m0 1h0m0 1h0m0 2h0m0 2h0m0 1h0m0 1h0m0 1h0m0 1h0m0 2h0m0 5h0m0 2h0m0 3h0m1-51h0m0 3h0m0 1h0m0 1h0m0 2h0m0 3h0m0 3h0m0 2h0m0 3h0m0 2h0m0 3h0m0 1h0m0 1h0m0 3h0m0 1h0m0 1h0m0 2h0m0 1h0m0 1h0m0 3h0m0 1h0m0 2h0m0 4h0m0 1h0m0 1h0m0 1h0m0 4h0m0 2h0m0 7h0m1-57h0m0 2h0m0 3h0m0 4h0m0 2h0m0 6h0m0 4h0m0 1h0m0 1h0m0 2h0m0 1h0m0 2h0m0 4h0m0 1h0m0 1h0m0 3h0m0 6h0m0 5h0m0 12h0m1-96h0m0 17h0m0 2h0m0 11h0m0 4h0m0 3h0m0 3h0m0 3h0m0 1h0m0 1h0m0 1h0m0 2h0m0 1h0m0 3h0m0 1h0m0 1h0m0 1h0m0 1h0m0 1h0m0 1h0m0 3h0m0 2h0m0 1h0m0 1h0m0 3h0m0 1h0m0 2h0m0 1h0m0 1h0m0 2h0m0 2h0m0 1h0m0 3h0m0 5h0m0 3h0m0 3h0m0 2h0m0 3h0m1-68h0m0 5h0m0 2h0m0 4h0m0 1h0m0 1h0m0 2h0m0 1h0m0 3h0m0 2h0m0 1h0m0 4h0m0 2h0m0 2h0m0 1h0m0 1h0m0 2h0m0 1h0m0 1h0m0 7h0m0 2h0m0 1h0m0 4h0m0 5h0m0 1h0m1-49h0m0 2h0m0 1h0m0 1h0m0 1h0m0 4h0m0 1h0m0 2h0m0 2h0m0 1h0m0 1h0m0 1h0m0 2h0m0 1h0m0 1h0m0 1h0m0 1h0m0 3h0m0 2h0m0 1h0m0 3h0m0 2h0m0 1h0m0 1h0m0 1h0m0 1h0m0 1h0m0 1h0m0 1h0m0 1h0m0 2h0m0 3h0m0 5h0m0 4h0m0 7h0m1-87h0m0 10h0m0 10h0m0 3h0m0 7h0m0 3h0m0 1h0m0 2h0m0 3h0m0 1h0m0 3h0m0 4h0m0 2h0m0 2h0m0 2h0m0 2h0m0 1h0m0 1h0m0 4h0m0 3h0m0 2h0m0 3h0m0 1h0m0 1h0m0 1h0m0 2h0m0 1h0m1-59h0m0 1h0m0 7h0m0 1h0m0 4h0m0 2h0m0 7h0m0 3h0m0 2h0m0 1h0m0 1h0m0 1h0m0 1h0m0 2h0m0 1h0m0 1h0m0 1h0m0 1h0m0 1h0m0 1h0m0 2h0m0 3h0m0 1h0m0 1h0m0 1h0m0 3h0m0 2h0m0 2h0m0 2h0m0 4h0m0 3h0m0 27h0m1-143h0m0 53h0m0 12h0m0 2h0m0 2h0m0 2h0m0 3h0m0 1h0m0 2h0m0 1h0m0 4h0m0 1h0m0 1h0m0 2h0m0 1h0m0 1h0m0 1h0m0 1h0m0 5h0m0 1h0m0 2h0m0 2h0m0 1h0m0 1h0m0 1h0m0 4h0m0 3h0m0 1h0m0 1h0m0 4h0m0 2h0m0 7h0m0 20h0m1-108h0m0 14h0m0 11h0m0 7h0m0 7h0m0 1h0m0 2h0m0 2h0m0 1h0m0 1h0m0 1h0m0 1h0m0 1h0m0 3h0m0 1h0m0 2h0m0 1h0m0 2h0m0 1h0m0 3h0m0 7h0m1-61h0m0 3h0m0 4h0m0 2h0m0 6h0m0 1h0m0 4h0m0 7h0m0 3h0m0 2h0m0 1h0m0 1h0m0 1h0m0 1h0m0 1h0m0 2h0m0 1h0m0 1h0m0 2h0m0 5h0m0 2h0m0 3h0m0 1h0m0 1h0m0 3h0m0 1h0m0 1h0m0 4h0m0 1h0m0 6h0m0 4h0m0 7h0m1-107h0m0 28h0m0 8h0m0 9h0m0 3h0m0 1h0m0 10h0m0 3h0m0 5h0m0 1h0m0 1h0m0 3h0m0 1h0m0 1h0m0 2h0m0 1h0m0 2h0m0 2h0m0 2h0m0 2h0m0 3h0m0 2h0m0 11h0m1-119h0m0 53h0m0 9h0m0 5h0m0 4h0m0 3h0m0 1h0m0 4h0m0 1h0m0 1h0m0 3h0m0 1h0m0 2h0m0 1h0m0 3h0m0 3h0m0 1h0m0 2h0m0 7h0m0 6h0m1-52h0m0 4h0m0 2h0m0 3h0m0 6h0m0 1h0m0 1h0m0 1h0m0 2h0m0 3h0m0 1h0m0 2h0m0 2h0m0 3h0m0 1h0m0 3h0m0 1h0m0 2h0m0 4h0m0 1h0m0 1h0m0 1h0m0 2h0m0 6h0m0 2h0m0 8h0m1-55h0m0 1h0m0 1h0m0 11h0m0 1h0m0 2h0m0 2h0m0 1h0m0 1h0m0 4h0m0 1h0m0 2h0m0 2h0m0 6h0m0 3h0m0 1h0m0 19h0m1-60h0m0 1h0m0 2h0m0 2h0m0 2h0m0 2h0m0 1h0m0 5h0m0 1h0m0 2h0m0 1h0m0 1h0m0 3h0m0 1h0m0 1h0m0 2h0m0 1h0m0 1h0m0 5h0m0 2h0m0 1h0m0 3h0m0 2h0m0 3h0m0 4h0m0 7h0m0 17h0m1-66h0m0 1h0m0 4h0m0 7h0m0 1h0m0 1h0m0 2h0m0 1h0m0 4h0m0 1h0m0 5h0m0 2h0m0 4h0m0 12h0m0 14h0m1-69h0m0 1h0m0 11h0m0 1h0m0 2h0m0 1h0m0 1h0m0 4h0m0 1h0m0 2h0m0 2h0m0 2h0m0 4h0m0 2h0m0 4h0m0 2h0m0 1h0m0 5h0m0 1h0m0 12h0m1-64h0m0 18h0m0 1h0m0 2h0m0 2h0m0 5h0m0 5h0m0 2h0m0 1h0m0 2h0m0 1h0m0 2h0m0 2h0m0 3h0m0 1h0m0 2h0m0 1h0m0 2h0m0 7h0m1-60h0m0 2h0m0 10h0m0 7h0m0 8h0m0 6h0m0 1h0m0 1h0m0 3h0m0 7h0m0 1h0m0 7h0m0 2h0m0 1h0m0 2h0m1-65h0m0 19h0m0 9h0m0 8h0m0 1h0m0 4h0m0 1h0m0 1h0m0 2h0m0 3h0m0 5h0m0 1h0m0 2h0m0 2h0m1-47h0m0 15h0m0 2h0m0 6h0m0 1h0m0 6h0m0 7h0m0 2h0m0 7h0m0 4h0m0 3h0m1-104h0m0 73h0m0 3h0m0 10h0m0 1h0m0 1h0m0 7h0m0 2h0m0 4h0m0 4h0m0 14h0m1-69h0m0 10h0m0 8h0m0 3h0m0 6h0m0 7h0m0 9h0m0 3h0m0 4h0m0 1h0m1-49h0m0 7h0m0 6h0m0 15h0m0 3h0m0 3h0m0 5h0m0 7h0m1-51h0m0 9h0m0 6h0m0 3h0m0 4h0m0 5h0m0 20h0m0 9h0m0 6h0m1-92h0m0 33h0m0 19h0m0 16h0m0 1h0m0 1h0m0 2h0m0 3h0m0 1h0m0 1h0m0 8h0m0 2h0m0 3h0m0 20h0m1-104h0m0 9h0m0 36h0m0 24h0m0 22h0m1-67h0m0 1h0m0 33h0m0 7h0m0 6h0m0 8h0m0 6h0m1-106h0m0 81h0m0 4h0m0 15h0m1-108h0m0 21h0m0 20h0m0 12h0m0 13h0m0 20h0m0 6h0m0 10h0m0 14h0m1-145h0m0 114h0m0 32h0m1-70h0m1-20h0m0 66h0m0 43h0m0 2h0m1-140h0m0 51h0m0 8h0m0 15h0m0 3h0m0 44h0m1-36h0m1-2h0m0 17h0m0 10h0m0 83h0m1-188h0m1 27h0m0 11h0m0 19h0m1-93h0m1 51h0m0 66h0m0 11h0m1-101h0m0 40h0m0 30h0m1-24h0m1-39h0m0 12h0m0 30h0m1 6h0m0 5h0m0 30h0m0 16h0m1-127h0m0 111h0m1-96h0m0 76h0m0 6h0m0 120h0m1-200h0m0 55h0m0 1h0m0 34h0m1-84h0m0 18h0m0 28h0m0 40h0m1-69h0m0 98h0m1-69h0m0 7h0m0 51h0m0 64h0m1-176h0m0 23h0m0 79h0m0 15h0m0 25h0m1-124h0m0 18h0m0 60h0m1 41h0m1-144h0m0 58h0m0 27h0m1-91h0m0 53h0m0 89h0m1-176h0m1 13h0m0 163h0m1-99h0m1-40h0m0 98h0m0 34h0m1-107h0m0 12h0m0 75h0m2-113h0m0 100h0m0 24h0m1-124h0m0 100h0m0 69h0m1-30h0m0 23h0m1-72h0m0 7h0m0 7h0m1-103h0m1 17h0m0 1h0m0 48h0m0 31h0m1-64h0m0 33h0m0 103h0m1-130h0m1-28h0m1 37h0m1 164h0m1-220h0m0 58h0m1 0h0m0 73h0m1-130h0m0 33h0m0 2h0m0 144h0m1-208h0m0 175h0m3 65h0m1-96h0m4 16h0m3-107h0m0 27h0m1 103h0m1-37h0m0 64h0m1-92h0m2-35h0m2-47h0m5 213h0m1-178h0m1-38h0m6 121h0m5-90h0m4 22h0m10-32h0m0 142h0m28-177h0"/>
<path d="M86 -93h0m0 3h0m11-17h0m3-9h0m1-26h0m1 19h0m1-17h0m0 11h0m1 7h0m0 21h0m1-37h0m0 8h0m0 26h0m0 11h0m1-38h0m0 24h0m1 12h0m1-26h0m0 3h0m0 4h0m0 12h0m0 20h0m1-70h0m0 25h0m0 35h0m0 9h0m1-60h0m0 2h0m0 9h0m0 2h0m0 3h0m1 2h0m0 8h0m1-30h0m0 15h0m0 3h0m0 9h0m1-13h0m0 8h0m0 2h0m0 2h0m0 1h0m0 17h0m0 13h0m0 10h0m1-40h0m0 6h0m0 5h0m0 8h0m1-24h0m0 5h0m0 2h0m0 9h0m0 3h0m0 2h0m0 6h0m0 3h0m1-76h0m0 36h0m0 7h0m0 1h0m0 4h0m0 1h0m0 8h0m0 5h0m0 17h0m0 17h0m1-64h0m0 1h0m0 9h0m0 1h0m0 13h0m0 1h0m0 2h0m0 1h0m0 1h0m0 7h0m0 1h0m0 1h0m1-57h0m0 3h0m0 6h0m0 6h0m0 17h0m0 4h0m0 1h0m0 1h0m0 2h0m0 6h0m0 10h0m0 11h0m0 3h0m1-46h0m0 1h0m0 7h0m0 1h0m0 1h0m0 5h0m0 1h0m0 3h0m0 6h0m0 2h0m0 2h0m0 5h0m0 14h0m1-59h0m0 2h0m0 1h0m0 4h0m0 9h0m0 1h0m0 6h0m0 1h0m0 3h0m0 1h0m0 1h0m0 1h0m0 1h0m0 5h0m0 2h0m1-34h0m0 6h0m0 2h0m0 6h0m0 1h0m0 3h0m0 4h0m0 2h0m0 2h0m0 4h0m0 18h0m1-101h0m0 32h0m0 17h0m0 2h0m0 2h0m0 6h0m0 12h0m0 4h0m0 5h0m0 3h0m0 6h0m0 4h0m0 5h0m0 8h0m0 5h0m1-62h0m0 5h0m0 3h0m0 1h0m0 3h0m0 3h0m0 1h0m0 3h0m0 1h0m0 6h0m0 5h0m0 3h0m1-31h0m0 2h0m0 3h0m0 6h0m0 2h0m0 2h0m0 1h0m0 1h0m0 1h0m0 1h0m0 2h0m0 7h0m0 7h0m0 4h0m0 3h0m0 2h0m0 17h0m1-68h0m0 4h0m0 2h0m0 4h0m0 5h0m0 2h0m0 4h0m0 1h0m0 4h0m0 2h0m0 2h0m0 5h0m0 2h0m0 3h0m0 1h0m0 1h0m0 1h0m0 2h0m0 3h0m0 8h0m0 3h0m1-55h0m0 12h0m0 1h0m0 5h0m0 1h0m0 1h0m0 1h0m0 3h0m0 1h0m0 1h0m0 1h0m0 2h0m0 1h0m0 6h0m0 5h0m0 1h0m0 7h0m0 8h0m1-50h0m0 2h0m0 5h0m0 2h0m0 2h0m0 1h0m0 2h0m0 2h0m0 3h0m0 6h0m0 1h0m0 1h0m0 3h0m0 4h0m0 3h0m0 2h0m0 7h0m0 2h0m0 2h0m0 2h0m0 2h0m1-67h0m0 6h0m0 5h0m0 11h0m0 1h0m0 4h0m0 4h0m0 1h0m0 1h0m0 3h0m0 1h0m0 2h0m0 2h0m0 1h0m0 1h0m0 1h0m0 2h0m0 1h0m0 6h0m0 2h0m0 4h0m0 1h0m0 3h0m0 9h0m1-66h0m0 2h0m0 1h0m0 6h0m0 4h0m0 5h0m0 1h0m0 1h0m0 5h0m0 2h0m0 1h0m0 6h0m0 3h0m0 3h0m0 1h0m0 2h0m0 1h0m0 3h0m0 3h0m0 10h0m0 2h0m0 11h0m1-109h0m0 36h0m0 9h0m0 2h0m0 1h0m0 5h0m0 1h0m0 1h0m0 1h0m0 2h0m0 1h0m0 1h0m0 1h0m0 3h0m0 1h0m0 2h0m0 3h0m0 4h0m0 3h0m0 1h0m0 2h0m0 4h0m0 1h0m0 8h0m0 4h0m0 2h0m0 16h0m1-87h0m0 2h0m0 5h0m0 16h0m0 5h0m0 1h0m0 1h0m0 4h0m0 3h0m0 1h0m0 1h0m0 2h0m0 2h0m0 2h0m0 1h0m0 2h0m0 3h0m0 1h0m0 1h0m0 1h0m0 1h0m0 5h0m0 1h0m0 4h0m0 2h0m0 2h0m0 2h0m0 2h0m1-67h0m0 5h0m0 6h0m0 5h0m0 5h0m0 3h0m0 3h0m0 3h0m0 1h0m0 2h0m0 1h0m0 3h0m0 2h0m0 3h0m0 1h0m0 1h0m0 6h0m0 8h0m0 14h0m0 16h0m1-125h0m0 45h0m0 4h0m0 5h0m0 2h0m0 1h0m0 3h0m0 3h0m0 1h0m0 1h0m0 1h0m0 1h0m0 1h0m0 1h0m0 3h0m0 2h0m0 1h0m0 1h0m0 2h0m0 1h0m0 1h0m0 1h0m0 2h0m0 1h0m0 2h0m0 1h0m0 6h0m0 9h0m0 3h0m0 3h0m0 8h0m1-76h0m0 1h0m0 1h0m0 14h0m0 1h0m0 1h0m0 2h0m0 4h0m0 1h0m0 4h0m0 5h0m0 1h0m0 2h0m0 1h0m0 1h0m0 1h0m0 1h0m0 3h0m0 4h0m0 10h0m0 3h0m0 1h0m0 5h0m0 1h0m0 17h0m1-86h0m0 1h0m0 4h0m0 2h0m0 4h0m0 4h0m0 1h0m0 1h0m0 1h0m0 1h0m0 1h0m0 2h0m0 2h0m0 2h0m0 3h0m0 2h0m0 1h0m0 1h0m0 1h0m0 1h0m0 1h0m0 1h0m0 1h0m0 1h0m0 1h0m0 1h0m0 2h0m0 1h0m0 4h0m0 3h0m0 3h0m0 1h0m0 1h0m0 2h0m0 2h0m0 9h0m1-63h0m0 1h0m0 9h0m0 1h0m0 1h0m0 1h0m0 1h0m0 4h0m0 3h0m0 1h0m0 1h0m0 1h0m0 3h0m0 2h0m0 1h0m0 3h0m0 1h0m0 1h0m0 1h0m0 2h0m0 4h0m0 2h0m0 1h0m0 5h0m0 1h0m0 3h0m0 1h0m0 9h0m0 9h0m1-79h0m0 5h0m0 7h0m0 1h0m0 3h0m0 1h0m0 1h0m0 5h0m0 1h0m0 1h0m0 2h0m0 1h0m0 1h0m0 2h0m0 1h0m0 3h0m0 1h0m0 3h0m0 1h0m0 3h0m0 1h0m0 1h0m0 1h0m0 3h0m0 5h0m0 1h0m0 16h0m0 6h0m1-118h0m0 37h0m0 2h0m0 4h0m0 6h0m0 8h0m0 2h0m0 1h0m0 1h0m0 4h0m0 3h0m0 2h0m0 3h0m0 2h0m0 1h0m0 1h0m0 1h0m0 1h0m0 2h0m0 2h0m0 1h0m0 1h0m0 1h0m0 1h0m0 1h0m0 1h0m0 1h0m0 1h0m0 1h0m0 1h0m0 1h0m0 2h0m0 2h0m0 2h0m0 1h0m0 4h0m0 6h0m0 1h0m0 3h0m1-76h0m0 7h0m0 4h0m0 3h0m0 2h0m0 5h0m0 2h0m0 2h0m0 2h0m0 2h0m0 1h0m0 2h0m0 3h0m0 1h0m0 1h0m0 1h0m0 1h0m0 1h0m0 1h0m0 1h0m0 1h0m0 3h0m0 1h0m0 3h0m0 1h0m0 4h0m0 2h0m0 1h0m0 3h0m0 2h0m0 5h0m0 11h0m0 12h0m1-131h0m0 48h0m0 4h0m0 2h0m0 5h0m0 4h0m0 1h0m0 1h0m0 2h0m0 1h0m0 1h0m0 2h0m0 2h0m0 1h0m0 1h0m0 1h0m0 1h0m0 3h0m0 1h0m0 1h0m0 1h0m0 2h0m0 2h0m0 1h0m0 5h0m0 1h0m0 1h0m0 1h0m0 1h0m0 1h0m0 3h0m0 17h0m1-80h0m0 3h0m0 15h0m0 4h0m0 1h0m0 2h0m0 2h0m0 3h0m0 2h0m0 1h0m0 3h0m0 2h0m0 2h0m0 1h0m0 2h0m0 4h0m0 1h0m0 1h0m0 6h0m0 1h0m0 2h0m0 4h0m0 2h0m0 3h0m0 2h0m0 15h0m1-93h0m0 23h0m0 4h0m0 1h0m0 4h0m0 2h0m0 2h0m0 3h0m0 1h0m0 2h0m0 1h0m0 1h0m0 1h0m0 1h0m0 1h0m0 4h0m0 1h0m0 2h0m0 1h0m0 3h0m0 2h0m0 1h0m0 4h0m0 2h0m0 7h0m0 19h0m1-80h0m0 10h0m0 2h0m0 5h0m0 5h0m0 4h0m0 2h0m0 1h0m0 1h0m0 3h0m0 3h0m0 1h0m0 2h0m0 1h0m0 1h0m0 1h0m0 1h0m0 1h0m0 1h0m0 1h0m0 4h0m0 4h0m0 6h0m0 3h0m0 4h0m0 3h0m0 8h0m0 6h0m1-124h0m0 19h0m0 30h0m0 11h0m0 1h0m0 5h0m0 3h0m0 1h0m0 3h0m0 2h0m0 1h0m0 1h0m0 1h0m0 3h0m0 1h0m0 3h0m0 2h0m0 2h0m0 8h0m0 5h0m0 7h0m1-86h0m0 33h0m0 2h0m0 9h0m0 1h0m0 2h0m0 1h0m0 1h0m0 3h0m0 1h0m0 2h0m0 1h0m0 1h0m0 2h0m0 1h0m0 2h0m0 2h0m0 1h0m0 2h0m0 1h0m0 1h0m0 1h0m0 4h0m0 3h0m0 2h0m0 5h0m0 17h0m1-76h0m0 7h0m0 4h0m0 6h0m0 1h0m0 2h0m0 2h0m0 2h0m0 2h0m0 3h0m0 1h0m0 7h0m0 2h0m0 2h0m0 3h0m0 4h0m0 2h0m0 1h0m0 1h0m0 5h0m0 2h0m0 2h0m0 2h0m0 3h0m0 5h0m1-87h0m0 7h0m0 14h0m0 5h0m0 1h0m0 2h0m0 3h0m0 1h0m0 6h0m0 1h0m0 2h0m0 1h0m0 1h0m0 1h0m0 1h0m0 2h0m0 1h0m0 1h0m0 2h0m0 1h0m0 3h0m0 8h0m0 2h0m0 2h0m0 10h0m0 6h0m0 8h0m1-69h0m0 8h0m0 1h0m0 4h0m0 1h0m0 3h0m0 1h0m0 5h0m0 1h0m0 1h0m0 2h0m0 2h0m0 7h0m0 1h0m0 3h0m0 1h0m0 7h0m0 3h0m0 1h0m1-64h0m0 1h0m0 16h0m0 10h0m0 4h0m0 1h0m0 1h0m0 2h0m0 1h0m0 1h0m0 3h0m0 2h0m0 3h0m0 2h0m0 3h0m0 2h0m0 1h0m0 1h0m0 1h0m0 2h0m0 2h0m1-96h0m0 43h0m0 5h0m0 5h0m0 4h0m0 4h0m0 2h0m0 1h0m0 2h0m0 4h0m0 2h0m0 1h0m0 1h0m0 2h0m0 5h0m0 4h0m0 3h0m0 3h0m0 4h0m0 2h0m0 2h0m1-98h0m0 40h0m0 3h0m0 7h0m0 2h0m0 5h0m0 5h0m0 4h0m0 4h0m0 1h0m0 8h0m0 1h0m0 1h0m0 3h0m0 5h0m0 5h0m0 2h0m0 3h0m0 3h0m1-48h0m0 1h0m0 5h0m0 2h0m0 3h0m0 4h0m0 1h0m0 2h0m0 4h0m0 1h0m0 1h0m0 3h0m0 10h0m0 2h0m0 1h0m1-58h0m0 16h0m0 4h0m0 11h0m0 7h0m0 2h0m0 4h0m0 1h0m0 3h0m0 1h0m0 6h0m0 2h0m0 2h0m0 1h0m0 1h0m0 7h0m0 28h0m1-84h0m0 1h0m0 2h0m0 1h0m0 9h0m0 4h0m0 3h0m0 3h0m0 4h0m0 2h0m0 3h0m0 18h0m1-89h0m0 36h0m0 6h0m0 3h0m0 1h0m0 1h0m0 6h0m0 3h0m0 5h0m0 4h0m0 2h0m0 7h0m0 6h0m1-30h0m0 6h0m0 7h0m0 2h0m0 1h0m0 5h0m0 2h0m0 1h0m0 2h0m0 1h0m0 1h0m0 1h0m0 1h0m1-40h0m0 13h0m0 4h0m0 8h0m0 7h0m0 5h0m0 1h0m0 2h0m0 3h0m0 6h0m1-60h0m0 9h0m0 20h0m0 14h0m0 12h0m0 4h0m0 2h0m1-47h0m0 31h0m0 19h0m0 12h0m0 13h0m0 10h0m1-157h0m0 62h0m0 16h0m0 2h0m0 9h0m0 1h0m0 5h0m0 3h0m0 2h0m0 5h0m0 15h0m1-120h0m0 28h0m0 16h0m0 31h0m0 18h0m0 2h0m0 17h0m0 25h0m1-72h0m0 3h0m0 3h0m0 20h0m0 8h0m1-73h0m0 15h0m0 38h0m0 5h0m0 2h0m0 11h0m1-111h0m0 34h0m0 28h0m0 50h0m0 12h0m1-150h0m0 28h0m0 69h0m0 4h0m0 48h0m0 1h0m0 6h0m1-42h0m0 18h0m0 32h0m1-73h0m0 14h0m0 14h0m0 5h0m0 18h0m0 2h0m1-79h0m0 1h0m0 36h0m0 42h0m1-44h0m0 42h0m0 12h0m1-52h0m0 7h0m0 42h0m0 1h0m0 2h0m1-11h0m1-1h0m0 1h0m0 6h0m1-142h0m0 53h0m0 27h0m2-42h0m0 29h0m0 62h0m1-60h0m0 18h0m0 29h0m1-104h0m0 53h0m0 39h0m0 11h0m0 5h0m0 16h0m0 1h0m1-86h0m1 75h0m1-119h0m0 25h0m0 30h0m1-15h0m0 68h0m0 5h0m1-144h0m0 21h0m0 39h0m0 55h0m1-45h0m0 27h0m1 37h0m1-71h0m0 1h0m0 11h0m1 2h0m0 19h0m1-14h0m0 84h0m1-112h0m0 6h0m1 6h0m0 48h0m2-71h0m0 16h0m0 145h0m1-80h0m1-61h0m0 27h0m0 75h0m1-163h0m0 37h0m0 91h0m1 35h0m1-20h0m1-49h0m1-69h0m1 51h0m0 158h0m0 2h0m2-231h0m0 147h0m3 15h0m2-25h0m1-153h0m0 222h0m1-168h0m0 94h0m0 8h0m1-94h0m1-65h0m0 29h0m1 66h0m0 55h0m1-8h0m0 23h0m0 101h0m2-128h0m2 21h0m1-77h0m0 16h0m0 168h0m1-195h0m0 85h0m1-148h0m0 56h0m0 146h0m1-66h0m0 35h0m1-86h0m0 26h0m2-13h0m0 34h0m1-32h0m0 82h0m1-124h0m1-40h0m3 210h0m1-118h0m2-114h0m0 163h0m5-57h0m2 156h0m4-164h0m2-48h0m0 65h0m4-30h0m9-80h0m10 162h0m2-85h0"/>
</g>
</g>
<path d="M1452.8 404.4H1702.2V653.8H1452.8Z M1544.5 404.4V653.8M1452.8 561.8H1702.2" stroke="#2b2b2b" stroke-width="1.25" fill="none"/>
<path d="M1452.8 653.8v5.5M1452.8 653.8h-5.8M1471.6 653.8v2.6M1452.8 635h-2.6M1482.5 653.8v2.6M1452.8 624.1h-2.6M1490.3 653.8v2.6M1452.8 616.3h-2.6M1496.4 653.8v3.6M1452.8 610.2h-3.6M1501.3 653.8v2.6M1452.8 605.3h-2.6M1505.5 653.8v2.6M1452.8 601.1h-2.6M1509.1 653.8v2.6M1452.8 597.5h-2.6M1512.3 653.8v2.6M1452.8 594.3h-2.6M1515.1 653.8v5.5M1452.8 591.5h-5.8M1533.9 653.8v2.6M1452.8 572.7h-2.6M1544.9 653.8v2.6M1452.8 561.7h-2.6M1552.7 653.8v2.6M1452.8 553.9h-2.6M1558.7 653.8v3.6M1452.8 547.9h-3.6M1563.6 653.8v2.6M1452.8 543h-2.6M1567.8 653.8v2.6M1452.8 538.8h-2.6M1571.4 653.8v2.6M1452.8 535.2h-2.6M1574.6 653.8v2.6M1452.8 532h-2.6M1577.5 653.8v5.5M1452.8 529.1h-5.8M1596.2 653.8v2.6M1452.8 510.4h-2.6M1607.2 653.8v2.6M1452.8 499.4h-2.6M1615 653.8v2.6M1452.8 491.6h-2.6M1621 653.8v3.6M1452.8 485.6h-3.6M1626 653.8v2.6M1452.8 480.6h-2.6M1630.1 653.8v2.6M1452.8 476.5h-2.6M1633.7 653.8v2.6M1452.8 472.9h-2.6M1636.9 653.8v2.6M1452.8 469.7h-2.6M1639.8 653.8v5.5M1452.8 466.8h-5.8M1658.6 653.8v2.6M1452.8 448h-2.6M1669.5 653.8v2.6M1452.8 437.1h-2.6M1677.3 653.8v2.6M1452.8 429.3h-2.6M1683.4 653.8v3.6M1452.8 423.2h-3.6M1688.3 653.8v2.6M1452.8 418.3h-2.6M1692.5 653.8v2.6M1452.8 414.1h-2.6M1696.1 653.8v2.6M1452.8 410.5h-2.6M1699.3 653.8v2.6M1452.8 407.3h-2.6M1702.1 653.8v5.5M1452.8 404.5h-5.8" stroke="#2b2b2b" stroke-width="1.1" fill="none"/>
<text x="1445" y="672.4" font-size="10.5" fill="#222" stroke="#222" stroke-width="0.2">10<tspan dy="-4" font-size="7">2</tspan></text>
<text x="1429.4" y="657.6" font-size="10.5" fill="#222" stroke="#222" stroke-width="0.2">10<tspan dy="-4" font-size="7">2</tspan></text>
<text x="1507.3" y="672.4" font-size="10.5" fill="#222" stroke="#222" stroke-width="0.2">10<tspan dy="-4" font-size="7">3</tspan></text>
<text x="1429.4" y="595.3" font-size="10.5" fill="#222" stroke="#222" stroke-width="0.2">10<tspan dy="-4" font-size="7">3</tspan></text>
<text x="1569.7" y="672.4" font-size="10.5" fill="#222" stroke="#222" stroke-width="0.2">10<tspan dy="-4" font-size="7">4</tspan></text>
<text x="1429.4" y="532.9" font-size="10.5" fill="#222" stroke="#222" stroke-width="0.2">10<tspan dy="-4" font-size="7">4</tspan></text>
<text x="1632" y="672.4" font-size="10.5" fill="#222" stroke="#222" stroke-width="0.2">10<tspan dy="-4" font-size="7">5</tspan></text>
<text x="1429.4" y="470.6" font-size="10.5" fill="#222" stroke="#222" stroke-width="0.2">10<tspan dy="-4" font-size="7">5</tspan></text>
<text x="1694.3" y="672.4" font-size="10.5" fill="#222" stroke="#222" stroke-width="0.2">10<tspan dy="-4" font-size="7">6</tspan></text>
<text x="1429.4" y="408.3" font-size="10.5" fill="#222" stroke="#222" stroke-width="0.2">10<tspan dy="-4" font-size="7">6</tspan></text>
<text x="1577.5" y="695.5" font-size="16.4" text-anchor="middle" textLength="47" lengthAdjust="spacingAndGlyphs" stroke="#111" stroke-width="0.35">FITC-H</text>
<text x="1419.8" y="529.1" font-size="16.4" text-anchor="middle" transform="rotate(-90 1419.8 529.1)" textLength="29" lengthAdjust="spacingAndGlyphs" stroke="#111" stroke-width="0.35">PI-H</text>
<rect x="1452.8" y="404.9" width="43.7" height="22.8" rx="3.2" fill="#fff" stroke="#b0b0b0" stroke-width="1"/>
<text x="1454.6" y="422.2" font-size="16.6" textLength="39.1" lengthAdjust="spacingAndGlyphs" fill="#111" stroke="#111" stroke-width="0.35">2.45%</text>
<rect x="1657.8" y="404.9" width="44.4" height="22.8" rx="3.2" fill="#fff" stroke="#b0b0b0" stroke-width="1"/>
<text x="1659.6" y="422.2" font-size="16.6" textLength="39.8" lengthAdjust="spacingAndGlyphs" fill="#111" stroke="#111" stroke-width="0.35">2.45%</text>
<rect x="1452.8" y="620.2" width="52.5" height="23.6" rx="3.2" fill="#fff" stroke="#b0b0b0" stroke-width="1"/>
<text x="1454.6" y="638.3" font-size="16.6" textLength="47.9" lengthAdjust="spacingAndGlyphs" fill="#111" stroke="#111" stroke-width="0.35">89.67%</text>
<rect x="1640.3" y="620.2" width="44.5" height="23.6" rx="3.2" fill="#fff" stroke="#b0b0b0" stroke-width="1"/>
<text x="1642.1" y="638.3" font-size="16.6" textLength="39.9" lengthAdjust="spacingAndGlyphs" fill="#111" stroke="#111" stroke-width="0.35">5.42%</text>
<clipPath id="d0"><rect x="27.8" y="842.3" width="211.3" height="28.3"/></clipPath>
<rect x="27.8" y="842.3" width="211.3" height="28.3" fill="#b4b4b4"/>
<g clip-path="url(#d0)"><g filter="url(#bl2)">
<rect x="30.8" y="856" width="19.9" height="2.2" rx="1.1" fill="#1c1c1c" opacity="0.25"/>
<rect x="57" y="854.9" width="20.4" height="4.4" rx="2.2" fill="#1c1c1c" opacity="0.92"/>
<rect x="82.7" y="855.2" width="21.3" height="3.8" rx="1.9" fill="#1c1c1c" opacity="0.85"/>
<rect x="109.4" y="855.3" width="20.8" height="3.6" rx="1.8" fill="#1c1c1c" opacity="0.8"/>
<rect x="136.1" y="855.5" width="19.7" height="3.2" rx="1.6" fill="#1c1c1c" opacity="0.68"/>
<rect x="162.1" y="855.1" width="20.4" height="4" rx="2" fill="#1c1c1c" opacity="0.88"/>
<rect x="188.8" y="855.8" width="19" height="2.6" rx="1.3" fill="#1c1c1c" opacity="0.38"/>
<rect x="215.6" y="856" width="19.3" height="2.2" rx="1.1" fill="#1c1c1c" opacity="0.13"/>
</g></g>
<text x="242.7" y="861.2" font-size="9.7" font-weight="bold">Cleaved-Casapase3</text>
<clipPath id="d1"><rect x="27.8" y="880" width="211.3" height="28.2"/></clipPath>
<rect x="27.8" y="880" width="211.3" height="28.2" fill="#b4b4b4"/>
<g clip-path="url(#d1)"><g filter="url(#bl)">
<rect x="29.9" y="891.2" width="20.8" height="6" rx="3" fill="#1c1c1c" opacity="0.97"/>
<rect x="56.1" y="891.2" width="21.7" height="6" rx="3" fill="#1c1c1c" opacity="0.97"/>
<rect x="82.7" y="891.2" width="21.3" height="6" rx="3" fill="#1c1c1c" opacity="0.97"/>
<rect x="108.8" y="891.2" width="21.7" height="6" rx="3" fill="#1c1c1c" opacity="0.97"/>
<rect x="135.6" y="891.2" width="21.1" height="6" rx="3" fill="#1c1c1c" opacity="0.97"/>
<rect x="162.1" y="891.2" width="20.8" height="6" rx="3" fill="#1c1c1c" opacity="0.97"/>
<rect x="188.3" y="890.4" width="21.3" height="6" rx="3" fill="#1c1c1c" opacity="0.97"/>
<rect x="215.6" y="890.4" width="20.6" height="6" rx="3" fill="#1c1c1c" opacity="0.97"/>
</g></g>
<text x="242.7" y="896.7" font-size="9.7" font-weight="bold">Caspase3</text>
<clipPath id="d2"><rect x="27.8" y="917.2" width="211.3" height="28.4"/></clipPath>
<rect x="27.8" y="917.2" width="211.3" height="28.4" fill="#b4b4b4"/>
<g clip-path="url(#d2)"><g filter="url(#bl)">
<rect x="29.4" y="928.4" width="24.5" height="5.8" rx="2.9" fill="#1c1c1c" opacity="0.97"/>
<rect x="55.1" y="928.4" width="25.9" height="5.8" rx="2.9" fill="#1c1c1c" opacity="0.97"/>
<rect x="82.2" y="928.4" width="24.1" height="5.8" rx="2.9" fill="#1c1c1c" opacity="0.97"/>
<rect x="107.6" y="928.4" width="25.7" height="5.8" rx="2.9" fill="#1c1c1c" opacity="0.97"/>
<rect x="134.5" y="928.4" width="25" height="5.8" rx="2.9" fill="#1c1c1c" opacity="0.97"/>
<rect x="160.4" y="928.4" width="24.8" height="5.8" rx="2.9" fill="#1c1c1c" opacity="0.97"/>
<rect x="186" y="927.6" width="25" height="5.8" rx="2.9" fill="#1c1c1c" opacity="0.97"/>
<rect x="212.7" y="927.6" width="23.6" height="5.8" rx="2.9" fill="#1c1c1c" opacity="0.97"/>
</g></g>
<text x="242.7" y="934.5" font-size="9.7" font-weight="bold">GAPDH</text>
<text x="40.8" y="838.5" font-size="9.55" font-weight="bold" transform="rotate(-45 40.8 838.5)">Control</text>
<text x="63.8" y="838.5" font-size="9.55" font-weight="bold" transform="rotate(-45 63.8 838.5)">LPS</text>
<text x="90.3" y="838.5" font-size="9.55" font-weight="bold" transform="rotate(-45 90.3 838.5)">LPS+Tomatidine-1</text>
<text x="117.8" y="838.5" font-size="9.55" font-weight="bold" transform="rotate(-45 117.8 838.5)">LPS+Tomatidine-3</text>
<text x="146.3" y="838.5" font-size="9.55" font-weight="bold" transform="rotate(-45 146.3 838.5)">LPS+Tomatidine-10</text>
<text x="169.4" y="838.5" font-size="9.55" font-weight="bold" transform="rotate(-45 169.4 838.5)">LPS+Tomatidine+PMA</text>
<text x="194.5" y="838.5" font-size="9.55" font-weight="bold" transform="rotate(-45 194.5 838.5)">LPS+CXCL10 inhibitor</text>
<text x="224.7" y="838.5" font-size="9.55" font-weight="bold" transform="rotate(-45 224.7 838.5)">LPS+Tomatidine+CXCL10 inhibitor</text>
<clipPath id="i0"><rect x="680" y="916.9" width="260" height="34.7"/></clipPath>
<rect x="680" y="916.9" width="260" height="34.7" fill="#aaa4a1"/>
<g clip-path="url(#i0)"><g filter="url(#bl2)">
<rect x="684.4" y="933.9" width="23" height="2.4" rx="1.2" fill="#1c1c1c" opacity="0.3"/>
<rect x="716" y="932" width="24.6" height="6.2" rx="3.1" fill="#1c1c1c" opacity="0.97"/>
<rect x="748.3" y="932.3" width="24.4" height="5.6" rx="2.8" fill="#1c1c1c" opacity="0.95"/>
<rect x="780.9" y="933.2" width="23.8" height="3.8" rx="1.9" fill="#1c1c1c" opacity="0.85"/>
<rect x="813.9" y="933.5" width="23" height="3.2" rx="1.6" fill="#1c1c1c" opacity="0.68"/>
<rect x="845.6" y="932" width="24" height="6.2" rx="3.1" fill="#1c1c1c" opacity="0.97"/>
<rect x="878.2" y="933.7" width="22.1" height="2.8" rx="1.4" fill="#1c1c1c" opacity="0.45"/>
<rect x="910.8" y="934" width="22.1" height="2.2" rx="1.1" fill="#1c1c1c" opacity="0.2"/>
</g></g>
<text x="943.6" y="940.5" font-size="13.3" font-weight="bold">p-p65</text>
<clipPath id="i1"><rect x="680" y="963.1" width="260" height="35.3"/></clipPath>
<rect x="680" y="963.1" width="260" height="35.3" fill="#aaa4a1"/>
<g clip-path="url(#i1)"><g filter="url(#bl)">
<rect x="683.6" y="976.5" width="27" height="7.4" rx="3.7" fill="#1c1c1c" opacity="0.97"/>
<rect x="716.3" y="976.5" width="27" height="7.4" rx="3.7" fill="#1c1c1c" opacity="0.97"/>
<rect x="748.3" y="976.5" width="27" height="7.4" rx="3.7" fill="#1c1c1c" opacity="0.97"/>
<rect x="780.9" y="976.5" width="26.2" height="7.4" rx="3.7" fill="#1c1c1c" opacity="0.97"/>
<rect x="812.6" y="976.5" width="27.2" height="7.4" rx="3.7" fill="#1c1c1c" opacity="0.97"/>
<rect x="844.8" y="976.5" width="27" height="7.4" rx="3.7" fill="#1c1c1c" opacity="0.97"/>
<rect x="877.4" y="976.5" width="26.4" height="7.4" rx="3.7" fill="#1c1c1c" opacity="0.97"/>
<rect x="910" y="975.7" width="26.4" height="7.4" rx="3.7" fill="#1c1c1c" opacity="0.97"/>
</g></g>
<text x="943.6" y="985.1" font-size="13.3" font-weight="bold">p65</text>
<clipPath id="i2"><rect x="680" y="1009.6" width="260" height="34.5"/></clipPath>
<rect x="680" y="1009.6" width="260" height="34.5" fill="#aaa4a1"/>
<g clip-path="url(#i2)"><g filter="url(#bl)">
<rect x="682.8" y="1022.7" width="30.1" height="8.2" rx="4.1" fill="#1c1c1c" opacity="0.97"/>
<rect x="715.4" y="1022.7" width="29.5" height="8.2" rx="4.1" fill="#1c1c1c" opacity="0.97"/>
<rect x="747.4" y="1022.7" width="29.3" height="8.2" rx="4.1" fill="#1c1c1c" opacity="0.97"/>
<rect x="779.3" y="1022.7" width="28.9" height="8.2" rx="4.1" fill="#1c1c1c" opacity="0.97"/>
<rect x="811.9" y="1022.7" width="28.2" height="8.2" rx="4.1" fill="#1c1c1c" opacity="0.97"/>
<rect x="843.4" y="1022.7" width="29.3" height="8.2" rx="4.1" fill="#1c1c1c" opacity="0.97"/>
<rect x="875.2" y="1022.7" width="29.5" height="8.2" rx="4.1" fill="#1c1c1c" opacity="0.97"/>
<rect x="908.2" y="1022.7" width="28.6" height="8.2" rx="4.1" fill="#1c1c1c" opacity="0.97"/>
</g></g>
<text x="946.4" y="1033.1" font-size="13.3" font-weight="bold">GAPDH</text>
<clipPath id="j0"><rect x="680" y="1068.4" width="257.6" height="35.5"/></clipPath>
<rect x="680" y="1068.4" width="257.6" height="35.5" fill="#aaa4a1"/>
<g clip-path="url(#j0)"><g filter="url(#bl2)">
<rect x="683.4" y="1085.5" width="22.1" height="2.4" rx="1.2" fill="#1c1c1c" opacity="0.25"/>
<rect x="716.4" y="1083.8" width="22.6" height="5.8" rx="2.9" fill="#1c1c1c" opacity="0.95"/>
<rect x="747.7" y="1084.5" width="23.6" height="4.4" rx="2.2" fill="#1c1c1c" opacity="0.85"/>
<rect x="779.7" y="1085" width="23" height="3.4" rx="1.7" fill="#1c1c1c" opacity="0.65"/>
<rect x="813.5" y="1085" width="21.9" height="3.4" rx="1.7" fill="#1c1c1c" opacity="0.6"/>
<rect x="843.6" y="1084.4" width="24" height="4.6" rx="2.3" fill="#1c1c1c" opacity="0.85"/>
<rect x="876.8" y="1085.3" width="21.5" height="2.8" rx="1.4" fill="#1c1c1c" opacity="0.38"/>
<rect x="909.8" y="1085.6" width="21.1" height="2.2" rx="1.1" fill="#1c1c1c" opacity="0.15"/>
</g></g>
<text x="944.7" y="1091.9" font-size="13.3" font-weight="bold">CXCL10</text>
<clipPath id="j1"><rect x="680" y="1114.9" width="257.6" height="34.7"/></clipPath>
<rect x="680" y="1114.9" width="257.6" height="34.7" fill="#aaa4a1"/>
<g clip-path="url(#j1)"><g filter="url(#bl)">
<rect x="682.8" y="1127.4" width="30.1" height="8" rx="4" fill="#1c1c1c" opacity="0.97"/>
<rect x="715.4" y="1127.4" width="29.5" height="8" rx="4" fill="#1c1c1c" opacity="0.97"/>
<rect x="747.4" y="1127.4" width="29.3" height="8" rx="4" fill="#1c1c1c" opacity="0.97"/>
<rect x="779.3" y="1127.4" width="28.9" height="8" rx="4" fill="#1c1c1c" opacity="0.97"/>
<rect x="811.3" y="1127.4" width="28.2" height="8" rx="4" fill="#1c1c1c" opacity="0.97"/>
<rect x="842.6" y="1127.4" width="28.6" height="8" rx="4" fill="#1c1c1c" opacity="0.97"/>
<rect x="874.1" y="1127.4" width="28.8" height="8" rx="4" fill="#1c1c1c" opacity="0.97"/>
<rect x="905.9" y="1126.6" width="27.6" height="8" rx="4" fill="#1c1c1c" opacity="0.97"/>
</g></g>
<text x="944.7" y="1138.5" font-size="13.3" font-weight="bold">GAPDH</text>
<text x="694.7" y="912.3" font-size="12.1" font-weight="bold" transform="rotate(-45 694.7 912.3)">Control</text>
<text x="724.2" y="912.3" font-size="12.1" font-weight="bold" transform="rotate(-45 724.2 912.3)">LPS</text>
<text x="757.2" y="912.3" font-size="12.1" font-weight="bold" transform="rotate(-45 757.2 912.3)">LPS+Tomatidine-1</text>
<text x="789.8" y="912.3" font-size="12.1" font-weight="bold" transform="rotate(-45 789.8 912.3)">LPS+Tomatidine-3</text>
<text x="823.2" y="912.3" font-size="12.1" font-weight="bold" transform="rotate(-45 823.2 912.3)">LPS+Tomatidine-10</text>
<text x="853.7" y="912.3" font-size="12.1" font-weight="bold" transform="rotate(-45 853.7 912.3)">LPS+Tomatidine+PMA</text>
<text x="882.5" y="912.3" font-size="12.1" font-weight="bold" transform="rotate(-45 882.5 912.3)">LPS+CXCL10 inhibitor</text>
<text x="917.6" y="912.3" font-size="12.1" font-weight="bold" transform="rotate(-45 917.6 912.3)">LPS+Tomatidine+CXCL10 inhibitor</text>
</svg></body></html>
